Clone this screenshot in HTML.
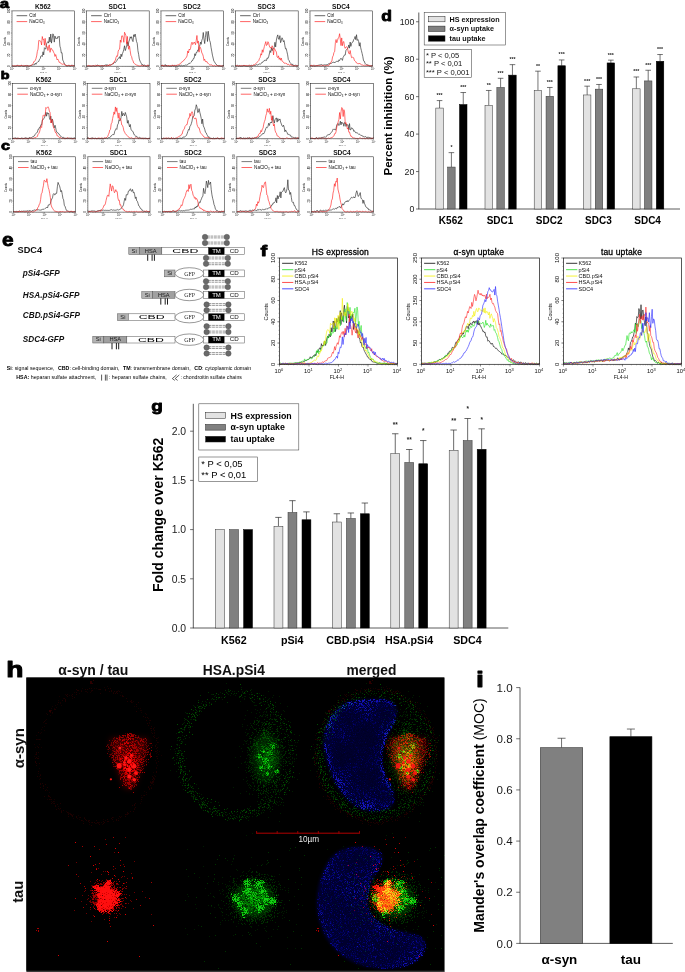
<!DOCTYPE html>
<html lang="en"><head><meta charset="utf-8"><title>Figure</title>
<style>html,body{margin:0;padding:0;background:#fff}svg{display:block;font-family:"Liberation Sans",sans-serif}</style></head><body>
<svg width="685" height="972" viewBox="0 0 685 972">
<rect x="0" y="0" width="685" height="972" fill="#fff"/>
<g id="abc">
<polyline points="12,65.95 12.7,66.04 13.41,66.09 14.11,65.99 14.82,66.08 15.52,66.11 16.23,65.77 16.93,65.95 17.64,65.33 18.34,65.97 19.04,66.18 19.75,65.88 20.45,66 21.16,65.34 21.86,65.6 22.57,65.83 23.27,66.14 23.98,66.07 24.68,65.71 25.39,65.57 26.09,66.05 26.79,65.41 27.5,65.49 28.2,65.97 28.91,65.67 29.61,65.98 30.32,65.59 31.02,65.37 31.73,65.5 32.43,64.95 33.13,65.06 33.84,64.61 34.54,64.77 35.25,63.24 35.95,64.32 36.66,62.78 37.36,62.39 38.07,61.59 38.77,61.44 39.48,59.41 40.18,58.73 40.88,56.02 41.59,55.68 42.29,56.54 43,51.81 43.7,54.97 44.41,47.72 45.11,48.44 45.82,49.14 46.52,43.86 47.22,42.65 47.93,41.59 48.63,43.1 49.34,37.13 50.04,41.96 50.75,34.06 51.45,43.14 52.16,38.88 52.86,33.82 53.57,34.85 54.27,42.13 54.97,36.04 55.68,38.42 56.38,38.12 57.09,38.84 57.79,36.66 58.5,37.14 59.2,36.19 59.91,46.16 60.61,48.46 61.31,53.01 62.02,52.71 62.72,60.04 63.43,61.28 64.13,63.19 64.84,64.24 65.54,64.86 66.25,65.72 66.95,65.95 67.66,65.89 68.36,65.57 69.06,65.71 69.77,65.45 70.47,66.02 71.18,65.89 71.88,64.86 72.59,65.48 73.29,65.46 74,65.61 74.7,66.1" fill="none" stroke="#2a2a2a" stroke-width="0.65" stroke-linejoin="round" /><polyline points="12,66.13 12.7,65.44 13.41,66.05 14.11,65.63 14.82,66.07 15.52,65.85 16.23,65.88 16.93,65.45 17.64,65.72 18.34,65.47 19.04,65.83 19.75,65.73 20.45,65.63 21.16,65.41 21.86,65.42 22.57,66.11 23.27,65.5 23.98,65.9 24.68,65.99 25.39,65.69 26.09,65.45 26.79,66.1 27.5,65.68 28.2,66.1 28.91,65.98 29.61,65.91 30.32,65.59 31.02,65.42 31.73,65 32.43,64.21 33.13,63.59 33.84,61.59 34.54,61.37 35.25,60.41 35.95,58.61 36.66,55.9 37.36,51.37 38.07,49.1 38.77,40.45 39.48,40.65 40.18,40.99 40.88,41.51 41.59,44.98 42.29,36.53 43,39.77 43.7,39.35 44.41,45.28 45.11,38.33 45.82,44.24 46.52,47.01 47.22,46.64 47.93,50.54 48.63,46.22 49.34,44.87 50.04,52.33 50.75,48.22 51.45,48.4 52.16,50.16 52.86,50.25 53.57,52.26 54.27,53.32 54.97,56.44 55.68,54.52 56.38,56.85 57.09,59.88 57.79,59.02 58.5,60.44 59.2,62.4 59.91,62.13 60.61,63.17 61.31,63.9 62.02,63.97 62.72,64.35 63.43,63.96 64.13,63.83 64.84,65.12 65.54,65.26 66.25,65.48 66.95,65.42 67.66,65.58 68.36,65.07 69.06,65.75 69.77,66 70.47,65.64 71.18,65.62 71.88,65.5 72.59,65.68 73.29,65.77 74,66.06 74.7,65.82" fill="none" stroke="#f22" stroke-width="0.65" stroke-linejoin="round" /><rect x="12" y="10.9" width="62.7" height="55.3" fill="none" stroke="#222" stroke-width="0.55"/><line x1="10.8" y1="66.2" x2="12" y2="66.2" stroke="#333" stroke-width="0.35" /><text x="10.3" y="66.2" font-size="2.7" text-anchor="middle" fill="#000" transform="rotate(-90 10.3 66.2)">0</text><line x1="10.8" y1="55.14" x2="12" y2="55.14" stroke="#333" stroke-width="0.35" /><text x="10.3" y="55.14" font-size="2.7" text-anchor="middle" fill="#000" transform="rotate(-90 10.3 55.14)">20</text><line x1="10.8" y1="44.08" x2="12" y2="44.08" stroke="#333" stroke-width="0.35" /><text x="10.3" y="44.08" font-size="2.7" text-anchor="middle" fill="#000" transform="rotate(-90 10.3 44.08)">40</text><line x1="10.8" y1="33.02" x2="12" y2="33.02" stroke="#333" stroke-width="0.35" /><text x="10.3" y="33.02" font-size="2.7" text-anchor="middle" fill="#000" transform="rotate(-90 10.3 33.02)">60</text><line x1="10.8" y1="21.96" x2="12" y2="21.96" stroke="#333" stroke-width="0.35" /><text x="10.3" y="21.96" font-size="2.7" text-anchor="middle" fill="#000" transform="rotate(-90 10.3 21.96)">80</text><line x1="10.8" y1="10.9" x2="12" y2="10.9" stroke="#333" stroke-width="0.35" /><text x="10.3" y="10.9" font-size="2.7" text-anchor="middle" fill="#000" transform="rotate(-90 10.3 10.9)">100</text><line x1="11.4" y1="63.99" x2="12" y2="63.99" stroke="#555" stroke-width="0.25" /><line x1="11.4" y1="61.78" x2="12" y2="61.78" stroke="#555" stroke-width="0.25" /><line x1="11.4" y1="59.56" x2="12" y2="59.56" stroke="#555" stroke-width="0.25" /><line x1="11.4" y1="57.35" x2="12" y2="57.35" stroke="#555" stroke-width="0.25" /><line x1="11.4" y1="55.14" x2="12" y2="55.14" stroke="#555" stroke-width="0.25" /><line x1="11.4" y1="52.93" x2="12" y2="52.93" stroke="#555" stroke-width="0.25" /><line x1="11.4" y1="50.72" x2="12" y2="50.72" stroke="#555" stroke-width="0.25" /><line x1="11.4" y1="48.5" x2="12" y2="48.5" stroke="#555" stroke-width="0.25" /><line x1="11.4" y1="46.29" x2="12" y2="46.29" stroke="#555" stroke-width="0.25" /><line x1="11.4" y1="44.08" x2="12" y2="44.08" stroke="#555" stroke-width="0.25" /><line x1="11.4" y1="41.87" x2="12" y2="41.87" stroke="#555" stroke-width="0.25" /><line x1="11.4" y1="39.66" x2="12" y2="39.66" stroke="#555" stroke-width="0.25" /><line x1="11.4" y1="37.44" x2="12" y2="37.44" stroke="#555" stroke-width="0.25" /><line x1="11.4" y1="35.23" x2="12" y2="35.23" stroke="#555" stroke-width="0.25" /><line x1="11.4" y1="33.02" x2="12" y2="33.02" stroke="#555" stroke-width="0.25" /><line x1="11.4" y1="30.81" x2="12" y2="30.81" stroke="#555" stroke-width="0.25" /><line x1="11.4" y1="28.6" x2="12" y2="28.6" stroke="#555" stroke-width="0.25" /><line x1="11.4" y1="26.38" x2="12" y2="26.38" stroke="#555" stroke-width="0.25" /><line x1="11.4" y1="24.17" x2="12" y2="24.17" stroke="#555" stroke-width="0.25" /><line x1="11.4" y1="21.96" x2="12" y2="21.96" stroke="#555" stroke-width="0.25" /><line x1="11.4" y1="19.75" x2="12" y2="19.75" stroke="#555" stroke-width="0.25" /><line x1="11.4" y1="17.54" x2="12" y2="17.54" stroke="#555" stroke-width="0.25" /><line x1="11.4" y1="15.32" x2="12" y2="15.32" stroke="#555" stroke-width="0.25" /><line x1="11.4" y1="13.11" x2="12" y2="13.11" stroke="#555" stroke-width="0.25" /><line x1="12" y1="66.2" x2="12" y2="67.4" stroke="#333" stroke-width="0.35" /><text x="12" y="70.2" font-size="2.7" text-anchor="middle" fill="#222">10<tspan font-size="1.6" dy="-1">0</tspan></text><line x1="16.72" y1="66.2" x2="16.72" y2="66.8" stroke="#555" stroke-width="0.25" /><line x1="19.48" y1="66.2" x2="19.48" y2="66.8" stroke="#555" stroke-width="0.25" /><line x1="21.44" y1="66.2" x2="21.44" y2="66.8" stroke="#555" stroke-width="0.25" /><line x1="22.96" y1="66.2" x2="22.96" y2="66.8" stroke="#555" stroke-width="0.25" /><line x1="24.2" y1="66.2" x2="24.2" y2="66.8" stroke="#555" stroke-width="0.25" /><line x1="25.25" y1="66.2" x2="25.25" y2="66.8" stroke="#555" stroke-width="0.25" /><line x1="26.16" y1="66.2" x2="26.16" y2="66.8" stroke="#555" stroke-width="0.25" /><line x1="26.96" y1="66.2" x2="26.96" y2="66.8" stroke="#555" stroke-width="0.25" /><line x1="27.68" y1="66.2" x2="27.68" y2="67.4" stroke="#333" stroke-width="0.35" /><text x="27.68" y="70.2" font-size="2.7" text-anchor="middle" fill="#222">10<tspan font-size="1.6" dy="-1">1</tspan></text><line x1="32.39" y1="66.2" x2="32.39" y2="66.8" stroke="#555" stroke-width="0.25" /><line x1="35.15" y1="66.2" x2="35.15" y2="66.8" stroke="#555" stroke-width="0.25" /><line x1="37.11" y1="66.2" x2="37.11" y2="66.8" stroke="#555" stroke-width="0.25" /><line x1="38.63" y1="66.2" x2="38.63" y2="66.8" stroke="#555" stroke-width="0.25" /><line x1="39.87" y1="66.2" x2="39.87" y2="66.8" stroke="#555" stroke-width="0.25" /><line x1="40.92" y1="66.2" x2="40.92" y2="66.8" stroke="#555" stroke-width="0.25" /><line x1="41.83" y1="66.2" x2="41.83" y2="66.8" stroke="#555" stroke-width="0.25" /><line x1="42.63" y1="66.2" x2="42.63" y2="66.8" stroke="#555" stroke-width="0.25" /><line x1="43.35" y1="66.2" x2="43.35" y2="67.4" stroke="#333" stroke-width="0.35" /><text x="43.35" y="70.2" font-size="2.7" text-anchor="middle" fill="#222">10<tspan font-size="1.6" dy="-1">2</tspan></text><line x1="48.07" y1="66.2" x2="48.07" y2="66.8" stroke="#555" stroke-width="0.25" /><line x1="50.83" y1="66.2" x2="50.83" y2="66.8" stroke="#555" stroke-width="0.25" /><line x1="52.79" y1="66.2" x2="52.79" y2="66.8" stroke="#555" stroke-width="0.25" /><line x1="54.31" y1="66.2" x2="54.31" y2="66.8" stroke="#555" stroke-width="0.25" /><line x1="55.55" y1="66.2" x2="55.55" y2="66.8" stroke="#555" stroke-width="0.25" /><line x1="56.6" y1="66.2" x2="56.6" y2="66.8" stroke="#555" stroke-width="0.25" /><line x1="57.51" y1="66.2" x2="57.51" y2="66.8" stroke="#555" stroke-width="0.25" /><line x1="58.31" y1="66.2" x2="58.31" y2="66.8" stroke="#555" stroke-width="0.25" /><line x1="59.03" y1="66.2" x2="59.03" y2="67.4" stroke="#333" stroke-width="0.35" /><text x="59.03" y="70.2" font-size="2.7" text-anchor="middle" fill="#222">10<tspan font-size="1.6" dy="-1">3</tspan></text><line x1="63.74" y1="66.2" x2="63.74" y2="66.8" stroke="#555" stroke-width="0.25" /><line x1="66.5" y1="66.2" x2="66.5" y2="66.8" stroke="#555" stroke-width="0.25" /><line x1="68.46" y1="66.2" x2="68.46" y2="66.8" stroke="#555" stroke-width="0.25" /><line x1="69.98" y1="66.2" x2="69.98" y2="66.8" stroke="#555" stroke-width="0.25" /><line x1="71.22" y1="66.2" x2="71.22" y2="66.8" stroke="#555" stroke-width="0.25" /><line x1="72.27" y1="66.2" x2="72.27" y2="66.8" stroke="#555" stroke-width="0.25" /><line x1="73.18" y1="66.2" x2="73.18" y2="66.8" stroke="#555" stroke-width="0.25" /><line x1="73.98" y1="66.2" x2="73.98" y2="66.8" stroke="#555" stroke-width="0.25" /><line x1="74.7" y1="66.2" x2="74.7" y2="67.4" stroke="#333" stroke-width="0.35" /><text x="74.7" y="70.2" font-size="2.7" text-anchor="middle" fill="#222">10<tspan font-size="1.6" dy="-1">4</tspan></text><text x="43.35" y="73.2" font-size="2.4" text-anchor="middle" fill="#222">FL1-H</text><text x="6" y="41.55" font-size="2.8" text-anchor="middle" fill="#000" transform="rotate(-90 6 41.55)">Counts</text><text x="42.85" y="9" font-size="6.6" font-weight="bold" text-anchor="middle" fill="#111">K562</text><line x1="16.6" y1="15.7" x2="27.2" y2="15.7" stroke="#222" stroke-width="0.7" /><line x1="16.6" y1="21.6" x2="27.2" y2="21.6" stroke="#f22" stroke-width="0.7" /><text x="29.2" y="17.3" font-size="4.6" fill="#111">Ctrl</text><text x="29.2" y="23.2" font-size="4.6" fill="#111">NaClO<tspan font-size="2.8" dy="1">3</tspan></text>
<polyline points="86.5,65.94 87.2,66.14 87.91,66.01 88.61,66.1 89.32,65.81 90.02,65.79 90.73,66.2 91.43,66.12 92.14,66.11 92.84,65.57 93.54,65.67 94.25,66.1 94.95,65.72 95.66,66.17 96.36,65.83 97.07,64.88 97.77,65.4 98.48,65.5 99.18,65.92 99.89,66.08 100.59,65.8 101.29,65.85 102,65.63 102.7,65.56 103.41,65.72 104.11,65.52 104.82,65.54 105.52,64.7 106.23,65.74 106.93,64.52 107.63,65.31 108.34,65.54 109.04,65.49 109.75,64.72 110.45,65.01 111.16,64.5 111.86,64.57 112.57,64.04 113.27,63.94 113.98,62.84 114.68,62.26 115.38,62.59 116.09,61.66 116.79,60.74 117.5,59.09 118.2,58.48 118.91,58.14 119.61,56.67 120.32,58.97 121.02,54.1 121.72,56.61 122.43,53.63 123.13,51.89 123.84,49.21 124.54,45.77 125.25,50.61 125.95,48.58 126.66,45.46 127.36,41.82 128.07,46.12 128.77,41.84 129.47,40.08 130.18,36.77 130.88,38.25 131.59,36.73 132.29,40.27 133,41.62 133.7,34.76 134.41,36.57 135.11,34.02 135.81,37.47 136.52,41.46 137.22,43.31 137.93,50.63 138.63,54.4 139.34,58.99 140.04,61.12 140.75,62.54 141.45,63.66 142.16,65.01 142.86,64.45 143.56,65.86 144.27,64.92 144.97,65.52 145.68,65.71 146.38,66.12 147.09,65.66 147.79,65.69 148.5,65.14 149.2,66.19" fill="none" stroke="#2a2a2a" stroke-width="0.65" stroke-linejoin="round" /><polyline points="86.5,66.19 87.2,66.07 87.91,65.85 88.61,65.33 89.32,66.19 90.02,65.99 90.73,65.85 91.43,65.96 92.14,65.84 92.84,66.19 93.54,65.8 94.25,66.05 94.95,65.64 95.66,65.06 96.36,65.81 97.07,66.18 97.77,65.31 98.48,65.59 99.18,65.39 99.89,65.97 100.59,66.04 101.29,65.66 102,65.48 102.7,66.04 103.41,66.07 104.11,66.11 104.82,65.39 105.52,66.09 106.23,65.78 106.93,65.93 107.63,65.76 108.34,64.88 109.04,65.84 109.75,64.51 110.45,65.35 111.16,64.82 111.86,64.46 112.57,63.61 113.27,63.49 113.98,61.81 114.68,61.5 115.38,60 116.09,57.35 116.79,55.74 117.5,56.35 118.2,51.12 118.91,49.64 119.61,49.09 120.32,40.07 121.02,42.33 121.72,35.92 122.43,35.76 123.13,37.73 123.84,42.32 124.54,32.27 125.25,33.82 125.95,35.71 126.66,43.81 127.36,36.42 128.07,45.84 128.77,49.29 129.47,45.87 130.18,50.79 130.88,55.33 131.59,56.5 132.29,59.63 133,60.79 133.7,62.96 134.41,63.49 135.11,64.34 135.81,64.49 136.52,65.06 137.22,65.24 137.93,65.5 138.63,65.77 139.34,65.98 140.04,66.14 140.75,65.98 141.45,65.2 142.16,66.06 142.86,65.75 143.56,65.9 144.27,65.42 144.97,66.19 145.68,66.12 146.38,65.87 147.09,65.37 147.79,65.02 148.5,66.19 149.2,65.69" fill="none" stroke="#f22" stroke-width="0.65" stroke-linejoin="round" /><rect x="86.5" y="10.9" width="62.7" height="55.3" fill="none" stroke="#222" stroke-width="0.55"/><line x1="85.3" y1="66.2" x2="86.5" y2="66.2" stroke="#333" stroke-width="0.35" /><text x="84.8" y="66.2" font-size="2.7" text-anchor="middle" fill="#000" transform="rotate(-90 84.8 66.2)">0</text><line x1="85.3" y1="55.14" x2="86.5" y2="55.14" stroke="#333" stroke-width="0.35" /><text x="84.8" y="55.14" font-size="2.7" text-anchor="middle" fill="#000" transform="rotate(-90 84.8 55.14)">20</text><line x1="85.3" y1="44.08" x2="86.5" y2="44.08" stroke="#333" stroke-width="0.35" /><text x="84.8" y="44.08" font-size="2.7" text-anchor="middle" fill="#000" transform="rotate(-90 84.8 44.08)">40</text><line x1="85.3" y1="33.02" x2="86.5" y2="33.02" stroke="#333" stroke-width="0.35" /><text x="84.8" y="33.02" font-size="2.7" text-anchor="middle" fill="#000" transform="rotate(-90 84.8 33.02)">60</text><line x1="85.3" y1="21.96" x2="86.5" y2="21.96" stroke="#333" stroke-width="0.35" /><text x="84.8" y="21.96" font-size="2.7" text-anchor="middle" fill="#000" transform="rotate(-90 84.8 21.96)">80</text><line x1="85.3" y1="10.9" x2="86.5" y2="10.9" stroke="#333" stroke-width="0.35" /><text x="84.8" y="10.9" font-size="2.7" text-anchor="middle" fill="#000" transform="rotate(-90 84.8 10.9)">100</text><line x1="85.9" y1="63.99" x2="86.5" y2="63.99" stroke="#555" stroke-width="0.25" /><line x1="85.9" y1="61.78" x2="86.5" y2="61.78" stroke="#555" stroke-width="0.25" /><line x1="85.9" y1="59.56" x2="86.5" y2="59.56" stroke="#555" stroke-width="0.25" /><line x1="85.9" y1="57.35" x2="86.5" y2="57.35" stroke="#555" stroke-width="0.25" /><line x1="85.9" y1="55.14" x2="86.5" y2="55.14" stroke="#555" stroke-width="0.25" /><line x1="85.9" y1="52.93" x2="86.5" y2="52.93" stroke="#555" stroke-width="0.25" /><line x1="85.9" y1="50.72" x2="86.5" y2="50.72" stroke="#555" stroke-width="0.25" /><line x1="85.9" y1="48.5" x2="86.5" y2="48.5" stroke="#555" stroke-width="0.25" /><line x1="85.9" y1="46.29" x2="86.5" y2="46.29" stroke="#555" stroke-width="0.25" /><line x1="85.9" y1="44.08" x2="86.5" y2="44.08" stroke="#555" stroke-width="0.25" /><line x1="85.9" y1="41.87" x2="86.5" y2="41.87" stroke="#555" stroke-width="0.25" /><line x1="85.9" y1="39.66" x2="86.5" y2="39.66" stroke="#555" stroke-width="0.25" /><line x1="85.9" y1="37.44" x2="86.5" y2="37.44" stroke="#555" stroke-width="0.25" /><line x1="85.9" y1="35.23" x2="86.5" y2="35.23" stroke="#555" stroke-width="0.25" /><line x1="85.9" y1="33.02" x2="86.5" y2="33.02" stroke="#555" stroke-width="0.25" /><line x1="85.9" y1="30.81" x2="86.5" y2="30.81" stroke="#555" stroke-width="0.25" /><line x1="85.9" y1="28.6" x2="86.5" y2="28.6" stroke="#555" stroke-width="0.25" /><line x1="85.9" y1="26.38" x2="86.5" y2="26.38" stroke="#555" stroke-width="0.25" /><line x1="85.9" y1="24.17" x2="86.5" y2="24.17" stroke="#555" stroke-width="0.25" /><line x1="85.9" y1="21.96" x2="86.5" y2="21.96" stroke="#555" stroke-width="0.25" /><line x1="85.9" y1="19.75" x2="86.5" y2="19.75" stroke="#555" stroke-width="0.25" /><line x1="85.9" y1="17.54" x2="86.5" y2="17.54" stroke="#555" stroke-width="0.25" /><line x1="85.9" y1="15.32" x2="86.5" y2="15.32" stroke="#555" stroke-width="0.25" /><line x1="85.9" y1="13.11" x2="86.5" y2="13.11" stroke="#555" stroke-width="0.25" /><line x1="86.5" y1="66.2" x2="86.5" y2="67.4" stroke="#333" stroke-width="0.35" /><text x="86.5" y="70.2" font-size="2.7" text-anchor="middle" fill="#222">10<tspan font-size="1.6" dy="-1">0</tspan></text><line x1="91.22" y1="66.2" x2="91.22" y2="66.8" stroke="#555" stroke-width="0.25" /><line x1="93.98" y1="66.2" x2="93.98" y2="66.8" stroke="#555" stroke-width="0.25" /><line x1="95.94" y1="66.2" x2="95.94" y2="66.8" stroke="#555" stroke-width="0.25" /><line x1="97.46" y1="66.2" x2="97.46" y2="66.8" stroke="#555" stroke-width="0.25" /><line x1="98.7" y1="66.2" x2="98.7" y2="66.8" stroke="#555" stroke-width="0.25" /><line x1="99.75" y1="66.2" x2="99.75" y2="66.8" stroke="#555" stroke-width="0.25" /><line x1="100.66" y1="66.2" x2="100.66" y2="66.8" stroke="#555" stroke-width="0.25" /><line x1="101.46" y1="66.2" x2="101.46" y2="66.8" stroke="#555" stroke-width="0.25" /><line x1="102.17" y1="66.2" x2="102.17" y2="67.4" stroke="#333" stroke-width="0.35" /><text x="102.17" y="70.2" font-size="2.7" text-anchor="middle" fill="#222">10<tspan font-size="1.6" dy="-1">1</tspan></text><line x1="106.89" y1="66.2" x2="106.89" y2="66.8" stroke="#555" stroke-width="0.25" /><line x1="109.65" y1="66.2" x2="109.65" y2="66.8" stroke="#555" stroke-width="0.25" /><line x1="111.61" y1="66.2" x2="111.61" y2="66.8" stroke="#555" stroke-width="0.25" /><line x1="113.13" y1="66.2" x2="113.13" y2="66.8" stroke="#555" stroke-width="0.25" /><line x1="114.37" y1="66.2" x2="114.37" y2="66.8" stroke="#555" stroke-width="0.25" /><line x1="115.42" y1="66.2" x2="115.42" y2="66.8" stroke="#555" stroke-width="0.25" /><line x1="116.33" y1="66.2" x2="116.33" y2="66.8" stroke="#555" stroke-width="0.25" /><line x1="117.13" y1="66.2" x2="117.13" y2="66.8" stroke="#555" stroke-width="0.25" /><line x1="117.85" y1="66.2" x2="117.85" y2="67.4" stroke="#333" stroke-width="0.35" /><text x="117.85" y="70.2" font-size="2.7" text-anchor="middle" fill="#222">10<tspan font-size="1.6" dy="-1">2</tspan></text><line x1="122.57" y1="66.2" x2="122.57" y2="66.8" stroke="#555" stroke-width="0.25" /><line x1="125.33" y1="66.2" x2="125.33" y2="66.8" stroke="#555" stroke-width="0.25" /><line x1="127.29" y1="66.2" x2="127.29" y2="66.8" stroke="#555" stroke-width="0.25" /><line x1="128.81" y1="66.2" x2="128.81" y2="66.8" stroke="#555" stroke-width="0.25" /><line x1="130.05" y1="66.2" x2="130.05" y2="66.8" stroke="#555" stroke-width="0.25" /><line x1="131.1" y1="66.2" x2="131.1" y2="66.8" stroke="#555" stroke-width="0.25" /><line x1="132.01" y1="66.2" x2="132.01" y2="66.8" stroke="#555" stroke-width="0.25" /><line x1="132.81" y1="66.2" x2="132.81" y2="66.8" stroke="#555" stroke-width="0.25" /><line x1="133.53" y1="66.2" x2="133.53" y2="67.4" stroke="#333" stroke-width="0.35" /><text x="133.53" y="70.2" font-size="2.7" text-anchor="middle" fill="#222">10<tspan font-size="1.6" dy="-1">3</tspan></text><line x1="138.24" y1="66.2" x2="138.24" y2="66.8" stroke="#555" stroke-width="0.25" /><line x1="141" y1="66.2" x2="141" y2="66.8" stroke="#555" stroke-width="0.25" /><line x1="142.96" y1="66.2" x2="142.96" y2="66.8" stroke="#555" stroke-width="0.25" /><line x1="144.48" y1="66.2" x2="144.48" y2="66.8" stroke="#555" stroke-width="0.25" /><line x1="145.72" y1="66.2" x2="145.72" y2="66.8" stroke="#555" stroke-width="0.25" /><line x1="146.77" y1="66.2" x2="146.77" y2="66.8" stroke="#555" stroke-width="0.25" /><line x1="147.68" y1="66.2" x2="147.68" y2="66.8" stroke="#555" stroke-width="0.25" /><line x1="148.48" y1="66.2" x2="148.48" y2="66.8" stroke="#555" stroke-width="0.25" /><line x1="149.2" y1="66.2" x2="149.2" y2="67.4" stroke="#333" stroke-width="0.35" /><text x="149.2" y="70.2" font-size="2.7" text-anchor="middle" fill="#222">10<tspan font-size="1.6" dy="-1">4</tspan></text><text x="117.85" y="73.2" font-size="2.4" text-anchor="middle" fill="#222">FL1-H</text><text x="80.5" y="41.55" font-size="2.8" text-anchor="middle" fill="#000" transform="rotate(-90 80.5 41.55)">Counts</text><text x="117.35" y="9" font-size="6.6" font-weight="bold" text-anchor="middle" fill="#111">SDC1</text><line x1="91.1" y1="15.7" x2="101.7" y2="15.7" stroke="#222" stroke-width="0.7" /><line x1="91.1" y1="21.6" x2="101.7" y2="21.6" stroke="#f22" stroke-width="0.7" /><text x="103.7" y="17.3" font-size="4.6" fill="#111">Ctrl</text><text x="103.7" y="23.2" font-size="4.6" fill="#111">NaClO<tspan font-size="2.8" dy="1">3</tspan></text>
<polyline points="161,65.15 161.7,65.8 162.41,64.89 163.11,66.07 163.82,66.02 164.52,65.58 165.23,64.49 165.93,66.01 166.64,65.13 167.34,66.07 168.04,65.78 168.75,65.88 169.45,66.17 170.16,65.74 170.86,66.13 171.57,66.12 172.27,65.47 172.98,65.72 173.68,66.03 174.39,65.4 175.09,65.75 175.79,66.12 176.5,65.71 177.2,66.04 177.91,66.14 178.61,65.98 179.32,65.09 180.02,65.81 180.73,65.93 181.43,65.3 182.13,65.69 182.84,65.94 183.54,65.53 184.25,65.79 184.95,65.15 185.66,65.06 186.36,65.2 187.07,65.04 187.77,64.65 188.48,63.65 189.18,63.16 189.88,63.55 190.59,62.75 191.29,62.1 192,60.44 192.7,60.43 193.41,58.46 194.11,58.37 194.82,53.73 195.52,55.56 196.22,52.47 196.93,52.49 197.63,50.15 198.34,50.81 199.04,46.37 199.75,45.89 200.45,42.09 201.16,44.3 201.86,40.1 202.57,38.35 203.27,32.48 203.97,38.87 204.68,43.59 205.38,37.39 206.09,31.58 206.79,32.33 207.5,41.47 208.2,31.16 208.91,36.15 209.61,40.48 210.31,42.29 211.02,47.27 211.72,51.13 212.43,55.12 213.13,58.03 213.84,61.07 214.54,61.84 215.25,63.27 215.95,63.9 216.66,64.96 217.36,65.49 218.06,65.57 218.77,65.7 219.47,65.49 220.18,66.05 220.88,65.79 221.59,66.02 222.29,65.54 223,65.98 223.7,65.05" fill="none" stroke="#2a2a2a" stroke-width="0.65" stroke-linejoin="round" /><polyline points="161,65.61 161.7,65.8 162.41,64.94 163.11,65.95 163.82,65.87 164.52,66.16 165.23,65.77 165.93,65.63 166.64,66.12 167.34,66.13 168.04,65.35 168.75,65.82 169.45,65.75 170.16,65.85 170.86,66.02 171.57,65.77 172.27,64.88 172.98,65.83 173.68,65.51 174.39,65.97 175.09,65.64 175.79,65.34 176.5,65.37 177.2,65.12 177.91,64.89 178.61,64.66 179.32,64.11 180.02,64.41 180.73,63.31 181.43,62.22 182.13,61.74 182.84,61.52 183.54,60.38 184.25,60.17 184.95,58.86 185.66,58.29 186.36,57.32 187.07,55.88 187.77,50.94 188.48,52.93 189.18,49.03 189.88,49.9 190.59,48.31 191.29,43.81 192,42.17 192.7,44.54 193.41,43.55 194.11,42 194.82,42.94 195.52,44.7 196.22,40.5 196.93,35.49 197.63,43.22 198.34,40.95 199.04,52.18 199.75,46.62 200.45,47.47 201.16,49.83 201.86,53.02 202.57,54.04 203.27,56.3 203.97,60.45 204.68,59.21 205.38,61.51 206.09,61.65 206.79,61.45 207.5,62.99 208.2,63.32 208.91,64.2 209.61,64.86 210.31,64.89 211.02,65.27 211.72,64.74 212.43,65.59 213.13,65.64 213.84,66.02 214.54,65.48 215.25,66.04 215.95,66.01 216.66,65.83 217.36,65.09 218.06,65.82 218.77,66.17 219.47,66.14 220.18,65.85 220.88,66.12 221.59,65.94 222.29,66.11 223,66.19 223.7,65.91" fill="none" stroke="#f22" stroke-width="0.65" stroke-linejoin="round" /><rect x="161" y="10.9" width="62.7" height="55.3" fill="none" stroke="#222" stroke-width="0.55"/><line x1="159.8" y1="66.2" x2="161" y2="66.2" stroke="#333" stroke-width="0.35" /><text x="159.3" y="66.2" font-size="2.7" text-anchor="middle" fill="#000" transform="rotate(-90 159.3 66.2)">0</text><line x1="159.8" y1="55.14" x2="161" y2="55.14" stroke="#333" stroke-width="0.35" /><text x="159.3" y="55.14" font-size="2.7" text-anchor="middle" fill="#000" transform="rotate(-90 159.3 55.14)">20</text><line x1="159.8" y1="44.08" x2="161" y2="44.08" stroke="#333" stroke-width="0.35" /><text x="159.3" y="44.08" font-size="2.7" text-anchor="middle" fill="#000" transform="rotate(-90 159.3 44.08)">40</text><line x1="159.8" y1="33.02" x2="161" y2="33.02" stroke="#333" stroke-width="0.35" /><text x="159.3" y="33.02" font-size="2.7" text-anchor="middle" fill="#000" transform="rotate(-90 159.3 33.02)">60</text><line x1="159.8" y1="21.96" x2="161" y2="21.96" stroke="#333" stroke-width="0.35" /><text x="159.3" y="21.96" font-size="2.7" text-anchor="middle" fill="#000" transform="rotate(-90 159.3 21.96)">80</text><line x1="159.8" y1="10.9" x2="161" y2="10.9" stroke="#333" stroke-width="0.35" /><text x="159.3" y="10.9" font-size="2.7" text-anchor="middle" fill="#000" transform="rotate(-90 159.3 10.9)">100</text><line x1="160.4" y1="63.99" x2="161" y2="63.99" stroke="#555" stroke-width="0.25" /><line x1="160.4" y1="61.78" x2="161" y2="61.78" stroke="#555" stroke-width="0.25" /><line x1="160.4" y1="59.56" x2="161" y2="59.56" stroke="#555" stroke-width="0.25" /><line x1="160.4" y1="57.35" x2="161" y2="57.35" stroke="#555" stroke-width="0.25" /><line x1="160.4" y1="55.14" x2="161" y2="55.14" stroke="#555" stroke-width="0.25" /><line x1="160.4" y1="52.93" x2="161" y2="52.93" stroke="#555" stroke-width="0.25" /><line x1="160.4" y1="50.72" x2="161" y2="50.72" stroke="#555" stroke-width="0.25" /><line x1="160.4" y1="48.5" x2="161" y2="48.5" stroke="#555" stroke-width="0.25" /><line x1="160.4" y1="46.29" x2="161" y2="46.29" stroke="#555" stroke-width="0.25" /><line x1="160.4" y1="44.08" x2="161" y2="44.08" stroke="#555" stroke-width="0.25" /><line x1="160.4" y1="41.87" x2="161" y2="41.87" stroke="#555" stroke-width="0.25" /><line x1="160.4" y1="39.66" x2="161" y2="39.66" stroke="#555" stroke-width="0.25" /><line x1="160.4" y1="37.44" x2="161" y2="37.44" stroke="#555" stroke-width="0.25" /><line x1="160.4" y1="35.23" x2="161" y2="35.23" stroke="#555" stroke-width="0.25" /><line x1="160.4" y1="33.02" x2="161" y2="33.02" stroke="#555" stroke-width="0.25" /><line x1="160.4" y1="30.81" x2="161" y2="30.81" stroke="#555" stroke-width="0.25" /><line x1="160.4" y1="28.6" x2="161" y2="28.6" stroke="#555" stroke-width="0.25" /><line x1="160.4" y1="26.38" x2="161" y2="26.38" stroke="#555" stroke-width="0.25" /><line x1="160.4" y1="24.17" x2="161" y2="24.17" stroke="#555" stroke-width="0.25" /><line x1="160.4" y1="21.96" x2="161" y2="21.96" stroke="#555" stroke-width="0.25" /><line x1="160.4" y1="19.75" x2="161" y2="19.75" stroke="#555" stroke-width="0.25" /><line x1="160.4" y1="17.54" x2="161" y2="17.54" stroke="#555" stroke-width="0.25" /><line x1="160.4" y1="15.32" x2="161" y2="15.32" stroke="#555" stroke-width="0.25" /><line x1="160.4" y1="13.11" x2="161" y2="13.11" stroke="#555" stroke-width="0.25" /><line x1="161" y1="66.2" x2="161" y2="67.4" stroke="#333" stroke-width="0.35" /><text x="161" y="70.2" font-size="2.7" text-anchor="middle" fill="#222">10<tspan font-size="1.6" dy="-1">0</tspan></text><line x1="165.72" y1="66.2" x2="165.72" y2="66.8" stroke="#555" stroke-width="0.25" /><line x1="168.48" y1="66.2" x2="168.48" y2="66.8" stroke="#555" stroke-width="0.25" /><line x1="170.44" y1="66.2" x2="170.44" y2="66.8" stroke="#555" stroke-width="0.25" /><line x1="171.96" y1="66.2" x2="171.96" y2="66.8" stroke="#555" stroke-width="0.25" /><line x1="173.2" y1="66.2" x2="173.2" y2="66.8" stroke="#555" stroke-width="0.25" /><line x1="174.25" y1="66.2" x2="174.25" y2="66.8" stroke="#555" stroke-width="0.25" /><line x1="175.16" y1="66.2" x2="175.16" y2="66.8" stroke="#555" stroke-width="0.25" /><line x1="175.96" y1="66.2" x2="175.96" y2="66.8" stroke="#555" stroke-width="0.25" /><line x1="176.68" y1="66.2" x2="176.68" y2="67.4" stroke="#333" stroke-width="0.35" /><text x="176.68" y="70.2" font-size="2.7" text-anchor="middle" fill="#222">10<tspan font-size="1.6" dy="-1">1</tspan></text><line x1="181.39" y1="66.2" x2="181.39" y2="66.8" stroke="#555" stroke-width="0.25" /><line x1="184.15" y1="66.2" x2="184.15" y2="66.8" stroke="#555" stroke-width="0.25" /><line x1="186.11" y1="66.2" x2="186.11" y2="66.8" stroke="#555" stroke-width="0.25" /><line x1="187.63" y1="66.2" x2="187.63" y2="66.8" stroke="#555" stroke-width="0.25" /><line x1="188.87" y1="66.2" x2="188.87" y2="66.8" stroke="#555" stroke-width="0.25" /><line x1="189.92" y1="66.2" x2="189.92" y2="66.8" stroke="#555" stroke-width="0.25" /><line x1="190.83" y1="66.2" x2="190.83" y2="66.8" stroke="#555" stroke-width="0.25" /><line x1="191.63" y1="66.2" x2="191.63" y2="66.8" stroke="#555" stroke-width="0.25" /><line x1="192.35" y1="66.2" x2="192.35" y2="67.4" stroke="#333" stroke-width="0.35" /><text x="192.35" y="70.2" font-size="2.7" text-anchor="middle" fill="#222">10<tspan font-size="1.6" dy="-1">2</tspan></text><line x1="197.07" y1="66.2" x2="197.07" y2="66.8" stroke="#555" stroke-width="0.25" /><line x1="199.83" y1="66.2" x2="199.83" y2="66.8" stroke="#555" stroke-width="0.25" /><line x1="201.79" y1="66.2" x2="201.79" y2="66.8" stroke="#555" stroke-width="0.25" /><line x1="203.31" y1="66.2" x2="203.31" y2="66.8" stroke="#555" stroke-width="0.25" /><line x1="204.55" y1="66.2" x2="204.55" y2="66.8" stroke="#555" stroke-width="0.25" /><line x1="205.6" y1="66.2" x2="205.6" y2="66.8" stroke="#555" stroke-width="0.25" /><line x1="206.51" y1="66.2" x2="206.51" y2="66.8" stroke="#555" stroke-width="0.25" /><line x1="207.31" y1="66.2" x2="207.31" y2="66.8" stroke="#555" stroke-width="0.25" /><line x1="208.03" y1="66.2" x2="208.03" y2="67.4" stroke="#333" stroke-width="0.35" /><text x="208.03" y="70.2" font-size="2.7" text-anchor="middle" fill="#222">10<tspan font-size="1.6" dy="-1">3</tspan></text><line x1="212.74" y1="66.2" x2="212.74" y2="66.8" stroke="#555" stroke-width="0.25" /><line x1="215.5" y1="66.2" x2="215.5" y2="66.8" stroke="#555" stroke-width="0.25" /><line x1="217.46" y1="66.2" x2="217.46" y2="66.8" stroke="#555" stroke-width="0.25" /><line x1="218.98" y1="66.2" x2="218.98" y2="66.8" stroke="#555" stroke-width="0.25" /><line x1="220.22" y1="66.2" x2="220.22" y2="66.8" stroke="#555" stroke-width="0.25" /><line x1="221.27" y1="66.2" x2="221.27" y2="66.8" stroke="#555" stroke-width="0.25" /><line x1="222.18" y1="66.2" x2="222.18" y2="66.8" stroke="#555" stroke-width="0.25" /><line x1="222.98" y1="66.2" x2="222.98" y2="66.8" stroke="#555" stroke-width="0.25" /><line x1="223.7" y1="66.2" x2="223.7" y2="67.4" stroke="#333" stroke-width="0.35" /><text x="223.7" y="70.2" font-size="2.7" text-anchor="middle" fill="#222">10<tspan font-size="1.6" dy="-1">4</tspan></text><text x="192.35" y="73.2" font-size="2.4" text-anchor="middle" fill="#222">FL1-H</text><text x="155" y="41.55" font-size="2.8" text-anchor="middle" fill="#000" transform="rotate(-90 155 41.55)">Counts</text><text x="191.85" y="9" font-size="6.6" font-weight="bold" text-anchor="middle" fill="#111">SDC2</text><line x1="165.6" y1="15.7" x2="176.2" y2="15.7" stroke="#222" stroke-width="0.7" /><line x1="165.6" y1="21.6" x2="176.2" y2="21.6" stroke="#f22" stroke-width="0.7" /><text x="178.2" y="17.3" font-size="4.6" fill="#111">Ctrl</text><text x="178.2" y="23.2" font-size="4.6" fill="#111">NaClO<tspan font-size="2.8" dy="1">3</tspan></text>
<polyline points="235.5,65.55 236.2,66.02 236.91,65.8 237.61,65.32 238.32,65.92 239.02,65.8 239.73,65.57 240.43,65.97 241.14,66.15 241.84,66.02 242.54,65.77 243.25,65.88 243.95,65.12 244.66,66.02 245.36,65.98 246.07,65.87 246.77,66.12 247.48,66.06 248.18,65.51 248.89,66.12 249.59,65.84 250.29,65.72 251,65.73 251.7,65.27 252.41,65.92 253.11,65.39 253.82,65.34 254.52,65.57 255.23,65.57 255.93,64.95 256.63,64.62 257.34,64.94 258.04,65.07 258.75,64.26 259.45,63.94 260.16,64.1 260.86,63.89 261.57,63.23 262.27,61.97 262.98,62.19 263.68,61.42 264.38,60.25 265.09,60.84 265.79,59.81 266.5,60.53 267.2,57.89 267.91,58.53 268.61,56.96 269.32,54.01 270.02,50.64 270.72,52.5 271.43,47.75 272.13,50.75 272.84,48.55 273.54,48.37 274.25,47.22 274.95,42.28 275.66,46.91 276.36,40.03 277.07,36.8 277.77,34.88 278.47,39.01 279.18,39.5 279.88,35.63 280.59,42.67 281.29,40.67 282,37.78 282.7,39.19 283.41,41.76 284.11,40.62 284.81,45.26 285.52,48.92 286.22,48.5 286.93,51.74 287.63,54.81 288.34,59.57 289.04,60.36 289.75,62.22 290.45,62.94 291.16,63.81 291.86,64.72 292.56,63.93 293.27,65.55 293.97,65.89 294.68,65.46 295.38,65.33 296.09,64.95 296.79,65.83 297.5,65.63 298.2,65.74" fill="none" stroke="#2a2a2a" stroke-width="0.65" stroke-linejoin="round" /><polyline points="235.5,65.77 236.2,65.37 236.91,65.86 237.61,65.91 238.32,66.07 239.02,66.13 239.73,65.83 240.43,65.86 241.14,65.49 241.84,65.65 242.54,66.04 243.25,65.48 243.95,65.84 244.66,65.41 245.36,65.5 246.07,65.73 246.77,65.54 247.48,65.79 248.18,65.93 248.89,65.77 249.59,65.23 250.29,65.86 251,65.61 251.7,65.94 252.41,65.58 253.11,65.46 253.82,64.5 254.52,64.73 255.23,64.28 255.93,63.63 256.63,62.59 257.34,62.09 258.04,61.49 258.75,60.7 259.45,58.56 260.16,57.53 260.86,53.71 261.57,55.11 262.27,49.78 262.98,52.34 263.68,49.29 264.38,46.43 265.09,44.06 265.79,41.61 266.5,45.54 267.2,44.89 267.91,41.69 268.61,42.92 269.32,45.99 270.02,47.65 270.72,47.56 271.43,48.29 272.13,45.76 272.84,47.82 273.54,54.94 274.25,48.28 274.95,49.41 275.66,50.8 276.36,51.96 277.07,56.83 277.77,57.69 278.47,55.83 279.18,59.34 279.88,57.79 280.59,60.2 281.29,58.06 282,61.2 282.7,61.45 283.41,61.96 284.11,63.15 284.81,63.32 285.52,63.01 286.22,63.77 286.93,63.64 287.63,64.73 288.34,64.31 289.04,64.58 289.75,65.45 290.45,64.31 291.16,65.2 291.86,64.95 292.56,65.84 293.27,65.9 293.97,65.6 294.68,65.73 295.38,65.83 296.09,65.98 296.79,66.11 297.5,65.79 298.2,65.63" fill="none" stroke="#f22" stroke-width="0.65" stroke-linejoin="round" /><rect x="235.5" y="10.9" width="62.7" height="55.3" fill="none" stroke="#222" stroke-width="0.55"/><line x1="234.3" y1="66.2" x2="235.5" y2="66.2" stroke="#333" stroke-width="0.35" /><text x="233.8" y="66.2" font-size="2.7" text-anchor="middle" fill="#000" transform="rotate(-90 233.8 66.2)">0</text><line x1="234.3" y1="55.14" x2="235.5" y2="55.14" stroke="#333" stroke-width="0.35" /><text x="233.8" y="55.14" font-size="2.7" text-anchor="middle" fill="#000" transform="rotate(-90 233.8 55.14)">20</text><line x1="234.3" y1="44.08" x2="235.5" y2="44.08" stroke="#333" stroke-width="0.35" /><text x="233.8" y="44.08" font-size="2.7" text-anchor="middle" fill="#000" transform="rotate(-90 233.8 44.08)">40</text><line x1="234.3" y1="33.02" x2="235.5" y2="33.02" stroke="#333" stroke-width="0.35" /><text x="233.8" y="33.02" font-size="2.7" text-anchor="middle" fill="#000" transform="rotate(-90 233.8 33.02)">60</text><line x1="234.3" y1="21.96" x2="235.5" y2="21.96" stroke="#333" stroke-width="0.35" /><text x="233.8" y="21.96" font-size="2.7" text-anchor="middle" fill="#000" transform="rotate(-90 233.8 21.96)">80</text><line x1="234.3" y1="10.9" x2="235.5" y2="10.9" stroke="#333" stroke-width="0.35" /><text x="233.8" y="10.9" font-size="2.7" text-anchor="middle" fill="#000" transform="rotate(-90 233.8 10.9)">100</text><line x1="234.9" y1="63.99" x2="235.5" y2="63.99" stroke="#555" stroke-width="0.25" /><line x1="234.9" y1="61.78" x2="235.5" y2="61.78" stroke="#555" stroke-width="0.25" /><line x1="234.9" y1="59.56" x2="235.5" y2="59.56" stroke="#555" stroke-width="0.25" /><line x1="234.9" y1="57.35" x2="235.5" y2="57.35" stroke="#555" stroke-width="0.25" /><line x1="234.9" y1="55.14" x2="235.5" y2="55.14" stroke="#555" stroke-width="0.25" /><line x1="234.9" y1="52.93" x2="235.5" y2="52.93" stroke="#555" stroke-width="0.25" /><line x1="234.9" y1="50.72" x2="235.5" y2="50.72" stroke="#555" stroke-width="0.25" /><line x1="234.9" y1="48.5" x2="235.5" y2="48.5" stroke="#555" stroke-width="0.25" /><line x1="234.9" y1="46.29" x2="235.5" y2="46.29" stroke="#555" stroke-width="0.25" /><line x1="234.9" y1="44.08" x2="235.5" y2="44.08" stroke="#555" stroke-width="0.25" /><line x1="234.9" y1="41.87" x2="235.5" y2="41.87" stroke="#555" stroke-width="0.25" /><line x1="234.9" y1="39.66" x2="235.5" y2="39.66" stroke="#555" stroke-width="0.25" /><line x1="234.9" y1="37.44" x2="235.5" y2="37.44" stroke="#555" stroke-width="0.25" /><line x1="234.9" y1="35.23" x2="235.5" y2="35.23" stroke="#555" stroke-width="0.25" /><line x1="234.9" y1="33.02" x2="235.5" y2="33.02" stroke="#555" stroke-width="0.25" /><line x1="234.9" y1="30.81" x2="235.5" y2="30.81" stroke="#555" stroke-width="0.25" /><line x1="234.9" y1="28.6" x2="235.5" y2="28.6" stroke="#555" stroke-width="0.25" /><line x1="234.9" y1="26.38" x2="235.5" y2="26.38" stroke="#555" stroke-width="0.25" /><line x1="234.9" y1="24.17" x2="235.5" y2="24.17" stroke="#555" stroke-width="0.25" /><line x1="234.9" y1="21.96" x2="235.5" y2="21.96" stroke="#555" stroke-width="0.25" /><line x1="234.9" y1="19.75" x2="235.5" y2="19.75" stroke="#555" stroke-width="0.25" /><line x1="234.9" y1="17.54" x2="235.5" y2="17.54" stroke="#555" stroke-width="0.25" /><line x1="234.9" y1="15.32" x2="235.5" y2="15.32" stroke="#555" stroke-width="0.25" /><line x1="234.9" y1="13.11" x2="235.5" y2="13.11" stroke="#555" stroke-width="0.25" /><line x1="235.5" y1="66.2" x2="235.5" y2="67.4" stroke="#333" stroke-width="0.35" /><text x="235.5" y="70.2" font-size="2.7" text-anchor="middle" fill="#222">10<tspan font-size="1.6" dy="-1">0</tspan></text><line x1="240.22" y1="66.2" x2="240.22" y2="66.8" stroke="#555" stroke-width="0.25" /><line x1="242.98" y1="66.2" x2="242.98" y2="66.8" stroke="#555" stroke-width="0.25" /><line x1="244.94" y1="66.2" x2="244.94" y2="66.8" stroke="#555" stroke-width="0.25" /><line x1="246.46" y1="66.2" x2="246.46" y2="66.8" stroke="#555" stroke-width="0.25" /><line x1="247.7" y1="66.2" x2="247.7" y2="66.8" stroke="#555" stroke-width="0.25" /><line x1="248.75" y1="66.2" x2="248.75" y2="66.8" stroke="#555" stroke-width="0.25" /><line x1="249.66" y1="66.2" x2="249.66" y2="66.8" stroke="#555" stroke-width="0.25" /><line x1="250.46" y1="66.2" x2="250.46" y2="66.8" stroke="#555" stroke-width="0.25" /><line x1="251.18" y1="66.2" x2="251.18" y2="67.4" stroke="#333" stroke-width="0.35" /><text x="251.18" y="70.2" font-size="2.7" text-anchor="middle" fill="#222">10<tspan font-size="1.6" dy="-1">1</tspan></text><line x1="255.89" y1="66.2" x2="255.89" y2="66.8" stroke="#555" stroke-width="0.25" /><line x1="258.65" y1="66.2" x2="258.65" y2="66.8" stroke="#555" stroke-width="0.25" /><line x1="260.61" y1="66.2" x2="260.61" y2="66.8" stroke="#555" stroke-width="0.25" /><line x1="262.13" y1="66.2" x2="262.13" y2="66.8" stroke="#555" stroke-width="0.25" /><line x1="263.37" y1="66.2" x2="263.37" y2="66.8" stroke="#555" stroke-width="0.25" /><line x1="264.42" y1="66.2" x2="264.42" y2="66.8" stroke="#555" stroke-width="0.25" /><line x1="265.33" y1="66.2" x2="265.33" y2="66.8" stroke="#555" stroke-width="0.25" /><line x1="266.13" y1="66.2" x2="266.13" y2="66.8" stroke="#555" stroke-width="0.25" /><line x1="266.85" y1="66.2" x2="266.85" y2="67.4" stroke="#333" stroke-width="0.35" /><text x="266.85" y="70.2" font-size="2.7" text-anchor="middle" fill="#222">10<tspan font-size="1.6" dy="-1">2</tspan></text><line x1="271.57" y1="66.2" x2="271.57" y2="66.8" stroke="#555" stroke-width="0.25" /><line x1="274.33" y1="66.2" x2="274.33" y2="66.8" stroke="#555" stroke-width="0.25" /><line x1="276.29" y1="66.2" x2="276.29" y2="66.8" stroke="#555" stroke-width="0.25" /><line x1="277.81" y1="66.2" x2="277.81" y2="66.8" stroke="#555" stroke-width="0.25" /><line x1="279.05" y1="66.2" x2="279.05" y2="66.8" stroke="#555" stroke-width="0.25" /><line x1="280.1" y1="66.2" x2="280.1" y2="66.8" stroke="#555" stroke-width="0.25" /><line x1="281.01" y1="66.2" x2="281.01" y2="66.8" stroke="#555" stroke-width="0.25" /><line x1="281.81" y1="66.2" x2="281.81" y2="66.8" stroke="#555" stroke-width="0.25" /><line x1="282.52" y1="66.2" x2="282.52" y2="67.4" stroke="#333" stroke-width="0.35" /><text x="282.52" y="70.2" font-size="2.7" text-anchor="middle" fill="#222">10<tspan font-size="1.6" dy="-1">3</tspan></text><line x1="287.24" y1="66.2" x2="287.24" y2="66.8" stroke="#555" stroke-width="0.25" /><line x1="290" y1="66.2" x2="290" y2="66.8" stroke="#555" stroke-width="0.25" /><line x1="291.96" y1="66.2" x2="291.96" y2="66.8" stroke="#555" stroke-width="0.25" /><line x1="293.48" y1="66.2" x2="293.48" y2="66.8" stroke="#555" stroke-width="0.25" /><line x1="294.72" y1="66.2" x2="294.72" y2="66.8" stroke="#555" stroke-width="0.25" /><line x1="295.77" y1="66.2" x2="295.77" y2="66.8" stroke="#555" stroke-width="0.25" /><line x1="296.68" y1="66.2" x2="296.68" y2="66.8" stroke="#555" stroke-width="0.25" /><line x1="297.48" y1="66.2" x2="297.48" y2="66.8" stroke="#555" stroke-width="0.25" /><line x1="298.2" y1="66.2" x2="298.2" y2="67.4" stroke="#333" stroke-width="0.35" /><text x="298.2" y="70.2" font-size="2.7" text-anchor="middle" fill="#222">10<tspan font-size="1.6" dy="-1">4</tspan></text><text x="266.85" y="73.2" font-size="2.4" text-anchor="middle" fill="#222">FL1-H</text><text x="229.5" y="41.55" font-size="2.8" text-anchor="middle" fill="#000" transform="rotate(-90 229.5 41.55)">Counts</text><text x="266.35" y="9" font-size="6.6" font-weight="bold" text-anchor="middle" fill="#111">SDC3</text><line x1="240.1" y1="15.7" x2="250.7" y2="15.7" stroke="#222" stroke-width="0.7" /><line x1="240.1" y1="21.6" x2="250.7" y2="21.6" stroke="#f22" stroke-width="0.7" /><text x="252.7" y="17.3" font-size="4.6" fill="#111">Ctrl</text><text x="252.7" y="23.2" font-size="4.6" fill="#111">NaClO<tspan font-size="2.8" dy="1">3</tspan></text>
<polyline points="310,65.86 310.7,65.76 311.41,65.71 312.11,65.79 312.82,65.61 313.52,65.35 314.23,66.01 314.93,65.91 315.64,65.71 316.34,65.8 317.04,65.07 317.75,65.67 318.45,65.27 319.16,64.81 319.86,65.24 320.57,64.78 321.27,64.58 321.98,64.68 322.68,65.36 323.39,65.07 324.09,65.08 324.79,64.71 325.5,64.9 326.2,64.75 326.91,64.76 327.61,64.57 328.32,63.75 329.02,64.26 329.73,63.34 330.43,63.56 331.13,63.35 331.84,63.11 332.54,62.51 333.25,62.25 333.95,62.05 334.66,62.95 335.36,62.04 336.07,61.41 336.77,61.39 337.48,61.36 338.18,61.9 338.88,59.87 339.59,60.64 340.29,58.93 341,58.17 341.7,59.12 342.41,60.39 343.11,57.25 343.82,56.13 344.52,54.94 345.22,55.04 345.93,50.21 346.63,49.65 347.34,48.83 348.04,47.88 348.75,44.95 349.45,48.15 350.16,42.06 350.86,46.38 351.57,43.51 352.27,42.33 352.97,42 353.68,39.58 354.38,38.71 355.09,36.44 355.79,39.68 356.5,34.71 357.2,40.41 357.91,39.53 358.61,41.46 359.31,46.14 360.02,42.63 360.72,47.89 361.43,50.68 362.13,53.54 362.84,56.66 363.54,60.78 364.25,61.08 364.95,63.16 365.66,64 366.36,64.8 367.06,65.21 367.77,64.7 368.47,65.32 369.18,65.96 369.88,65.75 370.59,65.83 371.29,65.9 372,65.23 372.7,65.98" fill="none" stroke="#2a2a2a" stroke-width="0.65" stroke-linejoin="round" /><polyline points="310,65.63 310.7,65.92 311.41,64.92 312.11,66.13 312.82,66.13 313.52,66.02 314.23,65.45 314.93,65.35 315.64,66.19 316.34,65.72 317.04,65.92 317.75,65.5 318.45,65.66 319.16,65.82 319.86,65.62 320.57,65.9 321.27,66.03 321.98,65.7 322.68,65.31 323.39,65.61 324.09,66.06 324.79,65.94 325.5,65.74 326.2,65.64 326.91,65.5 327.61,65.64 328.32,65.81 329.02,65.32 329.73,63.94 330.43,63.46 331.13,61.65 331.84,61.32 332.54,56.92 333.25,55.71 333.95,52.32 334.66,51.66 335.36,42.61 336.07,39.51 336.77,42.79 337.48,40.7 338.18,37.94 338.88,37.33 339.59,33.69 340.29,38.99 341,45.61 341.7,37.92 342.41,45.69 343.11,41.95 343.82,41.55 344.52,46.76 345.22,48.33 345.93,47.02 346.63,46.76 347.34,47.45 348.04,50.77 348.75,53.5 349.45,54.01 350.16,50.51 350.86,54.61 351.57,57.66 352.27,57.32 352.97,57.26 353.68,57.81 354.38,60.45 355.09,60.89 355.79,61.73 356.5,63.01 357.2,63.63 357.91,63.32 358.61,63.86 359.31,63 360.02,63.96 360.72,64.15 361.43,64.72 362.13,65.25 362.84,64.85 363.54,65.44 364.25,65.24 364.95,65.09 365.66,65.74 366.36,65.17 367.06,64.89 367.77,65.93 368.47,64.9 369.18,65.73 369.88,65.68 370.59,65.87 371.29,65.9 372,66.13 372.7,65.9" fill="none" stroke="#f22" stroke-width="0.65" stroke-linejoin="round" /><rect x="310" y="10.9" width="62.7" height="55.3" fill="none" stroke="#222" stroke-width="0.55"/><line x1="308.8" y1="66.2" x2="310" y2="66.2" stroke="#333" stroke-width="0.35" /><text x="308.3" y="66.2" font-size="2.7" text-anchor="middle" fill="#000" transform="rotate(-90 308.3 66.2)">0</text><line x1="308.8" y1="55.14" x2="310" y2="55.14" stroke="#333" stroke-width="0.35" /><text x="308.3" y="55.14" font-size="2.7" text-anchor="middle" fill="#000" transform="rotate(-90 308.3 55.14)">20</text><line x1="308.8" y1="44.08" x2="310" y2="44.08" stroke="#333" stroke-width="0.35" /><text x="308.3" y="44.08" font-size="2.7" text-anchor="middle" fill="#000" transform="rotate(-90 308.3 44.08)">40</text><line x1="308.8" y1="33.02" x2="310" y2="33.02" stroke="#333" stroke-width="0.35" /><text x="308.3" y="33.02" font-size="2.7" text-anchor="middle" fill="#000" transform="rotate(-90 308.3 33.02)">60</text><line x1="308.8" y1="21.96" x2="310" y2="21.96" stroke="#333" stroke-width="0.35" /><text x="308.3" y="21.96" font-size="2.7" text-anchor="middle" fill="#000" transform="rotate(-90 308.3 21.96)">80</text><line x1="308.8" y1="10.9" x2="310" y2="10.9" stroke="#333" stroke-width="0.35" /><text x="308.3" y="10.9" font-size="2.7" text-anchor="middle" fill="#000" transform="rotate(-90 308.3 10.9)">100</text><line x1="309.4" y1="63.99" x2="310" y2="63.99" stroke="#555" stroke-width="0.25" /><line x1="309.4" y1="61.78" x2="310" y2="61.78" stroke="#555" stroke-width="0.25" /><line x1="309.4" y1="59.56" x2="310" y2="59.56" stroke="#555" stroke-width="0.25" /><line x1="309.4" y1="57.35" x2="310" y2="57.35" stroke="#555" stroke-width="0.25" /><line x1="309.4" y1="55.14" x2="310" y2="55.14" stroke="#555" stroke-width="0.25" /><line x1="309.4" y1="52.93" x2="310" y2="52.93" stroke="#555" stroke-width="0.25" /><line x1="309.4" y1="50.72" x2="310" y2="50.72" stroke="#555" stroke-width="0.25" /><line x1="309.4" y1="48.5" x2="310" y2="48.5" stroke="#555" stroke-width="0.25" /><line x1="309.4" y1="46.29" x2="310" y2="46.29" stroke="#555" stroke-width="0.25" /><line x1="309.4" y1="44.08" x2="310" y2="44.08" stroke="#555" stroke-width="0.25" /><line x1="309.4" y1="41.87" x2="310" y2="41.87" stroke="#555" stroke-width="0.25" /><line x1="309.4" y1="39.66" x2="310" y2="39.66" stroke="#555" stroke-width="0.25" /><line x1="309.4" y1="37.44" x2="310" y2="37.44" stroke="#555" stroke-width="0.25" /><line x1="309.4" y1="35.23" x2="310" y2="35.23" stroke="#555" stroke-width="0.25" /><line x1="309.4" y1="33.02" x2="310" y2="33.02" stroke="#555" stroke-width="0.25" /><line x1="309.4" y1="30.81" x2="310" y2="30.81" stroke="#555" stroke-width="0.25" /><line x1="309.4" y1="28.6" x2="310" y2="28.6" stroke="#555" stroke-width="0.25" /><line x1="309.4" y1="26.38" x2="310" y2="26.38" stroke="#555" stroke-width="0.25" /><line x1="309.4" y1="24.17" x2="310" y2="24.17" stroke="#555" stroke-width="0.25" /><line x1="309.4" y1="21.96" x2="310" y2="21.96" stroke="#555" stroke-width="0.25" /><line x1="309.4" y1="19.75" x2="310" y2="19.75" stroke="#555" stroke-width="0.25" /><line x1="309.4" y1="17.54" x2="310" y2="17.54" stroke="#555" stroke-width="0.25" /><line x1="309.4" y1="15.32" x2="310" y2="15.32" stroke="#555" stroke-width="0.25" /><line x1="309.4" y1="13.11" x2="310" y2="13.11" stroke="#555" stroke-width="0.25" /><line x1="310" y1="66.2" x2="310" y2="67.4" stroke="#333" stroke-width="0.35" /><text x="310" y="70.2" font-size="2.7" text-anchor="middle" fill="#222">10<tspan font-size="1.6" dy="-1">0</tspan></text><line x1="314.72" y1="66.2" x2="314.72" y2="66.8" stroke="#555" stroke-width="0.25" /><line x1="317.48" y1="66.2" x2="317.48" y2="66.8" stroke="#555" stroke-width="0.25" /><line x1="319.44" y1="66.2" x2="319.44" y2="66.8" stroke="#555" stroke-width="0.25" /><line x1="320.96" y1="66.2" x2="320.96" y2="66.8" stroke="#555" stroke-width="0.25" /><line x1="322.2" y1="66.2" x2="322.2" y2="66.8" stroke="#555" stroke-width="0.25" /><line x1="323.25" y1="66.2" x2="323.25" y2="66.8" stroke="#555" stroke-width="0.25" /><line x1="324.16" y1="66.2" x2="324.16" y2="66.8" stroke="#555" stroke-width="0.25" /><line x1="324.96" y1="66.2" x2="324.96" y2="66.8" stroke="#555" stroke-width="0.25" /><line x1="325.68" y1="66.2" x2="325.68" y2="67.4" stroke="#333" stroke-width="0.35" /><text x="325.68" y="70.2" font-size="2.7" text-anchor="middle" fill="#222">10<tspan font-size="1.6" dy="-1">1</tspan></text><line x1="330.39" y1="66.2" x2="330.39" y2="66.8" stroke="#555" stroke-width="0.25" /><line x1="333.15" y1="66.2" x2="333.15" y2="66.8" stroke="#555" stroke-width="0.25" /><line x1="335.11" y1="66.2" x2="335.11" y2="66.8" stroke="#555" stroke-width="0.25" /><line x1="336.63" y1="66.2" x2="336.63" y2="66.8" stroke="#555" stroke-width="0.25" /><line x1="337.87" y1="66.2" x2="337.87" y2="66.8" stroke="#555" stroke-width="0.25" /><line x1="338.92" y1="66.2" x2="338.92" y2="66.8" stroke="#555" stroke-width="0.25" /><line x1="339.83" y1="66.2" x2="339.83" y2="66.8" stroke="#555" stroke-width="0.25" /><line x1="340.63" y1="66.2" x2="340.63" y2="66.8" stroke="#555" stroke-width="0.25" /><line x1="341.35" y1="66.2" x2="341.35" y2="67.4" stroke="#333" stroke-width="0.35" /><text x="341.35" y="70.2" font-size="2.7" text-anchor="middle" fill="#222">10<tspan font-size="1.6" dy="-1">2</tspan></text><line x1="346.07" y1="66.2" x2="346.07" y2="66.8" stroke="#555" stroke-width="0.25" /><line x1="348.83" y1="66.2" x2="348.83" y2="66.8" stroke="#555" stroke-width="0.25" /><line x1="350.79" y1="66.2" x2="350.79" y2="66.8" stroke="#555" stroke-width="0.25" /><line x1="352.31" y1="66.2" x2="352.31" y2="66.8" stroke="#555" stroke-width="0.25" /><line x1="353.55" y1="66.2" x2="353.55" y2="66.8" stroke="#555" stroke-width="0.25" /><line x1="354.6" y1="66.2" x2="354.6" y2="66.8" stroke="#555" stroke-width="0.25" /><line x1="355.51" y1="66.2" x2="355.51" y2="66.8" stroke="#555" stroke-width="0.25" /><line x1="356.31" y1="66.2" x2="356.31" y2="66.8" stroke="#555" stroke-width="0.25" /><line x1="357.02" y1="66.2" x2="357.02" y2="67.4" stroke="#333" stroke-width="0.35" /><text x="357.02" y="70.2" font-size="2.7" text-anchor="middle" fill="#222">10<tspan font-size="1.6" dy="-1">3</tspan></text><line x1="361.74" y1="66.2" x2="361.74" y2="66.8" stroke="#555" stroke-width="0.25" /><line x1="364.5" y1="66.2" x2="364.5" y2="66.8" stroke="#555" stroke-width="0.25" /><line x1="366.46" y1="66.2" x2="366.46" y2="66.8" stroke="#555" stroke-width="0.25" /><line x1="367.98" y1="66.2" x2="367.98" y2="66.8" stroke="#555" stroke-width="0.25" /><line x1="369.22" y1="66.2" x2="369.22" y2="66.8" stroke="#555" stroke-width="0.25" /><line x1="370.27" y1="66.2" x2="370.27" y2="66.8" stroke="#555" stroke-width="0.25" /><line x1="371.18" y1="66.2" x2="371.18" y2="66.8" stroke="#555" stroke-width="0.25" /><line x1="371.98" y1="66.2" x2="371.98" y2="66.8" stroke="#555" stroke-width="0.25" /><line x1="372.7" y1="66.2" x2="372.7" y2="67.4" stroke="#333" stroke-width="0.35" /><text x="372.7" y="70.2" font-size="2.7" text-anchor="middle" fill="#222">10<tspan font-size="1.6" dy="-1">4</tspan></text><text x="341.35" y="73.2" font-size="2.4" text-anchor="middle" fill="#222">FL1-H</text><text x="304" y="41.55" font-size="2.8" text-anchor="middle" fill="#000" transform="rotate(-90 304 41.55)">Counts</text><text x="340.85" y="9" font-size="6.6" font-weight="bold" text-anchor="middle" fill="#111">SDC4</text><line x1="314.6" y1="15.7" x2="325.2" y2="15.7" stroke="#222" stroke-width="0.7" /><line x1="314.6" y1="21.6" x2="325.2" y2="21.6" stroke="#f22" stroke-width="0.7" /><text x="327.2" y="17.3" font-size="4.6" fill="#111">Ctrl</text><text x="327.2" y="23.2" font-size="4.6" fill="#111">NaClO<tspan font-size="2.8" dy="1">3</tspan></text>
<polyline points="12.7,138.73 13.41,138.48 14.11,138.54 14.82,137.66 15.52,138.03 16.23,138.38 16.93,138.14 17.64,138.21 18.34,138.67 19.05,138.29 19.76,138.6 20.46,138.63 21.17,138.18 21.87,138 22.58,138.28 23.28,138.45 23.99,138.39 24.7,138.26 25.4,137.77 26.11,137.79 26.81,138.29 27.52,138.34 28.22,138.53 28.93,138.14 29.63,137.3 30.34,138 31.05,137.66 31.75,137.55 32.46,136.96 33.16,136.86 33.87,135.87 34.57,135.72 35.28,134.21 35.99,133.41 36.69,132.54 37.4,132.28 38.1,129.26 38.81,129.23 39.51,127.31 40.22,127.35 40.92,124.63 41.63,124.94 42.34,120.04 43.04,119.81 43.75,118.66 44.45,117.74 45.16,115.51 45.86,112.32 46.57,116.19 47.28,112.59 47.98,113.94 48.69,113.31 49.39,117.73 50.1,119.7 50.8,116.14 51.51,122.68 52.21,118.95 52.92,120.95 53.63,125.37 54.33,127.77 55.04,125.25 55.74,128.1 56.45,131.99 57.15,132.26 57.86,132.7 58.57,133.92 59.27,134.18 59.98,135.63 60.68,136.2 61.39,136.59 62.09,137.29 62.8,137.52 63.5,137.3 64.21,138.09 64.92,138.4 65.62,138.23 66.33,138.43 67.03,138.13 67.74,138.16 68.44,138.42 69.15,137.7 69.86,138.43 70.56,138.26 71.27,138.07 71.97,138.34 72.68,138.34 73.38,138.24 74.09,137.76 74.79,137.91 75.5,138.6" fill="none" stroke="#2a2a2a" stroke-width="0.65" stroke-linejoin="round" /><polyline points="12.7,138.5 13.41,138.28 14.11,138.45 14.82,138.76 15.52,138.56 16.23,138.76 16.93,138.64 17.64,138.53 18.34,137.84 19.05,138.71 19.76,138.5 20.46,138.44 21.17,138.5 21.87,138.54 22.58,138.73 23.28,138.68 23.99,138.12 24.7,138.34 25.4,138.64 26.11,138.25 26.81,138.74 27.52,138.61 28.22,138.31 28.93,138.43 29.63,138.46 30.34,138.2 31.05,138.46 31.75,137.99 32.46,138.56 33.16,138.27 33.87,138.17 34.57,137.72 35.28,137.7 35.99,137.49 36.69,136.71 37.4,136.44 38.1,134.13 38.81,133.43 39.51,132 40.22,129.16 40.92,126.58 41.63,127.48 42.34,121.17 43.04,115.65 43.75,114.88 44.45,116.01 45.16,115.7 45.86,107.48 46.57,108.34 47.28,107.57 47.98,106.76 48.69,108.09 49.39,111.16 50.1,112.44 50.8,122.97 51.51,120.67 52.21,119.51 52.92,125.14 53.63,128.04 54.33,128.77 55.04,131.58 55.74,133.02 56.45,133.12 57.15,135.91 57.86,135.92 58.57,136.43 59.27,137.58 59.98,137.73 60.68,137.43 61.39,138.35 62.09,138.15 62.8,138.65 63.5,138.5 64.21,138.33 64.92,138.36 65.62,138.72 66.33,138.34 67.03,138.27 67.74,137.82 68.44,138.26 69.15,138.52 69.86,138.43 70.56,138.34 71.27,138.67 71.97,138.54 72.68,138.79 73.38,138.63 74.09,138.42 74.79,138.67 75.5,138.78" fill="none" stroke="#f22" stroke-width="0.65" stroke-linejoin="round" /><rect x="12.7" y="83.5" width="62.8" height="55.3" fill="none" stroke="#222" stroke-width="0.55"/><line x1="11.5" y1="138.8" x2="12.7" y2="138.8" stroke="#333" stroke-width="0.35" /><text x="11" y="138.8" font-size="2.7" text-anchor="middle" fill="#000" transform="rotate(-90 11 138.8)">0</text><line x1="11.5" y1="127.74" x2="12.7" y2="127.74" stroke="#333" stroke-width="0.35" /><text x="11" y="127.74" font-size="2.7" text-anchor="middle" fill="#000" transform="rotate(-90 11 127.74)">20</text><line x1="11.5" y1="116.68" x2="12.7" y2="116.68" stroke="#333" stroke-width="0.35" /><text x="11" y="116.68" font-size="2.7" text-anchor="middle" fill="#000" transform="rotate(-90 11 116.68)">40</text><line x1="11.5" y1="105.62" x2="12.7" y2="105.62" stroke="#333" stroke-width="0.35" /><text x="11" y="105.62" font-size="2.7" text-anchor="middle" fill="#000" transform="rotate(-90 11 105.62)">60</text><line x1="11.5" y1="94.56" x2="12.7" y2="94.56" stroke="#333" stroke-width="0.35" /><text x="11" y="94.56" font-size="2.7" text-anchor="middle" fill="#000" transform="rotate(-90 11 94.56)">80</text><line x1="11.5" y1="83.5" x2="12.7" y2="83.5" stroke="#333" stroke-width="0.35" /><text x="11" y="83.5" font-size="2.7" text-anchor="middle" fill="#000" transform="rotate(-90 11 83.5)">100</text><line x1="12.1" y1="136.59" x2="12.7" y2="136.59" stroke="#555" stroke-width="0.25" /><line x1="12.1" y1="134.38" x2="12.7" y2="134.38" stroke="#555" stroke-width="0.25" /><line x1="12.1" y1="132.16" x2="12.7" y2="132.16" stroke="#555" stroke-width="0.25" /><line x1="12.1" y1="129.95" x2="12.7" y2="129.95" stroke="#555" stroke-width="0.25" /><line x1="12.1" y1="127.74" x2="12.7" y2="127.74" stroke="#555" stroke-width="0.25" /><line x1="12.1" y1="125.53" x2="12.7" y2="125.53" stroke="#555" stroke-width="0.25" /><line x1="12.1" y1="123.32" x2="12.7" y2="123.32" stroke="#555" stroke-width="0.25" /><line x1="12.1" y1="121.1" x2="12.7" y2="121.1" stroke="#555" stroke-width="0.25" /><line x1="12.1" y1="118.89" x2="12.7" y2="118.89" stroke="#555" stroke-width="0.25" /><line x1="12.1" y1="116.68" x2="12.7" y2="116.68" stroke="#555" stroke-width="0.25" /><line x1="12.1" y1="114.47" x2="12.7" y2="114.47" stroke="#555" stroke-width="0.25" /><line x1="12.1" y1="112.26" x2="12.7" y2="112.26" stroke="#555" stroke-width="0.25" /><line x1="12.1" y1="110.04" x2="12.7" y2="110.04" stroke="#555" stroke-width="0.25" /><line x1="12.1" y1="107.83" x2="12.7" y2="107.83" stroke="#555" stroke-width="0.25" /><line x1="12.1" y1="105.62" x2="12.7" y2="105.62" stroke="#555" stroke-width="0.25" /><line x1="12.1" y1="103.41" x2="12.7" y2="103.41" stroke="#555" stroke-width="0.25" /><line x1="12.1" y1="101.2" x2="12.7" y2="101.2" stroke="#555" stroke-width="0.25" /><line x1="12.1" y1="98.98" x2="12.7" y2="98.98" stroke="#555" stroke-width="0.25" /><line x1="12.1" y1="96.77" x2="12.7" y2="96.77" stroke="#555" stroke-width="0.25" /><line x1="12.1" y1="94.56" x2="12.7" y2="94.56" stroke="#555" stroke-width="0.25" /><line x1="12.1" y1="92.35" x2="12.7" y2="92.35" stroke="#555" stroke-width="0.25" /><line x1="12.1" y1="90.14" x2="12.7" y2="90.14" stroke="#555" stroke-width="0.25" /><line x1="12.1" y1="87.92" x2="12.7" y2="87.92" stroke="#555" stroke-width="0.25" /><line x1="12.1" y1="85.71" x2="12.7" y2="85.71" stroke="#555" stroke-width="0.25" /><line x1="12.7" y1="138.8" x2="12.7" y2="140" stroke="#333" stroke-width="0.35" /><text x="12.7" y="142.8" font-size="2.7" text-anchor="middle" fill="#222">10<tspan font-size="1.6" dy="-1">0</tspan></text><line x1="17.43" y1="138.8" x2="17.43" y2="139.4" stroke="#555" stroke-width="0.25" /><line x1="20.19" y1="138.8" x2="20.19" y2="139.4" stroke="#555" stroke-width="0.25" /><line x1="22.15" y1="138.8" x2="22.15" y2="139.4" stroke="#555" stroke-width="0.25" /><line x1="23.67" y1="138.8" x2="23.67" y2="139.4" stroke="#555" stroke-width="0.25" /><line x1="24.92" y1="138.8" x2="24.92" y2="139.4" stroke="#555" stroke-width="0.25" /><line x1="25.97" y1="138.8" x2="25.97" y2="139.4" stroke="#555" stroke-width="0.25" /><line x1="26.88" y1="138.8" x2="26.88" y2="139.4" stroke="#555" stroke-width="0.25" /><line x1="27.68" y1="138.8" x2="27.68" y2="139.4" stroke="#555" stroke-width="0.25" /><line x1="28.4" y1="138.8" x2="28.4" y2="140" stroke="#333" stroke-width="0.35" /><text x="28.4" y="142.8" font-size="2.7" text-anchor="middle" fill="#222">10<tspan font-size="1.6" dy="-1">1</tspan></text><line x1="33.13" y1="138.8" x2="33.13" y2="139.4" stroke="#555" stroke-width="0.25" /><line x1="35.89" y1="138.8" x2="35.89" y2="139.4" stroke="#555" stroke-width="0.25" /><line x1="37.85" y1="138.8" x2="37.85" y2="139.4" stroke="#555" stroke-width="0.25" /><line x1="39.37" y1="138.8" x2="39.37" y2="139.4" stroke="#555" stroke-width="0.25" /><line x1="40.62" y1="138.8" x2="40.62" y2="139.4" stroke="#555" stroke-width="0.25" /><line x1="41.67" y1="138.8" x2="41.67" y2="139.4" stroke="#555" stroke-width="0.25" /><line x1="42.58" y1="138.8" x2="42.58" y2="139.4" stroke="#555" stroke-width="0.25" /><line x1="43.38" y1="138.8" x2="43.38" y2="139.4" stroke="#555" stroke-width="0.25" /><line x1="44.1" y1="138.8" x2="44.1" y2="140" stroke="#333" stroke-width="0.35" /><text x="44.1" y="142.8" font-size="2.7" text-anchor="middle" fill="#222">10<tspan font-size="1.6" dy="-1">2</tspan></text><line x1="48.83" y1="138.8" x2="48.83" y2="139.4" stroke="#555" stroke-width="0.25" /><line x1="51.59" y1="138.8" x2="51.59" y2="139.4" stroke="#555" stroke-width="0.25" /><line x1="53.55" y1="138.8" x2="53.55" y2="139.4" stroke="#555" stroke-width="0.25" /><line x1="55.07" y1="138.8" x2="55.07" y2="139.4" stroke="#555" stroke-width="0.25" /><line x1="56.32" y1="138.8" x2="56.32" y2="139.4" stroke="#555" stroke-width="0.25" /><line x1="57.37" y1="138.8" x2="57.37" y2="139.4" stroke="#555" stroke-width="0.25" /><line x1="58.28" y1="138.8" x2="58.28" y2="139.4" stroke="#555" stroke-width="0.25" /><line x1="59.08" y1="138.8" x2="59.08" y2="139.4" stroke="#555" stroke-width="0.25" /><line x1="59.8" y1="138.8" x2="59.8" y2="140" stroke="#333" stroke-width="0.35" /><text x="59.8" y="142.8" font-size="2.7" text-anchor="middle" fill="#222">10<tspan font-size="1.6" dy="-1">3</tspan></text><line x1="64.53" y1="138.8" x2="64.53" y2="139.4" stroke="#555" stroke-width="0.25" /><line x1="67.29" y1="138.8" x2="67.29" y2="139.4" stroke="#555" stroke-width="0.25" /><line x1="69.25" y1="138.8" x2="69.25" y2="139.4" stroke="#555" stroke-width="0.25" /><line x1="70.77" y1="138.8" x2="70.77" y2="139.4" stroke="#555" stroke-width="0.25" /><line x1="72.02" y1="138.8" x2="72.02" y2="139.4" stroke="#555" stroke-width="0.25" /><line x1="73.07" y1="138.8" x2="73.07" y2="139.4" stroke="#555" stroke-width="0.25" /><line x1="73.98" y1="138.8" x2="73.98" y2="139.4" stroke="#555" stroke-width="0.25" /><line x1="74.78" y1="138.8" x2="74.78" y2="139.4" stroke="#555" stroke-width="0.25" /><line x1="75.5" y1="138.8" x2="75.5" y2="140" stroke="#333" stroke-width="0.35" /><text x="75.5" y="142.8" font-size="2.7" text-anchor="middle" fill="#222">10<tspan font-size="1.6" dy="-1">4</tspan></text><text x="44.1" y="145.8" font-size="2.4" text-anchor="middle" fill="#222">FL4-H</text><text x="6.7" y="114.15" font-size="2.8" text-anchor="middle" fill="#000" transform="rotate(-90 6.7 114.15)">Counts</text><text x="43.6" y="81.6" font-size="6.6" font-weight="bold" text-anchor="middle" fill="#111">K562</text><line x1="17.3" y1="88.3" x2="27.9" y2="88.3" stroke="#444" stroke-width="0.7" /><line x1="17.3" y1="94.2" x2="27.9" y2="94.2" stroke="#f22" stroke-width="0.7" /><text x="29.9" y="89.9" font-size="4.6" fill="#111">α-syn</text><text x="29.9" y="95.8" font-size="4.6" fill="#111">NaClO<tspan font-size="2.8" dy="1">3</tspan><tspan dy="-1"> + α-syn</tspan></text>
<polyline points="87.2,138.33 87.91,137.43 88.61,138.46 89.32,138.46 90.02,138.76 90.73,138.51 91.43,138.31 92.14,137.54 92.84,138.69 93.55,138.34 94.26,138.09 94.96,138.79 95.67,138.25 96.37,138.51 97.08,138.79 97.78,138.08 98.49,138.46 99.2,138.57 99.9,138.6 100.61,138.56 101.31,138.61 102.02,138.66 102.72,138.19 103.43,138.73 104.13,138.3 104.84,138.25 105.55,138.3 106.25,137.91 106.96,138.29 107.66,138.25 108.37,137.66 109.07,137.52 109.78,137.52 110.49,137.02 111.19,135.76 111.9,135.28 112.6,134.63 113.31,134.56 114.01,134.72 114.72,131.24 115.42,130.1 116.13,128.65 116.84,129.39 117.54,124.81 118.25,123.83 118.95,119.74 119.66,120.73 120.36,120.48 121.07,117.52 121.78,111.39 122.48,115.93 123.19,113.3 123.89,114.3 124.6,115.78 125.3,112.44 126.01,114.55 126.71,116.95 127.42,123.21 128.13,120.38 128.83,124.09 129.54,126.89 130.24,124.42 130.95,129.19 131.65,130.39 132.36,131.24 133.07,131.6 133.77,133.96 134.48,134.98 135.18,135.48 135.89,136.78 136.59,136.25 137.3,137.19 138,137.76 138.71,138 139.42,137.39 140.12,137.82 140.83,138.13 141.53,138.21 142.24,138.52 142.94,138.4 143.65,138.19 144.36,138.28 145.06,138.31 145.77,138.12 146.47,138.5 147.18,138.66 147.88,138.4 148.59,138.42 149.29,138.44 150,138.42" fill="none" stroke="#2a2a2a" stroke-width="0.65" stroke-linejoin="round" /><polyline points="87.2,138.57 87.91,138.07 88.61,138.02 89.32,138.76 90.02,138.52 90.73,138.34 91.43,138.7 92.14,138.56 92.84,138.25 93.55,138.43 94.26,138.5 94.96,138.78 95.67,138.06 96.37,138.66 97.08,138.26 97.78,138.69 98.49,138.23 99.2,137.73 99.9,138.59 100.61,138.33 101.31,137.86 102.02,138.57 102.72,138.59 103.43,138.4 104.13,137.73 104.84,138.17 105.55,137.99 106.25,137.82 106.96,137.22 107.66,136.4 108.37,134.67 109.07,133.03 109.78,129.98 110.49,129.4 111.19,123.82 111.9,122.89 112.6,118.62 113.31,115.53 114.01,111.91 114.72,114.29 115.42,106.91 116.13,111.46 116.84,107.79 117.54,114.3 118.25,118.32 118.95,112.93 119.66,119.66 120.36,118.58 121.07,120.74 121.78,125 122.48,125.45 123.19,127.37 123.89,130.92 124.6,132.06 125.3,133.57 126.01,134.62 126.71,135.02 127.42,135.68 128.13,136.73 128.83,137.05 129.54,137.85 130.24,138.17 130.95,137.96 131.65,137.73 132.36,138.31 133.07,138.4 133.77,138.55 134.48,138.39 135.18,138.11 135.89,137.84 136.59,138.03 137.3,138.08 138,138.51 138.71,138.41 139.42,138.34 140.12,138.11 140.83,138.66 141.53,138.51 142.24,138.1 142.94,138.13 143.65,138.78 144.36,138.45 145.06,138.7 145.77,138.52 146.47,138.34 147.18,138.72 147.88,138.68 148.59,138.76 149.29,137.98 150,138.29" fill="none" stroke="#f22" stroke-width="0.65" stroke-linejoin="round" /><rect x="87.2" y="83.5" width="62.8" height="55.3" fill="none" stroke="#222" stroke-width="0.55"/><line x1="86" y1="138.8" x2="87.2" y2="138.8" stroke="#333" stroke-width="0.35" /><text x="85.5" y="138.8" font-size="2.7" text-anchor="middle" fill="#000" transform="rotate(-90 85.5 138.8)">0</text><line x1="86" y1="127.74" x2="87.2" y2="127.74" stroke="#333" stroke-width="0.35" /><text x="85.5" y="127.74" font-size="2.7" text-anchor="middle" fill="#000" transform="rotate(-90 85.5 127.74)">20</text><line x1="86" y1="116.68" x2="87.2" y2="116.68" stroke="#333" stroke-width="0.35" /><text x="85.5" y="116.68" font-size="2.7" text-anchor="middle" fill="#000" transform="rotate(-90 85.5 116.68)">40</text><line x1="86" y1="105.62" x2="87.2" y2="105.62" stroke="#333" stroke-width="0.35" /><text x="85.5" y="105.62" font-size="2.7" text-anchor="middle" fill="#000" transform="rotate(-90 85.5 105.62)">60</text><line x1="86" y1="94.56" x2="87.2" y2="94.56" stroke="#333" stroke-width="0.35" /><text x="85.5" y="94.56" font-size="2.7" text-anchor="middle" fill="#000" transform="rotate(-90 85.5 94.56)">80</text><line x1="86" y1="83.5" x2="87.2" y2="83.5" stroke="#333" stroke-width="0.35" /><text x="85.5" y="83.5" font-size="2.7" text-anchor="middle" fill="#000" transform="rotate(-90 85.5 83.5)">100</text><line x1="86.6" y1="136.59" x2="87.2" y2="136.59" stroke="#555" stroke-width="0.25" /><line x1="86.6" y1="134.38" x2="87.2" y2="134.38" stroke="#555" stroke-width="0.25" /><line x1="86.6" y1="132.16" x2="87.2" y2="132.16" stroke="#555" stroke-width="0.25" /><line x1="86.6" y1="129.95" x2="87.2" y2="129.95" stroke="#555" stroke-width="0.25" /><line x1="86.6" y1="127.74" x2="87.2" y2="127.74" stroke="#555" stroke-width="0.25" /><line x1="86.6" y1="125.53" x2="87.2" y2="125.53" stroke="#555" stroke-width="0.25" /><line x1="86.6" y1="123.32" x2="87.2" y2="123.32" stroke="#555" stroke-width="0.25" /><line x1="86.6" y1="121.1" x2="87.2" y2="121.1" stroke="#555" stroke-width="0.25" /><line x1="86.6" y1="118.89" x2="87.2" y2="118.89" stroke="#555" stroke-width="0.25" /><line x1="86.6" y1="116.68" x2="87.2" y2="116.68" stroke="#555" stroke-width="0.25" /><line x1="86.6" y1="114.47" x2="87.2" y2="114.47" stroke="#555" stroke-width="0.25" /><line x1="86.6" y1="112.26" x2="87.2" y2="112.26" stroke="#555" stroke-width="0.25" /><line x1="86.6" y1="110.04" x2="87.2" y2="110.04" stroke="#555" stroke-width="0.25" /><line x1="86.6" y1="107.83" x2="87.2" y2="107.83" stroke="#555" stroke-width="0.25" /><line x1="86.6" y1="105.62" x2="87.2" y2="105.62" stroke="#555" stroke-width="0.25" /><line x1="86.6" y1="103.41" x2="87.2" y2="103.41" stroke="#555" stroke-width="0.25" /><line x1="86.6" y1="101.2" x2="87.2" y2="101.2" stroke="#555" stroke-width="0.25" /><line x1="86.6" y1="98.98" x2="87.2" y2="98.98" stroke="#555" stroke-width="0.25" /><line x1="86.6" y1="96.77" x2="87.2" y2="96.77" stroke="#555" stroke-width="0.25" /><line x1="86.6" y1="94.56" x2="87.2" y2="94.56" stroke="#555" stroke-width="0.25" /><line x1="86.6" y1="92.35" x2="87.2" y2="92.35" stroke="#555" stroke-width="0.25" /><line x1="86.6" y1="90.14" x2="87.2" y2="90.14" stroke="#555" stroke-width="0.25" /><line x1="86.6" y1="87.92" x2="87.2" y2="87.92" stroke="#555" stroke-width="0.25" /><line x1="86.6" y1="85.71" x2="87.2" y2="85.71" stroke="#555" stroke-width="0.25" /><line x1="87.2" y1="138.8" x2="87.2" y2="140" stroke="#333" stroke-width="0.35" /><text x="87.2" y="142.8" font-size="2.7" text-anchor="middle" fill="#222">10<tspan font-size="1.6" dy="-1">0</tspan></text><line x1="91.93" y1="138.8" x2="91.93" y2="139.4" stroke="#555" stroke-width="0.25" /><line x1="94.69" y1="138.8" x2="94.69" y2="139.4" stroke="#555" stroke-width="0.25" /><line x1="96.65" y1="138.8" x2="96.65" y2="139.4" stroke="#555" stroke-width="0.25" /><line x1="98.17" y1="138.8" x2="98.17" y2="139.4" stroke="#555" stroke-width="0.25" /><line x1="99.42" y1="138.8" x2="99.42" y2="139.4" stroke="#555" stroke-width="0.25" /><line x1="100.47" y1="138.8" x2="100.47" y2="139.4" stroke="#555" stroke-width="0.25" /><line x1="101.38" y1="138.8" x2="101.38" y2="139.4" stroke="#555" stroke-width="0.25" /><line x1="102.18" y1="138.8" x2="102.18" y2="139.4" stroke="#555" stroke-width="0.25" /><line x1="102.9" y1="138.8" x2="102.9" y2="140" stroke="#333" stroke-width="0.35" /><text x="102.9" y="142.8" font-size="2.7" text-anchor="middle" fill="#222">10<tspan font-size="1.6" dy="-1">1</tspan></text><line x1="107.63" y1="138.8" x2="107.63" y2="139.4" stroke="#555" stroke-width="0.25" /><line x1="110.39" y1="138.8" x2="110.39" y2="139.4" stroke="#555" stroke-width="0.25" /><line x1="112.35" y1="138.8" x2="112.35" y2="139.4" stroke="#555" stroke-width="0.25" /><line x1="113.87" y1="138.8" x2="113.87" y2="139.4" stroke="#555" stroke-width="0.25" /><line x1="115.12" y1="138.8" x2="115.12" y2="139.4" stroke="#555" stroke-width="0.25" /><line x1="116.17" y1="138.8" x2="116.17" y2="139.4" stroke="#555" stroke-width="0.25" /><line x1="117.08" y1="138.8" x2="117.08" y2="139.4" stroke="#555" stroke-width="0.25" /><line x1="117.88" y1="138.8" x2="117.88" y2="139.4" stroke="#555" stroke-width="0.25" /><line x1="118.6" y1="138.8" x2="118.6" y2="140" stroke="#333" stroke-width="0.35" /><text x="118.6" y="142.8" font-size="2.7" text-anchor="middle" fill="#222">10<tspan font-size="1.6" dy="-1">2</tspan></text><line x1="123.33" y1="138.8" x2="123.33" y2="139.4" stroke="#555" stroke-width="0.25" /><line x1="126.09" y1="138.8" x2="126.09" y2="139.4" stroke="#555" stroke-width="0.25" /><line x1="128.05" y1="138.8" x2="128.05" y2="139.4" stroke="#555" stroke-width="0.25" /><line x1="129.57" y1="138.8" x2="129.57" y2="139.4" stroke="#555" stroke-width="0.25" /><line x1="130.82" y1="138.8" x2="130.82" y2="139.4" stroke="#555" stroke-width="0.25" /><line x1="131.87" y1="138.8" x2="131.87" y2="139.4" stroke="#555" stroke-width="0.25" /><line x1="132.78" y1="138.8" x2="132.78" y2="139.4" stroke="#555" stroke-width="0.25" /><line x1="133.58" y1="138.8" x2="133.58" y2="139.4" stroke="#555" stroke-width="0.25" /><line x1="134.3" y1="138.8" x2="134.3" y2="140" stroke="#333" stroke-width="0.35" /><text x="134.3" y="142.8" font-size="2.7" text-anchor="middle" fill="#222">10<tspan font-size="1.6" dy="-1">3</tspan></text><line x1="139.03" y1="138.8" x2="139.03" y2="139.4" stroke="#555" stroke-width="0.25" /><line x1="141.79" y1="138.8" x2="141.79" y2="139.4" stroke="#555" stroke-width="0.25" /><line x1="143.75" y1="138.8" x2="143.75" y2="139.4" stroke="#555" stroke-width="0.25" /><line x1="145.27" y1="138.8" x2="145.27" y2="139.4" stroke="#555" stroke-width="0.25" /><line x1="146.52" y1="138.8" x2="146.52" y2="139.4" stroke="#555" stroke-width="0.25" /><line x1="147.57" y1="138.8" x2="147.57" y2="139.4" stroke="#555" stroke-width="0.25" /><line x1="148.48" y1="138.8" x2="148.48" y2="139.4" stroke="#555" stroke-width="0.25" /><line x1="149.28" y1="138.8" x2="149.28" y2="139.4" stroke="#555" stroke-width="0.25" /><line x1="150" y1="138.8" x2="150" y2="140" stroke="#333" stroke-width="0.35" /><text x="150" y="142.8" font-size="2.7" text-anchor="middle" fill="#222">10<tspan font-size="1.6" dy="-1">4</tspan></text><text x="118.6" y="145.8" font-size="2.4" text-anchor="middle" fill="#222">FL4-H</text><text x="81.2" y="114.15" font-size="2.8" text-anchor="middle" fill="#000" transform="rotate(-90 81.2 114.15)">Counts</text><text x="118.1" y="81.6" font-size="6.6" font-weight="bold" text-anchor="middle" fill="#111">SDC1</text><line x1="91.8" y1="88.3" x2="102.4" y2="88.3" stroke="#444" stroke-width="0.7" /><line x1="91.8" y1="94.2" x2="102.4" y2="94.2" stroke="#f22" stroke-width="0.7" /><text x="104.4" y="89.9" font-size="4.6" fill="#111">α-syn</text><text x="104.4" y="95.8" font-size="4.6" fill="#111">NaClO<tspan font-size="2.8" dy="1">3</tspan><tspan dy="-1"> + α-syn</tspan></text>
<polyline points="161.7,138.08 162.41,138.75 163.11,138.35 163.82,138 164.52,138.63 165.23,138.28 165.93,138.62 166.64,138.6 167.34,138.31 168.05,138.6 168.76,137.79 169.46,138.64 170.17,138.64 170.87,138.19 171.58,138.18 172.28,138.63 172.99,138.46 173.7,137.94 174.4,138.74 175.11,138.3 175.81,138.41 176.52,138.31 177.22,138.46 177.93,138.55 178.63,138.5 179.34,138.25 180.05,137.91 180.75,138.28 181.46,138.33 182.16,138.23 182.87,137.26 183.57,137.07 184.28,137.12 184.99,136.59 185.69,136.19 186.4,135.49 187.1,133.76 187.81,131.6 188.51,129.46 189.22,130.07 189.92,126.15 190.63,125.57 191.34,123.61 192.04,121.08 192.75,116.39 193.45,116.53 194.16,115.73 194.86,110.04 195.57,108.91 196.28,104.74 196.98,106.85 197.69,112.52 198.39,112.16 199.1,108.63 199.8,112.25 200.51,114.99 201.21,118.29 201.92,123.79 202.63,119.01 203.33,125.94 204.04,127.27 204.74,129.26 205.45,132.26 206.15,132.69 206.86,134.55 207.57,135.73 208.27,137 208.98,137.1 209.68,137.27 210.39,138.28 211.09,138.27 211.8,138.65 212.5,138.56 213.21,137.89 213.92,138.32 214.62,138.74 215.33,138.38 216.03,138.3 216.74,138.59 217.44,137.77 218.15,138.72 218.86,138.39 219.56,138.67 220.27,138.5 220.97,138.78 221.68,138.71 222.38,138.43 223.09,138.72 223.79,138.45 224.5,138.22" fill="none" stroke="#2a2a2a" stroke-width="0.65" stroke-linejoin="round" /><polyline points="161.7,138.16 162.41,138.58 163.11,138.79 163.82,138.48 164.52,138.18 165.23,138.28 165.93,138.49 166.64,137.83 167.34,138.51 168.05,138 168.76,138.2 169.46,138.44 170.17,138.63 170.87,138.61 171.58,137.44 172.28,138.69 172.99,138.34 173.7,138.45 174.4,138.5 175.11,138.38 175.81,138.24 176.52,138.02 177.22,137.58 177.93,137.05 178.63,136.92 179.34,136.14 180.05,135.78 180.75,135.7 181.46,134.3 182.16,134.07 182.87,130.98 183.57,129.78 184.28,128.99 184.99,126.52 185.69,125.63 186.4,124.63 187.1,124.68 187.81,120.98 188.51,118.16 189.22,118.17 189.92,113.4 190.63,116.16 191.34,113.21 192.04,111.65 192.75,113.48 193.45,117.45 194.16,118.32 194.86,119.08 195.57,117.82 196.28,119.03 196.98,124.4 197.69,126.5 198.39,127.79 199.1,127.76 199.8,130.65 200.51,132.83 201.21,133.64 201.92,134.42 202.63,135.48 203.33,135.86 204.04,137.16 204.74,137.48 205.45,137.69 206.15,137.77 206.86,137.55 207.57,138.06 208.27,137.23 208.98,138.56 209.68,138.56 210.39,138.69 211.09,138.66 211.8,138.31 212.5,138.76 213.21,138.58 213.92,138.75 214.62,138.58 215.33,138.69 216.03,138.62 216.74,138.55 217.44,137.68 218.15,138.7 218.86,138.43 219.56,138.74 220.27,138.45 220.97,138.28 221.68,137.84 222.38,138.29 223.09,138.51 223.79,138.22 224.5,138.56" fill="none" stroke="#f22" stroke-width="0.65" stroke-linejoin="round" /><rect x="161.7" y="83.5" width="62.8" height="55.3" fill="none" stroke="#222" stroke-width="0.55"/><line x1="160.5" y1="138.8" x2="161.7" y2="138.8" stroke="#333" stroke-width="0.35" /><text x="160" y="138.8" font-size="2.7" text-anchor="middle" fill="#000" transform="rotate(-90 160 138.8)">0</text><line x1="160.5" y1="127.74" x2="161.7" y2="127.74" stroke="#333" stroke-width="0.35" /><text x="160" y="127.74" font-size="2.7" text-anchor="middle" fill="#000" transform="rotate(-90 160 127.74)">20</text><line x1="160.5" y1="116.68" x2="161.7" y2="116.68" stroke="#333" stroke-width="0.35" /><text x="160" y="116.68" font-size="2.7" text-anchor="middle" fill="#000" transform="rotate(-90 160 116.68)">40</text><line x1="160.5" y1="105.62" x2="161.7" y2="105.62" stroke="#333" stroke-width="0.35" /><text x="160" y="105.62" font-size="2.7" text-anchor="middle" fill="#000" transform="rotate(-90 160 105.62)">60</text><line x1="160.5" y1="94.56" x2="161.7" y2="94.56" stroke="#333" stroke-width="0.35" /><text x="160" y="94.56" font-size="2.7" text-anchor="middle" fill="#000" transform="rotate(-90 160 94.56)">80</text><line x1="160.5" y1="83.5" x2="161.7" y2="83.5" stroke="#333" stroke-width="0.35" /><text x="160" y="83.5" font-size="2.7" text-anchor="middle" fill="#000" transform="rotate(-90 160 83.5)">100</text><line x1="161.1" y1="136.59" x2="161.7" y2="136.59" stroke="#555" stroke-width="0.25" /><line x1="161.1" y1="134.38" x2="161.7" y2="134.38" stroke="#555" stroke-width="0.25" /><line x1="161.1" y1="132.16" x2="161.7" y2="132.16" stroke="#555" stroke-width="0.25" /><line x1="161.1" y1="129.95" x2="161.7" y2="129.95" stroke="#555" stroke-width="0.25" /><line x1="161.1" y1="127.74" x2="161.7" y2="127.74" stroke="#555" stroke-width="0.25" /><line x1="161.1" y1="125.53" x2="161.7" y2="125.53" stroke="#555" stroke-width="0.25" /><line x1="161.1" y1="123.32" x2="161.7" y2="123.32" stroke="#555" stroke-width="0.25" /><line x1="161.1" y1="121.1" x2="161.7" y2="121.1" stroke="#555" stroke-width="0.25" /><line x1="161.1" y1="118.89" x2="161.7" y2="118.89" stroke="#555" stroke-width="0.25" /><line x1="161.1" y1="116.68" x2="161.7" y2="116.68" stroke="#555" stroke-width="0.25" /><line x1="161.1" y1="114.47" x2="161.7" y2="114.47" stroke="#555" stroke-width="0.25" /><line x1="161.1" y1="112.26" x2="161.7" y2="112.26" stroke="#555" stroke-width="0.25" /><line x1="161.1" y1="110.04" x2="161.7" y2="110.04" stroke="#555" stroke-width="0.25" /><line x1="161.1" y1="107.83" x2="161.7" y2="107.83" stroke="#555" stroke-width="0.25" /><line x1="161.1" y1="105.62" x2="161.7" y2="105.62" stroke="#555" stroke-width="0.25" /><line x1="161.1" y1="103.41" x2="161.7" y2="103.41" stroke="#555" stroke-width="0.25" /><line x1="161.1" y1="101.2" x2="161.7" y2="101.2" stroke="#555" stroke-width="0.25" /><line x1="161.1" y1="98.98" x2="161.7" y2="98.98" stroke="#555" stroke-width="0.25" /><line x1="161.1" y1="96.77" x2="161.7" y2="96.77" stroke="#555" stroke-width="0.25" /><line x1="161.1" y1="94.56" x2="161.7" y2="94.56" stroke="#555" stroke-width="0.25" /><line x1="161.1" y1="92.35" x2="161.7" y2="92.35" stroke="#555" stroke-width="0.25" /><line x1="161.1" y1="90.14" x2="161.7" y2="90.14" stroke="#555" stroke-width="0.25" /><line x1="161.1" y1="87.92" x2="161.7" y2="87.92" stroke="#555" stroke-width="0.25" /><line x1="161.1" y1="85.71" x2="161.7" y2="85.71" stroke="#555" stroke-width="0.25" /><line x1="161.7" y1="138.8" x2="161.7" y2="140" stroke="#333" stroke-width="0.35" /><text x="161.7" y="142.8" font-size="2.7" text-anchor="middle" fill="#222">10<tspan font-size="1.6" dy="-1">0</tspan></text><line x1="166.43" y1="138.8" x2="166.43" y2="139.4" stroke="#555" stroke-width="0.25" /><line x1="169.19" y1="138.8" x2="169.19" y2="139.4" stroke="#555" stroke-width="0.25" /><line x1="171.15" y1="138.8" x2="171.15" y2="139.4" stroke="#555" stroke-width="0.25" /><line x1="172.67" y1="138.8" x2="172.67" y2="139.4" stroke="#555" stroke-width="0.25" /><line x1="173.92" y1="138.8" x2="173.92" y2="139.4" stroke="#555" stroke-width="0.25" /><line x1="174.97" y1="138.8" x2="174.97" y2="139.4" stroke="#555" stroke-width="0.25" /><line x1="175.88" y1="138.8" x2="175.88" y2="139.4" stroke="#555" stroke-width="0.25" /><line x1="176.68" y1="138.8" x2="176.68" y2="139.4" stroke="#555" stroke-width="0.25" /><line x1="177.4" y1="138.8" x2="177.4" y2="140" stroke="#333" stroke-width="0.35" /><text x="177.4" y="142.8" font-size="2.7" text-anchor="middle" fill="#222">10<tspan font-size="1.6" dy="-1">1</tspan></text><line x1="182.13" y1="138.8" x2="182.13" y2="139.4" stroke="#555" stroke-width="0.25" /><line x1="184.89" y1="138.8" x2="184.89" y2="139.4" stroke="#555" stroke-width="0.25" /><line x1="186.85" y1="138.8" x2="186.85" y2="139.4" stroke="#555" stroke-width="0.25" /><line x1="188.37" y1="138.8" x2="188.37" y2="139.4" stroke="#555" stroke-width="0.25" /><line x1="189.62" y1="138.8" x2="189.62" y2="139.4" stroke="#555" stroke-width="0.25" /><line x1="190.67" y1="138.8" x2="190.67" y2="139.4" stroke="#555" stroke-width="0.25" /><line x1="191.58" y1="138.8" x2="191.58" y2="139.4" stroke="#555" stroke-width="0.25" /><line x1="192.38" y1="138.8" x2="192.38" y2="139.4" stroke="#555" stroke-width="0.25" /><line x1="193.1" y1="138.8" x2="193.1" y2="140" stroke="#333" stroke-width="0.35" /><text x="193.1" y="142.8" font-size="2.7" text-anchor="middle" fill="#222">10<tspan font-size="1.6" dy="-1">2</tspan></text><line x1="197.83" y1="138.8" x2="197.83" y2="139.4" stroke="#555" stroke-width="0.25" /><line x1="200.59" y1="138.8" x2="200.59" y2="139.4" stroke="#555" stroke-width="0.25" /><line x1="202.55" y1="138.8" x2="202.55" y2="139.4" stroke="#555" stroke-width="0.25" /><line x1="204.07" y1="138.8" x2="204.07" y2="139.4" stroke="#555" stroke-width="0.25" /><line x1="205.32" y1="138.8" x2="205.32" y2="139.4" stroke="#555" stroke-width="0.25" /><line x1="206.37" y1="138.8" x2="206.37" y2="139.4" stroke="#555" stroke-width="0.25" /><line x1="207.28" y1="138.8" x2="207.28" y2="139.4" stroke="#555" stroke-width="0.25" /><line x1="208.08" y1="138.8" x2="208.08" y2="139.4" stroke="#555" stroke-width="0.25" /><line x1="208.8" y1="138.8" x2="208.8" y2="140" stroke="#333" stroke-width="0.35" /><text x="208.8" y="142.8" font-size="2.7" text-anchor="middle" fill="#222">10<tspan font-size="1.6" dy="-1">3</tspan></text><line x1="213.53" y1="138.8" x2="213.53" y2="139.4" stroke="#555" stroke-width="0.25" /><line x1="216.29" y1="138.8" x2="216.29" y2="139.4" stroke="#555" stroke-width="0.25" /><line x1="218.25" y1="138.8" x2="218.25" y2="139.4" stroke="#555" stroke-width="0.25" /><line x1="219.77" y1="138.8" x2="219.77" y2="139.4" stroke="#555" stroke-width="0.25" /><line x1="221.02" y1="138.8" x2="221.02" y2="139.4" stroke="#555" stroke-width="0.25" /><line x1="222.07" y1="138.8" x2="222.07" y2="139.4" stroke="#555" stroke-width="0.25" /><line x1="222.98" y1="138.8" x2="222.98" y2="139.4" stroke="#555" stroke-width="0.25" /><line x1="223.78" y1="138.8" x2="223.78" y2="139.4" stroke="#555" stroke-width="0.25" /><line x1="224.5" y1="138.8" x2="224.5" y2="140" stroke="#333" stroke-width="0.35" /><text x="224.5" y="142.8" font-size="2.7" text-anchor="middle" fill="#222">10<tspan font-size="1.6" dy="-1">4</tspan></text><text x="193.1" y="145.8" font-size="2.4" text-anchor="middle" fill="#222">FL4-H</text><text x="155.7" y="114.15" font-size="2.8" text-anchor="middle" fill="#000" transform="rotate(-90 155.7 114.15)">Counts</text><text x="192.6" y="81.6" font-size="6.6" font-weight="bold" text-anchor="middle" fill="#111">SDC2</text><line x1="166.3" y1="88.3" x2="176.9" y2="88.3" stroke="#444" stroke-width="0.7" /><line x1="166.3" y1="94.2" x2="176.9" y2="94.2" stroke="#f22" stroke-width="0.7" /><text x="178.9" y="89.9" font-size="4.6" fill="#111">α-syn</text><text x="178.9" y="95.8" font-size="4.6" fill="#111">NaClO<tspan font-size="2.8" dy="1">3</tspan><tspan dy="-1"> + α-syn</tspan></text>
<polyline points="236.2,138.2 236.91,138.56 237.61,138.43 238.32,138.27 239.02,138.47 239.73,138.09 240.43,137.27 241.14,138.17 241.84,137.97 242.55,138.51 243.26,137.87 243.96,138.36 244.67,138.7 245.37,138.16 246.08,138.48 246.78,138.3 247.49,137.79 248.2,138.13 248.9,138.54 249.61,137.55 250.31,138.66 251.02,137.87 251.72,138.65 252.43,138.03 253.13,138.49 253.84,138.42 254.55,137.65 255.25,137.48 255.96,138.32 256.66,137.32 257.37,137.91 258.07,137.88 258.78,137.49 259.49,136.41 260.19,136.04 260.9,135.64 261.6,135.06 262.31,134.08 263.01,133.11 263.72,133.75 264.42,132.56 265.13,130.5 265.84,128.46 266.54,127.17 267.25,127.66 267.95,126.43 268.66,123.24 269.36,125.53 270.07,122.87 270.78,122.05 271.48,123.02 272.19,120.7 272.89,115.63 273.6,119.78 274.3,123.16 275.01,119.36 275.71,118.88 276.42,117.83 277.13,122.13 277.83,118.5 278.54,120.77 279.24,120.11 279.95,118.95 280.65,122.13 281.36,123.99 282.07,125.8 282.77,126.62 283.48,125.14 284.18,127.22 284.89,131.78 285.59,129.95 286.3,131.33 287,132.41 287.71,134.32 288.42,134.17 289.12,134.98 289.83,134.89 290.53,135.17 291.24,136.93 291.94,137.21 292.65,137.1 293.36,137.25 294.06,137.94 294.77,137.73 295.47,137.37 296.18,138.27 296.88,137.5 297.59,138.44 298.29,138.01 299,138.42" fill="none" stroke="#2a2a2a" stroke-width="0.65" stroke-linejoin="round" /><polyline points="236.2,138.49 236.91,138.52 237.61,138.23 238.32,138.74 239.02,137.77 239.73,138.29 240.43,138.68 241.14,138.52 241.84,138.37 242.55,138.75 243.26,138.47 243.96,138.74 244.67,138.18 245.37,138.69 246.08,138.41 246.78,138.47 247.49,138.61 248.2,138.05 248.9,138.29 249.61,138.12 250.31,138.66 251.02,138.59 251.72,138.32 252.43,138.3 253.13,138.17 253.84,138.11 254.55,138.17 255.25,137.87 255.96,137.43 256.66,137.3 257.37,136.4 258.07,136.47 258.78,134.26 259.49,133.4 260.19,133.56 260.9,130.46 261.6,131.74 262.31,128.91 263.01,128.47 263.72,124.13 264.42,121.6 265.13,119.77 265.84,115.72 266.54,113.73 267.25,108.84 267.95,112.04 268.66,112.1 269.36,108.35 270.07,114.21 270.78,111.24 271.48,120.26 272.19,116.04 272.89,121.91 273.6,126.01 274.3,124.24 275.01,130.19 275.71,132.34 276.42,133.19 277.13,135.84 277.83,136.12 278.54,136.35 279.24,137.42 279.95,137.99 280.65,138.34 281.36,138.47 282.07,138.44 282.77,138.4 283.48,138.44 284.18,138.64 284.89,138.68 285.59,138.62 286.3,137.92 287,138.04 287.71,138.17 288.42,138.47 289.12,138.45 289.83,138.61 290.53,138.68 291.24,138.65 291.94,138.62 292.65,138.5 293.36,138.24 294.06,138.14 294.77,138.47 295.47,138.56 296.18,138.63 296.88,138.67 297.59,137.61 298.29,138.43 299,137.72" fill="none" stroke="#f22" stroke-width="0.65" stroke-linejoin="round" /><rect x="236.2" y="83.5" width="62.8" height="55.3" fill="none" stroke="#222" stroke-width="0.55"/><line x1="235" y1="138.8" x2="236.2" y2="138.8" stroke="#333" stroke-width="0.35" /><text x="234.5" y="138.8" font-size="2.7" text-anchor="middle" fill="#000" transform="rotate(-90 234.5 138.8)">0</text><line x1="235" y1="127.74" x2="236.2" y2="127.74" stroke="#333" stroke-width="0.35" /><text x="234.5" y="127.74" font-size="2.7" text-anchor="middle" fill="#000" transform="rotate(-90 234.5 127.74)">20</text><line x1="235" y1="116.68" x2="236.2" y2="116.68" stroke="#333" stroke-width="0.35" /><text x="234.5" y="116.68" font-size="2.7" text-anchor="middle" fill="#000" transform="rotate(-90 234.5 116.68)">40</text><line x1="235" y1="105.62" x2="236.2" y2="105.62" stroke="#333" stroke-width="0.35" /><text x="234.5" y="105.62" font-size="2.7" text-anchor="middle" fill="#000" transform="rotate(-90 234.5 105.62)">60</text><line x1="235" y1="94.56" x2="236.2" y2="94.56" stroke="#333" stroke-width="0.35" /><text x="234.5" y="94.56" font-size="2.7" text-anchor="middle" fill="#000" transform="rotate(-90 234.5 94.56)">80</text><line x1="235" y1="83.5" x2="236.2" y2="83.5" stroke="#333" stroke-width="0.35" /><text x="234.5" y="83.5" font-size="2.7" text-anchor="middle" fill="#000" transform="rotate(-90 234.5 83.5)">100</text><line x1="235.6" y1="136.59" x2="236.2" y2="136.59" stroke="#555" stroke-width="0.25" /><line x1="235.6" y1="134.38" x2="236.2" y2="134.38" stroke="#555" stroke-width="0.25" /><line x1="235.6" y1="132.16" x2="236.2" y2="132.16" stroke="#555" stroke-width="0.25" /><line x1="235.6" y1="129.95" x2="236.2" y2="129.95" stroke="#555" stroke-width="0.25" /><line x1="235.6" y1="127.74" x2="236.2" y2="127.74" stroke="#555" stroke-width="0.25" /><line x1="235.6" y1="125.53" x2="236.2" y2="125.53" stroke="#555" stroke-width="0.25" /><line x1="235.6" y1="123.32" x2="236.2" y2="123.32" stroke="#555" stroke-width="0.25" /><line x1="235.6" y1="121.1" x2="236.2" y2="121.1" stroke="#555" stroke-width="0.25" /><line x1="235.6" y1="118.89" x2="236.2" y2="118.89" stroke="#555" stroke-width="0.25" /><line x1="235.6" y1="116.68" x2="236.2" y2="116.68" stroke="#555" stroke-width="0.25" /><line x1="235.6" y1="114.47" x2="236.2" y2="114.47" stroke="#555" stroke-width="0.25" /><line x1="235.6" y1="112.26" x2="236.2" y2="112.26" stroke="#555" stroke-width="0.25" /><line x1="235.6" y1="110.04" x2="236.2" y2="110.04" stroke="#555" stroke-width="0.25" /><line x1="235.6" y1="107.83" x2="236.2" y2="107.83" stroke="#555" stroke-width="0.25" /><line x1="235.6" y1="105.62" x2="236.2" y2="105.62" stroke="#555" stroke-width="0.25" /><line x1="235.6" y1="103.41" x2="236.2" y2="103.41" stroke="#555" stroke-width="0.25" /><line x1="235.6" y1="101.2" x2="236.2" y2="101.2" stroke="#555" stroke-width="0.25" /><line x1="235.6" y1="98.98" x2="236.2" y2="98.98" stroke="#555" stroke-width="0.25" /><line x1="235.6" y1="96.77" x2="236.2" y2="96.77" stroke="#555" stroke-width="0.25" /><line x1="235.6" y1="94.56" x2="236.2" y2="94.56" stroke="#555" stroke-width="0.25" /><line x1="235.6" y1="92.35" x2="236.2" y2="92.35" stroke="#555" stroke-width="0.25" /><line x1="235.6" y1="90.14" x2="236.2" y2="90.14" stroke="#555" stroke-width="0.25" /><line x1="235.6" y1="87.92" x2="236.2" y2="87.92" stroke="#555" stroke-width="0.25" /><line x1="235.6" y1="85.71" x2="236.2" y2="85.71" stroke="#555" stroke-width="0.25" /><line x1="236.2" y1="138.8" x2="236.2" y2="140" stroke="#333" stroke-width="0.35" /><text x="236.2" y="142.8" font-size="2.7" text-anchor="middle" fill="#222">10<tspan font-size="1.6" dy="-1">0</tspan></text><line x1="240.93" y1="138.8" x2="240.93" y2="139.4" stroke="#555" stroke-width="0.25" /><line x1="243.69" y1="138.8" x2="243.69" y2="139.4" stroke="#555" stroke-width="0.25" /><line x1="245.65" y1="138.8" x2="245.65" y2="139.4" stroke="#555" stroke-width="0.25" /><line x1="247.17" y1="138.8" x2="247.17" y2="139.4" stroke="#555" stroke-width="0.25" /><line x1="248.42" y1="138.8" x2="248.42" y2="139.4" stroke="#555" stroke-width="0.25" /><line x1="249.47" y1="138.8" x2="249.47" y2="139.4" stroke="#555" stroke-width="0.25" /><line x1="250.38" y1="138.8" x2="250.38" y2="139.4" stroke="#555" stroke-width="0.25" /><line x1="251.18" y1="138.8" x2="251.18" y2="139.4" stroke="#555" stroke-width="0.25" /><line x1="251.9" y1="138.8" x2="251.9" y2="140" stroke="#333" stroke-width="0.35" /><text x="251.9" y="142.8" font-size="2.7" text-anchor="middle" fill="#222">10<tspan font-size="1.6" dy="-1">1</tspan></text><line x1="256.63" y1="138.8" x2="256.63" y2="139.4" stroke="#555" stroke-width="0.25" /><line x1="259.39" y1="138.8" x2="259.39" y2="139.4" stroke="#555" stroke-width="0.25" /><line x1="261.35" y1="138.8" x2="261.35" y2="139.4" stroke="#555" stroke-width="0.25" /><line x1="262.87" y1="138.8" x2="262.87" y2="139.4" stroke="#555" stroke-width="0.25" /><line x1="264.12" y1="138.8" x2="264.12" y2="139.4" stroke="#555" stroke-width="0.25" /><line x1="265.17" y1="138.8" x2="265.17" y2="139.4" stroke="#555" stroke-width="0.25" /><line x1="266.08" y1="138.8" x2="266.08" y2="139.4" stroke="#555" stroke-width="0.25" /><line x1="266.88" y1="138.8" x2="266.88" y2="139.4" stroke="#555" stroke-width="0.25" /><line x1="267.6" y1="138.8" x2="267.6" y2="140" stroke="#333" stroke-width="0.35" /><text x="267.6" y="142.8" font-size="2.7" text-anchor="middle" fill="#222">10<tspan font-size="1.6" dy="-1">2</tspan></text><line x1="272.33" y1="138.8" x2="272.33" y2="139.4" stroke="#555" stroke-width="0.25" /><line x1="275.09" y1="138.8" x2="275.09" y2="139.4" stroke="#555" stroke-width="0.25" /><line x1="277.05" y1="138.8" x2="277.05" y2="139.4" stroke="#555" stroke-width="0.25" /><line x1="278.57" y1="138.8" x2="278.57" y2="139.4" stroke="#555" stroke-width="0.25" /><line x1="279.82" y1="138.8" x2="279.82" y2="139.4" stroke="#555" stroke-width="0.25" /><line x1="280.87" y1="138.8" x2="280.87" y2="139.4" stroke="#555" stroke-width="0.25" /><line x1="281.78" y1="138.8" x2="281.78" y2="139.4" stroke="#555" stroke-width="0.25" /><line x1="282.58" y1="138.8" x2="282.58" y2="139.4" stroke="#555" stroke-width="0.25" /><line x1="283.3" y1="138.8" x2="283.3" y2="140" stroke="#333" stroke-width="0.35" /><text x="283.3" y="142.8" font-size="2.7" text-anchor="middle" fill="#222">10<tspan font-size="1.6" dy="-1">3</tspan></text><line x1="288.03" y1="138.8" x2="288.03" y2="139.4" stroke="#555" stroke-width="0.25" /><line x1="290.79" y1="138.8" x2="290.79" y2="139.4" stroke="#555" stroke-width="0.25" /><line x1="292.75" y1="138.8" x2="292.75" y2="139.4" stroke="#555" stroke-width="0.25" /><line x1="294.27" y1="138.8" x2="294.27" y2="139.4" stroke="#555" stroke-width="0.25" /><line x1="295.52" y1="138.8" x2="295.52" y2="139.4" stroke="#555" stroke-width="0.25" /><line x1="296.57" y1="138.8" x2="296.57" y2="139.4" stroke="#555" stroke-width="0.25" /><line x1="297.48" y1="138.8" x2="297.48" y2="139.4" stroke="#555" stroke-width="0.25" /><line x1="298.28" y1="138.8" x2="298.28" y2="139.4" stroke="#555" stroke-width="0.25" /><line x1="299" y1="138.8" x2="299" y2="140" stroke="#333" stroke-width="0.35" /><text x="299" y="142.8" font-size="2.7" text-anchor="middle" fill="#222">10<tspan font-size="1.6" dy="-1">4</tspan></text><text x="267.6" y="145.8" font-size="2.4" text-anchor="middle" fill="#222">FL4-H</text><text x="230.2" y="114.15" font-size="2.8" text-anchor="middle" fill="#000" transform="rotate(-90 230.2 114.15)">Counts</text><text x="267.1" y="81.6" font-size="6.6" font-weight="bold" text-anchor="middle" fill="#111">SDC3</text><line x1="240.8" y1="88.3" x2="251.4" y2="88.3" stroke="#444" stroke-width="0.7" /><line x1="240.8" y1="94.2" x2="251.4" y2="94.2" stroke="#f22" stroke-width="0.7" /><text x="253.4" y="89.9" font-size="4.6" fill="#111">α-syn</text><text x="253.4" y="95.8" font-size="4.6" fill="#111">NaClO<tspan font-size="2.8" dy="1">3</tspan><tspan dy="-1"> + α-syn</tspan></text>
<polyline points="310.7,138.53 311.41,138.52 312.11,138.53 312.82,138.43 313.52,138.56 314.23,138.65 314.93,138.5 315.64,138.48 316.34,137.36 317.05,138.59 317.76,138.16 318.46,137.95 319.17,138.17 319.87,137.92 320.58,138.13 321.28,137.98 321.99,137.06 322.7,137.57 323.4,137.3 324.11,136.9 324.81,137.04 325.52,137.26 326.22,136.46 326.93,135.85 327.63,134.75 328.34,134.72 329.05,134.47 329.75,134.5 330.46,133.28 331.16,132.71 331.87,131.97 332.57,130.4 333.28,128.92 333.99,129.63 334.69,129.32 335.4,130 336.1,128.34 336.81,124.87 337.51,123.83 338.22,123.56 338.92,125.54 339.63,124.81 340.34,121.16 341.04,124.84 341.75,122.04 342.45,123.23 343.16,123.13 343.86,126.25 344.57,122.44 345.28,122.89 345.98,126.41 346.69,124.17 347.39,125.11 348.1,124.85 348.8,129.62 349.51,123.59 350.21,129.92 350.92,129.62 351.63,127.69 352.33,128.54 353.04,128.83 353.74,131.33 354.45,130.72 355.15,132.1 355.86,132.93 356.57,132.73 357.27,132.66 357.98,133.67 358.68,134.42 359.39,134.18 360.09,134.5 360.8,135.49 361.5,135.42 362.21,136.26 362.92,135.75 363.62,136.64 364.33,136.93 365.03,136.94 365.74,136.53 366.44,137.44 367.15,137.91 367.86,136.88 368.56,137.4 369.27,137.52 369.97,137.53 370.68,137.88 371.38,138.23 372.09,138.3 372.79,138.29 373.5,137.54" fill="none" stroke="#2a2a2a" stroke-width="0.65" stroke-linejoin="round" /><polyline points="310.7,138.34 311.41,138.02 312.11,138.51 312.82,138.02 313.52,138.5 314.23,138.65 314.93,138.72 315.64,138.63 316.34,137.85 317.05,138.47 317.76,138.7 318.46,138.75 319.17,138.08 319.87,138.25 320.58,138.07 321.28,138.47 321.99,138.68 322.7,138.03 323.4,138.23 324.11,138.04 324.81,138.78 325.52,138.77 326.22,138.32 326.93,138.46 327.63,138.49 328.34,138.01 329.05,138.45 329.75,138.45 330.46,138.06 331.16,137.67 331.87,137.5 332.57,137.18 333.28,136.58 333.99,135.66 334.69,133.6 335.4,133.56 336.1,131.52 336.81,126.91 337.51,124.57 338.22,121.71 338.92,119.47 339.63,112.51 340.34,118.96 341.04,111.77 341.75,107.52 342.45,108.22 343.16,116.53 343.86,109.64 344.57,112.02 345.28,123.73 345.98,122.65 346.69,124.89 347.39,128.89 348.1,127.98 348.8,132.14 349.51,132.01 350.21,134.62 350.92,136.36 351.63,136.2 352.33,137.47 353.04,137.82 353.74,137.91 354.45,137.97 355.15,138.57 355.86,138.2 356.57,138.44 357.27,138.36 357.98,138.64 358.68,138.69 359.39,138.09 360.09,137.93 360.8,138.06 361.5,138.51 362.21,138.38 362.92,138.36 363.62,138.34 364.33,138.59 365.03,138.5 365.74,138.65 366.44,138.33 367.15,138.54 367.86,138.4 368.56,138.69 369.27,138.32 369.97,138.56 370.68,138.5 371.38,138.71 372.09,137.76 372.79,138.51 373.5,138.14" fill="none" stroke="#f22" stroke-width="0.65" stroke-linejoin="round" /><rect x="310.7" y="83.5" width="62.8" height="55.3" fill="none" stroke="#222" stroke-width="0.55"/><line x1="309.5" y1="138.8" x2="310.7" y2="138.8" stroke="#333" stroke-width="0.35" /><text x="309" y="138.8" font-size="2.7" text-anchor="middle" fill="#000" transform="rotate(-90 309 138.8)">0</text><line x1="309.5" y1="127.74" x2="310.7" y2="127.74" stroke="#333" stroke-width="0.35" /><text x="309" y="127.74" font-size="2.7" text-anchor="middle" fill="#000" transform="rotate(-90 309 127.74)">20</text><line x1="309.5" y1="116.68" x2="310.7" y2="116.68" stroke="#333" stroke-width="0.35" /><text x="309" y="116.68" font-size="2.7" text-anchor="middle" fill="#000" transform="rotate(-90 309 116.68)">40</text><line x1="309.5" y1="105.62" x2="310.7" y2="105.62" stroke="#333" stroke-width="0.35" /><text x="309" y="105.62" font-size="2.7" text-anchor="middle" fill="#000" transform="rotate(-90 309 105.62)">60</text><line x1="309.5" y1="94.56" x2="310.7" y2="94.56" stroke="#333" stroke-width="0.35" /><text x="309" y="94.56" font-size="2.7" text-anchor="middle" fill="#000" transform="rotate(-90 309 94.56)">80</text><line x1="309.5" y1="83.5" x2="310.7" y2="83.5" stroke="#333" stroke-width="0.35" /><text x="309" y="83.5" font-size="2.7" text-anchor="middle" fill="#000" transform="rotate(-90 309 83.5)">100</text><line x1="310.1" y1="136.59" x2="310.7" y2="136.59" stroke="#555" stroke-width="0.25" /><line x1="310.1" y1="134.38" x2="310.7" y2="134.38" stroke="#555" stroke-width="0.25" /><line x1="310.1" y1="132.16" x2="310.7" y2="132.16" stroke="#555" stroke-width="0.25" /><line x1="310.1" y1="129.95" x2="310.7" y2="129.95" stroke="#555" stroke-width="0.25" /><line x1="310.1" y1="127.74" x2="310.7" y2="127.74" stroke="#555" stroke-width="0.25" /><line x1="310.1" y1="125.53" x2="310.7" y2="125.53" stroke="#555" stroke-width="0.25" /><line x1="310.1" y1="123.32" x2="310.7" y2="123.32" stroke="#555" stroke-width="0.25" /><line x1="310.1" y1="121.1" x2="310.7" y2="121.1" stroke="#555" stroke-width="0.25" /><line x1="310.1" y1="118.89" x2="310.7" y2="118.89" stroke="#555" stroke-width="0.25" /><line x1="310.1" y1="116.68" x2="310.7" y2="116.68" stroke="#555" stroke-width="0.25" /><line x1="310.1" y1="114.47" x2="310.7" y2="114.47" stroke="#555" stroke-width="0.25" /><line x1="310.1" y1="112.26" x2="310.7" y2="112.26" stroke="#555" stroke-width="0.25" /><line x1="310.1" y1="110.04" x2="310.7" y2="110.04" stroke="#555" stroke-width="0.25" /><line x1="310.1" y1="107.83" x2="310.7" y2="107.83" stroke="#555" stroke-width="0.25" /><line x1="310.1" y1="105.62" x2="310.7" y2="105.62" stroke="#555" stroke-width="0.25" /><line x1="310.1" y1="103.41" x2="310.7" y2="103.41" stroke="#555" stroke-width="0.25" /><line x1="310.1" y1="101.2" x2="310.7" y2="101.2" stroke="#555" stroke-width="0.25" /><line x1="310.1" y1="98.98" x2="310.7" y2="98.98" stroke="#555" stroke-width="0.25" /><line x1="310.1" y1="96.77" x2="310.7" y2="96.77" stroke="#555" stroke-width="0.25" /><line x1="310.1" y1="94.56" x2="310.7" y2="94.56" stroke="#555" stroke-width="0.25" /><line x1="310.1" y1="92.35" x2="310.7" y2="92.35" stroke="#555" stroke-width="0.25" /><line x1="310.1" y1="90.14" x2="310.7" y2="90.14" stroke="#555" stroke-width="0.25" /><line x1="310.1" y1="87.92" x2="310.7" y2="87.92" stroke="#555" stroke-width="0.25" /><line x1="310.1" y1="85.71" x2="310.7" y2="85.71" stroke="#555" stroke-width="0.25" /><line x1="310.7" y1="138.8" x2="310.7" y2="140" stroke="#333" stroke-width="0.35" /><text x="310.7" y="142.8" font-size="2.7" text-anchor="middle" fill="#222">10<tspan font-size="1.6" dy="-1">0</tspan></text><line x1="315.43" y1="138.8" x2="315.43" y2="139.4" stroke="#555" stroke-width="0.25" /><line x1="318.19" y1="138.8" x2="318.19" y2="139.4" stroke="#555" stroke-width="0.25" /><line x1="320.15" y1="138.8" x2="320.15" y2="139.4" stroke="#555" stroke-width="0.25" /><line x1="321.67" y1="138.8" x2="321.67" y2="139.4" stroke="#555" stroke-width="0.25" /><line x1="322.92" y1="138.8" x2="322.92" y2="139.4" stroke="#555" stroke-width="0.25" /><line x1="323.97" y1="138.8" x2="323.97" y2="139.4" stroke="#555" stroke-width="0.25" /><line x1="324.88" y1="138.8" x2="324.88" y2="139.4" stroke="#555" stroke-width="0.25" /><line x1="325.68" y1="138.8" x2="325.68" y2="139.4" stroke="#555" stroke-width="0.25" /><line x1="326.4" y1="138.8" x2="326.4" y2="140" stroke="#333" stroke-width="0.35" /><text x="326.4" y="142.8" font-size="2.7" text-anchor="middle" fill="#222">10<tspan font-size="1.6" dy="-1">1</tspan></text><line x1="331.13" y1="138.8" x2="331.13" y2="139.4" stroke="#555" stroke-width="0.25" /><line x1="333.89" y1="138.8" x2="333.89" y2="139.4" stroke="#555" stroke-width="0.25" /><line x1="335.85" y1="138.8" x2="335.85" y2="139.4" stroke="#555" stroke-width="0.25" /><line x1="337.37" y1="138.8" x2="337.37" y2="139.4" stroke="#555" stroke-width="0.25" /><line x1="338.62" y1="138.8" x2="338.62" y2="139.4" stroke="#555" stroke-width="0.25" /><line x1="339.67" y1="138.8" x2="339.67" y2="139.4" stroke="#555" stroke-width="0.25" /><line x1="340.58" y1="138.8" x2="340.58" y2="139.4" stroke="#555" stroke-width="0.25" /><line x1="341.38" y1="138.8" x2="341.38" y2="139.4" stroke="#555" stroke-width="0.25" /><line x1="342.1" y1="138.8" x2="342.1" y2="140" stroke="#333" stroke-width="0.35" /><text x="342.1" y="142.8" font-size="2.7" text-anchor="middle" fill="#222">10<tspan font-size="1.6" dy="-1">2</tspan></text><line x1="346.83" y1="138.8" x2="346.83" y2="139.4" stroke="#555" stroke-width="0.25" /><line x1="349.59" y1="138.8" x2="349.59" y2="139.4" stroke="#555" stroke-width="0.25" /><line x1="351.55" y1="138.8" x2="351.55" y2="139.4" stroke="#555" stroke-width="0.25" /><line x1="353.07" y1="138.8" x2="353.07" y2="139.4" stroke="#555" stroke-width="0.25" /><line x1="354.32" y1="138.8" x2="354.32" y2="139.4" stroke="#555" stroke-width="0.25" /><line x1="355.37" y1="138.8" x2="355.37" y2="139.4" stroke="#555" stroke-width="0.25" /><line x1="356.28" y1="138.8" x2="356.28" y2="139.4" stroke="#555" stroke-width="0.25" /><line x1="357.08" y1="138.8" x2="357.08" y2="139.4" stroke="#555" stroke-width="0.25" /><line x1="357.8" y1="138.8" x2="357.8" y2="140" stroke="#333" stroke-width="0.35" /><text x="357.8" y="142.8" font-size="2.7" text-anchor="middle" fill="#222">10<tspan font-size="1.6" dy="-1">3</tspan></text><line x1="362.53" y1="138.8" x2="362.53" y2="139.4" stroke="#555" stroke-width="0.25" /><line x1="365.29" y1="138.8" x2="365.29" y2="139.4" stroke="#555" stroke-width="0.25" /><line x1="367.25" y1="138.8" x2="367.25" y2="139.4" stroke="#555" stroke-width="0.25" /><line x1="368.77" y1="138.8" x2="368.77" y2="139.4" stroke="#555" stroke-width="0.25" /><line x1="370.02" y1="138.8" x2="370.02" y2="139.4" stroke="#555" stroke-width="0.25" /><line x1="371.07" y1="138.8" x2="371.07" y2="139.4" stroke="#555" stroke-width="0.25" /><line x1="371.98" y1="138.8" x2="371.98" y2="139.4" stroke="#555" stroke-width="0.25" /><line x1="372.78" y1="138.8" x2="372.78" y2="139.4" stroke="#555" stroke-width="0.25" /><line x1="373.5" y1="138.8" x2="373.5" y2="140" stroke="#333" stroke-width="0.35" /><text x="373.5" y="142.8" font-size="2.7" text-anchor="middle" fill="#222">10<tspan font-size="1.6" dy="-1">4</tspan></text><text x="342.1" y="145.8" font-size="2.4" text-anchor="middle" fill="#222">FL4-H</text><text x="304.7" y="114.15" font-size="2.8" text-anchor="middle" fill="#000" transform="rotate(-90 304.7 114.15)">Counts</text><text x="341.6" y="81.6" font-size="6.6" font-weight="bold" text-anchor="middle" fill="#111">SDC4</text><line x1="315.3" y1="88.3" x2="325.9" y2="88.3" stroke="#444" stroke-width="0.7" /><line x1="315.3" y1="94.2" x2="325.9" y2="94.2" stroke="#f22" stroke-width="0.7" /><text x="327.9" y="89.9" font-size="4.6" fill="#111">α-syn</text><text x="327.9" y="95.8" font-size="4.6" fill="#111">NaClO<tspan font-size="2.8" dy="1">3</tspan><tspan dy="-1"> + α-syn</tspan></text>
<polyline points="13.4,211.77 14.1,211.46 14.8,211.75 15.49,211.59 16.19,211.15 16.89,211.9 17.59,211.67 18.28,211.78 18.98,211.31 19.68,210.97 20.38,211.48 21.08,211.51 21.77,211.04 22.47,211.35 23.17,211.41 23.87,210.73 24.56,211.13 25.26,211.1 25.96,211.15 26.66,211.13 27.36,211 28.05,210.41 28.75,211.34 29.45,210.46 30.15,210.85 30.84,210.88 31.54,211.35 32.24,210.59 32.94,210.79 33.63,210.05 34.33,209.92 35.03,210.11 35.73,210.2 36.43,209.82 37.12,209.77 37.82,210.01 38.52,209.79 39.22,209.91 39.91,210.24 40.61,210.08 41.31,209.9 42.01,209.85 42.71,209.04 43.4,209.19 44.1,209.33 44.8,208.62 45.5,208.21 46.19,207.8 46.89,207.08 47.59,207.87 48.29,204.93 48.99,204.86 49.68,204.74 50.38,203.44 51.08,200.75 51.78,199.04 52.47,197.84 53.17,194.38 53.87,193.51 54.57,194.85 55.27,194.64 55.96,193.09 56.66,193.31 57.36,186.8 58.06,182.39 58.75,184.31 59.45,185.48 60.15,188.23 60.85,191.84 61.54,190.55 62.24,194.28 62.94,198.52 63.64,199.82 64.34,205.48 65.03,206.12 65.73,208.58 66.43,210.35 67.13,210.81 67.82,211.12 68.52,211.09 69.22,211.85 69.92,211.96 70.62,211.39 71.31,211.63 72.01,211.49 72.71,212.08 73.41,212.01 74.1,211.26 74.8,211.58 75.5,211.96" fill="none" stroke="#2a2a2a" stroke-width="0.65" stroke-linejoin="round" /><polyline points="13.4,211.39 14.1,211.83 14.8,211.63 15.49,211.96 16.19,211.93 16.89,211.87 17.59,211.73 18.28,211.96 18.98,210.94 19.68,212.03 20.38,211.61 21.08,211.22 21.77,212.04 22.47,211.46 23.17,212.05 23.87,211.33 24.56,212.07 25.26,211.7 25.96,211.91 26.66,211.37 27.36,212.03 28.05,211.74 28.75,211.83 29.45,211.69 30.15,211.86 30.84,211.91 31.54,211.49 32.24,211.99 32.94,211.85 33.63,211.87 34.33,211.14 35.03,210.88 35.73,210.78 36.43,209.67 37.12,209.95 37.82,207.35 38.52,206.85 39.22,204.25 39.91,203.7 40.61,199.65 41.31,193.81 42.01,193.07 42.71,188.93 43.4,185.8 44.1,180.31 44.8,180.52 45.5,181.81 46.19,182.25 46.89,178.67 47.59,183.53 48.29,187.54 48.99,189.68 49.68,193.2 50.38,197.72 51.08,204.97 51.78,207 52.47,208.18 53.17,209.21 53.87,210.45 54.57,211.05 55.27,211.4 55.96,210.94 56.66,211.87 57.36,211.74 58.06,211.96 58.75,211.98 59.45,211.91 60.15,211.13 60.85,211.91 61.54,211.79 62.24,211.82 62.94,211.24 63.64,212.04 64.34,211.99 65.03,211.47 65.73,212.03 66.43,211.72 67.13,211.21 67.82,211.22 68.52,211.61 69.22,211.98 69.92,211.22 70.62,211.67 71.31,211.02 72.01,211.82 72.71,211.68 73.41,211.74 74.1,211.8 74.8,212.01 75.5,211.75" fill="none" stroke="#f22" stroke-width="0.65" stroke-linejoin="round" /><rect x="13.4" y="156.8" width="62.1" height="55.3" fill="none" stroke="#222" stroke-width="0.55"/><line x1="12.2" y1="212.1" x2="13.4" y2="212.1" stroke="#333" stroke-width="0.35" /><text x="11.7" y="212.1" font-size="2.7" text-anchor="middle" fill="#000" transform="rotate(-90 11.7 212.1)">0</text><line x1="12.2" y1="201.04" x2="13.4" y2="201.04" stroke="#333" stroke-width="0.35" /><text x="11.7" y="201.04" font-size="2.7" text-anchor="middle" fill="#000" transform="rotate(-90 11.7 201.04)">20</text><line x1="12.2" y1="189.98" x2="13.4" y2="189.98" stroke="#333" stroke-width="0.35" /><text x="11.7" y="189.98" font-size="2.7" text-anchor="middle" fill="#000" transform="rotate(-90 11.7 189.98)">40</text><line x1="12.2" y1="178.92" x2="13.4" y2="178.92" stroke="#333" stroke-width="0.35" /><text x="11.7" y="178.92" font-size="2.7" text-anchor="middle" fill="#000" transform="rotate(-90 11.7 178.92)">60</text><line x1="12.2" y1="167.86" x2="13.4" y2="167.86" stroke="#333" stroke-width="0.35" /><text x="11.7" y="167.86" font-size="2.7" text-anchor="middle" fill="#000" transform="rotate(-90 11.7 167.86)">80</text><line x1="12.2" y1="156.8" x2="13.4" y2="156.8" stroke="#333" stroke-width="0.35" /><text x="11.7" y="156.8" font-size="2.7" text-anchor="middle" fill="#000" transform="rotate(-90 11.7 156.8)">100</text><line x1="12.8" y1="209.89" x2="13.4" y2="209.89" stroke="#555" stroke-width="0.25" /><line x1="12.8" y1="207.68" x2="13.4" y2="207.68" stroke="#555" stroke-width="0.25" /><line x1="12.8" y1="205.46" x2="13.4" y2="205.46" stroke="#555" stroke-width="0.25" /><line x1="12.8" y1="203.25" x2="13.4" y2="203.25" stroke="#555" stroke-width="0.25" /><line x1="12.8" y1="201.04" x2="13.4" y2="201.04" stroke="#555" stroke-width="0.25" /><line x1="12.8" y1="198.83" x2="13.4" y2="198.83" stroke="#555" stroke-width="0.25" /><line x1="12.8" y1="196.62" x2="13.4" y2="196.62" stroke="#555" stroke-width="0.25" /><line x1="12.8" y1="194.4" x2="13.4" y2="194.4" stroke="#555" stroke-width="0.25" /><line x1="12.8" y1="192.19" x2="13.4" y2="192.19" stroke="#555" stroke-width="0.25" /><line x1="12.8" y1="189.98" x2="13.4" y2="189.98" stroke="#555" stroke-width="0.25" /><line x1="12.8" y1="187.77" x2="13.4" y2="187.77" stroke="#555" stroke-width="0.25" /><line x1="12.8" y1="185.56" x2="13.4" y2="185.56" stroke="#555" stroke-width="0.25" /><line x1="12.8" y1="183.34" x2="13.4" y2="183.34" stroke="#555" stroke-width="0.25" /><line x1="12.8" y1="181.13" x2="13.4" y2="181.13" stroke="#555" stroke-width="0.25" /><line x1="12.8" y1="178.92" x2="13.4" y2="178.92" stroke="#555" stroke-width="0.25" /><line x1="12.8" y1="176.71" x2="13.4" y2="176.71" stroke="#555" stroke-width="0.25" /><line x1="12.8" y1="174.5" x2="13.4" y2="174.5" stroke="#555" stroke-width="0.25" /><line x1="12.8" y1="172.28" x2="13.4" y2="172.28" stroke="#555" stroke-width="0.25" /><line x1="12.8" y1="170.07" x2="13.4" y2="170.07" stroke="#555" stroke-width="0.25" /><line x1="12.8" y1="167.86" x2="13.4" y2="167.86" stroke="#555" stroke-width="0.25" /><line x1="12.8" y1="165.65" x2="13.4" y2="165.65" stroke="#555" stroke-width="0.25" /><line x1="12.8" y1="163.44" x2="13.4" y2="163.44" stroke="#555" stroke-width="0.25" /><line x1="12.8" y1="161.22" x2="13.4" y2="161.22" stroke="#555" stroke-width="0.25" /><line x1="12.8" y1="159.01" x2="13.4" y2="159.01" stroke="#555" stroke-width="0.25" /><line x1="13.4" y1="212.1" x2="13.4" y2="213.3" stroke="#333" stroke-width="0.35" /><text x="13.4" y="216.1" font-size="2.7" text-anchor="middle" fill="#222">10<tspan font-size="1.6" dy="-1">0</tspan></text><line x1="18.07" y1="212.1" x2="18.07" y2="212.7" stroke="#555" stroke-width="0.25" /><line x1="20.81" y1="212.1" x2="20.81" y2="212.7" stroke="#555" stroke-width="0.25" /><line x1="22.75" y1="212.1" x2="22.75" y2="212.7" stroke="#555" stroke-width="0.25" /><line x1="24.25" y1="212.1" x2="24.25" y2="212.7" stroke="#555" stroke-width="0.25" /><line x1="25.48" y1="212.1" x2="25.48" y2="212.7" stroke="#555" stroke-width="0.25" /><line x1="26.52" y1="212.1" x2="26.52" y2="212.7" stroke="#555" stroke-width="0.25" /><line x1="27.42" y1="212.1" x2="27.42" y2="212.7" stroke="#555" stroke-width="0.25" /><line x1="28.21" y1="212.1" x2="28.21" y2="212.7" stroke="#555" stroke-width="0.25" /><line x1="28.93" y1="212.1" x2="28.93" y2="213.3" stroke="#333" stroke-width="0.35" /><text x="28.93" y="216.1" font-size="2.7" text-anchor="middle" fill="#222">10<tspan font-size="1.6" dy="-1">1</tspan></text><line x1="33.6" y1="212.1" x2="33.6" y2="212.7" stroke="#555" stroke-width="0.25" /><line x1="36.33" y1="212.1" x2="36.33" y2="212.7" stroke="#555" stroke-width="0.25" /><line x1="38.27" y1="212.1" x2="38.27" y2="212.7" stroke="#555" stroke-width="0.25" /><line x1="39.78" y1="212.1" x2="39.78" y2="212.7" stroke="#555" stroke-width="0.25" /><line x1="41.01" y1="212.1" x2="41.01" y2="212.7" stroke="#555" stroke-width="0.25" /><line x1="42.05" y1="212.1" x2="42.05" y2="212.7" stroke="#555" stroke-width="0.25" /><line x1="42.95" y1="212.1" x2="42.95" y2="212.7" stroke="#555" stroke-width="0.25" /><line x1="43.74" y1="212.1" x2="43.74" y2="212.7" stroke="#555" stroke-width="0.25" /><line x1="44.45" y1="212.1" x2="44.45" y2="213.3" stroke="#333" stroke-width="0.35" /><text x="44.45" y="216.1" font-size="2.7" text-anchor="middle" fill="#222">10<tspan font-size="1.6" dy="-1">2</tspan></text><line x1="49.12" y1="212.1" x2="49.12" y2="212.7" stroke="#555" stroke-width="0.25" /><line x1="51.86" y1="212.1" x2="51.86" y2="212.7" stroke="#555" stroke-width="0.25" /><line x1="53.8" y1="212.1" x2="53.8" y2="212.7" stroke="#555" stroke-width="0.25" /><line x1="55.3" y1="212.1" x2="55.3" y2="212.7" stroke="#555" stroke-width="0.25" /><line x1="56.53" y1="212.1" x2="56.53" y2="212.7" stroke="#555" stroke-width="0.25" /><line x1="57.57" y1="212.1" x2="57.57" y2="212.7" stroke="#555" stroke-width="0.25" /><line x1="58.47" y1="212.1" x2="58.47" y2="212.7" stroke="#555" stroke-width="0.25" /><line x1="59.26" y1="212.1" x2="59.26" y2="212.7" stroke="#555" stroke-width="0.25" /><line x1="59.98" y1="212.1" x2="59.98" y2="213.3" stroke="#333" stroke-width="0.35" /><text x="59.98" y="216.1" font-size="2.7" text-anchor="middle" fill="#222">10<tspan font-size="1.6" dy="-1">3</tspan></text><line x1="64.65" y1="212.1" x2="64.65" y2="212.7" stroke="#555" stroke-width="0.25" /><line x1="67.38" y1="212.1" x2="67.38" y2="212.7" stroke="#555" stroke-width="0.25" /><line x1="69.32" y1="212.1" x2="69.32" y2="212.7" stroke="#555" stroke-width="0.25" /><line x1="70.83" y1="212.1" x2="70.83" y2="212.7" stroke="#555" stroke-width="0.25" /><line x1="72.06" y1="212.1" x2="72.06" y2="212.7" stroke="#555" stroke-width="0.25" /><line x1="73.1" y1="212.1" x2="73.1" y2="212.7" stroke="#555" stroke-width="0.25" /><line x1="74" y1="212.1" x2="74" y2="212.7" stroke="#555" stroke-width="0.25" /><line x1="74.79" y1="212.1" x2="74.79" y2="212.7" stroke="#555" stroke-width="0.25" /><line x1="75.5" y1="212.1" x2="75.5" y2="213.3" stroke="#333" stroke-width="0.35" /><text x="75.5" y="216.1" font-size="2.7" text-anchor="middle" fill="#222">10<tspan font-size="1.6" dy="-1">4</tspan></text><text x="44.45" y="219.1" font-size="2.4" text-anchor="middle" fill="#222">FL4-H</text><text x="7.4" y="187.45" font-size="2.8" text-anchor="middle" fill="#000" transform="rotate(-90 7.4 187.45)">Counts</text><text x="43.95" y="154.9" font-size="6.6" font-weight="bold" text-anchor="middle" fill="#111">K562</text><line x1="18" y1="161.6" x2="28.6" y2="161.6" stroke="#444" stroke-width="0.7" /><line x1="18" y1="167.5" x2="28.6" y2="167.5" stroke="#f22" stroke-width="0.7" /><text x="30.6" y="163.2" font-size="4.6" fill="#111">tau</text><text x="30.6" y="169.1" font-size="4.6" fill="#111">NaClO<tspan font-size="2.8" dy="1">3</tspan><tspan dy="-1"> + tau</tspan></text>
<polyline points="87.9,210.46 88.6,211.45 89.3,211.31 89.99,211.72 90.69,210.95 91.39,211.01 92.09,210.63 92.78,211.04 93.48,210.94 94.18,210.95 94.88,211.11 95.58,211.35 96.27,211.39 96.97,211.28 97.67,210.88 98.37,210.14 99.06,210.95 99.76,210.14 100.46,210.95 101.16,209.64 101.86,210.43 102.55,210.3 103.25,210.03 103.95,210.42 104.65,210.38 105.34,210.3 106.04,210.27 106.74,210.45 107.44,210.37 108.13,210.4 108.83,210.46 109.53,210.35 110.23,209.92 110.93,210.02 111.62,209.65 112.32,210.19 113.02,210.02 113.72,210.01 114.41,210.22 115.11,210.07 115.81,210.29 116.51,210.02 117.21,209.42 117.9,210.02 118.6,209.99 119.3,209.67 120,209.3 120.69,209.03 121.39,208.22 122.09,207.04 122.79,206.44 123.49,204.79 124.18,201.18 124.88,198.23 125.58,200.38 126.28,194.65 126.97,194.93 127.67,194.65 128.37,191.21 129.07,191.06 129.77,189.65 130.46,188.73 131.16,191.17 131.86,191.19 132.56,189.45 133.25,192.62 133.95,191.99 134.65,194.71 135.35,198.51 136.04,196.95 136.74,200.83 137.44,201.41 138.14,203.69 138.84,205.96 139.53,206.45 140.23,208.18 140.93,208.96 141.63,209.05 142.32,210.67 143.02,210.98 143.72,211.27 144.42,211.48 145.12,211.67 145.81,211.69 146.51,211.81 147.21,211.92 147.91,211.35 148.6,211.88 149.3,212.01 150,212.01" fill="none" stroke="#2a2a2a" stroke-width="0.65" stroke-linejoin="round" /><polyline points="87.9,211.61 88.6,212.01 89.3,211.48 89.99,211.52 90.69,211.66 91.39,211.39 92.09,211.82 92.78,211.72 93.48,211.9 94.18,211.41 94.88,211.94 95.58,211.9 96.27,211.9 96.97,211.15 97.67,211.32 98.37,211.34 99.06,211.26 99.76,210.69 100.46,211.16 101.16,210.97 101.86,209.69 102.55,208.58 103.25,207.45 103.95,205.29 104.65,205.26 105.34,203.91 106.04,200.6 106.74,197.59 107.44,195.35 108.13,195.11 108.83,196.4 109.53,189.98 110.23,183.89 110.93,187.17 111.62,191.09 112.32,185.85 113.02,186.23 113.72,189.75 114.41,192.73 115.11,191.72 115.81,189.65 116.51,191.48 117.21,191.63 117.9,198.04 118.6,200.46 119.3,200.21 120,205.22 120.69,204.7 121.39,207.45 122.09,208.23 122.79,209.28 123.49,209.17 124.18,210.69 124.88,210.57 125.58,211.43 126.28,211.38 126.97,211.39 127.67,211.87 128.37,211.63 129.07,211.66 129.77,211.28 130.46,212.05 131.16,211.39 131.86,211.84 132.56,211.87 133.25,211.57 133.95,212.01 134.65,211.41 135.35,211.89 136.04,211.63 136.74,211.37 137.44,211.85 138.14,211.72 138.84,212.04 139.53,211.81 140.23,211.79 140.93,211.87 141.63,211.49 142.32,211.98 143.02,212.09 143.72,211.84 144.42,211.17 145.12,211.16 145.81,211.55 146.51,210.86 147.21,211.3 147.91,211.74 148.6,211.49 149.3,211.28 150,211.92" fill="none" stroke="#f22" stroke-width="0.65" stroke-linejoin="round" /><rect x="87.9" y="156.8" width="62.1" height="55.3" fill="none" stroke="#222" stroke-width="0.55"/><line x1="86.7" y1="212.1" x2="87.9" y2="212.1" stroke="#333" stroke-width="0.35" /><text x="86.2" y="212.1" font-size="2.7" text-anchor="middle" fill="#000" transform="rotate(-90 86.2 212.1)">0</text><line x1="86.7" y1="201.04" x2="87.9" y2="201.04" stroke="#333" stroke-width="0.35" /><text x="86.2" y="201.04" font-size="2.7" text-anchor="middle" fill="#000" transform="rotate(-90 86.2 201.04)">20</text><line x1="86.7" y1="189.98" x2="87.9" y2="189.98" stroke="#333" stroke-width="0.35" /><text x="86.2" y="189.98" font-size="2.7" text-anchor="middle" fill="#000" transform="rotate(-90 86.2 189.98)">40</text><line x1="86.7" y1="178.92" x2="87.9" y2="178.92" stroke="#333" stroke-width="0.35" /><text x="86.2" y="178.92" font-size="2.7" text-anchor="middle" fill="#000" transform="rotate(-90 86.2 178.92)">60</text><line x1="86.7" y1="167.86" x2="87.9" y2="167.86" stroke="#333" stroke-width="0.35" /><text x="86.2" y="167.86" font-size="2.7" text-anchor="middle" fill="#000" transform="rotate(-90 86.2 167.86)">80</text><line x1="86.7" y1="156.8" x2="87.9" y2="156.8" stroke="#333" stroke-width="0.35" /><text x="86.2" y="156.8" font-size="2.7" text-anchor="middle" fill="#000" transform="rotate(-90 86.2 156.8)">100</text><line x1="87.3" y1="209.89" x2="87.9" y2="209.89" stroke="#555" stroke-width="0.25" /><line x1="87.3" y1="207.68" x2="87.9" y2="207.68" stroke="#555" stroke-width="0.25" /><line x1="87.3" y1="205.46" x2="87.9" y2="205.46" stroke="#555" stroke-width="0.25" /><line x1="87.3" y1="203.25" x2="87.9" y2="203.25" stroke="#555" stroke-width="0.25" /><line x1="87.3" y1="201.04" x2="87.9" y2="201.04" stroke="#555" stroke-width="0.25" /><line x1="87.3" y1="198.83" x2="87.9" y2="198.83" stroke="#555" stroke-width="0.25" /><line x1="87.3" y1="196.62" x2="87.9" y2="196.62" stroke="#555" stroke-width="0.25" /><line x1="87.3" y1="194.4" x2="87.9" y2="194.4" stroke="#555" stroke-width="0.25" /><line x1="87.3" y1="192.19" x2="87.9" y2="192.19" stroke="#555" stroke-width="0.25" /><line x1="87.3" y1="189.98" x2="87.9" y2="189.98" stroke="#555" stroke-width="0.25" /><line x1="87.3" y1="187.77" x2="87.9" y2="187.77" stroke="#555" stroke-width="0.25" /><line x1="87.3" y1="185.56" x2="87.9" y2="185.56" stroke="#555" stroke-width="0.25" /><line x1="87.3" y1="183.34" x2="87.9" y2="183.34" stroke="#555" stroke-width="0.25" /><line x1="87.3" y1="181.13" x2="87.9" y2="181.13" stroke="#555" stroke-width="0.25" /><line x1="87.3" y1="178.92" x2="87.9" y2="178.92" stroke="#555" stroke-width="0.25" /><line x1="87.3" y1="176.71" x2="87.9" y2="176.71" stroke="#555" stroke-width="0.25" /><line x1="87.3" y1="174.5" x2="87.9" y2="174.5" stroke="#555" stroke-width="0.25" /><line x1="87.3" y1="172.28" x2="87.9" y2="172.28" stroke="#555" stroke-width="0.25" /><line x1="87.3" y1="170.07" x2="87.9" y2="170.07" stroke="#555" stroke-width="0.25" /><line x1="87.3" y1="167.86" x2="87.9" y2="167.86" stroke="#555" stroke-width="0.25" /><line x1="87.3" y1="165.65" x2="87.9" y2="165.65" stroke="#555" stroke-width="0.25" /><line x1="87.3" y1="163.44" x2="87.9" y2="163.44" stroke="#555" stroke-width="0.25" /><line x1="87.3" y1="161.22" x2="87.9" y2="161.22" stroke="#555" stroke-width="0.25" /><line x1="87.3" y1="159.01" x2="87.9" y2="159.01" stroke="#555" stroke-width="0.25" /><line x1="87.9" y1="212.1" x2="87.9" y2="213.3" stroke="#333" stroke-width="0.35" /><text x="87.9" y="216.1" font-size="2.7" text-anchor="middle" fill="#222">10<tspan font-size="1.6" dy="-1">0</tspan></text><line x1="92.57" y1="212.1" x2="92.57" y2="212.7" stroke="#555" stroke-width="0.25" /><line x1="95.31" y1="212.1" x2="95.31" y2="212.7" stroke="#555" stroke-width="0.25" /><line x1="97.25" y1="212.1" x2="97.25" y2="212.7" stroke="#555" stroke-width="0.25" /><line x1="98.75" y1="212.1" x2="98.75" y2="212.7" stroke="#555" stroke-width="0.25" /><line x1="99.98" y1="212.1" x2="99.98" y2="212.7" stroke="#555" stroke-width="0.25" /><line x1="101.02" y1="212.1" x2="101.02" y2="212.7" stroke="#555" stroke-width="0.25" /><line x1="101.92" y1="212.1" x2="101.92" y2="212.7" stroke="#555" stroke-width="0.25" /><line x1="102.71" y1="212.1" x2="102.71" y2="212.7" stroke="#555" stroke-width="0.25" /><line x1="103.43" y1="212.1" x2="103.43" y2="213.3" stroke="#333" stroke-width="0.35" /><text x="103.43" y="216.1" font-size="2.7" text-anchor="middle" fill="#222">10<tspan font-size="1.6" dy="-1">1</tspan></text><line x1="108.1" y1="212.1" x2="108.1" y2="212.7" stroke="#555" stroke-width="0.25" /><line x1="110.83" y1="212.1" x2="110.83" y2="212.7" stroke="#555" stroke-width="0.25" /><line x1="112.77" y1="212.1" x2="112.77" y2="212.7" stroke="#555" stroke-width="0.25" /><line x1="114.28" y1="212.1" x2="114.28" y2="212.7" stroke="#555" stroke-width="0.25" /><line x1="115.51" y1="212.1" x2="115.51" y2="212.7" stroke="#555" stroke-width="0.25" /><line x1="116.55" y1="212.1" x2="116.55" y2="212.7" stroke="#555" stroke-width="0.25" /><line x1="117.45" y1="212.1" x2="117.45" y2="212.7" stroke="#555" stroke-width="0.25" /><line x1="118.24" y1="212.1" x2="118.24" y2="212.7" stroke="#555" stroke-width="0.25" /><line x1="118.95" y1="212.1" x2="118.95" y2="213.3" stroke="#333" stroke-width="0.35" /><text x="118.95" y="216.1" font-size="2.7" text-anchor="middle" fill="#222">10<tspan font-size="1.6" dy="-1">2</tspan></text><line x1="123.62" y1="212.1" x2="123.62" y2="212.7" stroke="#555" stroke-width="0.25" /><line x1="126.36" y1="212.1" x2="126.36" y2="212.7" stroke="#555" stroke-width="0.25" /><line x1="128.3" y1="212.1" x2="128.3" y2="212.7" stroke="#555" stroke-width="0.25" /><line x1="129.8" y1="212.1" x2="129.8" y2="212.7" stroke="#555" stroke-width="0.25" /><line x1="131.03" y1="212.1" x2="131.03" y2="212.7" stroke="#555" stroke-width="0.25" /><line x1="132.07" y1="212.1" x2="132.07" y2="212.7" stroke="#555" stroke-width="0.25" /><line x1="132.97" y1="212.1" x2="132.97" y2="212.7" stroke="#555" stroke-width="0.25" /><line x1="133.76" y1="212.1" x2="133.76" y2="212.7" stroke="#555" stroke-width="0.25" /><line x1="134.48" y1="212.1" x2="134.48" y2="213.3" stroke="#333" stroke-width="0.35" /><text x="134.48" y="216.1" font-size="2.7" text-anchor="middle" fill="#222">10<tspan font-size="1.6" dy="-1">3</tspan></text><line x1="139.15" y1="212.1" x2="139.15" y2="212.7" stroke="#555" stroke-width="0.25" /><line x1="141.88" y1="212.1" x2="141.88" y2="212.7" stroke="#555" stroke-width="0.25" /><line x1="143.82" y1="212.1" x2="143.82" y2="212.7" stroke="#555" stroke-width="0.25" /><line x1="145.33" y1="212.1" x2="145.33" y2="212.7" stroke="#555" stroke-width="0.25" /><line x1="146.56" y1="212.1" x2="146.56" y2="212.7" stroke="#555" stroke-width="0.25" /><line x1="147.6" y1="212.1" x2="147.6" y2="212.7" stroke="#555" stroke-width="0.25" /><line x1="148.5" y1="212.1" x2="148.5" y2="212.7" stroke="#555" stroke-width="0.25" /><line x1="149.29" y1="212.1" x2="149.29" y2="212.7" stroke="#555" stroke-width="0.25" /><line x1="150" y1="212.1" x2="150" y2="213.3" stroke="#333" stroke-width="0.35" /><text x="150" y="216.1" font-size="2.7" text-anchor="middle" fill="#222">10<tspan font-size="1.6" dy="-1">4</tspan></text><text x="118.95" y="219.1" font-size="2.4" text-anchor="middle" fill="#222">FL4-H</text><text x="81.9" y="187.45" font-size="2.8" text-anchor="middle" fill="#000" transform="rotate(-90 81.9 187.45)">Counts</text><text x="118.45" y="154.9" font-size="6.6" font-weight="bold" text-anchor="middle" fill="#111">SDC1</text><line x1="92.5" y1="161.6" x2="103.1" y2="161.6" stroke="#444" stroke-width="0.7" /><line x1="92.5" y1="167.5" x2="103.1" y2="167.5" stroke="#f22" stroke-width="0.7" /><text x="105.1" y="163.2" font-size="4.6" fill="#111">tau</text><text x="105.1" y="169.1" font-size="4.6" fill="#111">NaClO<tspan font-size="2.8" dy="1">3</tspan><tspan dy="-1"> + tau</tspan></text>
<polyline points="162.4,211.96 163.1,211.63 163.8,211.98 164.49,211.3 165.19,211.96 165.89,211.18 166.59,211.93 167.28,211.12 167.98,211.83 168.68,211.37 169.38,211.39 170.08,211.79 170.77,211.7 171.47,211.56 172.17,211.23 172.87,210.81 173.56,211.2 174.26,211.62 174.96,211.2 175.66,211.38 176.36,211.02 177.05,211.07 177.75,210.45 178.45,210.83 179.15,210.46 179.84,210.29 180.54,210.91 181.24,210.61 181.94,210.71 182.63,210.9 183.33,210.7 184.03,210.33 184.73,210.87 185.43,210.32 186.12,210.24 186.82,210.2 187.52,210.14 188.22,210.02 188.91,210.16 189.61,209.93 190.31,209.22 191.01,208.97 191.71,209.43 192.4,209.15 193.1,208.78 193.8,208.92 194.5,208.92 195.19,206.96 195.89,207.94 196.59,206.07 197.29,206.81 197.99,204.9 198.68,203.91 199.38,201.81 200.08,202.56 200.78,200.36 201.47,198.83 202.17,196.82 202.87,196.34 203.57,188.31 204.27,192.51 204.96,193.65 205.66,188.84 206.36,181.09 207.06,183.88 207.75,187.6 208.45,180.39 209.15,184.56 209.85,183.64 210.54,181.99 211.24,189.7 211.94,194.87 212.64,198.26 213.34,200.91 214.03,204.53 214.73,206.13 215.43,209.13 216.13,209.85 216.82,210.9 217.52,210.69 218.22,211.04 218.92,211.78 219.62,211.78 220.31,211.9 221.01,211.82 221.71,210.92 222.41,211.53 223.1,211.78 223.8,211.54 224.5,212.08" fill="none" stroke="#2a2a2a" stroke-width="0.65" stroke-linejoin="round" /><polyline points="162.4,211.75 163.1,211.37 163.8,211.83 164.49,211.65 165.19,211.61 165.89,212.04 166.59,211.44 167.28,211.97 167.98,211.35 168.68,211.62 169.38,211.77 170.08,211.92 170.77,211 171.47,211.7 172.17,211.5 172.87,210.91 173.56,210.53 174.26,211.09 174.96,211.44 175.66,211.28 176.36,211.2 177.05,211.15 177.75,210.29 178.45,209.21 179.15,209.27 179.84,207.8 180.54,207.38 181.24,204.83 181.94,205.71 182.63,203.55 183.33,199.96 184.03,198.73 184.73,197.19 185.43,195.48 186.12,192.58 186.82,190.67 187.52,189.82 188.22,191.49 188.91,184.61 189.61,188.64 190.31,184.97 191.01,184.19 191.71,190.42 192.4,191.41 193.1,195.24 193.8,195.94 194.5,198.3 195.19,197.36 195.89,199.48 196.59,198.41 197.29,199.75 197.99,202.52 198.68,206.21 199.38,206.8 200.08,208.55 200.78,208.11 201.47,208.53 202.17,209.68 202.87,209.1 203.57,210.89 204.27,210.22 204.96,211.09 205.66,211.01 206.36,211.22 207.06,211.94 207.75,210.96 208.45,212 209.15,211.74 209.85,211.72 210.54,211.08 211.24,211.23 211.94,211.99 212.64,212.08 213.34,211.37 214.03,212.02 214.73,212 215.43,211.44 216.13,211.79 216.82,211.7 217.52,211.81 218.22,212.06 218.92,212.08 219.62,211.29 220.31,211.72 221.01,212.07 221.71,211.45 222.41,211.47 223.1,211.29 223.8,211.34 224.5,211.16" fill="none" stroke="#f22" stroke-width="0.65" stroke-linejoin="round" /><rect x="162.4" y="156.8" width="62.1" height="55.3" fill="none" stroke="#222" stroke-width="0.55"/><line x1="161.2" y1="212.1" x2="162.4" y2="212.1" stroke="#333" stroke-width="0.35" /><text x="160.7" y="212.1" font-size="2.7" text-anchor="middle" fill="#000" transform="rotate(-90 160.7 212.1)">0</text><line x1="161.2" y1="201.04" x2="162.4" y2="201.04" stroke="#333" stroke-width="0.35" /><text x="160.7" y="201.04" font-size="2.7" text-anchor="middle" fill="#000" transform="rotate(-90 160.7 201.04)">20</text><line x1="161.2" y1="189.98" x2="162.4" y2="189.98" stroke="#333" stroke-width="0.35" /><text x="160.7" y="189.98" font-size="2.7" text-anchor="middle" fill="#000" transform="rotate(-90 160.7 189.98)">40</text><line x1="161.2" y1="178.92" x2="162.4" y2="178.92" stroke="#333" stroke-width="0.35" /><text x="160.7" y="178.92" font-size="2.7" text-anchor="middle" fill="#000" transform="rotate(-90 160.7 178.92)">60</text><line x1="161.2" y1="167.86" x2="162.4" y2="167.86" stroke="#333" stroke-width="0.35" /><text x="160.7" y="167.86" font-size="2.7" text-anchor="middle" fill="#000" transform="rotate(-90 160.7 167.86)">80</text><line x1="161.2" y1="156.8" x2="162.4" y2="156.8" stroke="#333" stroke-width="0.35" /><text x="160.7" y="156.8" font-size="2.7" text-anchor="middle" fill="#000" transform="rotate(-90 160.7 156.8)">100</text><line x1="161.8" y1="209.89" x2="162.4" y2="209.89" stroke="#555" stroke-width="0.25" /><line x1="161.8" y1="207.68" x2="162.4" y2="207.68" stroke="#555" stroke-width="0.25" /><line x1="161.8" y1="205.46" x2="162.4" y2="205.46" stroke="#555" stroke-width="0.25" /><line x1="161.8" y1="203.25" x2="162.4" y2="203.25" stroke="#555" stroke-width="0.25" /><line x1="161.8" y1="201.04" x2="162.4" y2="201.04" stroke="#555" stroke-width="0.25" /><line x1="161.8" y1="198.83" x2="162.4" y2="198.83" stroke="#555" stroke-width="0.25" /><line x1="161.8" y1="196.62" x2="162.4" y2="196.62" stroke="#555" stroke-width="0.25" /><line x1="161.8" y1="194.4" x2="162.4" y2="194.4" stroke="#555" stroke-width="0.25" /><line x1="161.8" y1="192.19" x2="162.4" y2="192.19" stroke="#555" stroke-width="0.25" /><line x1="161.8" y1="189.98" x2="162.4" y2="189.98" stroke="#555" stroke-width="0.25" /><line x1="161.8" y1="187.77" x2="162.4" y2="187.77" stroke="#555" stroke-width="0.25" /><line x1="161.8" y1="185.56" x2="162.4" y2="185.56" stroke="#555" stroke-width="0.25" /><line x1="161.8" y1="183.34" x2="162.4" y2="183.34" stroke="#555" stroke-width="0.25" /><line x1="161.8" y1="181.13" x2="162.4" y2="181.13" stroke="#555" stroke-width="0.25" /><line x1="161.8" y1="178.92" x2="162.4" y2="178.92" stroke="#555" stroke-width="0.25" /><line x1="161.8" y1="176.71" x2="162.4" y2="176.71" stroke="#555" stroke-width="0.25" /><line x1="161.8" y1="174.5" x2="162.4" y2="174.5" stroke="#555" stroke-width="0.25" /><line x1="161.8" y1="172.28" x2="162.4" y2="172.28" stroke="#555" stroke-width="0.25" /><line x1="161.8" y1="170.07" x2="162.4" y2="170.07" stroke="#555" stroke-width="0.25" /><line x1="161.8" y1="167.86" x2="162.4" y2="167.86" stroke="#555" stroke-width="0.25" /><line x1="161.8" y1="165.65" x2="162.4" y2="165.65" stroke="#555" stroke-width="0.25" /><line x1="161.8" y1="163.44" x2="162.4" y2="163.44" stroke="#555" stroke-width="0.25" /><line x1="161.8" y1="161.22" x2="162.4" y2="161.22" stroke="#555" stroke-width="0.25" /><line x1="161.8" y1="159.01" x2="162.4" y2="159.01" stroke="#555" stroke-width="0.25" /><line x1="162.4" y1="212.1" x2="162.4" y2="213.3" stroke="#333" stroke-width="0.35" /><text x="162.4" y="216.1" font-size="2.7" text-anchor="middle" fill="#222">10<tspan font-size="1.6" dy="-1">0</tspan></text><line x1="167.07" y1="212.1" x2="167.07" y2="212.7" stroke="#555" stroke-width="0.25" /><line x1="169.81" y1="212.1" x2="169.81" y2="212.7" stroke="#555" stroke-width="0.25" /><line x1="171.75" y1="212.1" x2="171.75" y2="212.7" stroke="#555" stroke-width="0.25" /><line x1="173.25" y1="212.1" x2="173.25" y2="212.7" stroke="#555" stroke-width="0.25" /><line x1="174.48" y1="212.1" x2="174.48" y2="212.7" stroke="#555" stroke-width="0.25" /><line x1="175.52" y1="212.1" x2="175.52" y2="212.7" stroke="#555" stroke-width="0.25" /><line x1="176.42" y1="212.1" x2="176.42" y2="212.7" stroke="#555" stroke-width="0.25" /><line x1="177.21" y1="212.1" x2="177.21" y2="212.7" stroke="#555" stroke-width="0.25" /><line x1="177.93" y1="212.1" x2="177.93" y2="213.3" stroke="#333" stroke-width="0.35" /><text x="177.93" y="216.1" font-size="2.7" text-anchor="middle" fill="#222">10<tspan font-size="1.6" dy="-1">1</tspan></text><line x1="182.6" y1="212.1" x2="182.6" y2="212.7" stroke="#555" stroke-width="0.25" /><line x1="185.33" y1="212.1" x2="185.33" y2="212.7" stroke="#555" stroke-width="0.25" /><line x1="187.27" y1="212.1" x2="187.27" y2="212.7" stroke="#555" stroke-width="0.25" /><line x1="188.78" y1="212.1" x2="188.78" y2="212.7" stroke="#555" stroke-width="0.25" /><line x1="190.01" y1="212.1" x2="190.01" y2="212.7" stroke="#555" stroke-width="0.25" /><line x1="191.05" y1="212.1" x2="191.05" y2="212.7" stroke="#555" stroke-width="0.25" /><line x1="191.95" y1="212.1" x2="191.95" y2="212.7" stroke="#555" stroke-width="0.25" /><line x1="192.74" y1="212.1" x2="192.74" y2="212.7" stroke="#555" stroke-width="0.25" /><line x1="193.45" y1="212.1" x2="193.45" y2="213.3" stroke="#333" stroke-width="0.35" /><text x="193.45" y="216.1" font-size="2.7" text-anchor="middle" fill="#222">10<tspan font-size="1.6" dy="-1">2</tspan></text><line x1="198.12" y1="212.1" x2="198.12" y2="212.7" stroke="#555" stroke-width="0.25" /><line x1="200.86" y1="212.1" x2="200.86" y2="212.7" stroke="#555" stroke-width="0.25" /><line x1="202.8" y1="212.1" x2="202.8" y2="212.7" stroke="#555" stroke-width="0.25" /><line x1="204.3" y1="212.1" x2="204.3" y2="212.7" stroke="#555" stroke-width="0.25" /><line x1="205.53" y1="212.1" x2="205.53" y2="212.7" stroke="#555" stroke-width="0.25" /><line x1="206.57" y1="212.1" x2="206.57" y2="212.7" stroke="#555" stroke-width="0.25" /><line x1="207.47" y1="212.1" x2="207.47" y2="212.7" stroke="#555" stroke-width="0.25" /><line x1="208.26" y1="212.1" x2="208.26" y2="212.7" stroke="#555" stroke-width="0.25" /><line x1="208.98" y1="212.1" x2="208.98" y2="213.3" stroke="#333" stroke-width="0.35" /><text x="208.98" y="216.1" font-size="2.7" text-anchor="middle" fill="#222">10<tspan font-size="1.6" dy="-1">3</tspan></text><line x1="213.65" y1="212.1" x2="213.65" y2="212.7" stroke="#555" stroke-width="0.25" /><line x1="216.38" y1="212.1" x2="216.38" y2="212.7" stroke="#555" stroke-width="0.25" /><line x1="218.32" y1="212.1" x2="218.32" y2="212.7" stroke="#555" stroke-width="0.25" /><line x1="219.83" y1="212.1" x2="219.83" y2="212.7" stroke="#555" stroke-width="0.25" /><line x1="221.06" y1="212.1" x2="221.06" y2="212.7" stroke="#555" stroke-width="0.25" /><line x1="222.1" y1="212.1" x2="222.1" y2="212.7" stroke="#555" stroke-width="0.25" /><line x1="223" y1="212.1" x2="223" y2="212.7" stroke="#555" stroke-width="0.25" /><line x1="223.79" y1="212.1" x2="223.79" y2="212.7" stroke="#555" stroke-width="0.25" /><line x1="224.5" y1="212.1" x2="224.5" y2="213.3" stroke="#333" stroke-width="0.35" /><text x="224.5" y="216.1" font-size="2.7" text-anchor="middle" fill="#222">10<tspan font-size="1.6" dy="-1">4</tspan></text><text x="193.45" y="219.1" font-size="2.4" text-anchor="middle" fill="#222">FL4-H</text><text x="156.4" y="187.45" font-size="2.8" text-anchor="middle" fill="#000" transform="rotate(-90 156.4 187.45)">Counts</text><text x="192.95" y="154.9" font-size="6.6" font-weight="bold" text-anchor="middle" fill="#111">SDC2</text><line x1="167" y1="161.6" x2="177.6" y2="161.6" stroke="#444" stroke-width="0.7" /><line x1="167" y1="167.5" x2="177.6" y2="167.5" stroke="#f22" stroke-width="0.7" /><text x="179.6" y="163.2" font-size="4.6" fill="#111">tau</text><text x="179.6" y="169.1" font-size="4.6" fill="#111">NaClO<tspan font-size="2.8" dy="1">3</tspan><tspan dy="-1"> + tau</tspan></text>
<polyline points="236.9,211.79 237.6,211.63 238.3,211.71 238.99,211.06 239.69,211.3 240.39,210.5 241.09,211 241.78,211.31 242.48,211.13 243.18,211.31 243.88,211.19 244.58,211.25 245.27,210.91 245.97,210.8 246.67,211.05 247.37,211.39 248.06,211.21 248.76,211.04 249.46,210.89 250.16,209.89 250.86,210.81 251.55,210.82 252.25,210.45 252.95,209.81 253.65,210.74 254.34,209.88 255.04,210.24 255.74,210.19 256.44,210.51 257.13,210.52 257.83,209.28 258.53,209.9 259.23,209.41 259.93,210.16 260.62,209.51 261.32,210.24 262.02,209.82 262.72,209.11 263.41,209.6 264.11,210.04 264.81,209.26 265.51,209.21 266.21,208.55 266.9,209.32 267.6,208.76 268.3,208.02 269,208.08 269.69,207.62 270.39,207.58 271.09,206.47 271.79,204.84 272.49,204.85 273.18,202.86 273.88,203.18 274.58,202.1 275.28,201.53 275.97,197.81 276.67,202.86 277.37,195.48 278.07,198.91 278.77,196.01 279.46,196.37 280.16,191.8 280.86,197.95 281.56,192.02 282.25,191.49 282.95,191.35 283.65,189.01 284.35,187.61 285.04,191.51 285.74,192.83 286.44,191.09 287.14,188.35 287.84,179.77 288.53,189.94 289.23,190.26 289.93,194.48 290.63,192.39 291.32,197.27 292.02,201.63 292.72,202.62 293.42,202.22 294.12,205.48 294.81,205.57 295.51,207.5 296.21,208.98 296.91,209.91 297.6,210.43 298.3,210.57 299,211.34" fill="none" stroke="#2a2a2a" stroke-width="0.65" stroke-linejoin="round" /><polyline points="236.9,211.72 237.6,211.76 238.3,211.42 238.99,211.78 239.69,211.81 240.39,211.82 241.09,211.6 241.78,211.2 242.48,212.06 243.18,211.34 243.88,211.42 244.58,211.27 245.27,212.07 245.97,212 246.67,211.74 247.37,211.41 248.06,211.6 248.76,211.79 249.46,211.93 250.16,211.73 250.86,211.63 251.55,211.3 252.25,211.13 252.95,210.49 253.65,210.23 254.34,209.78 255.04,209.07 255.74,208.07 256.44,204.05 257.13,205.77 257.83,201.66 258.53,203.17 259.23,200.96 259.93,196.74 260.62,192.99 261.32,191.07 262.02,185.23 262.72,186.94 263.41,187.63 264.11,184.62 264.81,182.33 265.51,181.91 266.21,189.03 266.9,195.03 267.6,195.65 268.3,200.12 269,201.6 269.69,204.33 270.39,206.08 271.09,208.46 271.79,209.29 272.49,210.28 273.18,211 273.88,211.17 274.58,211.62 275.28,211.52 275.97,211.6 276.67,211.42 277.37,211.37 278.07,211.73 278.77,211.89 279.46,211.83 280.16,211.46 280.86,211.93 281.56,211.86 282.25,211.99 282.95,211.63 283.65,211.82 284.35,211.94 285.04,211.79 285.74,211.75 286.44,211.59 287.14,212 287.84,211.97 288.53,212.04 289.23,211.81 289.93,211.63 290.63,211.86 291.32,211.17 292.02,211.64 292.72,211.54 293.42,211.58 294.12,210.85 294.81,210.76 295.51,212.07 296.21,211.99 296.91,212.09 297.6,211.47 298.3,211.06 299,212.06" fill="none" stroke="#f22" stroke-width="0.65" stroke-linejoin="round" /><rect x="236.9" y="156.8" width="62.1" height="55.3" fill="none" stroke="#222" stroke-width="0.55"/><line x1="235.7" y1="212.1" x2="236.9" y2="212.1" stroke="#333" stroke-width="0.35" /><text x="235.2" y="212.1" font-size="2.7" text-anchor="middle" fill="#000" transform="rotate(-90 235.2 212.1)">0</text><line x1="235.7" y1="201.04" x2="236.9" y2="201.04" stroke="#333" stroke-width="0.35" /><text x="235.2" y="201.04" font-size="2.7" text-anchor="middle" fill="#000" transform="rotate(-90 235.2 201.04)">20</text><line x1="235.7" y1="189.98" x2="236.9" y2="189.98" stroke="#333" stroke-width="0.35" /><text x="235.2" y="189.98" font-size="2.7" text-anchor="middle" fill="#000" transform="rotate(-90 235.2 189.98)">40</text><line x1="235.7" y1="178.92" x2="236.9" y2="178.92" stroke="#333" stroke-width="0.35" /><text x="235.2" y="178.92" font-size="2.7" text-anchor="middle" fill="#000" transform="rotate(-90 235.2 178.92)">60</text><line x1="235.7" y1="167.86" x2="236.9" y2="167.86" stroke="#333" stroke-width="0.35" /><text x="235.2" y="167.86" font-size="2.7" text-anchor="middle" fill="#000" transform="rotate(-90 235.2 167.86)">80</text><line x1="235.7" y1="156.8" x2="236.9" y2="156.8" stroke="#333" stroke-width="0.35" /><text x="235.2" y="156.8" font-size="2.7" text-anchor="middle" fill="#000" transform="rotate(-90 235.2 156.8)">100</text><line x1="236.3" y1="209.89" x2="236.9" y2="209.89" stroke="#555" stroke-width="0.25" /><line x1="236.3" y1="207.68" x2="236.9" y2="207.68" stroke="#555" stroke-width="0.25" /><line x1="236.3" y1="205.46" x2="236.9" y2="205.46" stroke="#555" stroke-width="0.25" /><line x1="236.3" y1="203.25" x2="236.9" y2="203.25" stroke="#555" stroke-width="0.25" /><line x1="236.3" y1="201.04" x2="236.9" y2="201.04" stroke="#555" stroke-width="0.25" /><line x1="236.3" y1="198.83" x2="236.9" y2="198.83" stroke="#555" stroke-width="0.25" /><line x1="236.3" y1="196.62" x2="236.9" y2="196.62" stroke="#555" stroke-width="0.25" /><line x1="236.3" y1="194.4" x2="236.9" y2="194.4" stroke="#555" stroke-width="0.25" /><line x1="236.3" y1="192.19" x2="236.9" y2="192.19" stroke="#555" stroke-width="0.25" /><line x1="236.3" y1="189.98" x2="236.9" y2="189.98" stroke="#555" stroke-width="0.25" /><line x1="236.3" y1="187.77" x2="236.9" y2="187.77" stroke="#555" stroke-width="0.25" /><line x1="236.3" y1="185.56" x2="236.9" y2="185.56" stroke="#555" stroke-width="0.25" /><line x1="236.3" y1="183.34" x2="236.9" y2="183.34" stroke="#555" stroke-width="0.25" /><line x1="236.3" y1="181.13" x2="236.9" y2="181.13" stroke="#555" stroke-width="0.25" /><line x1="236.3" y1="178.92" x2="236.9" y2="178.92" stroke="#555" stroke-width="0.25" /><line x1="236.3" y1="176.71" x2="236.9" y2="176.71" stroke="#555" stroke-width="0.25" /><line x1="236.3" y1="174.5" x2="236.9" y2="174.5" stroke="#555" stroke-width="0.25" /><line x1="236.3" y1="172.28" x2="236.9" y2="172.28" stroke="#555" stroke-width="0.25" /><line x1="236.3" y1="170.07" x2="236.9" y2="170.07" stroke="#555" stroke-width="0.25" /><line x1="236.3" y1="167.86" x2="236.9" y2="167.86" stroke="#555" stroke-width="0.25" /><line x1="236.3" y1="165.65" x2="236.9" y2="165.65" stroke="#555" stroke-width="0.25" /><line x1="236.3" y1="163.44" x2="236.9" y2="163.44" stroke="#555" stroke-width="0.25" /><line x1="236.3" y1="161.22" x2="236.9" y2="161.22" stroke="#555" stroke-width="0.25" /><line x1="236.3" y1="159.01" x2="236.9" y2="159.01" stroke="#555" stroke-width="0.25" /><line x1="236.9" y1="212.1" x2="236.9" y2="213.3" stroke="#333" stroke-width="0.35" /><text x="236.9" y="216.1" font-size="2.7" text-anchor="middle" fill="#222">10<tspan font-size="1.6" dy="-1">0</tspan></text><line x1="241.57" y1="212.1" x2="241.57" y2="212.7" stroke="#555" stroke-width="0.25" /><line x1="244.31" y1="212.1" x2="244.31" y2="212.7" stroke="#555" stroke-width="0.25" /><line x1="246.25" y1="212.1" x2="246.25" y2="212.7" stroke="#555" stroke-width="0.25" /><line x1="247.75" y1="212.1" x2="247.75" y2="212.7" stroke="#555" stroke-width="0.25" /><line x1="248.98" y1="212.1" x2="248.98" y2="212.7" stroke="#555" stroke-width="0.25" /><line x1="250.02" y1="212.1" x2="250.02" y2="212.7" stroke="#555" stroke-width="0.25" /><line x1="250.92" y1="212.1" x2="250.92" y2="212.7" stroke="#555" stroke-width="0.25" /><line x1="251.71" y1="212.1" x2="251.71" y2="212.7" stroke="#555" stroke-width="0.25" /><line x1="252.43" y1="212.1" x2="252.43" y2="213.3" stroke="#333" stroke-width="0.35" /><text x="252.43" y="216.1" font-size="2.7" text-anchor="middle" fill="#222">10<tspan font-size="1.6" dy="-1">1</tspan></text><line x1="257.1" y1="212.1" x2="257.1" y2="212.7" stroke="#555" stroke-width="0.25" /><line x1="259.83" y1="212.1" x2="259.83" y2="212.7" stroke="#555" stroke-width="0.25" /><line x1="261.77" y1="212.1" x2="261.77" y2="212.7" stroke="#555" stroke-width="0.25" /><line x1="263.28" y1="212.1" x2="263.28" y2="212.7" stroke="#555" stroke-width="0.25" /><line x1="264.51" y1="212.1" x2="264.51" y2="212.7" stroke="#555" stroke-width="0.25" /><line x1="265.55" y1="212.1" x2="265.55" y2="212.7" stroke="#555" stroke-width="0.25" /><line x1="266.45" y1="212.1" x2="266.45" y2="212.7" stroke="#555" stroke-width="0.25" /><line x1="267.24" y1="212.1" x2="267.24" y2="212.7" stroke="#555" stroke-width="0.25" /><line x1="267.95" y1="212.1" x2="267.95" y2="213.3" stroke="#333" stroke-width="0.35" /><text x="267.95" y="216.1" font-size="2.7" text-anchor="middle" fill="#222">10<tspan font-size="1.6" dy="-1">2</tspan></text><line x1="272.62" y1="212.1" x2="272.62" y2="212.7" stroke="#555" stroke-width="0.25" /><line x1="275.36" y1="212.1" x2="275.36" y2="212.7" stroke="#555" stroke-width="0.25" /><line x1="277.3" y1="212.1" x2="277.3" y2="212.7" stroke="#555" stroke-width="0.25" /><line x1="278.8" y1="212.1" x2="278.8" y2="212.7" stroke="#555" stroke-width="0.25" /><line x1="280.03" y1="212.1" x2="280.03" y2="212.7" stroke="#555" stroke-width="0.25" /><line x1="281.07" y1="212.1" x2="281.07" y2="212.7" stroke="#555" stroke-width="0.25" /><line x1="281.97" y1="212.1" x2="281.97" y2="212.7" stroke="#555" stroke-width="0.25" /><line x1="282.76" y1="212.1" x2="282.76" y2="212.7" stroke="#555" stroke-width="0.25" /><line x1="283.48" y1="212.1" x2="283.48" y2="213.3" stroke="#333" stroke-width="0.35" /><text x="283.48" y="216.1" font-size="2.7" text-anchor="middle" fill="#222">10<tspan font-size="1.6" dy="-1">3</tspan></text><line x1="288.15" y1="212.1" x2="288.15" y2="212.7" stroke="#555" stroke-width="0.25" /><line x1="290.88" y1="212.1" x2="290.88" y2="212.7" stroke="#555" stroke-width="0.25" /><line x1="292.82" y1="212.1" x2="292.82" y2="212.7" stroke="#555" stroke-width="0.25" /><line x1="294.33" y1="212.1" x2="294.33" y2="212.7" stroke="#555" stroke-width="0.25" /><line x1="295.56" y1="212.1" x2="295.56" y2="212.7" stroke="#555" stroke-width="0.25" /><line x1="296.6" y1="212.1" x2="296.6" y2="212.7" stroke="#555" stroke-width="0.25" /><line x1="297.5" y1="212.1" x2="297.5" y2="212.7" stroke="#555" stroke-width="0.25" /><line x1="298.29" y1="212.1" x2="298.29" y2="212.7" stroke="#555" stroke-width="0.25" /><line x1="299" y1="212.1" x2="299" y2="213.3" stroke="#333" stroke-width="0.35" /><text x="299" y="216.1" font-size="2.7" text-anchor="middle" fill="#222">10<tspan font-size="1.6" dy="-1">4</tspan></text><text x="267.95" y="219.1" font-size="2.4" text-anchor="middle" fill="#222">FL4-H</text><text x="230.9" y="187.45" font-size="2.8" text-anchor="middle" fill="#000" transform="rotate(-90 230.9 187.45)">Counts</text><text x="267.45" y="154.9" font-size="6.6" font-weight="bold" text-anchor="middle" fill="#111">SDC3</text><line x1="241.5" y1="161.6" x2="252.1" y2="161.6" stroke="#444" stroke-width="0.7" /><line x1="241.5" y1="167.5" x2="252.1" y2="167.5" stroke="#f22" stroke-width="0.7" /><text x="254.1" y="163.2" font-size="4.6" fill="#111">tau</text><text x="254.1" y="169.1" font-size="4.6" fill="#111">NaClO<tspan font-size="2.8" dy="1">3</tspan><tspan dy="-1"> + tau</tspan></text>
<polyline points="311.4,211.85 312.1,211.66 312.8,211.71 313.49,211.76 314.19,211.29 314.89,211.3 315.59,211.62 316.28,210.74 316.98,210.79 317.68,210.54 318.38,211.52 319.08,211.26 319.77,211.23 320.47,209.98 321.17,210.62 321.87,210.94 322.56,210.7 323.26,210.24 323.96,210.79 324.66,210.74 325.36,210.26 326.05,210.16 326.75,210.41 327.45,210.3 328.15,210.32 328.84,209.77 329.54,210.25 330.24,210.1 330.94,209.95 331.63,209.91 332.33,209.39 333.03,209.18 333.73,208.82 334.43,209.19 335.12,208.67 335.82,208.35 336.52,208.88 337.22,207.45 337.91,207.77 338.61,207.07 339.31,206.28 340.01,207.26 340.71,208.06 341.4,205.87 342.1,205.54 342.8,203.74 343.5,205.09 344.19,203.67 344.89,202.22 345.59,201.66 346.29,201 346.99,201.99 347.68,200.6 348.38,201.49 349.08,200.36 349.78,199.65 350.47,198.77 351.17,197.56 351.87,197.37 352.57,198.01 353.27,197.24 353.96,196.76 354.66,198.01 355.36,196.68 356.06,193 356.75,190.76 357.45,192.94 358.15,196.48 358.85,195.85 359.54,194.54 360.24,192.56 360.94,197.97 361.64,198.98 362.34,199.64 363.03,203.43 363.73,200.21 364.43,203.26 365.13,204.97 365.82,206.83 366.52,207.25 367.22,208.24 367.92,207.99 368.62,209.88 369.31,209.73 370.01,210.2 370.71,210.26 371.41,211.24 372.1,211.21 372.8,211.79 373.5,211.12" fill="none" stroke="#2a2a2a" stroke-width="0.65" stroke-linejoin="round" /><polyline points="311.4,212.09 312.1,211.63 312.8,211.6 313.49,211.96 314.19,211.89 314.89,211.53 315.59,212.05 316.28,211.68 316.98,211.91 317.68,211.52 318.38,212.09 319.08,211.83 319.77,212.02 320.47,211.33 321.17,211.51 321.87,210.96 322.56,212.07 323.26,211.61 323.96,211.2 324.66,211.99 325.36,211.5 326.05,211.64 326.75,211.2 327.45,211.2 328.15,210.17 328.84,209.85 329.54,208.87 330.24,207.17 330.94,204.94 331.63,200.18 332.33,199.04 333.03,193.08 333.73,190.24 334.43,183.76 335.12,186.37 335.82,181.37 336.52,182.11 337.22,178.06 337.91,189.04 338.61,192.01 339.31,194.41 340.01,199.17 340.71,202.55 341.4,204.8 342.1,208.76 342.8,209.62 343.5,210.1 344.19,211.44 344.89,211.65 345.59,211.91 346.29,212 346.99,211.48 347.68,211.44 348.38,211.87 349.08,212 349.78,211.83 350.47,211.17 351.17,211.9 351.87,211.77 352.57,211.98 353.27,211.46 353.96,211.74 354.66,211.86 355.36,211.62 356.06,211.29 356.75,211.13 357.45,211.12 358.15,211.44 358.85,212 359.54,211.23 360.24,211.25 360.94,211.91 361.64,211.94 362.34,211.41 363.03,211.16 363.73,211.95 364.43,211.88 365.13,211.27 365.82,211.53 366.52,211.8 367.22,212.07 367.92,211.98 368.62,211.71 369.31,212.08 370.01,211.53 370.71,212.07 371.41,212.06 372.1,211.39 372.8,211.11 373.5,211.75" fill="none" stroke="#f22" stroke-width="0.65" stroke-linejoin="round" /><rect x="311.4" y="156.8" width="62.1" height="55.3" fill="none" stroke="#222" stroke-width="0.55"/><line x1="310.2" y1="212.1" x2="311.4" y2="212.1" stroke="#333" stroke-width="0.35" /><text x="309.7" y="212.1" font-size="2.7" text-anchor="middle" fill="#000" transform="rotate(-90 309.7 212.1)">0</text><line x1="310.2" y1="201.04" x2="311.4" y2="201.04" stroke="#333" stroke-width="0.35" /><text x="309.7" y="201.04" font-size="2.7" text-anchor="middle" fill="#000" transform="rotate(-90 309.7 201.04)">20</text><line x1="310.2" y1="189.98" x2="311.4" y2="189.98" stroke="#333" stroke-width="0.35" /><text x="309.7" y="189.98" font-size="2.7" text-anchor="middle" fill="#000" transform="rotate(-90 309.7 189.98)">40</text><line x1="310.2" y1="178.92" x2="311.4" y2="178.92" stroke="#333" stroke-width="0.35" /><text x="309.7" y="178.92" font-size="2.7" text-anchor="middle" fill="#000" transform="rotate(-90 309.7 178.92)">60</text><line x1="310.2" y1="167.86" x2="311.4" y2="167.86" stroke="#333" stroke-width="0.35" /><text x="309.7" y="167.86" font-size="2.7" text-anchor="middle" fill="#000" transform="rotate(-90 309.7 167.86)">80</text><line x1="310.2" y1="156.8" x2="311.4" y2="156.8" stroke="#333" stroke-width="0.35" /><text x="309.7" y="156.8" font-size="2.7" text-anchor="middle" fill="#000" transform="rotate(-90 309.7 156.8)">100</text><line x1="310.8" y1="209.89" x2="311.4" y2="209.89" stroke="#555" stroke-width="0.25" /><line x1="310.8" y1="207.68" x2="311.4" y2="207.68" stroke="#555" stroke-width="0.25" /><line x1="310.8" y1="205.46" x2="311.4" y2="205.46" stroke="#555" stroke-width="0.25" /><line x1="310.8" y1="203.25" x2="311.4" y2="203.25" stroke="#555" stroke-width="0.25" /><line x1="310.8" y1="201.04" x2="311.4" y2="201.04" stroke="#555" stroke-width="0.25" /><line x1="310.8" y1="198.83" x2="311.4" y2="198.83" stroke="#555" stroke-width="0.25" /><line x1="310.8" y1="196.62" x2="311.4" y2="196.62" stroke="#555" stroke-width="0.25" /><line x1="310.8" y1="194.4" x2="311.4" y2="194.4" stroke="#555" stroke-width="0.25" /><line x1="310.8" y1="192.19" x2="311.4" y2="192.19" stroke="#555" stroke-width="0.25" /><line x1="310.8" y1="189.98" x2="311.4" y2="189.98" stroke="#555" stroke-width="0.25" /><line x1="310.8" y1="187.77" x2="311.4" y2="187.77" stroke="#555" stroke-width="0.25" /><line x1="310.8" y1="185.56" x2="311.4" y2="185.56" stroke="#555" stroke-width="0.25" /><line x1="310.8" y1="183.34" x2="311.4" y2="183.34" stroke="#555" stroke-width="0.25" /><line x1="310.8" y1="181.13" x2="311.4" y2="181.13" stroke="#555" stroke-width="0.25" /><line x1="310.8" y1="178.92" x2="311.4" y2="178.92" stroke="#555" stroke-width="0.25" /><line x1="310.8" y1="176.71" x2="311.4" y2="176.71" stroke="#555" stroke-width="0.25" /><line x1="310.8" y1="174.5" x2="311.4" y2="174.5" stroke="#555" stroke-width="0.25" /><line x1="310.8" y1="172.28" x2="311.4" y2="172.28" stroke="#555" stroke-width="0.25" /><line x1="310.8" y1="170.07" x2="311.4" y2="170.07" stroke="#555" stroke-width="0.25" /><line x1="310.8" y1="167.86" x2="311.4" y2="167.86" stroke="#555" stroke-width="0.25" /><line x1="310.8" y1="165.65" x2="311.4" y2="165.65" stroke="#555" stroke-width="0.25" /><line x1="310.8" y1="163.44" x2="311.4" y2="163.44" stroke="#555" stroke-width="0.25" /><line x1="310.8" y1="161.22" x2="311.4" y2="161.22" stroke="#555" stroke-width="0.25" /><line x1="310.8" y1="159.01" x2="311.4" y2="159.01" stroke="#555" stroke-width="0.25" /><line x1="311.4" y1="212.1" x2="311.4" y2="213.3" stroke="#333" stroke-width="0.35" /><text x="311.4" y="216.1" font-size="2.7" text-anchor="middle" fill="#222">10<tspan font-size="1.6" dy="-1">0</tspan></text><line x1="316.07" y1="212.1" x2="316.07" y2="212.7" stroke="#555" stroke-width="0.25" /><line x1="318.81" y1="212.1" x2="318.81" y2="212.7" stroke="#555" stroke-width="0.25" /><line x1="320.75" y1="212.1" x2="320.75" y2="212.7" stroke="#555" stroke-width="0.25" /><line x1="322.25" y1="212.1" x2="322.25" y2="212.7" stroke="#555" stroke-width="0.25" /><line x1="323.48" y1="212.1" x2="323.48" y2="212.7" stroke="#555" stroke-width="0.25" /><line x1="324.52" y1="212.1" x2="324.52" y2="212.7" stroke="#555" stroke-width="0.25" /><line x1="325.42" y1="212.1" x2="325.42" y2="212.7" stroke="#555" stroke-width="0.25" /><line x1="326.21" y1="212.1" x2="326.21" y2="212.7" stroke="#555" stroke-width="0.25" /><line x1="326.92" y1="212.1" x2="326.92" y2="213.3" stroke="#333" stroke-width="0.35" /><text x="326.92" y="216.1" font-size="2.7" text-anchor="middle" fill="#222">10<tspan font-size="1.6" dy="-1">1</tspan></text><line x1="331.6" y1="212.1" x2="331.6" y2="212.7" stroke="#555" stroke-width="0.25" /><line x1="334.33" y1="212.1" x2="334.33" y2="212.7" stroke="#555" stroke-width="0.25" /><line x1="336.27" y1="212.1" x2="336.27" y2="212.7" stroke="#555" stroke-width="0.25" /><line x1="337.78" y1="212.1" x2="337.78" y2="212.7" stroke="#555" stroke-width="0.25" /><line x1="339.01" y1="212.1" x2="339.01" y2="212.7" stroke="#555" stroke-width="0.25" /><line x1="340.05" y1="212.1" x2="340.05" y2="212.7" stroke="#555" stroke-width="0.25" /><line x1="340.95" y1="212.1" x2="340.95" y2="212.7" stroke="#555" stroke-width="0.25" /><line x1="341.74" y1="212.1" x2="341.74" y2="212.7" stroke="#555" stroke-width="0.25" /><line x1="342.45" y1="212.1" x2="342.45" y2="213.3" stroke="#333" stroke-width="0.35" /><text x="342.45" y="216.1" font-size="2.7" text-anchor="middle" fill="#222">10<tspan font-size="1.6" dy="-1">2</tspan></text><line x1="347.12" y1="212.1" x2="347.12" y2="212.7" stroke="#555" stroke-width="0.25" /><line x1="349.86" y1="212.1" x2="349.86" y2="212.7" stroke="#555" stroke-width="0.25" /><line x1="351.8" y1="212.1" x2="351.8" y2="212.7" stroke="#555" stroke-width="0.25" /><line x1="353.3" y1="212.1" x2="353.3" y2="212.7" stroke="#555" stroke-width="0.25" /><line x1="354.53" y1="212.1" x2="354.53" y2="212.7" stroke="#555" stroke-width="0.25" /><line x1="355.57" y1="212.1" x2="355.57" y2="212.7" stroke="#555" stroke-width="0.25" /><line x1="356.47" y1="212.1" x2="356.47" y2="212.7" stroke="#555" stroke-width="0.25" /><line x1="357.26" y1="212.1" x2="357.26" y2="212.7" stroke="#555" stroke-width="0.25" /><line x1="357.97" y1="212.1" x2="357.97" y2="213.3" stroke="#333" stroke-width="0.35" /><text x="357.97" y="216.1" font-size="2.7" text-anchor="middle" fill="#222">10<tspan font-size="1.6" dy="-1">3</tspan></text><line x1="362.65" y1="212.1" x2="362.65" y2="212.7" stroke="#555" stroke-width="0.25" /><line x1="365.38" y1="212.1" x2="365.38" y2="212.7" stroke="#555" stroke-width="0.25" /><line x1="367.32" y1="212.1" x2="367.32" y2="212.7" stroke="#555" stroke-width="0.25" /><line x1="368.83" y1="212.1" x2="368.83" y2="212.7" stroke="#555" stroke-width="0.25" /><line x1="370.06" y1="212.1" x2="370.06" y2="212.7" stroke="#555" stroke-width="0.25" /><line x1="371.1" y1="212.1" x2="371.1" y2="212.7" stroke="#555" stroke-width="0.25" /><line x1="372" y1="212.1" x2="372" y2="212.7" stroke="#555" stroke-width="0.25" /><line x1="372.79" y1="212.1" x2="372.79" y2="212.7" stroke="#555" stroke-width="0.25" /><line x1="373.5" y1="212.1" x2="373.5" y2="213.3" stroke="#333" stroke-width="0.35" /><text x="373.5" y="216.1" font-size="2.7" text-anchor="middle" fill="#222">10<tspan font-size="1.6" dy="-1">4</tspan></text><text x="342.45" y="219.1" font-size="2.4" text-anchor="middle" fill="#222">FL4-H</text><text x="305.4" y="187.45" font-size="2.8" text-anchor="middle" fill="#000" transform="rotate(-90 305.4 187.45)">Counts</text><text x="341.95" y="154.9" font-size="6.6" font-weight="bold" text-anchor="middle" fill="#111">SDC4</text><line x1="316" y1="161.6" x2="326.6" y2="161.6" stroke="#444" stroke-width="0.7" /><line x1="316" y1="167.5" x2="326.6" y2="167.5" stroke="#f22" stroke-width="0.7" /><text x="328.6" y="163.2" font-size="4.6" fill="#111">tau</text><text x="328.6" y="169.1" font-size="4.6" fill="#111">NaClO<tspan font-size="2.8" dy="1">3</tspan><tspan dy="-1"> + tau</tspan></text>
</g>
<g id="pd">
<line x1="418.8" y1="12.5" x2="418.8" y2="209" stroke="#333" stroke-width="0.8" />
<line x1="418.45" y1="209" x2="680" y2="209" stroke="#333" stroke-width="0.8" />
<line x1="416" y1="209" x2="418.8" y2="209" stroke="#333" stroke-width="0.7" />
<text x="414.4" y="212.1" font-size="8.8" text-anchor="end" fill="#1a1a1a">0</text>
<line x1="416" y1="171.55" x2="418.8" y2="171.55" stroke="#333" stroke-width="0.7" />
<text x="414.4" y="174.65" font-size="8.8" text-anchor="end" fill="#1a1a1a">20</text>
<line x1="416" y1="134.1" x2="418.8" y2="134.1" stroke="#333" stroke-width="0.7" />
<text x="414.4" y="137.2" font-size="8.8" text-anchor="end" fill="#1a1a1a">40</text>
<line x1="416" y1="96.65" x2="418.8" y2="96.65" stroke="#333" stroke-width="0.7" />
<text x="414.4" y="99.75" font-size="8.8" text-anchor="end" fill="#1a1a1a">60</text>
<line x1="416" y1="59.2" x2="418.8" y2="59.2" stroke="#333" stroke-width="0.7" />
<text x="414.4" y="62.3" font-size="8.8" text-anchor="end" fill="#1a1a1a">80</text>
<line x1="416" y1="21.75" x2="418.8" y2="21.75" stroke="#333" stroke-width="0.7" />
<text x="414.4" y="24.85" font-size="8.8" text-anchor="end" fill="#1a1a1a">100</text>
<text x="391.9" y="116" font-size="11.6" font-weight="bold" text-anchor="middle" transform="rotate(-90 391.9 116)">Percent inhibition (%)</text>
<line x1="439.55" y1="100.58" x2="439.55" y2="108.07" stroke="#2a2a2a" stroke-width="0.65" /><line x1="436.75" y1="100.58" x2="442.35" y2="100.58" stroke="#2a2a2a" stroke-width="0.65" />
<rect x="435.8" y="108.07" width="7.5" height="100.93" fill="#e2e2e2" stroke="#333" stroke-width="0.5"/>
<text x="439.55" y="96.98" font-size="5.2" font-weight="bold" text-anchor="middle" fill="#222">***</text>
<line x1="451.4" y1="152.64" x2="451.4" y2="167.06" stroke="#2a2a2a" stroke-width="0.65" /><line x1="448.6" y1="152.64" x2="454.2" y2="152.64" stroke="#2a2a2a" stroke-width="0.65" />
<rect x="447.65" y="167.06" width="7.5" height="41.94" fill="#808080" stroke="#333" stroke-width="0.5"/>
<text x="451.4" y="149.04" font-size="5.2" font-weight="bold" text-anchor="middle" fill="#222">*</text>
<line x1="463.25" y1="92.53" x2="463.25" y2="104.51" stroke="#2a2a2a" stroke-width="0.65" /><line x1="460.45" y1="92.53" x2="466.05" y2="92.53" stroke="#2a2a2a" stroke-width="0.65" />
<rect x="459.5" y="104.51" width="7.5" height="104.49" fill="#000" stroke="#000" stroke-width="0.5"/>
<text x="463.25" y="88.93" font-size="5.2" font-weight="bold" text-anchor="middle" fill="#222">***</text>
<text x="450.8" y="224" font-size="10" font-weight="bold" text-anchor="middle">K562</text>
<line x1="488.75" y1="90.47" x2="488.75" y2="105.45" stroke="#2a2a2a" stroke-width="0.65" /><line x1="485.95" y1="90.47" x2="491.55" y2="90.47" stroke="#2a2a2a" stroke-width="0.65" />
<rect x="485" y="105.45" width="7.5" height="103.55" fill="#e2e2e2" stroke="#333" stroke-width="0.5"/>
<text x="488.75" y="86.87" font-size="5.2" font-weight="bold" text-anchor="middle" fill="#222">**</text>
<line x1="500.6" y1="78.3" x2="500.6" y2="87.47" stroke="#2a2a2a" stroke-width="0.65" /><line x1="497.8" y1="78.3" x2="503.4" y2="78.3" stroke="#2a2a2a" stroke-width="0.65" />
<rect x="496.85" y="87.47" width="7.5" height="121.53" fill="#808080" stroke="#333" stroke-width="0.5"/>
<text x="500.6" y="74.7" font-size="5.2" font-weight="bold" text-anchor="middle" fill="#222">***</text>
<line x1="512.45" y1="64.63" x2="512.45" y2="75.12" stroke="#2a2a2a" stroke-width="0.65" /><line x1="509.65" y1="64.63" x2="515.25" y2="64.63" stroke="#2a2a2a" stroke-width="0.65" />
<rect x="508.7" y="75.12" width="7.5" height="133.88" fill="#000" stroke="#000" stroke-width="0.5"/>
<text x="512.45" y="61.03" font-size="5.2" font-weight="bold" text-anchor="middle" fill="#222">***</text>
<text x="500" y="224" font-size="10" font-weight="bold" text-anchor="middle">SDC1</text>
<line x1="537.95" y1="71.18" x2="537.95" y2="90.47" stroke="#2a2a2a" stroke-width="0.65" /><line x1="535.15" y1="71.18" x2="540.75" y2="71.18" stroke="#2a2a2a" stroke-width="0.65" />
<rect x="534.2" y="90.47" width="7.5" height="118.53" fill="#e2e2e2" stroke="#333" stroke-width="0.5"/>
<text x="537.95" y="67.58" font-size="5.2" font-weight="bold" text-anchor="middle" fill="#222">**</text>
<line x1="549.8" y1="87.47" x2="549.8" y2="96.28" stroke="#2a2a2a" stroke-width="0.65" /><line x1="547" y1="87.47" x2="552.6" y2="87.47" stroke="#2a2a2a" stroke-width="0.65" />
<rect x="546.05" y="96.28" width="7.5" height="112.72" fill="#808080" stroke="#333" stroke-width="0.5"/>
<text x="549.8" y="83.87" font-size="5.2" font-weight="bold" text-anchor="middle" fill="#222">***</text>
<line x1="561.65" y1="59.95" x2="561.65" y2="65.75" stroke="#2a2a2a" stroke-width="0.65" /><line x1="558.85" y1="59.95" x2="564.45" y2="59.95" stroke="#2a2a2a" stroke-width="0.65" />
<rect x="557.9" y="65.75" width="7.5" height="143.25" fill="#000" stroke="#000" stroke-width="0.5"/>
<text x="561.65" y="56.35" font-size="5.2" font-weight="bold" text-anchor="middle" fill="#222">***</text>
<text x="549.2" y="224" font-size="10" font-weight="bold" text-anchor="middle">SDC2</text>
<line x1="587.15" y1="86.16" x2="587.15" y2="94.96" stroke="#2a2a2a" stroke-width="0.65" /><line x1="584.35" y1="86.16" x2="589.95" y2="86.16" stroke="#2a2a2a" stroke-width="0.65" />
<rect x="583.4" y="94.96" width="7.5" height="114.04" fill="#e2e2e2" stroke="#333" stroke-width="0.5"/>
<text x="587.15" y="82.56" font-size="5.2" font-weight="bold" text-anchor="middle" fill="#222">***</text>
<line x1="599" y1="84.48" x2="599" y2="89.16" stroke="#2a2a2a" stroke-width="0.65" /><line x1="596.2" y1="84.48" x2="601.8" y2="84.48" stroke="#2a2a2a" stroke-width="0.65" />
<rect x="595.25" y="89.16" width="7.5" height="119.84" fill="#808080" stroke="#333" stroke-width="0.5"/>
<text x="599" y="80.88" font-size="5.2" font-weight="bold" text-anchor="middle" fill="#222">***</text>
<line x1="610.85" y1="60.14" x2="610.85" y2="62.94" stroke="#2a2a2a" stroke-width="0.65" /><line x1="608.05" y1="60.14" x2="613.65" y2="60.14" stroke="#2a2a2a" stroke-width="0.65" />
<rect x="607.1" y="62.94" width="7.5" height="146.06" fill="#000" stroke="#000" stroke-width="0.5"/>
<text x="610.85" y="56.54" font-size="5.2" font-weight="bold" text-anchor="middle" fill="#222">***</text>
<text x="598.4" y="224" font-size="10" font-weight="bold" text-anchor="middle">SDC3</text>
<line x1="636.35" y1="76.99" x2="636.35" y2="88.79" stroke="#2a2a2a" stroke-width="0.65" /><line x1="633.55" y1="76.99" x2="639.15" y2="76.99" stroke="#2a2a2a" stroke-width="0.65" />
<rect x="632.6" y="88.79" width="7.5" height="120.21" fill="#e2e2e2" stroke="#333" stroke-width="0.5"/>
<text x="636.35" y="73.39" font-size="5.2" font-weight="bold" text-anchor="middle" fill="#222">***</text>
<line x1="648.2" y1="70.25" x2="648.2" y2="80.92" stroke="#2a2a2a" stroke-width="0.65" /><line x1="645.4" y1="70.25" x2="651" y2="70.25" stroke="#2a2a2a" stroke-width="0.65" />
<rect x="644.45" y="80.92" width="7.5" height="128.08" fill="#808080" stroke="#333" stroke-width="0.5"/>
<text x="648.2" y="66.65" font-size="5.2" font-weight="bold" text-anchor="middle" fill="#222">***</text>
<line x1="660.05" y1="54.52" x2="660.05" y2="61.26" stroke="#2a2a2a" stroke-width="0.65" /><line x1="657.25" y1="54.52" x2="662.85" y2="54.52" stroke="#2a2a2a" stroke-width="0.65" />
<rect x="656.3" y="61.26" width="7.5" height="147.74" fill="#000" stroke="#000" stroke-width="0.5"/>
<text x="660.05" y="50.92" font-size="5.2" font-weight="bold" text-anchor="middle" fill="#222">***</text>
<text x="647.6" y="224" font-size="10" font-weight="bold" text-anchor="middle">SDC4</text>
<rect x="424.2" y="12.6" width="81.3" height="32.4" fill="#fff" stroke="#444" stroke-width="0.55"/>
<rect x="428.4" y="16.4" width="16.6" height="5.4" fill="#e2e2e2" stroke="#222" stroke-width="0.5"/>
<text x="449.6" y="21.6" font-size="7.2" font-weight="bold" fill="#111">HS expression</text>
<rect x="428.4" y="26.1" width="16.6" height="5.4" fill="#808080" stroke="#222" stroke-width="0.5"/>
<text x="449.6" y="31.3" font-size="7.2" font-weight="bold" fill="#111">α-syn uptake</text>
<rect x="428.4" y="35.8" width="16.6" height="5.4" fill="#000" stroke="#222" stroke-width="0.5"/>
<text x="449.6" y="41" font-size="7.2" font-weight="bold" fill="#111">tau uptake</text>
<rect x="424.2" y="49.6" width="47.3" height="27.9" fill="#fff" stroke="#444" stroke-width="0.55"/>
<text x="425.9" y="57.6" font-size="7.6" fill="#111">* P &lt; 0,05</text>
<text x="425.9" y="66.35" font-size="7.6" fill="#111">** P &lt; 0,01</text>
<text x="425.9" y="75.1" font-size="7.6" fill="#111">*** P &lt; 0,001</text>
</g>
<g id="pe">
<text x="17.5" y="252.6" font-size="9.2" font-weight="bold" fill="#111">SDC4</text>
<text x="22.8" y="276.1" font-size="8.2" font-weight="bold" fill="#111" font-style="italic" letter-spacing="0.02">pSi4-GFP</text>
<text x="22.8" y="298.3" font-size="8.2" font-weight="bold" fill="#111" font-style="italic" letter-spacing="0.02">HSA.pSi4-GFP</text>
<text x="22.8" y="318.1" font-size="8.2" font-weight="bold" fill="#111" font-style="italic" letter-spacing="0.02">CBD.pSi4-GFP</text>
<text x="22.8" y="341.8" font-size="8.2" font-weight="bold" fill="#111" font-style="italic" letter-spacing="0.02">SDC4-GFP</text>
<line x1="207" y1="236.1" x2="224.8" y2="236.1" stroke="#505050" stroke-width="0.6" stroke-dasharray="2.8 0.7"/><line x1="207" y1="237.9" x2="224.8" y2="237.9" stroke="#505050" stroke-width="0.6" stroke-dasharray="2.8 0.7"/><circle cx="205" cy="237" r="2.75" fill="#6a6a6a" stroke="#4a4a4a" stroke-width="0.4"/><circle cx="226.8" cy="237" r="2.75" fill="#6a6a6a" stroke="#4a4a4a" stroke-width="0.4"/><line x1="207" y1="242.1" x2="224.8" y2="242.1" stroke="#505050" stroke-width="0.6" stroke-dasharray="2.8 0.7"/><line x1="207" y1="243.9" x2="224.8" y2="243.9" stroke="#505050" stroke-width="0.6" stroke-dasharray="2.8 0.7"/><circle cx="205" cy="243" r="2.75" fill="#6a6a6a" stroke="#4a4a4a" stroke-width="0.4"/><circle cx="226.8" cy="243" r="2.75" fill="#6a6a6a" stroke="#4a4a4a" stroke-width="0.4"/>
<line x1="208" y1="257.1" x2="225.8" y2="257.1" stroke="#505050" stroke-width="0.6" stroke-dasharray="2.8 0.7"/><line x1="208" y1="258.9" x2="225.8" y2="258.9" stroke="#505050" stroke-width="0.6" stroke-dasharray="2.8 0.7"/><circle cx="206" cy="258" r="2.75" fill="#6a6a6a" stroke="#4a4a4a" stroke-width="0.4"/><circle cx="227.8" cy="258" r="2.75" fill="#6a6a6a" stroke="#4a4a4a" stroke-width="0.4"/><line x1="208" y1="262.9" x2="225.8" y2="262.9" stroke="#505050" stroke-width="0.6" stroke-dasharray="2.8 0.7"/><line x1="208" y1="264.7" x2="225.8" y2="264.7" stroke="#505050" stroke-width="0.6" stroke-dasharray="2.8 0.7"/><circle cx="206" cy="263.8" r="2.75" fill="#6a6a6a" stroke="#4a4a4a" stroke-width="0.4"/><circle cx="227.8" cy="263.8" r="2.75" fill="#6a6a6a" stroke="#4a4a4a" stroke-width="0.4"/>
<line x1="208" y1="280.4" x2="225.8" y2="280.4" stroke="#505050" stroke-width="0.6" stroke-dasharray="2.8 0.7"/><line x1="208" y1="282.2" x2="225.8" y2="282.2" stroke="#505050" stroke-width="0.6" stroke-dasharray="2.8 0.7"/><circle cx="206" cy="281.3" r="2.75" fill="#6a6a6a" stroke="#4a4a4a" stroke-width="0.4"/><circle cx="227.8" cy="281.3" r="2.75" fill="#6a6a6a" stroke="#4a4a4a" stroke-width="0.4"/><line x1="208" y1="286.1" x2="225.8" y2="286.1" stroke="#505050" stroke-width="0.6" stroke-dasharray="2.8 0.7"/><line x1="208" y1="287.9" x2="225.8" y2="287.9" stroke="#505050" stroke-width="0.6" stroke-dasharray="2.8 0.7"/><circle cx="206" cy="287" r="2.75" fill="#6a6a6a" stroke="#4a4a4a" stroke-width="0.4"/><circle cx="227.8" cy="287" r="2.75" fill="#6a6a6a" stroke="#4a4a4a" stroke-width="0.4"/>
<line x1="208.6" y1="303.6" x2="226.4" y2="303.6" stroke="#505050" stroke-width="0.6" stroke-dasharray="2.8 0.7"/><line x1="208.6" y1="305.4" x2="226.4" y2="305.4" stroke="#505050" stroke-width="0.6" stroke-dasharray="2.8 0.7"/><circle cx="206.6" cy="304.5" r="2.75" fill="#6a6a6a" stroke="#4a4a4a" stroke-width="0.4"/><circle cx="228.4" cy="304.5" r="2.75" fill="#6a6a6a" stroke="#4a4a4a" stroke-width="0.4"/><line x1="208.6" y1="309.3" x2="226.4" y2="309.3" stroke="#505050" stroke-width="0.6" stroke-dasharray="2.8 0.7"/><line x1="208.6" y1="311.1" x2="226.4" y2="311.1" stroke="#505050" stroke-width="0.6" stroke-dasharray="2.8 0.7"/><circle cx="206.6" cy="310.2" r="2.75" fill="#6a6a6a" stroke="#4a4a4a" stroke-width="0.4"/><circle cx="228.4" cy="310.2" r="2.75" fill="#6a6a6a" stroke="#4a4a4a" stroke-width="0.4"/>
<line x1="208.6" y1="325.4" x2="226.4" y2="325.4" stroke="#505050" stroke-width="0.6" stroke-dasharray="2.8 0.7"/><line x1="208.6" y1="327.2" x2="226.4" y2="327.2" stroke="#505050" stroke-width="0.6" stroke-dasharray="2.8 0.7"/><circle cx="206.6" cy="326.3" r="2.75" fill="#6a6a6a" stroke="#4a4a4a" stroke-width="0.4"/><circle cx="228.4" cy="326.3" r="2.75" fill="#6a6a6a" stroke="#4a4a4a" stroke-width="0.4"/><line x1="208.6" y1="331.1" x2="226.4" y2="331.1" stroke="#505050" stroke-width="0.6" stroke-dasharray="2.8 0.7"/><line x1="208.6" y1="332.9" x2="226.4" y2="332.9" stroke="#505050" stroke-width="0.6" stroke-dasharray="2.8 0.7"/><circle cx="206.6" cy="332" r="2.75" fill="#6a6a6a" stroke="#4a4a4a" stroke-width="0.4"/><circle cx="228.4" cy="332" r="2.75" fill="#6a6a6a" stroke="#4a4a4a" stroke-width="0.4"/>
<line x1="208.6" y1="346.7" x2="226.4" y2="346.7" stroke="#505050" stroke-width="0.6" stroke-dasharray="2.8 0.7"/><line x1="208.6" y1="348.5" x2="226.4" y2="348.5" stroke="#505050" stroke-width="0.6" stroke-dasharray="2.8 0.7"/><circle cx="206.6" cy="347.6" r="2.75" fill="#6a6a6a" stroke="#4a4a4a" stroke-width="0.4"/><circle cx="228.4" cy="347.6" r="2.75" fill="#6a6a6a" stroke="#4a4a4a" stroke-width="0.4"/><line x1="208.6" y1="352.6" x2="226.4" y2="352.6" stroke="#505050" stroke-width="0.6" stroke-dasharray="2.8 0.7"/><line x1="208.6" y1="354.4" x2="226.4" y2="354.4" stroke="#505050" stroke-width="0.6" stroke-dasharray="2.8 0.7"/><circle cx="206.6" cy="353.5" r="2.75" fill="#6a6a6a" stroke="#4a4a4a" stroke-width="0.4"/><circle cx="228.4" cy="353.5" r="2.75" fill="#6a6a6a" stroke="#4a4a4a" stroke-width="0.4"/>
<rect x="128.8" y="247.6" width="10.7" height="6.9" fill="#b4b4b4" stroke="#555" stroke-width="0.5"/>
<text x="134.15" y="252.95" font-size="5.7" text-anchor="middle" fill="#1a1a1a">Si</text>
<rect x="139.5" y="247.6" width="22.3" height="6.9" fill="#a0a0a0" stroke="#555" stroke-width="0.5"/>
<text x="150.65" y="252.95" font-size="5.7" text-anchor="middle" fill="#1a1a1a">HSA</text>
<line x1="147.7" y1="254.5" x2="147.7" y2="260.8" stroke="#111" stroke-width="0.95" /><line x1="152.1" y1="254.5" x2="152.1" y2="260.8" stroke="#111" stroke-width="0.95" /><line x1="154.4" y1="254.5" x2="154.4" y2="260.8" stroke="#111" stroke-width="0.95" />
<rect x="161.8" y="247.6" width="47" height="6.9" fill="#fff" stroke="#555" stroke-width="0.5"/>
<text x="185.3" y="253.05" font-size="6.2" text-anchor="middle" fill="#000" textLength="26" lengthAdjust="spacingAndGlyphs">CBD</text>
<rect x="208.8" y="247.6" width="15.5" height="6.9" fill="#000" stroke="#000" stroke-width="0.5"/>
<text x="216.55" y="252.95" font-size="6" text-anchor="middle" fill="#fff">TM</text>
<rect x="224.3" y="247.6" width="20" height="6.9" fill="#fff" stroke="#555" stroke-width="0.5"/>
<text x="234.3" y="252.95" font-size="6.2" text-anchor="middle" fill="#111">CD</text>
<rect x="203.5" y="270" width="5.3" height="6.8" fill="#fff" stroke="#555" stroke-width="0.5"/>
<rect x="164.4" y="270" width="10.6" height="6.8" fill="#b4b4b4" stroke="#555" stroke-width="0.5"/>
<text x="169.7" y="275.25" font-size="5.7" text-anchor="middle" fill="#1a1a1a">Si</text>
<ellipse cx="189.4" cy="273.4" rx="14.3" ry="5.7" fill="#fff" stroke="#444" stroke-width="0.55"/>
<text x="189.6" y="275.5" font-size="6.6" text-anchor="middle" fill="#222" font-family="Liberation Serif, serif" textLength="10.6" lengthAdjust="spacingAndGlyphs">GFP</text>
<rect x="208.8" y="270" width="15.5" height="6.8" fill="#000" stroke="#000" stroke-width="0.5"/>
<text x="216.55" y="275.25" font-size="6" text-anchor="middle" fill="#fff">TM</text>
<rect x="224.3" y="270" width="20" height="6.8" fill="#fff" stroke="#555" stroke-width="0.5"/>
<text x="234.3" y="275.25" font-size="6.2" text-anchor="middle" fill="#111">CD</text>
<rect x="203.5" y="291.7" width="5.3" height="6.6" fill="#fff" stroke="#555" stroke-width="0.5"/>
<rect x="141.8" y="291.7" width="10.8" height="6.6" fill="#b4b4b4" stroke="#555" stroke-width="0.5"/>
<text x="147.2" y="296.75" font-size="5.7" text-anchor="middle" fill="#1a1a1a">Si</text>
<rect x="152.6" y="291.7" width="22.4" height="6.6" fill="#a0a0a0" stroke="#555" stroke-width="0.5"/>
<text x="163.8" y="296.75" font-size="5.7" text-anchor="middle" fill="#1a1a1a">HSA</text>
<line x1="160.8" y1="298.3" x2="160.8" y2="304.6" stroke="#111" stroke-width="0.95" /><line x1="165.2" y1="298.3" x2="165.2" y2="304.6" stroke="#111" stroke-width="0.95" /><line x1="167.5" y1="298.3" x2="167.5" y2="304.6" stroke="#111" stroke-width="0.95" />
<ellipse cx="189.4" cy="295" rx="14.3" ry="5.7" fill="#fff" stroke="#444" stroke-width="0.55"/>
<text x="189.6" y="297.1" font-size="6.6" text-anchor="middle" fill="#222" font-family="Liberation Serif, serif" textLength="10.6" lengthAdjust="spacingAndGlyphs">GFP</text>
<rect x="208.8" y="291.7" width="15.5" height="6.6" fill="#000" stroke="#000" stroke-width="0.5"/>
<text x="216.55" y="296.75" font-size="6" text-anchor="middle" fill="#fff">TM</text>
<rect x="224.3" y="291.7" width="20" height="6.6" fill="#fff" stroke="#555" stroke-width="0.5"/>
<text x="234.3" y="296.75" font-size="6.2" text-anchor="middle" fill="#111">CD</text>
<rect x="203.5" y="313.8" width="5.3" height="6.7" fill="#fff" stroke="#555" stroke-width="0.5"/>
<rect x="117.5" y="313.8" width="10.8" height="6.7" fill="#b4b4b4" stroke="#555" stroke-width="0.5"/>
<text x="122.9" y="318.95" font-size="5.7" text-anchor="middle" fill="#1a1a1a">Si</text>
<rect x="128.3" y="313.8" width="46.7" height="6.7" fill="#fff" stroke="#555" stroke-width="0.5"/>
<text x="151.65" y="319.05" font-size="6.2" text-anchor="middle" fill="#000" textLength="26" lengthAdjust="spacingAndGlyphs">CBD</text>
<ellipse cx="189.4" cy="317.15" rx="14.3" ry="5.7" fill="#fff" stroke="#444" stroke-width="0.55"/>
<text x="189.6" y="319.25" font-size="6.6" text-anchor="middle" fill="#222" font-family="Liberation Serif, serif" textLength="10.6" lengthAdjust="spacingAndGlyphs">GFP</text>
<rect x="208.8" y="313.8" width="15.5" height="6.7" fill="#000" stroke="#000" stroke-width="0.5"/>
<text x="216.55" y="318.95" font-size="6" text-anchor="middle" fill="#fff">TM</text>
<rect x="224.3" y="313.8" width="20" height="6.7" fill="#fff" stroke="#555" stroke-width="0.5"/>
<text x="234.3" y="318.95" font-size="6.2" text-anchor="middle" fill="#111">CD</text>
<rect x="203.5" y="336.3" width="5.3" height="6.7" fill="#fff" stroke="#555" stroke-width="0.5"/>
<rect x="92.8" y="336.3" width="11" height="6.7" fill="#b4b4b4" stroke="#555" stroke-width="0.5"/>
<text x="98.3" y="341.45" font-size="5.7" text-anchor="middle" fill="#1a1a1a">Si</text>
<rect x="103.8" y="336.3" width="23" height="6.7" fill="#a0a0a0" stroke="#555" stroke-width="0.5"/>
<text x="115.3" y="341.45" font-size="5.7" text-anchor="middle" fill="#1a1a1a">HSA</text>
<line x1="112" y1="343" x2="112" y2="349.3" stroke="#111" stroke-width="0.95" /><line x1="116.4" y1="343" x2="116.4" y2="349.3" stroke="#111" stroke-width="0.95" /><line x1="118.7" y1="343" x2="118.7" y2="349.3" stroke="#111" stroke-width="0.95" />
<rect x="126.8" y="336.3" width="48.2" height="6.7" fill="#fff" stroke="#555" stroke-width="0.5"/>
<text x="150.9" y="341.55" font-size="6.2" text-anchor="middle" fill="#000" textLength="26" lengthAdjust="spacingAndGlyphs">CBD</text>
<ellipse cx="189.4" cy="339.65" rx="14.3" ry="5.7" fill="#fff" stroke="#444" stroke-width="0.55"/>
<text x="189.6" y="341.75" font-size="6.6" text-anchor="middle" fill="#222" font-family="Liberation Serif, serif" textLength="10.6" lengthAdjust="spacingAndGlyphs">GFP</text>
<rect x="208.8" y="336.3" width="15.5" height="6.7" fill="#000" stroke="#000" stroke-width="0.5"/>
<text x="216.55" y="341.45" font-size="6" text-anchor="middle" fill="#fff">TM</text>
<rect x="224.3" y="336.3" width="20" height="6.7" fill="#fff" stroke="#555" stroke-width="0.5"/>
<text x="234.3" y="341.45" font-size="6.2" text-anchor="middle" fill="#111">CD</text>
<text x="6.8" y="369.6" font-size="4.9" fill="#000" textLength="244.5" lengthAdjust="spacingAndGlyphs"><tspan font-weight="bold">Si</tspan>: signal sequence,  <tspan font-weight="bold" dx="2">CBD</tspan>: cell-binding domain,  <tspan font-weight="bold" dx="2">TM</tspan>: transmembrane domain,  <tspan font-weight="bold" dx="2">CD</tspan>: cytoplasmic domain</text>
<text x="16.3" y="379.4" font-size="4.9" fill="#000" textLength="80" lengthAdjust="spacingAndGlyphs"><tspan font-weight="bold">HSA:</tspan> heparan sulfate attachment,</text>
<line x1="101.6" y1="374.6" x2="101.6" y2="380.6" stroke="#111" stroke-width="0.7" /><line x1="105.4" y1="374.6" x2="105.4" y2="380.6" stroke="#111" stroke-width="0.7" /><line x1="107" y1="374.6" x2="107" y2="380.6" stroke="#111" stroke-width="0.7" />
<text x="108.8" y="379.4" font-size="4.9" fill="#000" textLength="58" lengthAdjust="spacingAndGlyphs">: heparan sulfate chains,</text>
<path d="M176.6 374.9 L172.3 378.6 L174.8 380.4 M179.3 374.9 L175.2 378.6 L177.6 380.4" fill="none" stroke="#111" stroke-width="0.65"/>
<text x="180.4" y="379.4" font-size="4.9" fill="#000" textLength="61.5" lengthAdjust="spacingAndGlyphs">: chondroitin sulfate chains</text>
</g>
<g id="pf">
<polyline points="279.5,364.03 280.2,363.94 280.9,364.22 281.59,363.55 282.29,363.43 282.99,363.93 283.69,363.59 284.39,364.05 285.09,364 285.78,363.48 286.48,364.09 287.18,364.13 287.88,363.7 288.58,363.97 289.28,363.68 289.97,363.99 290.67,364.07 291.37,363.88 292.07,363.81 292.77,363.04 293.46,363.45 294.16,363.57 294.86,363.1 295.56,363.12 296.26,363.14 296.96,363.46 297.65,362.95 298.35,363.14 299.05,362.66 299.75,362.56 300.45,362.53 301.14,362.29 301.84,362.2 302.54,362.25 303.24,361.82 303.94,362 304.64,360.68 305.33,360.6 306.03,360.59 306.73,360.42 307.43,359.81 308.13,359.35 308.83,359.23 309.52,358.42 310.22,356.75 310.92,358.11 311.62,357.57 312.32,357.54 313.01,355.92 313.71,355.69 314.41,356.12 315.11,354.17 315.81,355.83 316.51,353.4 317.2,350.88 317.9,352.05 318.6,350.34 319.3,348.25 320,347.9 320.7,349.51 321.39,343.64 322.09,345.91 322.79,345.06 323.49,346.07 324.19,341.63 324.88,341.32 325.58,345.44 326.28,341.77 326.98,337.85 327.68,336.26 328.38,338 329.07,334.23 329.77,336.06 330.47,336.77 331.17,327.66 331.87,332.01 332.57,329.33 333.26,320.99 333.96,329.01 334.66,321.16 335.36,331.62 336.06,328.62 336.75,318.44 337.45,321.75 338.15,320.97 338.85,316.54 339.55,322.93 340.25,310.62 340.94,324.62 341.64,312.77 342.34,319.63 343.04,321.5 343.74,309.21 344.43,305.18 345.13,315 345.83,314.47 346.53,322.9 347.23,306.66 347.93,307.52 348.62,317.98 349.32,315.95 350.02,322.73 350.72,316.15 351.42,318.57 352.12,317.29 352.81,313.97 353.51,329.44 354.21,325.2 354.91,323.08 355.61,322.82 356.3,326.05 357,333.32 357.7,330.23 358.4,331.3 359.1,337.46 359.8,339.33 360.49,343.06 361.19,342.3 361.89,346.34 362.59,347.3 363.29,347.03 363.99,350.02 364.68,351.51 365.38,352.85 366.08,354.14 366.78,355.24 367.48,356.93 368.17,357.13 368.87,358.38 369.57,359.28 370.27,359.85 370.97,358.89 371.67,360.95 372.36,361.82 373.06,361.84 373.76,362.12 374.46,362.22 375.16,362.36 375.86,362.69 376.55,362.86 377.25,363.43 377.95,363.23 378.65,363.29 379.35,362.99 380.04,363.45 380.74,363.25 381.44,363.85 382.14,363.81 382.84,363.03 383.54,363.43 384.23,362.89 384.93,364.01 385.63,364 386.33,363.01 387.03,363.81 387.72,363.94 388.42,363.95 389.12,364.28 389.82,364.08 390.52,363.92 391.22,363.33 391.91,364.02 392.61,364.19 393.31,363.47 394.01,364.05 394.71,364.21 395.41,363.53 396.1,363.3 396.8,363.71 397.5,363.62" fill="none" stroke="#000" stroke-width="0.6" stroke-linejoin="round" />
<polyline points="279.5,363.66 280.2,363.08 280.9,363.01 281.59,364.04 282.29,364.01 282.99,364.02 283.69,364.07 284.39,363.98 285.09,363.48 285.78,363.84 286.48,363.86 287.18,363.91 287.88,363.57 288.58,363.27 289.28,363.43 289.97,362.62 290.67,363.82 291.37,362.96 292.07,363.58 292.77,363.56 293.46,363.18 294.16,363.06 294.86,362.85 295.56,362.64 296.26,362.68 296.96,362.77 297.65,363.08 298.35,362.6 299.05,362.85 299.75,361.76 300.45,362.08 301.14,361.51 301.84,361.74 302.54,360.87 303.24,361.3 303.94,360.49 304.64,358.88 305.33,360.72 306.03,359.74 306.73,360.23 307.43,359.41 308.13,359.49 308.83,359.55 309.52,358.75 310.22,357.97 310.92,357.97 311.62,358.92 312.32,358.44 313.01,356.58 313.71,356.11 314.41,356.56 315.11,355.58 315.81,354.01 316.51,350.72 317.2,352.81 317.9,349.45 318.6,353.76 319.3,351.28 320,351.86 320.7,349.8 321.39,348.57 322.09,346.6 322.79,346.58 323.49,345.48 324.19,345.6 324.88,340.8 325.58,343.31 326.28,343.42 326.98,343.11 327.68,335.88 328.38,338.15 329.07,337.26 329.77,335.44 330.47,330.62 331.17,335.64 331.87,332.92 332.57,332.73 333.26,333.06 333.96,327.37 334.66,331.93 335.36,325.9 336.06,328.51 336.75,328.22 337.45,328.89 338.15,318.45 338.85,324.27 339.55,321.32 340.25,325.87 340.94,319.92 341.64,316.57 342.34,319.94 343.04,316.54 343.74,322.23 344.43,310.17 345.13,308.81 345.83,314.19 346.53,320.83 347.23,302.55 347.93,309.97 348.62,309.7 349.32,314.15 350.02,307.36 350.72,319.21 351.42,314.75 352.12,315.3 352.81,312.96 353.51,312.6 354.21,312.77 354.91,308.29 355.61,322.26 356.3,316.26 357,306.94 357.7,310.78 358.4,326.13 359.1,321.3 359.8,335.21 360.49,329.07 361.19,325.44 361.89,335.06 362.59,338.22 363.29,338.53 363.99,342.44 364.68,346.15 365.38,347.02 366.08,348.97 366.78,348.62 367.48,348.28 368.17,352.71 368.87,352.14 369.57,354.78 370.27,357.08 370.97,357.73 371.67,359.23 372.36,359.51 373.06,358.86 373.76,360.06 374.46,361.65 375.16,361.6 375.86,362.47 376.55,362.93 377.25,362.57 377.95,363.26 378.65,363.14 379.35,363.17 380.04,362.65 380.74,363.8 381.44,363.19 382.14,363.66 382.84,363.93 383.54,363.61 384.23,362.65 384.93,363.52 385.63,362.81 386.33,364 387.03,363.52 387.72,364.15 388.42,364 389.12,363.8 389.82,364.04 390.52,363.38 391.22,364.03 391.91,363.33 392.61,363.95 393.31,363.5 394.01,364.06 394.71,363.5 395.41,363.56 396.1,363.95 396.8,363.79 397.5,363.71" fill="none" stroke="#1fe01f" stroke-width="0.6" stroke-linejoin="round" />
<polyline points="279.5,363.76 280.2,363.7 280.9,363.85 281.59,363.91 282.29,363.53 282.99,363.54 283.69,363.6 284.39,363.34 285.09,363.95 285.78,364.19 286.48,364.07 287.18,364.11 287.88,364.08 288.58,363.97 289.28,364.17 289.97,362.94 290.67,363.84 291.37,363.47 292.07,363.91 292.77,363.23 293.46,364.15 294.16,363.94 294.86,364.11 295.56,364.27 296.26,363.31 296.96,363.96 297.65,363.46 298.35,363.37 299.05,363.13 299.75,364.05 300.45,364.13 301.14,363.64 301.84,364.1 302.54,362.3 303.24,363.97 303.94,363.57 304.64,362.57 305.33,363.94 306.03,363.47 306.73,363.64 307.43,363.66 308.13,363.24 308.83,363.65 309.52,363.16 310.22,362.38 310.92,362.99 311.62,362.39 312.32,361.49 313.01,361.55 313.71,360.94 314.41,359.9 315.11,359.98 315.81,360.45 316.51,359.36 317.2,356.21 317.9,356.26 318.6,356.79 319.3,353.2 320,353.35 320.7,350.36 321.39,351.15 322.09,348.21 322.79,345.94 323.49,345.21 324.19,340.85 324.88,344.48 325.58,338.92 326.28,333.96 326.98,330.41 327.68,329.8 328.38,329.87 329.07,330.82 329.77,333.18 330.47,323.25 331.17,324.57 331.87,324.39 332.57,323.57 333.26,322.82 333.96,328.3 334.66,317.74 335.36,323.15 336.06,318.07 336.75,327.34 337.45,323.56 338.15,315.25 338.85,329.61 339.55,313.4 340.25,311.93 340.94,316.15 341.64,319.59 342.34,298.29 343.04,311.65 343.74,315.23 344.43,315.8 345.13,312.01 345.83,316.3 346.53,310.15 347.23,310.33 347.93,303.65 348.62,311 349.32,310.01 350.02,310.44 350.72,315.77 351.42,311.57 352.12,311.51 352.81,313.96 353.51,317.06 354.21,321.59 354.91,317.84 355.61,329.68 356.3,323.94 357,329.95 357.7,330.34 358.4,335.43 359.1,328.54 359.8,337.36 360.49,335.65 361.19,341.19 361.89,339.88 362.59,347.38 363.29,343.69 363.99,344.87 364.68,346.94 365.38,350.89 366.08,349.94 366.78,351.91 367.48,353.75 368.17,353.54 368.87,356.76 369.57,356.99 370.27,358.86 370.97,358.55 371.67,359.74 372.36,358.67 373.06,359.63 373.76,361.71 374.46,362 375.16,360.8 375.86,361.81 376.55,361.94 377.25,361.92 377.95,362.54 378.65,363.16 379.35,363.62 380.04,363.68 380.74,363.67 381.44,363.52 382.14,363.14 382.84,363.53 383.54,364.02 384.23,363.48 384.93,363.69 385.63,364.05 386.33,364.18 387.03,364.02 387.72,364.12 388.42,363.96 389.12,364.06 389.82,364.16 390.52,363.6 391.22,363.23 391.91,364.11 392.61,363.23 393.31,363.93 394.01,363.74 394.71,364.17 395.41,363.73 396.1,364.11 396.8,362.95 397.5,363.44" fill="none" stroke="#f4f000" stroke-width="0.6" stroke-linejoin="round" />
<polyline points="279.5,363.76 280.2,364.17 280.9,363.81 281.59,364.29 282.29,363.98 282.99,364.22 283.69,363.7 284.39,364.06 285.09,363.42 285.78,363.2 286.48,363.75 287.18,363.26 287.88,363.74 288.58,363.64 289.28,363.74 289.97,364.29 290.67,363.76 291.37,364.1 292.07,363.58 292.77,363.94 293.46,364.2 294.16,364.03 294.86,363.6 295.56,363.59 296.26,364.23 296.96,362.91 297.65,364.05 298.35,363.79 299.05,364.23 299.75,362.86 300.45,363.44 301.14,363.07 301.84,364.2 302.54,363.75 303.24,363.54 303.94,363.96 304.64,362.88 305.33,364.21 306.03,363.75 306.73,363.88 307.43,363.86 308.13,363.31 308.83,363.6 309.52,363.7 310.22,363.72 310.92,363.82 311.62,363.33 312.32,363.21 313.01,363.91 313.71,364.13 314.41,363.83 315.11,362.94 315.81,363.75 316.51,363.5 317.2,363.12 317.9,362.53 318.6,363.69 319.3,363.46 320,362.63 320.7,363.36 321.39,362.95 322.09,362.29 322.79,361.83 323.49,362.67 324.19,361.41 324.88,361.35 325.58,360.79 326.28,360.63 326.98,360.44 327.68,358.3 328.38,358.14 329.07,357.24 329.77,357.61 330.47,356.99 331.17,356.65 331.87,354.07 332.57,352.24 333.26,353.34 333.96,350.3 334.66,346.58 335.36,350.13 336.06,346.56 336.75,344.54 337.45,342.72 338.15,344.42 338.85,341.07 339.55,335.77 340.25,337.41 340.94,334.33 341.64,332.61 342.34,331.64 343.04,334.55 343.74,331.35 344.43,336.75 345.13,328.33 345.83,334.64 346.53,325.93 347.23,326.19 347.93,329.5 348.62,328.19 349.32,313.95 350.02,324.97 350.72,325.72 351.42,329.29 352.12,335.21 352.81,329.49 353.51,323.42 354.21,325.57 354.91,330.56 355.61,332.96 356.3,328.38 357,329.72 357.7,337.62 358.4,337.78 359.1,334.56 359.8,334.49 360.49,336.28 361.19,337.16 361.89,339.75 362.59,336.72 363.29,339.98 363.99,342.76 364.68,343.45 365.38,344.21 366.08,344.13 366.78,348.42 367.48,346.75 368.17,348.11 368.87,346.98 369.57,348.11 370.27,349.81 370.97,350.89 371.67,348.67 372.36,352.29 373.06,353.39 373.76,354.06 374.46,353.78 375.16,355.19 375.86,355.46 376.55,356.69 377.25,356.66 377.95,356.8 378.65,357.55 379.35,357.86 380.04,359.26 380.74,359.12 381.44,359.67 382.14,360.36 382.84,360.36 383.54,361.36 384.23,361.37 384.93,360.97 385.63,361.24 386.33,361.36 387.03,362.32 387.72,362.78 388.42,362.96 389.12,362.97 389.82,362.83 390.52,363.21 391.22,363.32 391.91,362.92 392.61,363.57 393.31,363.39 394.01,363.28 394.71,363.28 395.41,363.96 396.1,363.75 396.8,363.89 397.5,363.92" fill="none" stroke="#f22" stroke-width="0.6" stroke-linejoin="round" />
<polyline points="279.5,363.93 280.2,363.87 280.9,364.21 281.59,363.78 282.29,363.36 282.99,363.64 283.69,363.25 284.39,363.66 285.09,363.91 285.78,363.66 286.48,363.95 287.18,363.12 287.88,363.87 288.58,364.2 289.28,363.73 289.97,363.74 290.67,364.25 291.37,363.87 292.07,363.88 292.77,364.3 293.46,364.01 294.16,364.26 294.86,364.03 295.56,363.85 296.26,364.19 296.96,363.21 297.65,363.37 298.35,363.39 299.05,364.03 299.75,363.55 300.45,364.25 301.14,363.92 301.84,363.51 302.54,363.82 303.24,363.94 303.94,364.27 304.64,364.21 305.33,363.7 306.03,363.85 306.73,363.58 307.43,363.21 308.13,364.15 308.83,363.54 309.52,363.69 310.22,363.83 310.92,363.75 311.62,363.37 312.32,363.3 313.01,364.03 313.71,363.44 314.41,363.3 315.11,363.86 315.81,363.89 316.51,364.2 317.2,363.52 317.9,364.23 318.6,363.68 319.3,363.82 320,363.5 320.7,363.97 321.39,364.14 322.09,363.25 322.79,364.23 323.49,364.09 324.19,364.01 324.88,363.77 325.58,362.93 326.28,363.42 326.98,363.26 327.68,363.72 328.38,362.98 329.07,363.18 329.77,363.02 330.47,362.77 331.17,362.78 331.87,362.23 332.57,361.83 333.26,361.1 333.96,359.84 334.66,359.71 335.36,358.7 336.06,357.16 336.75,356.17 337.45,358.26 338.15,352.22 338.85,353.64 339.55,349.71 340.25,346.86 340.94,347.62 341.64,344.29 342.34,336.84 343.04,344.53 343.74,338.49 344.43,334.76 345.13,333.37 345.83,334.95 346.53,331.3 347.23,326.31 347.93,326.65 348.62,332.55 349.32,321.99 350.02,328.98 350.72,318.83 351.42,320.69 352.12,318.13 352.81,322.75 353.51,321.64 354.21,325.26 354.91,325.97 355.61,327.14 356.3,327.92 357,327.36 357.7,323.95 358.4,325.16 359.1,329.17 359.8,330.23 360.49,332.76 361.19,332.19 361.89,336.52 362.59,333.47 363.29,339.79 363.99,345.19 364.68,338.35 365.38,342.86 366.08,337.44 366.78,348.45 367.48,344.62 368.17,346.55 368.87,347 369.57,346.98 370.27,348.21 370.97,349.32 371.67,351.31 372.36,351.84 373.06,353.32 373.76,351.34 374.46,355.03 375.16,352.07 375.86,354.64 376.55,355.39 377.25,356.2 377.95,356.92 378.65,357.3 379.35,357.64 380.04,358.33 380.74,358.12 381.44,360.25 382.14,358.92 382.84,358.03 383.54,360.14 384.23,358.39 384.93,361.12 385.63,360.19 386.33,360.56 387.03,360.96 387.72,361.93 388.42,361.31 389.12,361.32 389.82,362.64 390.52,362.47 391.22,362.15 391.91,362.67 392.61,362.55 393.31,362.26 394.01,362.58 394.71,363.34 395.41,363.35 396.1,363.58 396.8,363.68 397.5,362.96" fill="none" stroke="#22f" stroke-width="0.6" stroke-linejoin="round" />
<rect x="279.5" y="258" width="118" height="106.3" fill="none" stroke="#111" stroke-width="0.7"/>
<line x1="277.3" y1="364.3" x2="279.5" y2="364.3" stroke="#222" stroke-width="0.5" />
<text x="275.3" y="364.3" font-size="5.9" text-anchor="middle" fill="#111" transform="rotate(-90 275.3 364.3)">0</text>
<line x1="277.3" y1="343.04" x2="279.5" y2="343.04" stroke="#222" stroke-width="0.5" />
<text x="275.3" y="343.04" font-size="5.9" text-anchor="middle" fill="#111" transform="rotate(-90 275.3 343.04)">20</text>
<line x1="277.3" y1="321.78" x2="279.5" y2="321.78" stroke="#222" stroke-width="0.5" />
<text x="275.3" y="321.78" font-size="5.9" text-anchor="middle" fill="#111" transform="rotate(-90 275.3 321.78)">40</text>
<line x1="277.3" y1="300.52" x2="279.5" y2="300.52" stroke="#222" stroke-width="0.5" />
<text x="275.3" y="300.52" font-size="5.9" text-anchor="middle" fill="#111" transform="rotate(-90 275.3 300.52)">60</text>
<line x1="277.3" y1="279.26" x2="279.5" y2="279.26" stroke="#222" stroke-width="0.5" />
<text x="275.3" y="279.26" font-size="5.9" text-anchor="middle" fill="#111" transform="rotate(-90 275.3 279.26)">80</text>
<line x1="277.3" y1="258" x2="279.5" y2="258" stroke="#222" stroke-width="0.5" />
<text x="275.3" y="258" font-size="5.9" text-anchor="middle" fill="#111" transform="rotate(-90 275.3 258)">100</text>
<line x1="278.4" y1="360.05" x2="279.5" y2="360.05" stroke="#444" stroke-width="0.35" />
<line x1="278.4" y1="355.8" x2="279.5" y2="355.8" stroke="#444" stroke-width="0.35" />
<line x1="278.4" y1="351.54" x2="279.5" y2="351.54" stroke="#444" stroke-width="0.35" />
<line x1="278.4" y1="347.29" x2="279.5" y2="347.29" stroke="#444" stroke-width="0.35" />
<line x1="278.4" y1="343.04" x2="279.5" y2="343.04" stroke="#444" stroke-width="0.35" />
<line x1="278.4" y1="338.79" x2="279.5" y2="338.79" stroke="#444" stroke-width="0.35" />
<line x1="278.4" y1="334.54" x2="279.5" y2="334.54" stroke="#444" stroke-width="0.35" />
<line x1="278.4" y1="330.28" x2="279.5" y2="330.28" stroke="#444" stroke-width="0.35" />
<line x1="278.4" y1="326.03" x2="279.5" y2="326.03" stroke="#444" stroke-width="0.35" />
<line x1="278.4" y1="321.78" x2="279.5" y2="321.78" stroke="#444" stroke-width="0.35" />
<line x1="278.4" y1="317.53" x2="279.5" y2="317.53" stroke="#444" stroke-width="0.35" />
<line x1="278.4" y1="313.28" x2="279.5" y2="313.28" stroke="#444" stroke-width="0.35" />
<line x1="278.4" y1="309.02" x2="279.5" y2="309.02" stroke="#444" stroke-width="0.35" />
<line x1="278.4" y1="304.77" x2="279.5" y2="304.77" stroke="#444" stroke-width="0.35" />
<line x1="278.4" y1="300.52" x2="279.5" y2="300.52" stroke="#444" stroke-width="0.35" />
<line x1="278.4" y1="296.27" x2="279.5" y2="296.27" stroke="#444" stroke-width="0.35" />
<line x1="278.4" y1="292.02" x2="279.5" y2="292.02" stroke="#444" stroke-width="0.35" />
<line x1="278.4" y1="287.76" x2="279.5" y2="287.76" stroke="#444" stroke-width="0.35" />
<line x1="278.4" y1="283.51" x2="279.5" y2="283.51" stroke="#444" stroke-width="0.35" />
<line x1="278.4" y1="279.26" x2="279.5" y2="279.26" stroke="#444" stroke-width="0.35" />
<line x1="278.4" y1="275.01" x2="279.5" y2="275.01" stroke="#444" stroke-width="0.35" />
<line x1="278.4" y1="270.76" x2="279.5" y2="270.76" stroke="#444" stroke-width="0.35" />
<line x1="278.4" y1="266.5" x2="279.5" y2="266.5" stroke="#444" stroke-width="0.35" />
<line x1="278.4" y1="262.25" x2="279.5" y2="262.25" stroke="#444" stroke-width="0.35" />
<line x1="279.5" y1="364.3" x2="279.5" y2="366.5" stroke="#222" stroke-width="0.5" />
<text x="278.9" y="372.9" font-size="5.8" text-anchor="middle" fill="#111">10<tspan font-size="4" dy="-2.4">0</tspan></text>
<line x1="288.38" y1="364.3" x2="288.38" y2="365.4" stroke="#444" stroke-width="0.35" />
<line x1="293.58" y1="364.3" x2="293.58" y2="365.4" stroke="#444" stroke-width="0.35" />
<line x1="297.26" y1="364.3" x2="297.26" y2="365.4" stroke="#444" stroke-width="0.35" />
<line x1="300.12" y1="364.3" x2="300.12" y2="365.4" stroke="#444" stroke-width="0.35" />
<line x1="302.46" y1="364.3" x2="302.46" y2="365.4" stroke="#444" stroke-width="0.35" />
<line x1="304.43" y1="364.3" x2="304.43" y2="365.4" stroke="#444" stroke-width="0.35" />
<line x1="306.14" y1="364.3" x2="306.14" y2="365.4" stroke="#444" stroke-width="0.35" />
<line x1="307.65" y1="364.3" x2="307.65" y2="365.4" stroke="#444" stroke-width="0.35" />
<line x1="309" y1="364.3" x2="309" y2="366.5" stroke="#222" stroke-width="0.5" />
<text x="308.4" y="372.9" font-size="5.8" text-anchor="middle" fill="#111">10<tspan font-size="4" dy="-2.4">1</tspan></text>
<line x1="317.88" y1="364.3" x2="317.88" y2="365.4" stroke="#444" stroke-width="0.35" />
<line x1="323.08" y1="364.3" x2="323.08" y2="365.4" stroke="#444" stroke-width="0.35" />
<line x1="326.76" y1="364.3" x2="326.76" y2="365.4" stroke="#444" stroke-width="0.35" />
<line x1="329.62" y1="364.3" x2="329.62" y2="365.4" stroke="#444" stroke-width="0.35" />
<line x1="331.96" y1="364.3" x2="331.96" y2="365.4" stroke="#444" stroke-width="0.35" />
<line x1="333.93" y1="364.3" x2="333.93" y2="365.4" stroke="#444" stroke-width="0.35" />
<line x1="335.64" y1="364.3" x2="335.64" y2="365.4" stroke="#444" stroke-width="0.35" />
<line x1="337.15" y1="364.3" x2="337.15" y2="365.4" stroke="#444" stroke-width="0.35" />
<line x1="338.5" y1="364.3" x2="338.5" y2="366.5" stroke="#222" stroke-width="0.5" />
<text x="337.9" y="372.9" font-size="5.8" text-anchor="middle" fill="#111">10<tspan font-size="4" dy="-2.4">2</tspan></text>
<line x1="347.38" y1="364.3" x2="347.38" y2="365.4" stroke="#444" stroke-width="0.35" />
<line x1="352.58" y1="364.3" x2="352.58" y2="365.4" stroke="#444" stroke-width="0.35" />
<line x1="356.26" y1="364.3" x2="356.26" y2="365.4" stroke="#444" stroke-width="0.35" />
<line x1="359.12" y1="364.3" x2="359.12" y2="365.4" stroke="#444" stroke-width="0.35" />
<line x1="361.46" y1="364.3" x2="361.46" y2="365.4" stroke="#444" stroke-width="0.35" />
<line x1="363.43" y1="364.3" x2="363.43" y2="365.4" stroke="#444" stroke-width="0.35" />
<line x1="365.14" y1="364.3" x2="365.14" y2="365.4" stroke="#444" stroke-width="0.35" />
<line x1="366.65" y1="364.3" x2="366.65" y2="365.4" stroke="#444" stroke-width="0.35" />
<line x1="368" y1="364.3" x2="368" y2="366.5" stroke="#222" stroke-width="0.5" />
<text x="367.4" y="372.9" font-size="5.8" text-anchor="middle" fill="#111">10<tspan font-size="4" dy="-2.4">3</tspan></text>
<line x1="376.88" y1="364.3" x2="376.88" y2="365.4" stroke="#444" stroke-width="0.35" />
<line x1="382.08" y1="364.3" x2="382.08" y2="365.4" stroke="#444" stroke-width="0.35" />
<line x1="385.76" y1="364.3" x2="385.76" y2="365.4" stroke="#444" stroke-width="0.35" />
<line x1="388.62" y1="364.3" x2="388.62" y2="365.4" stroke="#444" stroke-width="0.35" />
<line x1="390.96" y1="364.3" x2="390.96" y2="365.4" stroke="#444" stroke-width="0.35" />
<line x1="392.93" y1="364.3" x2="392.93" y2="365.4" stroke="#444" stroke-width="0.35" />
<line x1="394.64" y1="364.3" x2="394.64" y2="365.4" stroke="#444" stroke-width="0.35" />
<line x1="396.15" y1="364.3" x2="396.15" y2="365.4" stroke="#444" stroke-width="0.35" />
<line x1="397.5" y1="364.3" x2="397.5" y2="366.5" stroke="#222" stroke-width="0.5" />
<text x="396.9" y="372.9" font-size="5.8" text-anchor="middle" fill="#111">10<tspan font-size="4" dy="-2.4">4</tspan></text>
<text x="336.9" y="378.9" font-size="5.2" text-anchor="middle" fill="#111">FL4-H</text>
<text x="267.9" y="311.95" font-size="5.4" text-anchor="middle" fill="#111" transform="rotate(-90 267.9 311.95)">Counts</text>
<text x="340.3" y="255.3" font-size="8.5" text-anchor="middle" fill="#000" letter-spacing="0.15" stroke="#000" stroke-width="0.3">HS expression</text>
<line x1="282.1" y1="263.3" x2="293.3" y2="263.3" stroke="#000" stroke-width="0.8" />
<text x="294.5" y="265.2" font-size="5.5" fill="#111">K562</text>
<line x1="282.1" y1="269.68" x2="293.3" y2="269.68" stroke="#1fe01f" stroke-width="0.8" />
<text x="294.5" y="271.58" font-size="5.5" fill="#111">pSi4</text>
<line x1="282.1" y1="276.06" x2="293.3" y2="276.06" stroke="#f4f000" stroke-width="0.8" />
<text x="294.5" y="277.96" font-size="5.5" fill="#111">CBD.pSi4</text>
<line x1="282.1" y1="282.44" x2="293.3" y2="282.44" stroke="#f22" stroke-width="0.8" />
<text x="294.5" y="284.34" font-size="5.5" fill="#111">HSA.pSi4</text>
<line x1="282.1" y1="288.82" x2="293.3" y2="288.82" stroke="#22f" stroke-width="0.8" />
<text x="294.5" y="290.72" font-size="5.5" fill="#111">SDC4</text>
<polyline points="421.5,363.88 422.2,363.34 422.9,363.19 423.59,363.22 424.29,363.17 424.99,363.26 425.69,363.05 426.39,363.85 427.09,363.38 427.78,363.41 428.48,363.13 429.18,363.31 429.88,362.87 430.58,363.18 431.28,362.95 431.97,362.87 432.67,362.94 433.37,362.29 434.07,362.13 434.77,361.76 435.46,361.89 436.16,361.78 436.86,361.99 437.56,360.84 438.26,360.44 438.96,359.76 439.65,359.46 440.35,359.7 441.05,359.46 441.75,358.58 442.45,358.97 443.14,358.39 443.84,357.91 444.54,356.58 445.24,356.52 445.94,356.18 446.64,355.11 447.33,354.89 448.03,352.78 448.73,353.42 449.43,351.18 450.13,351.21 450.83,350.84 451.52,349.89 452.22,347.34 452.92,347.48 453.62,347.9 454.32,346.92 455.01,345.21 455.71,342.39 456.41,342.82 457.11,341.24 457.81,340.3 458.51,339.43 459.2,340.04 459.9,336.11 460.6,336.72 461.3,335.44 462,335.31 462.7,333.03 463.39,334.15 464.09,331.54 464.79,330.87 465.49,329.36 466.19,327.42 466.88,326.11 467.58,326.92 468.28,328.72 468.98,324.01 469.68,325.51 470.38,323.1 471.07,323.59 471.77,324.63 472.47,322.13 473.17,322.59 473.87,320.96 474.57,323.15 475.26,321.3 475.96,321.42 476.66,320.77 477.36,324.41 478.06,320.35 478.75,324.94 479.45,323.36 480.15,325.96 480.85,326.3 481.55,328.3 482.25,329.49 482.94,331.69 483.64,331.14 484.34,332.65 485.04,332.11 485.74,335.88 486.43,337.18 487.13,336.9 487.83,341.24 488.53,340.59 489.23,340.86 489.93,342.26 490.62,343.66 491.32,344.27 492.02,343 492.72,344.31 493.42,346.49 494.12,346.42 494.81,347.38 495.51,348.44 496.21,347.99 496.91,348.8 497.61,349.92 498.3,350.74 499,351.01 499.7,351.71 500.4,352.35 501.1,352.55 501.8,354.16 502.49,353.99 503.19,354.29 503.89,354.62 504.59,355.21 505.29,355.58 505.99,355.36 506.68,356.83 507.38,357.01 508.08,357.41 508.78,358.13 509.48,358.73 510.17,359.51 510.87,359.92 511.57,359.72 512.27,360.67 512.97,360.36 513.67,359.78 514.36,361.42 515.06,361.14 515.76,361.45 516.46,362.14 517.16,362.07 517.86,362.43 518.55,361.97 519.25,362.34 519.95,362.92 520.65,361.84 521.35,362.92 522.04,362.85 522.74,363.36 523.44,362.74 524.14,363.73 524.84,363.58 525.54,362.59 526.23,363.91 526.93,363.28 527.63,363.37 528.33,363.32 529.03,363.53 529.72,363.61 530.42,363.73 531.12,363.64 531.82,363.68 532.52,363.84 533.22,364.15 533.91,363.79 534.61,363.21 535.31,364.03 536.01,363.79 536.71,363.56 537.41,363.91 538.1,363.64 538.8,363.9 539.5,364.25" fill="none" stroke="#000" stroke-width="0.6" stroke-linejoin="round" />
<polyline points="421.5,363.8 422.2,362.92 422.9,363.81 423.59,363.68 424.29,363.65 424.99,363.56 425.69,363.59 426.39,363.36 427.09,362.98 427.78,363.47 428.48,362.75 429.18,362.59 429.88,362.85 430.58,362.93 431.28,361.98 431.97,362.55 432.67,362.77 433.37,362.67 434.07,362.11 434.77,361.79 435.46,361.67 436.16,361.23 436.86,361.41 437.56,360.37 438.26,360.78 438.96,360.11 439.65,359.51 440.35,359.7 441.05,358.99 441.75,358.79 442.45,358.3 443.14,358.05 443.84,357.6 444.54,357.56 445.24,355.45 445.94,355.05 446.64,355.78 447.33,355.02 448.03,354.7 448.73,353.66 449.43,353.05 450.13,352.46 450.83,351.13 451.52,350.27 452.22,348.87 452.92,349.64 453.62,348.92 454.32,348.22 455.01,347.33 455.71,345.6 456.41,345.41 457.11,345.09 457.81,342.3 458.51,341.63 459.2,341.34 459.9,337.91 460.6,337.45 461.3,336.41 462,336.85 462.7,337.84 463.39,336.76 464.09,334.97 464.79,337.08 465.49,333.31 466.19,330.07 466.88,332.05 467.58,329.93 468.28,332.33 468.98,328.94 469.68,329.04 470.38,326.21 471.07,326.9 471.77,327.51 472.47,324.34 473.17,325.24 473.87,326.3 474.57,324.44 475.26,322.05 475.96,322.46 476.66,322.17 477.36,321.93 478.06,321.73 478.75,322.32 479.45,322.02 480.15,322.7 480.85,323.72 481.55,323.52 482.25,323.22 482.94,322.05 483.64,324.31 484.34,327.48 485.04,325.36 485.74,320.29 486.43,325.19 487.13,323.14 487.83,325.12 488.53,325.29 489.23,326.25 489.93,327.49 490.62,323.86 491.32,326.21 492.02,325.9 492.72,325.62 493.42,325.56 494.12,330.3 494.81,329.59 495.51,332.36 496.21,333.23 496.91,335.03 497.61,337.7 498.3,340.92 499,341.66 499.7,344.34 500.4,346.81 501.1,348.5 501.8,349.59 502.49,352.57 503.19,353 503.89,355.05 504.59,356.29 505.29,356.87 505.99,358.22 506.68,359.13 507.38,360.36 508.08,359.44 508.78,361.65 509.48,361.6 510.17,361.17 510.87,362.96 511.57,362.62 512.27,363.36 512.97,362.74 513.67,363.7 514.36,362.81 515.06,364.03 515.76,364.01 516.46,364.09 517.16,364.06 517.86,363.8 518.55,364.09 519.25,363.71 519.95,363.71 520.65,363.88 521.35,364.14 522.04,364.05 522.74,363.8 523.44,364.04 524.14,364.19 524.84,363.92 525.54,363.84 526.23,364.11 526.93,364.13 527.63,363.74 528.33,363.63 529.03,364.27 529.72,364.24 530.42,364.29 531.12,363.47 531.82,363.78 532.52,363.9 533.22,364.2 533.91,364.2 534.61,364.21 535.31,363.86 536.01,363.3 536.71,362.92 537.41,364.28 538.1,363.78 538.8,364.25 539.5,363.12" fill="none" stroke="#1fe01f" stroke-width="0.6" stroke-linejoin="round" />
<polyline points="421.5,364.21 422.2,363.78 422.9,363.19 423.59,363.96 424.29,363.1 424.99,362.99 425.69,363.71 426.39,363.55 427.09,362.58 427.78,363.84 428.48,362.99 429.18,362.99 429.88,363.39 430.58,363.32 431.28,362.44 431.97,363.13 432.67,362.52 433.37,361.47 434.07,362.98 434.77,362.83 435.46,362.02 436.16,361.42 436.86,362.01 437.56,361.78 438.26,361.72 438.96,361.69 439.65,361.05 440.35,360.4 441.05,360.19 441.75,360.07 442.45,359.16 443.14,358.4 443.84,358.11 444.54,358.27 445.24,357.6 445.94,356.92 446.64,356.61 447.33,356.52 448.03,354.73 448.73,355.07 449.43,353.62 450.13,352.31 450.83,351.82 451.52,351.29 452.22,350.32 452.92,348.61 453.62,348.72 454.32,346.74 455.01,346.05 455.71,345.85 456.41,343.3 457.11,342.95 457.81,341.04 458.51,342.8 459.2,339.86 459.9,337.89 460.6,335.52 461.3,334.86 462,333.97 462.7,332.07 463.39,331.58 464.09,331.08 464.79,332.23 465.49,327.82 466.19,325.97 466.88,325.81 467.58,323.33 468.28,325.34 468.98,323.81 469.68,321.58 470.38,317.83 471.07,318.84 471.77,318.55 472.47,315.44 473.17,316.81 473.87,311.37 474.57,316.08 475.26,313.01 475.96,309.86 476.66,308.41 477.36,311.53 478.06,311.57 478.75,307.9 479.45,308.69 480.15,309.79 480.85,310.59 481.55,310.4 482.25,309.86 482.94,312.05 483.64,308.58 484.34,312.81 485.04,307.88 485.74,313.28 486.43,311.45 487.13,311.41 487.83,313.28 488.53,315.01 489.23,311.92 489.93,318.39 490.62,315.42 491.32,313.83 492.02,316.08 492.72,318.5 493.42,322.15 494.12,318.5 494.81,320.6 495.51,322.38 496.21,327.51 496.91,328.3 497.61,330.31 498.3,332.45 499,336.64 499.7,337.6 500.4,339.74 501.1,341.43 501.8,344.2 502.49,347.53 503.19,347.78 503.89,349.64 504.59,351.54 505.29,354.04 505.99,355.29 506.68,357.17 507.38,357.71 508.08,358.21 508.78,359.39 509.48,359.68 510.17,360.58 510.87,361.16 511.57,362.2 512.27,362.02 512.97,362.48 513.67,362.1 514.36,363.05 515.06,363.44 515.76,362.76 516.46,363.16 517.16,363.85 517.86,362.91 518.55,363.15 519.25,363.62 519.95,363.89 520.65,364.14 521.35,363.83 522.04,363.89 522.74,364.23 523.44,363.4 524.14,362.95 524.84,363.71 525.54,363.79 526.23,363.81 526.93,363.77 527.63,363.87 528.33,363.43 529.03,363.7 529.72,363.29 530.42,364.01 531.12,363.83 531.82,364.07 532.52,364.19 533.22,362.83 533.91,363.55 534.61,364.19 535.31,364.17 536.01,363.84 536.71,363.45 537.41,363.66 538.1,363.51 538.8,363.83 539.5,363.77" fill="none" stroke="#f4f000" stroke-width="0.6" stroke-linejoin="round" />
<polyline points="421.5,364.18 422.2,363.49 422.9,363.97 423.59,363.69 424.29,364.24 424.99,363.57 425.69,363.61 426.39,363.55 427.09,363.92 427.78,364.22 428.48,364.08 429.18,362.89 429.88,364.05 430.58,364 431.28,363.27 431.97,363.69 432.67,363.15 433.37,363.12 434.07,363.25 434.77,363.41 435.46,362.42 436.16,363.08 436.86,363.38 437.56,363.31 438.26,363.33 438.96,362.58 439.65,362.98 440.35,362.8 441.05,362.04 441.75,362.1 442.45,361.62 443.14,361.4 443.84,360.97 444.54,360.2 445.24,359.7 445.94,359.2 446.64,359.34 447.33,358.54 448.03,357.82 448.73,357 449.43,355.55 450.13,354.55 450.83,354.63 451.52,353.36 452.22,351.22 452.92,351 453.62,348.83 454.32,348.02 455.01,346.73 455.71,346.99 456.41,343.84 457.11,341.8 457.81,340.75 458.51,338.55 459.2,337.64 459.9,334.34 460.6,332.93 461.3,334.19 462,328.63 462.7,325.02 463.39,324.2 464.09,322.53 464.79,319.03 465.49,316.74 466.19,317.93 466.88,315.06 467.58,311.36 468.28,312.96 468.98,309.63 469.68,306.55 470.38,307.18 471.07,308.53 471.77,302.36 472.47,306.43 473.17,302.79 473.87,297.97 474.57,294.42 475.26,296.29 475.96,300.87 476.66,297.91 477.36,293.87 478.06,290.22 478.75,293.73 479.45,294.49 480.15,293.29 480.85,295.07 481.55,293.64 482.25,295.88 482.94,294.97 483.64,296.23 484.34,295.08 485.04,295.87 485.74,298.88 486.43,294.13 487.13,298.77 487.83,297.02 488.53,297.33 489.23,296.8 489.93,294.31 490.62,299.83 491.32,298 492.02,302.57 492.72,303.86 493.42,303.36 494.12,305.78 494.81,306.95 495.51,310.36 496.21,311.59 496.91,312.9 497.61,313.68 498.3,320 499,324.56 499.7,323.84 500.4,331.42 501.1,330.54 501.8,335.56 502.49,337.1 503.19,341.06 503.89,342.98 504.59,345.58 505.29,347.33 505.99,348.92 506.68,349.33 507.38,352.72 508.08,354.49 508.78,355.71 509.48,357.38 510.17,358.43 510.87,359.21 511.57,358.31 512.27,360.73 512.97,361.03 513.67,361.99 514.36,361.14 515.06,362.54 515.76,362.76 516.46,362.6 517.16,363.18 517.86,362.04 518.55,362.96 519.25,363.77 519.95,363.8 520.65,363.25 521.35,362.64 522.04,364.06 522.74,364.04 523.44,363.36 524.14,363.88 524.84,364.03 525.54,364.16 526.23,364.12 526.93,364.09 527.63,364.22 528.33,363.57 529.03,364.03 529.72,363.39 530.42,363.76 531.12,363.67 531.82,362.75 532.52,363.23 533.22,363.77 533.91,364.25 534.61,363.44 535.31,364.25 536.01,364.18 536.71,363.7 537.41,364.23 538.1,363.62 538.8,364.26 539.5,363.42" fill="none" stroke="#f22" stroke-width="0.6" stroke-linejoin="round" />
<polyline points="421.5,364.24 422.2,364.22 422.9,364.3 423.59,364.15 424.29,363.97 424.99,363.76 425.69,363.65 426.39,364.12 427.09,363.31 427.78,364.21 428.48,363.82 429.18,364.05 429.88,363.63 430.58,363.92 431.28,363.62 431.97,364.17 432.67,364.07 433.37,363.43 434.07,364.19 434.77,363.71 435.46,363.64 436.16,364.11 436.86,363.86 437.56,362.94 438.26,363.41 438.96,363.64 439.65,364 440.35,363.35 441.05,363.62 441.75,364.07 442.45,363.64 443.14,363.84 443.84,363.42 444.54,363.85 445.24,363.11 445.94,363.58 446.64,363.15 447.33,364 448.03,363.79 448.73,363.28 449.43,363.4 450.13,363.49 450.83,363.49 451.52,362.78 452.22,362.9 452.92,362.32 453.62,361.71 454.32,362.29 455.01,362.04 455.71,361.53 456.41,361.36 457.11,360.34 457.81,359.93 458.51,359.97 459.2,359.31 459.9,358.31 460.6,358.16 461.3,357.68 462,356.07 462.7,355.88 463.39,354.13 464.09,352.78 464.79,352.79 465.49,351.35 466.19,350.85 466.88,349.32 467.58,347.9 468.28,346.53 468.98,344.87 469.68,342.62 470.38,341.21 471.07,340.76 471.77,337.74 472.47,337.24 473.17,335.61 473.87,331.85 474.57,329.25 475.26,327.88 475.96,327.04 476.66,326.14 477.36,321.74 478.06,317.66 478.75,318.51 479.45,320.08 480.15,315.54 480.85,314.98 481.55,314.04 482.25,309.34 482.94,305.09 483.64,304.01 484.34,301.94 485.04,299.44 485.74,301.74 486.43,299.53 487.13,295.52 487.83,291.64 488.53,290.7 489.23,287.65 489.93,289.78 490.62,289.83 491.32,291.31 492.02,291.92 492.72,291.98 493.42,290.55 494.12,289.37 494.81,295.1 495.51,286.52 496.21,294.54 496.91,295.92 497.61,301.26 498.3,305.13 499,309.17 499.7,313.78 500.4,317.4 501.1,321.78 501.8,326.58 502.49,330.99 503.19,335.2 503.89,340.28 504.59,343.69 505.29,346.89 505.99,348.62 506.68,351.64 507.38,353.23 508.08,355.58 508.78,356.73 509.48,357.87 510.17,359.57 510.87,360.42 511.57,360.8 512.27,361.59 512.97,362.38 513.67,362.88 514.36,362.34 515.06,363.34 515.76,363.27 516.46,362.89 517.16,363.37 517.86,363.54 518.55,363.68 519.25,362.87 519.95,363.28 520.65,364.1 521.35,364.25 522.04,363.97 522.74,363.63 523.44,363.47 524.14,362.99 524.84,363.73 525.54,364.13 526.23,363.66 526.93,364 527.63,364.08 528.33,363.27 529.03,363.91 529.72,364.22 530.42,363.88 531.12,363.82 531.82,364.19 532.52,363.79 533.22,364.27 533.91,364.09 534.61,363.79 535.31,364.2 536.01,364.28 536.71,363.88 537.41,364.03 538.1,364.26 538.8,363.51 539.5,364.28" fill="none" stroke="#22f" stroke-width="0.6" stroke-linejoin="round" />
<rect x="421.5" y="258" width="118" height="106.3" fill="none" stroke="#111" stroke-width="0.7"/>
<line x1="419.3" y1="364.3" x2="421.5" y2="364.3" stroke="#222" stroke-width="0.5" />
<text x="417.3" y="364.3" font-size="5.9" text-anchor="middle" fill="#111" transform="rotate(-90 417.3 364.3)">0</text>
<line x1="419.3" y1="343.04" x2="421.5" y2="343.04" stroke="#222" stroke-width="0.5" />
<text x="417.3" y="343.04" font-size="5.9" text-anchor="middle" fill="#111" transform="rotate(-90 417.3 343.04)">50</text>
<line x1="419.3" y1="321.78" x2="421.5" y2="321.78" stroke="#222" stroke-width="0.5" />
<text x="417.3" y="321.78" font-size="5.9" text-anchor="middle" fill="#111" transform="rotate(-90 417.3 321.78)">100</text>
<line x1="419.3" y1="300.52" x2="421.5" y2="300.52" stroke="#222" stroke-width="0.5" />
<text x="417.3" y="300.52" font-size="5.9" text-anchor="middle" fill="#111" transform="rotate(-90 417.3 300.52)">150</text>
<line x1="419.3" y1="279.26" x2="421.5" y2="279.26" stroke="#222" stroke-width="0.5" />
<text x="417.3" y="279.26" font-size="5.9" text-anchor="middle" fill="#111" transform="rotate(-90 417.3 279.26)">200</text>
<line x1="419.3" y1="258" x2="421.5" y2="258" stroke="#222" stroke-width="0.5" />
<text x="417.3" y="258" font-size="5.9" text-anchor="middle" fill="#111" transform="rotate(-90 417.3 258)">250</text>
<line x1="420.4" y1="360.05" x2="421.5" y2="360.05" stroke="#444" stroke-width="0.35" />
<line x1="420.4" y1="355.8" x2="421.5" y2="355.8" stroke="#444" stroke-width="0.35" />
<line x1="420.4" y1="351.54" x2="421.5" y2="351.54" stroke="#444" stroke-width="0.35" />
<line x1="420.4" y1="347.29" x2="421.5" y2="347.29" stroke="#444" stroke-width="0.35" />
<line x1="420.4" y1="343.04" x2="421.5" y2="343.04" stroke="#444" stroke-width="0.35" />
<line x1="420.4" y1="338.79" x2="421.5" y2="338.79" stroke="#444" stroke-width="0.35" />
<line x1="420.4" y1="334.54" x2="421.5" y2="334.54" stroke="#444" stroke-width="0.35" />
<line x1="420.4" y1="330.28" x2="421.5" y2="330.28" stroke="#444" stroke-width="0.35" />
<line x1="420.4" y1="326.03" x2="421.5" y2="326.03" stroke="#444" stroke-width="0.35" />
<line x1="420.4" y1="321.78" x2="421.5" y2="321.78" stroke="#444" stroke-width="0.35" />
<line x1="420.4" y1="317.53" x2="421.5" y2="317.53" stroke="#444" stroke-width="0.35" />
<line x1="420.4" y1="313.28" x2="421.5" y2="313.28" stroke="#444" stroke-width="0.35" />
<line x1="420.4" y1="309.02" x2="421.5" y2="309.02" stroke="#444" stroke-width="0.35" />
<line x1="420.4" y1="304.77" x2="421.5" y2="304.77" stroke="#444" stroke-width="0.35" />
<line x1="420.4" y1="300.52" x2="421.5" y2="300.52" stroke="#444" stroke-width="0.35" />
<line x1="420.4" y1="296.27" x2="421.5" y2="296.27" stroke="#444" stroke-width="0.35" />
<line x1="420.4" y1="292.02" x2="421.5" y2="292.02" stroke="#444" stroke-width="0.35" />
<line x1="420.4" y1="287.76" x2="421.5" y2="287.76" stroke="#444" stroke-width="0.35" />
<line x1="420.4" y1="283.51" x2="421.5" y2="283.51" stroke="#444" stroke-width="0.35" />
<line x1="420.4" y1="279.26" x2="421.5" y2="279.26" stroke="#444" stroke-width="0.35" />
<line x1="420.4" y1="275.01" x2="421.5" y2="275.01" stroke="#444" stroke-width="0.35" />
<line x1="420.4" y1="270.76" x2="421.5" y2="270.76" stroke="#444" stroke-width="0.35" />
<line x1="420.4" y1="266.5" x2="421.5" y2="266.5" stroke="#444" stroke-width="0.35" />
<line x1="420.4" y1="262.25" x2="421.5" y2="262.25" stroke="#444" stroke-width="0.35" />
<line x1="421.5" y1="364.3" x2="421.5" y2="366.5" stroke="#222" stroke-width="0.5" />
<text x="420.9" y="372.9" font-size="5.8" text-anchor="middle" fill="#111">10<tspan font-size="4" dy="-2.4">0</tspan></text>
<line x1="430.38" y1="364.3" x2="430.38" y2="365.4" stroke="#444" stroke-width="0.35" />
<line x1="435.58" y1="364.3" x2="435.58" y2="365.4" stroke="#444" stroke-width="0.35" />
<line x1="439.26" y1="364.3" x2="439.26" y2="365.4" stroke="#444" stroke-width="0.35" />
<line x1="442.12" y1="364.3" x2="442.12" y2="365.4" stroke="#444" stroke-width="0.35" />
<line x1="444.46" y1="364.3" x2="444.46" y2="365.4" stroke="#444" stroke-width="0.35" />
<line x1="446.43" y1="364.3" x2="446.43" y2="365.4" stroke="#444" stroke-width="0.35" />
<line x1="448.14" y1="364.3" x2="448.14" y2="365.4" stroke="#444" stroke-width="0.35" />
<line x1="449.65" y1="364.3" x2="449.65" y2="365.4" stroke="#444" stroke-width="0.35" />
<line x1="451" y1="364.3" x2="451" y2="366.5" stroke="#222" stroke-width="0.5" />
<text x="450.4" y="372.9" font-size="5.8" text-anchor="middle" fill="#111">10<tspan font-size="4" dy="-2.4">1</tspan></text>
<line x1="459.88" y1="364.3" x2="459.88" y2="365.4" stroke="#444" stroke-width="0.35" />
<line x1="465.08" y1="364.3" x2="465.08" y2="365.4" stroke="#444" stroke-width="0.35" />
<line x1="468.76" y1="364.3" x2="468.76" y2="365.4" stroke="#444" stroke-width="0.35" />
<line x1="471.62" y1="364.3" x2="471.62" y2="365.4" stroke="#444" stroke-width="0.35" />
<line x1="473.96" y1="364.3" x2="473.96" y2="365.4" stroke="#444" stroke-width="0.35" />
<line x1="475.93" y1="364.3" x2="475.93" y2="365.4" stroke="#444" stroke-width="0.35" />
<line x1="477.64" y1="364.3" x2="477.64" y2="365.4" stroke="#444" stroke-width="0.35" />
<line x1="479.15" y1="364.3" x2="479.15" y2="365.4" stroke="#444" stroke-width="0.35" />
<line x1="480.5" y1="364.3" x2="480.5" y2="366.5" stroke="#222" stroke-width="0.5" />
<text x="479.9" y="372.9" font-size="5.8" text-anchor="middle" fill="#111">10<tspan font-size="4" dy="-2.4">2</tspan></text>
<line x1="489.38" y1="364.3" x2="489.38" y2="365.4" stroke="#444" stroke-width="0.35" />
<line x1="494.58" y1="364.3" x2="494.58" y2="365.4" stroke="#444" stroke-width="0.35" />
<line x1="498.26" y1="364.3" x2="498.26" y2="365.4" stroke="#444" stroke-width="0.35" />
<line x1="501.12" y1="364.3" x2="501.12" y2="365.4" stroke="#444" stroke-width="0.35" />
<line x1="503.46" y1="364.3" x2="503.46" y2="365.4" stroke="#444" stroke-width="0.35" />
<line x1="505.43" y1="364.3" x2="505.43" y2="365.4" stroke="#444" stroke-width="0.35" />
<line x1="507.14" y1="364.3" x2="507.14" y2="365.4" stroke="#444" stroke-width="0.35" />
<line x1="508.65" y1="364.3" x2="508.65" y2="365.4" stroke="#444" stroke-width="0.35" />
<line x1="510" y1="364.3" x2="510" y2="366.5" stroke="#222" stroke-width="0.5" />
<text x="509.4" y="372.9" font-size="5.8" text-anchor="middle" fill="#111">10<tspan font-size="4" dy="-2.4">3</tspan></text>
<line x1="518.88" y1="364.3" x2="518.88" y2="365.4" stroke="#444" stroke-width="0.35" />
<line x1="524.08" y1="364.3" x2="524.08" y2="365.4" stroke="#444" stroke-width="0.35" />
<line x1="527.76" y1="364.3" x2="527.76" y2="365.4" stroke="#444" stroke-width="0.35" />
<line x1="530.62" y1="364.3" x2="530.62" y2="365.4" stroke="#444" stroke-width="0.35" />
<line x1="532.96" y1="364.3" x2="532.96" y2="365.4" stroke="#444" stroke-width="0.35" />
<line x1="534.93" y1="364.3" x2="534.93" y2="365.4" stroke="#444" stroke-width="0.35" />
<line x1="536.64" y1="364.3" x2="536.64" y2="365.4" stroke="#444" stroke-width="0.35" />
<line x1="538.15" y1="364.3" x2="538.15" y2="365.4" stroke="#444" stroke-width="0.35" />
<line x1="539.5" y1="364.3" x2="539.5" y2="366.5" stroke="#222" stroke-width="0.5" />
<text x="538.9" y="372.9" font-size="5.8" text-anchor="middle" fill="#111">10<tspan font-size="4" dy="-2.4">4</tspan></text>
<text x="478.9" y="378.9" font-size="5.2" text-anchor="middle" fill="#111">FL4-H</text>
<text x="409.9" y="311.95" font-size="5.4" text-anchor="middle" fill="#111" transform="rotate(-90 409.9 311.95)">Counts</text>
<text x="478.8" y="255.3" font-size="8.5" text-anchor="middle" fill="#000" letter-spacing="0.15" stroke="#000" stroke-width="0.3">α-syn uptake</text>
<line x1="424.1" y1="263.3" x2="435.3" y2="263.3" stroke="#000" stroke-width="0.8" />
<text x="436.5" y="265.2" font-size="5.5" fill="#111">K562</text>
<line x1="424.1" y1="269.68" x2="435.3" y2="269.68" stroke="#1fe01f" stroke-width="0.8" />
<text x="436.5" y="271.58" font-size="5.5" fill="#111">pSi4</text>
<line x1="424.1" y1="276.06" x2="435.3" y2="276.06" stroke="#f4f000" stroke-width="0.8" />
<text x="436.5" y="277.96" font-size="5.5" fill="#111">CBD.pSi4</text>
<line x1="424.1" y1="282.44" x2="435.3" y2="282.44" stroke="#f22" stroke-width="0.8" />
<text x="436.5" y="284.34" font-size="5.5" fill="#111">HSA.pSi4</text>
<line x1="424.1" y1="288.82" x2="435.3" y2="288.82" stroke="#22f" stroke-width="0.8" />
<text x="436.5" y="290.72" font-size="5.5" fill="#111">SDC4</text>
<polyline points="563.5,363.25 564.2,362.8 564.9,363.29 565.59,363.33 566.29,363.79 566.99,363.78 567.69,363.69 568.39,362.95 569.09,363.09 569.78,363.5 570.48,362.75 571.18,362.97 571.88,362.78 572.58,363.68 573.28,362.42 573.97,363.5 574.67,362.25 575.37,362.98 576.07,362.84 576.77,363.18 577.46,362.94 578.16,363.05 578.86,363.04 579.56,362.04 580.26,362.59 580.96,362.19 581.65,362.6 582.35,362.74 583.05,362.77 583.75,362.04 584.45,361.94 585.14,362.28 585.84,362.7 586.54,362.4 587.24,362.41 587.94,362.41 588.64,361.38 589.33,362.2 590.03,361.84 590.73,360.83 591.43,361.91 592.13,361.21 592.83,361.41 593.52,360.91 594.22,362.09 594.92,362.07 595.62,361.14 596.32,359.96 597.01,361.17 597.71,360.57 598.41,360.51 599.11,360.2 599.81,361.41 600.51,360.21 601.2,361.08 601.9,360.39 602.6,361.74 603.3,360.74 604,360.45 604.7,360.56 605.39,360.87 606.09,359.89 606.79,360.09 607.49,360.07 608.19,360.26 608.88,360.71 609.58,360.66 610.28,360.21 610.98,360.65 611.68,359.66 612.38,359.7 613.07,360.38 613.77,360.41 614.47,360.36 615.17,360.33 615.87,359.48 616.57,359.83 617.26,358.36 617.96,357.86 618.66,360.05 619.36,359.73 620.06,358.58 620.75,359.41 621.45,357.99 622.15,357.92 622.85,356.78 623.55,356.95 624.25,356.08 624.94,355.5 625.64,355.38 626.34,354.54 627.04,352.87 627.74,351.36 628.43,347.92 629.13,350.16 629.83,347.33 630.53,342.45 631.23,341.59 631.93,339.76 632.62,336.96 633.32,336.55 634.02,332.82 634.72,330.38 635.42,323.03 636.12,325.05 636.81,316.57 637.51,317.67 638.21,317.14 638.91,308.54 639.61,311.56 640.3,319.13 641,304.69 641.7,318.58 642.4,310.56 643.1,309.99 643.8,318.49 644.49,322.31 645.19,325.8 645.89,316.89 646.59,324.07 647.29,333.24 647.99,334.45 648.68,340.22 649.38,343.47 650.08,347.24 650.78,347.86 651.48,350.09 652.17,353.84 652.87,356.94 653.57,358.27 654.27,360.49 654.97,360.55 655.67,360.71 656.36,361.49 657.06,362.63 657.76,363.21 658.46,362.25 659.16,362.91 659.86,363.61 660.55,363.93 661.25,362.3 661.95,364.05 662.65,364.03 663.35,363.67 664.04,364.11 664.74,363.82 665.44,364.16 666.14,364.26 666.84,363.13 667.54,363.19 668.23,364.23 668.93,364.13 669.63,364.15 670.33,363.85 671.03,363.18 671.72,363.83 672.42,362.91 673.12,363.57 673.82,364.25 674.52,363.27 675.22,364.08 675.91,363.95 676.61,364.09 677.31,363.96 678.01,363.94 678.71,364.06 679.41,364.25 680.1,363.88 680.8,363.12 681.5,363.66" fill="none" stroke="#000" stroke-width="0.6" stroke-linejoin="round" />
<polyline points="563.5,363.78 564.2,363.6 564.9,362.29 565.59,363.32 566.29,362.99 566.99,362.89 567.69,363.02 568.39,363.51 569.09,362.4 569.78,362.34 570.48,362.48 571.18,362.45 571.88,363.16 572.58,363.26 573.28,362.54 573.97,362.87 574.67,362.44 575.37,362.81 576.07,362.69 576.77,361.79 577.46,362.45 578.16,362.19 578.86,362.29 579.56,361.81 580.26,362.93 580.96,361.42 581.65,362.09 582.35,362.33 583.05,361.67 583.75,362.13 584.45,362.1 585.14,361.63 585.84,360.77 586.54,361.21 587.24,361.27 587.94,361.39 588.64,360.96 589.33,361.19 590.03,361.1 590.73,360.44 591.43,360.76 592.13,361.44 592.83,360.46 593.52,361.22 594.22,361.25 594.92,360.86 595.62,361.05 596.32,360 597.01,360.02 597.71,360.26 598.41,359.8 599.11,360.29 599.81,360.26 600.51,360.7 601.2,359.71 601.9,360.22 602.6,360.48 603.3,359.83 604,360.05 604.7,359.14 605.39,359.57 606.09,359.25 606.79,358.91 607.49,358.48 608.19,358.82 608.88,358.57 609.58,358.02 610.28,358.34 610.98,358.32 611.68,358.76 612.38,358.23 613.07,357.81 613.77,357.8 614.47,355.73 615.17,355.33 615.87,355.99 616.57,354.05 617.26,352.6 617.96,355.65 618.66,354.49 619.36,353.28 620.06,353.15 620.75,352.26 621.45,350.45 622.15,348.22 622.85,350.9 623.55,349.18 624.25,347.55 624.94,345.31 625.64,344.93 626.34,340.11 627.04,335.57 627.74,339.52 628.43,340.8 629.13,333.42 629.83,333.1 630.53,333.69 631.23,331.69 631.93,333.04 632.62,332.1 633.32,331.08 634.02,329.66 634.72,332.12 635.42,323.59 636.12,333.49 636.81,327.95 637.51,323.51 638.21,326.69 638.91,323.78 639.61,319.02 640.3,320.42 641,320.82 641.7,328.63 642.4,324.73 643.1,331.59 643.8,332.56 644.49,335.7 645.19,340.48 645.89,342.29 646.59,341.05 647.29,346.49 647.99,347.08 648.68,349.69 649.38,353.27 650.08,354.25 650.78,356.29 651.48,359.86 652.17,357.63 652.87,358.99 653.57,360.37 654.27,361.39 654.97,361.72 655.67,362.61 656.36,362.52 657.06,363.4 657.76,362.81 658.46,362.46 659.16,363.69 659.86,363.73 660.55,363.84 661.25,364.14 661.95,363.82 662.65,363.99 663.35,363.96 664.04,363.78 664.74,363.17 665.44,362.54 666.14,364.13 666.84,363.29 667.54,363.92 668.23,363.03 668.93,363.01 669.63,364.05 670.33,363.94 671.03,364.06 671.72,363.97 672.42,363.26 673.12,364.28 673.82,363.83 674.52,364.23 675.22,364.26 675.91,364.25 676.61,364.28 677.31,363.62 678.01,364.12 678.71,363.63 679.41,363.79 680.1,363.69 680.8,364.26 681.5,363.96" fill="none" stroke="#1fe01f" stroke-width="0.6" stroke-linejoin="round" />
<polyline points="563.5,363.29 564.2,363.5 564.9,363.83 565.59,363.53 566.29,363.94 566.99,362.92 567.69,363.38 568.39,363.78 569.09,363.74 569.78,363.79 570.48,363.21 571.18,363.6 571.88,363.21 572.58,363.16 573.28,362.91 573.97,362.74 574.67,363.4 575.37,363.32 576.07,362.33 576.77,362.92 577.46,363.06 578.16,362.68 578.86,362.46 579.56,361.78 580.26,362.88 580.96,362.75 581.65,362.3 582.35,362.86 583.05,361.9 583.75,362.42 584.45,362.87 585.14,362.28 585.84,362.5 586.54,362.71 587.24,362.11 587.94,362.36 588.64,362.23 589.33,361.86 590.03,361.48 590.73,361.62 591.43,361.66 592.13,361.66 592.83,361.7 593.52,361.84 594.22,361.58 594.92,361.12 595.62,361.42 596.32,361.23 597.01,361.54 597.71,361.35 598.41,360.38 599.11,360.99 599.81,361.87 600.51,361.16 601.2,361.03 601.9,360.37 602.6,361.06 603.3,360.77 604,360.75 604.7,360.13 605.39,358.98 606.09,359.67 606.79,360.27 607.49,360.52 608.19,360.5 608.88,360.54 609.58,360.55 610.28,360.06 610.98,359.58 611.68,360.16 612.38,360.63 613.07,360.06 613.77,359.11 614.47,358.75 615.17,360.39 615.87,359.85 616.57,359.18 617.26,360.08 617.96,359.68 618.66,358.93 619.36,359.01 620.06,357.05 620.75,358.32 621.45,357.34 622.15,357.67 622.85,356.77 623.55,355.95 624.25,356.1 624.94,355.67 625.64,357.56 626.34,354.84 627.04,353.89 627.74,352.4 628.43,354.13 629.13,353.99 629.83,350.74 630.53,349.33 631.23,348.86 631.93,350.36 632.62,346.85 633.32,343.34 634.02,342.32 634.72,345.01 635.42,343.21 636.12,342.94 636.81,340.49 637.51,336.38 638.21,336.22 638.91,340.14 639.61,339.11 640.3,336.63 641,333.11 641.7,334.8 642.4,329.79 643.1,331.72 643.8,330.82 644.49,332.89 645.19,331.98 645.89,329.03 646.59,326.86 647.29,335.69 647.99,341.53 648.68,333.35 649.38,335.11 650.08,339.19 650.78,344.48 651.48,346.97 652.17,348.75 652.87,350.61 653.57,353.75 654.27,353.31 654.97,355.02 655.67,356.98 656.36,359.47 657.06,360.42 657.76,359.96 658.46,361.6 659.16,362.53 659.86,362.78 660.55,362.47 661.25,363.64 661.95,363.53 662.65,363.77 663.35,363.66 664.04,363.81 664.74,364.03 665.44,363.84 666.14,363.66 666.84,364.09 667.54,364.24 668.23,363.54 668.93,364.2 669.63,364.09 670.33,363.53 671.03,363.88 671.72,364.21 672.42,363.63 673.12,363.15 673.82,364.01 674.52,363.87 675.22,363.49 675.91,363.96 676.61,364.16 677.31,363.6 678.01,364.23 678.71,363.54 679.41,363.68 680.1,364.3 680.8,363.93 681.5,363.75" fill="none" stroke="#f4f000" stroke-width="0.6" stroke-linejoin="round" />
<polyline points="563.5,363.68 564.2,363.72 564.9,363.66 565.59,363.48 566.29,363.17 566.99,363.17 567.69,363.57 568.39,363.64 569.09,363.44 569.78,363.64 570.48,363.16 571.18,362.03 571.88,363.31 572.58,363.5 573.28,363.56 573.97,363.32 574.67,362.89 575.37,363.26 576.07,362.32 576.77,362.99 577.46,363.41 578.16,362.9 578.86,362.49 579.56,362.86 580.26,362.27 580.96,361.56 581.65,362.3 582.35,362.98 583.05,362.55 583.75,362.71 584.45,362.21 585.14,361.2 585.84,362.54 586.54,362.03 587.24,362.64 587.94,361.98 588.64,361.75 589.33,361.53 590.03,361.38 590.73,361.08 591.43,361.78 592.13,361.67 592.83,361.76 593.52,361.6 594.22,361.01 594.92,361.59 595.62,360.5 596.32,361.37 597.01,361.57 597.71,360.99 598.41,361.42 599.11,360.35 599.81,360.89 600.51,360.26 601.2,360.39 601.9,361.24 602.6,360.29 603.3,359.92 604,361.93 604.7,361.2 605.39,360.5 606.09,360.82 606.79,359.64 607.49,360.2 608.19,360.18 608.88,360.31 609.58,360.89 610.28,360.29 610.98,360.25 611.68,360.06 612.38,360.19 613.07,360.68 613.77,359.5 614.47,359.24 615.17,360.16 615.87,359.75 616.57,359.38 617.26,360.1 617.96,360.2 618.66,359.3 619.36,359.86 620.06,358.89 620.75,359.91 621.45,358.96 622.15,359.54 622.85,359.01 623.55,357.68 624.25,356.96 624.94,356.34 625.64,355.78 626.34,357.59 627.04,353.56 627.74,354.41 628.43,353.4 629.13,351.54 629.83,350.98 630.53,346.3 631.23,349.04 631.93,346.02 632.62,340.15 633.32,342.18 634.02,337.73 634.72,336.9 635.42,334.69 636.12,337.9 636.81,324.06 637.51,331.31 638.21,325.81 638.91,318.77 639.61,314.34 640.3,323.41 641,318.44 641.7,316.56 642.4,320.11 643.1,315.4 643.8,319.66 644.49,314.46 645.19,315.56 645.89,307.07 646.59,315.59 647.29,322.78 647.99,322.3 648.68,324.32 649.38,331.24 650.08,325.62 650.78,335.56 651.48,336.5 652.17,338.93 652.87,342.42 653.57,342.4 654.27,348.29 654.97,350.59 655.67,351.99 656.36,352.93 657.06,355.13 657.76,357.49 658.46,358.26 659.16,359.96 659.86,361.28 660.55,361.21 661.25,362.27 661.95,362.33 662.65,362.92 663.35,363.13 664.04,362.74 664.74,363.47 665.44,363.18 666.14,363.49 666.84,363.99 667.54,363.92 668.23,363.91 668.93,363.56 669.63,364.17 670.33,364.08 671.03,364.26 671.72,363.87 672.42,364.1 673.12,364.22 673.82,364.24 674.52,363.69 675.22,364.3 675.91,363.45 676.61,363.71 677.31,363.71 678.01,363.71 678.71,363.63 679.41,363.55 680.1,363.5 680.8,363.74 681.5,363.32" fill="none" stroke="#f22" stroke-width="0.6" stroke-linejoin="round" />
<polyline points="563.5,362.66 564.2,363.46 564.9,363.72 565.59,363.66 566.29,363.14 566.99,362.93 567.69,363.77 568.39,362.9 569.09,363.22 569.78,363.67 570.48,362.14 571.18,363.07 571.88,363.09 572.58,363.62 573.28,363.27 573.97,363.14 574.67,362.5 575.37,363.34 576.07,362.86 576.77,361.86 577.46,362.48 578.16,362.38 578.86,362.63 579.56,362.88 580.26,362.78 580.96,362.41 581.65,362.39 582.35,361.97 583.05,362.64 583.75,362.13 584.45,362.08 585.14,362.28 585.84,361.98 586.54,362.32 587.24,362.07 587.94,361.34 588.64,361.48 589.33,361.84 590.03,362.19 590.73,361.31 591.43,360.8 592.13,361.36 592.83,361.57 593.52,360.89 594.22,361.33 594.92,360.74 595.62,360.55 596.32,361.24 597.01,360.36 597.71,360.96 598.41,360.61 599.11,361.03 599.81,360.72 600.51,360.19 601.2,360.31 601.9,359.83 602.6,360.26 603.3,360.57 604,359.01 604.7,359.77 605.39,359.66 606.09,359.38 606.79,360.37 607.49,359.98 608.19,359.6 608.88,359.23 609.58,359.96 610.28,360.12 610.98,360.28 611.68,359.53 612.38,360.43 613.07,359.48 613.77,359.87 614.47,359.45 615.17,359.54 615.87,360.13 616.57,360.26 617.26,360.36 617.96,359.29 618.66,359.68 619.36,360.08 620.06,359.42 620.75,358.88 621.45,359.39 622.15,359.41 622.85,358.54 623.55,359.24 624.25,358.87 624.94,360.26 625.64,357.62 626.34,358.86 627.04,358.45 627.74,357.81 628.43,356.15 629.13,356.8 629.83,355.17 630.53,355.15 631.23,354.91 631.93,353.07 632.62,353.15 633.32,349.32 634.02,351.62 634.72,348.07 635.42,351.59 636.12,343.82 636.81,343.23 637.51,343.89 638.21,338.66 638.91,337.62 639.61,337.95 640.3,333.31 641,332.37 641.7,335.54 642.4,323.24 643.1,332.49 643.8,323.56 644.49,324.28 645.19,322.46 645.89,312.65 646.59,321 647.29,317.88 647.99,317.73 648.68,322.01 649.38,312.66 650.08,323.29 650.78,327.66 651.48,316.54 652.17,309.26 652.87,323.33 653.57,318.84 654.27,319.99 654.97,326.23 655.67,330.67 656.36,338.62 657.06,340.42 657.76,340.5 658.46,343.67 659.16,348.89 659.86,348.78 660.55,352.61 661.25,355.77 661.95,357.25 662.65,358.21 663.35,360.85 664.04,360.66 664.74,361.27 665.44,361.9 666.14,361.05 666.84,362.56 667.54,363.38 668.23,363.56 668.93,363.61 669.63,363.2 670.33,363.82 671.03,363.8 671.72,362.92 672.42,363.76 673.12,364.1 673.82,363.47 674.52,364.27 675.22,363.55 675.91,364.14 676.61,363.76 677.31,363.71 678.01,363.27 678.71,363.84 679.41,363.73 680.1,363.71 680.8,364.09 681.5,363.55" fill="none" stroke="#22f" stroke-width="0.6" stroke-linejoin="round" />
<rect x="563.5" y="258" width="118" height="106.3" fill="none" stroke="#111" stroke-width="0.7"/>
<line x1="561.3" y1="364.3" x2="563.5" y2="364.3" stroke="#222" stroke-width="0.5" />
<text x="559.3" y="364.3" font-size="5.9" text-anchor="middle" fill="#111" transform="rotate(-90 559.3 364.3)">0</text>
<line x1="561.3" y1="343.04" x2="563.5" y2="343.04" stroke="#222" stroke-width="0.5" />
<text x="559.3" y="343.04" font-size="5.9" text-anchor="middle" fill="#111" transform="rotate(-90 559.3 343.04)">20</text>
<line x1="561.3" y1="321.78" x2="563.5" y2="321.78" stroke="#222" stroke-width="0.5" />
<text x="559.3" y="321.78" font-size="5.9" text-anchor="middle" fill="#111" transform="rotate(-90 559.3 321.78)">40</text>
<line x1="561.3" y1="300.52" x2="563.5" y2="300.52" stroke="#222" stroke-width="0.5" />
<text x="559.3" y="300.52" font-size="5.9" text-anchor="middle" fill="#111" transform="rotate(-90 559.3 300.52)">60</text>
<line x1="561.3" y1="279.26" x2="563.5" y2="279.26" stroke="#222" stroke-width="0.5" />
<text x="559.3" y="279.26" font-size="5.9" text-anchor="middle" fill="#111" transform="rotate(-90 559.3 279.26)">80</text>
<line x1="561.3" y1="258" x2="563.5" y2="258" stroke="#222" stroke-width="0.5" />
<text x="559.3" y="258" font-size="5.9" text-anchor="middle" fill="#111" transform="rotate(-90 559.3 258)">100</text>
<line x1="562.4" y1="360.05" x2="563.5" y2="360.05" stroke="#444" stroke-width="0.35" />
<line x1="562.4" y1="355.8" x2="563.5" y2="355.8" stroke="#444" stroke-width="0.35" />
<line x1="562.4" y1="351.54" x2="563.5" y2="351.54" stroke="#444" stroke-width="0.35" />
<line x1="562.4" y1="347.29" x2="563.5" y2="347.29" stroke="#444" stroke-width="0.35" />
<line x1="562.4" y1="343.04" x2="563.5" y2="343.04" stroke="#444" stroke-width="0.35" />
<line x1="562.4" y1="338.79" x2="563.5" y2="338.79" stroke="#444" stroke-width="0.35" />
<line x1="562.4" y1="334.54" x2="563.5" y2="334.54" stroke="#444" stroke-width="0.35" />
<line x1="562.4" y1="330.28" x2="563.5" y2="330.28" stroke="#444" stroke-width="0.35" />
<line x1="562.4" y1="326.03" x2="563.5" y2="326.03" stroke="#444" stroke-width="0.35" />
<line x1="562.4" y1="321.78" x2="563.5" y2="321.78" stroke="#444" stroke-width="0.35" />
<line x1="562.4" y1="317.53" x2="563.5" y2="317.53" stroke="#444" stroke-width="0.35" />
<line x1="562.4" y1="313.28" x2="563.5" y2="313.28" stroke="#444" stroke-width="0.35" />
<line x1="562.4" y1="309.02" x2="563.5" y2="309.02" stroke="#444" stroke-width="0.35" />
<line x1="562.4" y1="304.77" x2="563.5" y2="304.77" stroke="#444" stroke-width="0.35" />
<line x1="562.4" y1="300.52" x2="563.5" y2="300.52" stroke="#444" stroke-width="0.35" />
<line x1="562.4" y1="296.27" x2="563.5" y2="296.27" stroke="#444" stroke-width="0.35" />
<line x1="562.4" y1="292.02" x2="563.5" y2="292.02" stroke="#444" stroke-width="0.35" />
<line x1="562.4" y1="287.76" x2="563.5" y2="287.76" stroke="#444" stroke-width="0.35" />
<line x1="562.4" y1="283.51" x2="563.5" y2="283.51" stroke="#444" stroke-width="0.35" />
<line x1="562.4" y1="279.26" x2="563.5" y2="279.26" stroke="#444" stroke-width="0.35" />
<line x1="562.4" y1="275.01" x2="563.5" y2="275.01" stroke="#444" stroke-width="0.35" />
<line x1="562.4" y1="270.76" x2="563.5" y2="270.76" stroke="#444" stroke-width="0.35" />
<line x1="562.4" y1="266.5" x2="563.5" y2="266.5" stroke="#444" stroke-width="0.35" />
<line x1="562.4" y1="262.25" x2="563.5" y2="262.25" stroke="#444" stroke-width="0.35" />
<line x1="563.5" y1="364.3" x2="563.5" y2="366.5" stroke="#222" stroke-width="0.5" />
<text x="562.9" y="372.9" font-size="5.8" text-anchor="middle" fill="#111">10<tspan font-size="4" dy="-2.4">0</tspan></text>
<line x1="572.38" y1="364.3" x2="572.38" y2="365.4" stroke="#444" stroke-width="0.35" />
<line x1="577.58" y1="364.3" x2="577.58" y2="365.4" stroke="#444" stroke-width="0.35" />
<line x1="581.26" y1="364.3" x2="581.26" y2="365.4" stroke="#444" stroke-width="0.35" />
<line x1="584.12" y1="364.3" x2="584.12" y2="365.4" stroke="#444" stroke-width="0.35" />
<line x1="586.46" y1="364.3" x2="586.46" y2="365.4" stroke="#444" stroke-width="0.35" />
<line x1="588.43" y1="364.3" x2="588.43" y2="365.4" stroke="#444" stroke-width="0.35" />
<line x1="590.14" y1="364.3" x2="590.14" y2="365.4" stroke="#444" stroke-width="0.35" />
<line x1="591.65" y1="364.3" x2="591.65" y2="365.4" stroke="#444" stroke-width="0.35" />
<line x1="593" y1="364.3" x2="593" y2="366.5" stroke="#222" stroke-width="0.5" />
<text x="592.4" y="372.9" font-size="5.8" text-anchor="middle" fill="#111">10<tspan font-size="4" dy="-2.4">1</tspan></text>
<line x1="601.88" y1="364.3" x2="601.88" y2="365.4" stroke="#444" stroke-width="0.35" />
<line x1="607.08" y1="364.3" x2="607.08" y2="365.4" stroke="#444" stroke-width="0.35" />
<line x1="610.76" y1="364.3" x2="610.76" y2="365.4" stroke="#444" stroke-width="0.35" />
<line x1="613.62" y1="364.3" x2="613.62" y2="365.4" stroke="#444" stroke-width="0.35" />
<line x1="615.96" y1="364.3" x2="615.96" y2="365.4" stroke="#444" stroke-width="0.35" />
<line x1="617.93" y1="364.3" x2="617.93" y2="365.4" stroke="#444" stroke-width="0.35" />
<line x1="619.64" y1="364.3" x2="619.64" y2="365.4" stroke="#444" stroke-width="0.35" />
<line x1="621.15" y1="364.3" x2="621.15" y2="365.4" stroke="#444" stroke-width="0.35" />
<line x1="622.5" y1="364.3" x2="622.5" y2="366.5" stroke="#222" stroke-width="0.5" />
<text x="621.9" y="372.9" font-size="5.8" text-anchor="middle" fill="#111">10<tspan font-size="4" dy="-2.4">2</tspan></text>
<line x1="631.38" y1="364.3" x2="631.38" y2="365.4" stroke="#444" stroke-width="0.35" />
<line x1="636.58" y1="364.3" x2="636.58" y2="365.4" stroke="#444" stroke-width="0.35" />
<line x1="640.26" y1="364.3" x2="640.26" y2="365.4" stroke="#444" stroke-width="0.35" />
<line x1="643.12" y1="364.3" x2="643.12" y2="365.4" stroke="#444" stroke-width="0.35" />
<line x1="645.46" y1="364.3" x2="645.46" y2="365.4" stroke="#444" stroke-width="0.35" />
<line x1="647.43" y1="364.3" x2="647.43" y2="365.4" stroke="#444" stroke-width="0.35" />
<line x1="649.14" y1="364.3" x2="649.14" y2="365.4" stroke="#444" stroke-width="0.35" />
<line x1="650.65" y1="364.3" x2="650.65" y2="365.4" stroke="#444" stroke-width="0.35" />
<line x1="652" y1="364.3" x2="652" y2="366.5" stroke="#222" stroke-width="0.5" />
<text x="651.4" y="372.9" font-size="5.8" text-anchor="middle" fill="#111">10<tspan font-size="4" dy="-2.4">3</tspan></text>
<line x1="660.88" y1="364.3" x2="660.88" y2="365.4" stroke="#444" stroke-width="0.35" />
<line x1="666.08" y1="364.3" x2="666.08" y2="365.4" stroke="#444" stroke-width="0.35" />
<line x1="669.76" y1="364.3" x2="669.76" y2="365.4" stroke="#444" stroke-width="0.35" />
<line x1="672.62" y1="364.3" x2="672.62" y2="365.4" stroke="#444" stroke-width="0.35" />
<line x1="674.96" y1="364.3" x2="674.96" y2="365.4" stroke="#444" stroke-width="0.35" />
<line x1="676.93" y1="364.3" x2="676.93" y2="365.4" stroke="#444" stroke-width="0.35" />
<line x1="678.64" y1="364.3" x2="678.64" y2="365.4" stroke="#444" stroke-width="0.35" />
<line x1="680.15" y1="364.3" x2="680.15" y2="365.4" stroke="#444" stroke-width="0.35" />
<line x1="681.5" y1="364.3" x2="681.5" y2="366.5" stroke="#222" stroke-width="0.5" />
<text x="680.9" y="372.9" font-size="5.8" text-anchor="middle" fill="#111">10<tspan font-size="4" dy="-2.4">4</tspan></text>
<text x="620.9" y="378.9" font-size="5.2" text-anchor="middle" fill="#111">FL4-H</text>
<text x="551.9" y="311.95" font-size="5.4" text-anchor="middle" fill="#111" transform="rotate(-90 551.9 311.95)">Counts</text>
<text x="621.5" y="255.3" font-size="8.5" text-anchor="middle" fill="#000" letter-spacing="0.15" stroke="#000" stroke-width="0.3">tau uptake</text>
<line x1="566.1" y1="263.3" x2="577.3" y2="263.3" stroke="#000" stroke-width="0.8" />
<text x="578.5" y="265.2" font-size="5.5" fill="#111">K562</text>
<line x1="566.1" y1="269.68" x2="577.3" y2="269.68" stroke="#1fe01f" stroke-width="0.8" />
<text x="578.5" y="271.58" font-size="5.5" fill="#111">pSi4</text>
<line x1="566.1" y1="276.06" x2="577.3" y2="276.06" stroke="#f4f000" stroke-width="0.8" />
<text x="578.5" y="277.96" font-size="5.5" fill="#111">CBD.pSi4</text>
<line x1="566.1" y1="282.44" x2="577.3" y2="282.44" stroke="#f22" stroke-width="0.8" />
<text x="578.5" y="284.34" font-size="5.5" fill="#111">HSA.pSi4</text>
<line x1="566.1" y1="288.82" x2="577.3" y2="288.82" stroke="#22f" stroke-width="0.8" />
<text x="578.5" y="290.72" font-size="5.5" fill="#111">SDC4</text>
</g>
<g id="pg">
<line x1="193.3" y1="403.8" x2="193.3" y2="628" stroke="#333" stroke-width="0.8" />
<line x1="192.95" y1="628" x2="508.3" y2="628" stroke="#333" stroke-width="0.8" />
<line x1="190.1" y1="628" x2="193.3" y2="628" stroke="#333" stroke-width="0.7" />
<text x="186.1" y="631.7" font-size="10.4" text-anchor="end" fill="#1a1a1a">0.0</text>
<line x1="190.1" y1="578.8" x2="193.3" y2="578.8" stroke="#333" stroke-width="0.7" />
<text x="186.1" y="582.5" font-size="10.4" text-anchor="end" fill="#1a1a1a">0.5</text>
<line x1="190.1" y1="529.6" x2="193.3" y2="529.6" stroke="#333" stroke-width="0.7" />
<text x="186.1" y="533.3" font-size="10.4" text-anchor="end" fill="#1a1a1a">1.0</text>
<line x1="190.1" y1="480.4" x2="193.3" y2="480.4" stroke="#333" stroke-width="0.7" />
<text x="186.1" y="484.1" font-size="10.4" text-anchor="end" fill="#1a1a1a">1.5</text>
<line x1="190.1" y1="431.2" x2="193.3" y2="431.2" stroke="#333" stroke-width="0.7" />
<text x="186.1" y="434.9" font-size="10.4" text-anchor="end" fill="#1a1a1a">2.0</text>
<text x="162.7" y="514.8" font-size="14.1" font-weight="bold" text-anchor="middle" transform="rotate(-90 162.7 514.8)">Fold change over K562</text>
<rect x="215.6" y="529.6" width="8.9" height="98.4" fill="#e2e2e2" stroke="#333" stroke-width="0.5"/>
<rect x="229.6" y="529.6" width="8.9" height="98.4" fill="#808080" stroke="#333" stroke-width="0.5"/>
<rect x="243.6" y="529.6" width="8.9" height="98.4" fill="#000" stroke="#000" stroke-width="0.5"/>
<text x="233.85" y="644.4" font-size="10.7" font-weight="bold" text-anchor="middle">K562</text>
<line x1="278.45" y1="517.4" x2="278.45" y2="526.25" stroke="#2a2a2a" stroke-width="0.7" /><line x1="275.25" y1="517.4" x2="281.65" y2="517.4" stroke="#2a2a2a" stroke-width="0.7" />
<rect x="274" y="526.25" width="8.9" height="101.75" fill="#e2e2e2" stroke="#333" stroke-width="0.5"/>
<line x1="292.45" y1="500.67" x2="292.45" y2="512.48" stroke="#2a2a2a" stroke-width="0.7" /><line x1="289.25" y1="500.67" x2="295.65" y2="500.67" stroke="#2a2a2a" stroke-width="0.7" />
<rect x="288" y="512.48" width="8.9" height="115.52" fill="#808080" stroke="#333" stroke-width="0.5"/>
<line x1="306.45" y1="511.89" x2="306.45" y2="519.76" stroke="#2a2a2a" stroke-width="0.7" /><line x1="303.25" y1="511.89" x2="309.65" y2="511.89" stroke="#2a2a2a" stroke-width="0.7" />
<rect x="302" y="519.76" width="8.9" height="108.24" fill="#000" stroke="#000" stroke-width="0.5"/>
<text x="292.25" y="644.4" font-size="10.7" font-weight="bold" text-anchor="middle">pSi4</text>
<line x1="336.85" y1="513.76" x2="336.85" y2="522.02" stroke="#2a2a2a" stroke-width="0.7" /><line x1="333.65" y1="513.76" x2="340.05" y2="513.76" stroke="#2a2a2a" stroke-width="0.7" />
<rect x="332.4" y="522.02" width="8.9" height="105.98" fill="#e2e2e2" stroke="#333" stroke-width="0.5"/>
<line x1="350.85" y1="512.97" x2="350.85" y2="518.48" stroke="#2a2a2a" stroke-width="0.7" /><line x1="347.65" y1="512.97" x2="354.05" y2="512.97" stroke="#2a2a2a" stroke-width="0.7" />
<rect x="346.4" y="518.48" width="8.9" height="109.52" fill="#808080" stroke="#333" stroke-width="0.5"/>
<line x1="364.85" y1="503.03" x2="364.85" y2="513.76" stroke="#2a2a2a" stroke-width="0.7" /><line x1="361.65" y1="503.03" x2="368.05" y2="503.03" stroke="#2a2a2a" stroke-width="0.7" />
<rect x="360.4" y="513.76" width="8.9" height="114.24" fill="#000" stroke="#000" stroke-width="0.5"/>
<text x="350.65" y="644.4" font-size="10.7" font-weight="bold" text-anchor="middle">CBD.pSi4</text>
<line x1="395.25" y1="433.76" x2="395.25" y2="453.73" stroke="#2a2a2a" stroke-width="0.7" /><line x1="392.05" y1="433.76" x2="398.45" y2="433.76" stroke="#2a2a2a" stroke-width="0.7" />
<rect x="390.8" y="453.73" width="8.9" height="174.27" fill="#e2e2e2" stroke="#333" stroke-width="0.5"/>
<text x="395.25" y="426.56" font-size="6.4" font-weight="bold" text-anchor="middle" fill="#222">**</text>
<line x1="409.25" y1="449.5" x2="409.25" y2="462.49" stroke="#2a2a2a" stroke-width="0.7" /><line x1="406.05" y1="449.5" x2="412.45" y2="449.5" stroke="#2a2a2a" stroke-width="0.7" />
<rect x="404.8" y="462.49" width="8.9" height="165.51" fill="#808080" stroke="#333" stroke-width="0.5"/>
<text x="409.25" y="442.3" font-size="6.4" font-weight="bold" text-anchor="middle" fill="#222">**</text>
<line x1="423.25" y1="440.55" x2="423.25" y2="463.77" stroke="#2a2a2a" stroke-width="0.7" /><line x1="420.05" y1="440.55" x2="426.45" y2="440.55" stroke="#2a2a2a" stroke-width="0.7" />
<rect x="418.8" y="463.77" width="8.9" height="164.23" fill="#000" stroke="#000" stroke-width="0.5"/>
<text x="423.25" y="433.35" font-size="6.4" font-weight="bold" text-anchor="middle" fill="#222">*</text>
<text x="409.05" y="644.4" font-size="10.7" font-weight="bold" text-anchor="middle">HSA.pSi4</text>
<line x1="453.65" y1="430.02" x2="453.65" y2="450.29" stroke="#2a2a2a" stroke-width="0.7" /><line x1="450.45" y1="430.02" x2="456.85" y2="430.02" stroke="#2a2a2a" stroke-width="0.7" />
<rect x="449.2" y="450.29" width="8.9" height="177.71" fill="#e2e2e2" stroke="#333" stroke-width="0.5"/>
<text x="453.65" y="422.82" font-size="6.4" font-weight="bold" text-anchor="middle" fill="#222">**</text>
<line x1="467.65" y1="418.51" x2="467.65" y2="440.55" stroke="#2a2a2a" stroke-width="0.7" /><line x1="464.45" y1="418.51" x2="470.85" y2="418.51" stroke="#2a2a2a" stroke-width="0.7" />
<rect x="463.2" y="440.55" width="8.9" height="187.45" fill="#808080" stroke="#333" stroke-width="0.5"/>
<text x="467.65" y="411.31" font-size="6.4" font-weight="bold" text-anchor="middle" fill="#222">*</text>
<line x1="481.65" y1="428.84" x2="481.65" y2="449.31" stroke="#2a2a2a" stroke-width="0.7" /><line x1="478.45" y1="428.84" x2="484.85" y2="428.84" stroke="#2a2a2a" stroke-width="0.7" />
<rect x="477.2" y="449.31" width="8.9" height="178.69" fill="#000" stroke="#000" stroke-width="0.5"/>
<text x="481.65" y="421.64" font-size="6.4" font-weight="bold" text-anchor="middle" fill="#222">*</text>
<text x="467.45" y="644.4" font-size="10.7" font-weight="bold" text-anchor="middle">SDC4</text>
<rect x="198.8" y="403.8" width="100" height="46.2" fill="#fff" stroke="#444" stroke-width="0.55"/>
<rect x="205.6" y="412.6" width="19.9" height="5.7" fill="#e2e2e2" stroke="#222" stroke-width="0.5"/>
<text x="230.6" y="418.5" font-size="8.8" font-weight="bold" fill="#000">HS expression</text>
<rect x="205.6" y="424.45" width="19.9" height="5.7" fill="#808080" stroke="#222" stroke-width="0.5"/>
<text x="230.6" y="430.35" font-size="8.8" font-weight="bold" fill="#000">α-syn uptake</text>
<rect x="205.6" y="436.3" width="19.9" height="5.7" fill="#000" stroke="#222" stroke-width="0.5"/>
<text x="230.6" y="442.2" font-size="8.8" font-weight="bold" fill="#000">tau uptake</text>
<rect x="198.8" y="457" width="58.7" height="24.3" fill="#fff" stroke="#444" stroke-width="0.55"/>
<text x="201.3" y="466.9" font-size="9.4" fill="#000">* P &lt; 0,05</text>
<text x="201.3" y="478.1" font-size="9.4" fill="#000">** P &lt; 0,01</text>
</g>
<g id="ph">
<defs><filter id="bl1" x="-50%" y="-50%" width="200%" height="200%"><feGaussianBlur stdDeviation="0.55"/></filter><filter id="bl3" x="-50%" y="-50%" width="200%" height="200%"><feGaussianBlur stdDeviation="3"/></filter><filter id="bl2" x="-50%" y="-50%" width="200%" height="200%"><feGaussianBlur stdDeviation="1.6"/></filter></defs>
<rect x="26.35" y="677.5" width="418.3" height="294.5" fill="#3a3a3a"/>
<rect x="26.35" y="677.5" width="417.75" height="293.2" fill="#000"/>
<text x="93.4" y="675" font-size="14" font-weight="bold" text-anchor="middle" fill="#111">α-syn / tau</text>
<text x="233.8" y="675" font-size="13.8" font-weight="bold" text-anchor="middle" fill="#111">HSA.pSi4</text>
<text x="371.4" y="675" font-size="13.8" font-weight="bold" text-anchor="middle" fill="#111">merged</text>
<text x="23.6" y="748.2" font-size="15" font-weight="bold" text-anchor="middle" fill="#111" transform="rotate(-90 23.6 748.2)">α-syn</text>
<text x="23.2" y="891.8" font-size="14.6" font-weight="bold" text-anchor="middle" fill="#111" transform="rotate(-90 23.2 891.8)">tau</text>
<g id="r1" transform="translate(0 0.5)"><path d="M110 738 L148 738 L142 765 L133 788 L125 788 L116 765Z" fill="#800" opacity="0.5" filter="url(#bl3)"/><path d="M125 733h1m4 1h1m5 1h1m1 0h1m-10 1h1m5 0h1m-20 1h1m1 0h1m15 0h1m4 0h1m-26 1h1m7 0h1m20 0h1m0 0h1m-32 1h1m0 0h1m2 0h1m21 0h1m0 0h1m1 0h1m1 0h1m-29 1h1m4 0h1m8 0h1m12 0h1m-15 1h1m-9 1h1m12 0h1m6 0h1m0 0h1m-29 1h1m0 0h1m7 0h1m11 0h1m0 0h1m0 0h1m5 0h1m5 0h1m-43 1h1m0 0h1m1 0h1m3 0h1m1 0h1m0 0h1m1 0h1m6 0h1m2 0h1m0 0h1m0 0h1m-6 1h1m1 0h1m1 0h1m5 0h1m1 0h1m-9 1h1m7 0h1m1 0h1m5 0h1m-38 1h1m2 0h1m6 0h1m0 0h1m13 0h1m7 0h1m-17 1h1m2 0h1m8 0h1m5 0h1m1 0h1m-40 1h1m2 0h1m6 0h1m11 0h1m2 0h1m6 0h1m8 0h1m-19 1h1m11 0h1m-35 1h1m23 0h1m6 0h1m4 0h1m2 0h1m-36 1h1m11 0h1m5 0h1m7 0h1m11 0h1m-40 1h1m30 0h1m2 0h1m-37 1h1m7 0h1m8 0h1m2 0h1m6 0h1m1 0h1m2 0h1m-32 1h1m3 0h1m5 0h1m13 0h1m2 0h1m3 0h1m3 0h1m0 0h1m-24 1h1m3 0h1m3 0h1m13 0h1m-28 1h1m0 0h1m5 0h1m4 0h1m6 0h1m-27 1h1m23 0h1m-19 1h1m7 0h1m8 0h1m-23 1h1m30 0h1m-27 1h1m16 0h1m-22 1h1m25 0h1m6 0h1m1 0h1m-33 1h1m1 0h1m5 0h1m14 0h1m1 0h1m0 0h1m-27 2h1m6 0h1m4 0h1m1 0h1m15 0h1m-28 1h1m23 0h1m-26 1h1m14 0h1m2 0h1m4 0h1m-25 1h1m4 0h1m12 0h1m-15 1h1m1 0h1m4 0h1m0 0h1m-12 1h1m5 0h1m-3 1h1m1 0h1m-7 1h1m13 0h1m0 0h1m-13 1h1m7 0h1m-12 1h1m2 0h1m17 0h1m-18 1h1m10 0h1m-7 1h1m10 1h1m-18 1h1m0 0h1m0 0h1m7 0h1m-9 3h1m1 2h1m4 0h1m1 0h1m-6 1h1m4 0h1m0 0h1m0 0h1m-7 1h1m2 0h1m-5 1h1" stroke="#3a0000" stroke-width="1" fill="none"/><path d="M127 733h1m3 0h1m0 1h1m0 0h1m0 0h1m-16 1h1m4 0h1m3 0h1m-10 1h1m0 0h1m2 0h1m1 0h1m2 0h1m9 0h1m-25 1h1m5 0h1m2 0h1m2 0h1m3 0h1m5 0h1m0 0h1m-25 1h1m10 0h1m1 0h1m1 0h1m2 0h1m5 0h1m1 0h1m0 0h1m0 0h1m-24 1h1m3 0h1m2 0h1m1 0h1m4 0h1m13 0h1m-38 1h1m2 0h1m1 0h1m2 0h1m1 0h1m0 0h1m12 0h1m1 0h1m1 0h1m4 0h1m3 0h1m-31 1h1m4 0h1m0 0h1m4 0h1m3 0h1m1 0h1m0 0h1m2 0h1m0 0h1m6 0h1m-35 1h1m4 0h1m1 0h1m1 0h1m4 0h1m3 0h1m3 0h1m3 0h1m5 0h1m0 0h1m1 0h1m-36 1h1m1 0h1m2 0h1m0 0h1m4 0h1m16 0h1m1 0h1m4 0h1m3 0h1m0 0h1m-41 1h1m1 0h1m9 0h1m14 0h1m1 0h1m1 0h1m0 0h1m1 0h1m-39 1h1m2 0h1m0 0h1m0 0h1m2 0h1m6 0h1m0 0h1m11 0h1m5 0h1m1 0h1m2 0h1m1 0h1m-43 1h1m1 0h1m4 0h1m1 0h1m0 0h1m5 0h1m12 0h1m3 0h1m7 0h1m-40 1h1m8 0h1m0 0h1m2 0h1m1 0h1m0 0h1m4 0h1m3 0h1m7 0h1m1 0h1m2 0h1m4 0h1m-43 1h1m2 0h1m1 0h1m0 0h1m4 0h1m1 0h1m2 0h1m2 0h1m5 0h1m1 0h1m0 0h1m-30 1h1m5 0h1m5 0h1m0 0h1m6 0h1m9 0h1m1 0h1m0 0h1m0 0h1m-31 1h1m0 0h1m4 0h1m3 0h1m0 0h1m2 0h1m0 0h1m0 0h1m0 0h1m8 0h1m1 0h1m2 0h1m1 0h1m0 0h1m-34 1h1m1 0h1m0 0h1m1 0h1m0 0h1m1 0h1m2 0h1m2 0h1m5 0h1m4 0h1m1 0h1m2 0h1m1 0h1m2 0h1m-34 1h1m5 0h1m10 0h1m8 0h1m0 0h1m1 0h1m0 0h1m0 0h1m0 0h1m0 0h1m-42 1h1m4 0h1m2 0h1m1 0h1m0 0h1m6 0h1m9 0h1m0 0h1m13 0h1m-41 1h1m0 0h1m2 0h1m0 0h1m2 0h1m4 0h1m1 0h1m4 0h1m4 0h1m4 0h1m2 0h1m1 0h1m3 0h1m0 0h1m-34 1h1m6 0h1m1 0h1m2 0h1m3 0h1m2 0h1m1 0h1m1 0h1m3 0h1m5 0h1m-42 1h1m9 0h1m5 0h1m3 0h1m3 0h1m2 0h1m0 0h1m0 0h1m0 0h1m4 0h1m5 0h1m-40 1h1m1 0h1m1 0h1m0 0h1m3 0h1m0 0h1m0 0h1m4 0h1m1 0h1m1 0h1m0 0h1m9 0h1m1 0h1m5 0h1m-38 1h1m1 0h1m3 0h1m3 0h1m4 0h1m1 0h1m1 0h1m5 0h1m1 0h1m0 0h1m0 0h1m-30 1h1m0 0h1m0 0h1m0 0h1m1 0h1m1 0h1m3 0h1m2 0h1m3 0h1m3 0h1m1 0h1m4 0h1m3 0h1m-34 1h1m0 0h1m4 0h1m0 0h1m8 0h1m0 0h1m2 0h1m0 0h1m10 0h1m-24 1h1m0 0h1m9 0h1m1 0h1m3 0h1m4 0h1m1 0h1m-32 1h1m1 0h1m2 0h1m0 0h1m2 0h1m1 0h1m5 0h1m1 0h1m1 0h1m0 0h1m2 0h1m-24 1h1m11 0h1m13 0h1m-31 1h1m4 0h1m8 0h1m7 0h1m2 0h1m0 0h1m2 0h1m-26 1h1m2 0h1m1 0h1m1 0h1m0 0h1m6 0h1m6 0h1m4 0h1m-32 1h1m0 0h1m2 0h1m3 0h1m0 0h1m1 0h1m1 0h1m3 0h1m1 0h1m0 0h1m1 0h1m1 0h1m0 0h1m-18 1h1m1 0h1m7 0h1m8 0h1m-23 1h1m1 0h1m3 0h1m2 0h1m2 0h1m3 0h1m2 0h1m3 0h1m1 0h1m-27 1h1m0 0h1m3 0h1m1 0h1m1 0h1m6 0h1m0 0h1m1 0h1m2 0h1m0 0h1m1 0h1m-24 1h1m0 0h1m13 0h1m4 0h1m-19 1h1m15 0h1m2 0h1m-22 1h1m4 0h1m10 0h1m0 0h1m0 0h1m1 0h1m-21 1h1m0 0h1m1 0h1m0 0h1m12 0h1m2 0h1m-18 1h1m1 0h1m0 0h1m3 0h1m2 0h1m0 0h1m0 0h1m3 1h1m-19 1h1m3 0h1m0 0h1m0 0h1m2 0h1m3 0h1m1 0h1m3 0h1m-20 1h1m1 0h1m1 0h1m2 0h1m3 0h1m0 0h1m3 0h1m-10 1h1m6 0h1m1 0h1m-14 1h1m2 0h1m7 0h1m1 0h1m0 0h1m0 0h1m-16 1h1m8 0h1m0 0h1m-10 1h1m6 0h1m2 0h1m0 0h1m0 0h1m-11 1h1m3 0h1m0 0h1m1 0h1m0 0h1m-12 1h1m10 0h1m-11 1h1m1 0h1m8 0h1m0 0h1m-3 1h1m1 0h1m-9 1h1m2 0h1m0 0h1m1 0h1m-7 1h1m1 0h1m0 0h1m1 0h1m-6 1h1m1 0h1m0 0h1m-2 1h1m0 0h1" stroke="#6a0000" stroke-width="1" fill="none"/><path d="M129 733h1m0 0h1m-4 1h1m3 0h1m-10 1h1m0 0h1m1 0h1m1 0h1m1 0h1m1 0h1m0 0h1m0 0h1m1 0h1m-9 1h1m2 0h1m0 0h1m0 0h1m0 0h1m-15 1h1m1 0h1m0 0h1m4 0h1m7 0h1m2 0h1m-23 1h1m0 0h1m12 0h1m1 0h1m0 0h1m11 0h1m-27 1h1m0 0h1m2 0h1m0 0h1m1 0h1m6 0h1m7 0h1m1 0h1m-29 1h1m7 0h1m0 0h1m2 0h1m8 0h1m3 0h1m0 0h1m-28 1h1m2 0h1m14 0h1m2 0h1m4 0h1m1 0h1m0 0h1m-31 1h1m1 0h1m8 0h1m2 0h1m0 0h1m1 0h1m1 0h1m5 0h1m-19 1h1m10 0h1m2 0h1m3 0h1m-19 1h1m0 0h1m2 0h1m7 0h1m2 0h1m3 0h1m-20 1h1m4 0h1m3 0h1m2 0h1m0 0h1m0 0h1m5 0h1m1 0h1m-26 1h1m3 0h1m4 0h1m5 0h1m1 0h1m1 0h1m-24 1h1m0 0h1m17 0h1m5 0h1m-20 1h1m10 0h1m8 0h1m0 0h1m0 0h1m7 0h1m-34 1h1m1 0h1m3 0h1m0 0h1m13 0h1m5 0h1m3 0h1m-32 1h1m0 0h1m1 0h1m0 0h1m3 0h1m7 0h1m3 0h1m0 0h1m6 0h1m6 0h1m-38 1h1m2 0h1m2 0h1m5 0h1m7 0h1m0 0h1m1 0h1m-22 1h1m1 0h1m4 0h1m1 0h1m0 0h1m1 0h1m-15 1h1m1 0h1m2 0h1m3 0h1m3 0h1m0 0h1m0 0h1m2 0h1m0 0h1m0 0h1m3 0h1m0 0h1m3 0h1m-24 1h1m0 0h1m0 0h1m1 0h1m2 0h1m0 0h1m2 0h1m0 0h1m0 0h1m13 0h1m-36 1h1m0 0h1m2 0h1m1 0h1m0 0h1m3 0h1m1 0h1m2 0h1m6 0h1m3 0h1m-27 1h1m3 0h1m3 0h1m2 0h1m10 0h1m15 0h1m-40 1h1m4 0h1m6 0h1m8 0h1m1 0h1m0 0h1m1 0h1m4 0h1m-27 1h1m2 0h1m0 0h1m0 0h1m2 0h1m5 0h1m-11 1h1m7 0h1m2 0h1m0 0h1m2 0h1m3 0h1m0 0h1m1 0h1m4 0h1m-34 1h1m10 0h1m5 0h1m4 0h1m1 0h1m-26 1h1m6 0h1m5 0h1m3 0h1m6 0h1m1 0h1m2 0h1m-32 1h1m12 0h1m5 0h1m1 0h1m7 0h1m0 0h1m-23 1h1m1 0h1m5 0h1m1 0h1m2 0h1m2 0h1m0 0h1m0 0h1m-19 1h1m1 0h1m0 0h1m0 0h1m1 0h1m5 0h1m4 0h1m3 0h1m4 0h1m-28 1h1m11 0h1m2 0h1m-20 1h1m2 0h1m1 0h1m2 0h1m18 0h1m-26 1h1m11 0h1m0 0h1m4 0h1m1 0h1m0 0h1m0 0h1m-24 1h1m8 0h1m5 0h1m0 0h1m3 0h1m0 1h1m-17 1h1m1 0h1m6 0h1m4 0h1m0 0h1m3 0h1m0 0h1m-19 1h1m2 0h1m0 0h1m0 0h1m1 0h1m0 0h1m0 0h1m0 0h1m1 0h1m-2 1h1m5 0h1m-11 1h1m2 0h1m0 0h1m-8 1h1m8 0h1m0 0h1m-14 1h1m2 0h1m3 0h1m2 0h1m0 0h1m-6 1h1m1 0h1m-5 1h1m1 0h1m2 0h1m5 0h1m-16 1h1m3 0h1m0 0h1m2 0h1m0 0h1m-9 1h1m1 0h1m0 0h1m0 0h1m0 0h1m2 0h1m1 0h1m-11 1h1m0 0h1m2 0h1m1 0h1m3 0h1m1 0h1m-9 1h1m2 0h1m5 0h1m-14 1h1m1 0h1m0 0h1m0 0h1m-3 1h1m0 0h1m0 0h1m-2 1h1m0 0h1m-5 1h1m0 0h1m5 0h1m-4 2h1" stroke="#a00000" stroke-width="1" fill="none"/><path d="M128 734h1m-1 3h1m0 1h1m-2 1h1m1 0h1m-9 1h1m3 1h1m-1 1h1m-3 1h1m0 0h1m1 0h1m0 0h1m-7 1h1m11 0h1m-4 1h1m-5 1h1m1 0h1m-3 2h1m-2 1h1m4 0h1m-1 1h1m-7 1h1m-6 1h1m8 0h1m5 0h1m-6 1h1m-5 3h1m-1 1h1m1 0h1m5 0h1m-6 1h1m0 3h1m-3 1h1m0 0h1m1 1h1m0 0h1m-5 3h1m2 0h1m-7 1h1m6 0h1m0 1h1m-4 1h1m-2 2h1m-3 2h1m3 3h1m-3 1h1m0 1h1m-1 6h1m-1 2h1m-2 2h1" stroke="#d80000" stroke-width="1" fill="none"/><path d="M123 735h1m-5 3h1m14 6h1m-17 1h1m7 0h1m3 0h1m3 0h1m-8 1h1m-6 1h1m0 0h1m9 0h1m0 0h1m0 0h1m0 0h1m-4 1h1m0 0h1m0 0h1m-8 1h1m7 0h1m-14 1h1m5 0h1m4 0h1m3 0h1m-21 1h1m6 0h1m0 0h1m0 0h1m2 0h1m3 0h1m0 0h1m0 0h1m-14 1h1m2 0h1m8 0h1m-9 1h1m7 0h1m3 0h1m-14 1h1m4 0h1m1 0h1m-12 1h1m3 0h1m4 0h1m0 0h1m1 0h1m-6 1h1m0 0h1m1 0h1m6 0h1m1 0h1m2 0h1m-30 1h1m3 0h1m7 0h1m2 0h1m1 0h1m1 0h1m0 0h1m2 0h1m0 0h1m-21 1h1m1 0h1m0 0h1m4 0h1m0 0h1m0 0h1m1 0h1m2 0h1m2 0h1m3 0h1m-29 1h1m3 0h1m1 0h1m5 0h1m0 0h1m4 0h1m1 0h1m4 0h1m0 0h1m-21 1h1m2 0h1m2 0h1m0 0h1m2 0h1m0 0h1m8 0h1m1 0h1m-22 1h1m0 0h1m1 0h1m3 0h1m5 0h1m0 0h1m1 0h1m-22 1h1m0 0h1m7 0h1m2 0h1m3 0h1m3 0h1m1 0h1m2 0h1m-25 1h1m2 0h1m0 0h1m5 0h1m1 0h1m0 0h1m6 0h1m1 0h1m-19 1h1m4 0h1m1 0h1m2 0h1m0 0h1m3 0h1m-10 1h1m1 0h1m0 0h1m4 0h1m0 0h1m1 0h1m-21 1h1m5 0h1m1 0h1m9 0h1m-19 1h1m1 0h1m3 0h1m4 0h1m0 0h1m3 0h1m4 0h1m-22 1h1m1 0h1m0 0h1m6 0h1m2 0h1m2 0h1m-10 1h1m1 0h1m11 0h1m-20 1h1m0 0h1m1 0h1m3 0h1m2 0h1m2 0h1m0 0h1m1 0h1m0 0h1m-18 1h1m3 0h1m1 0h1m4 0h1m4 0h1m-11 1h1m4 0h1m7 0h1m3 0h1m1 0h1m-23 1h1m1 0h1m0 0h1m9 0h1m1 0h1m-17 1h1m4 0h1m2 0h1m2 0h1m-12 1h1m6 0h1m4 0h1m-10 1h1m0 0h1m0 0h1m3 0h1m4 0h1m-15 1h1m0 0h1m9 0h1m4 0h1m1 0h1m-20 1h1m11 0h1m-13 1h1m2 0h1m1 0h1m4 0h1m0 0h1m0 0h1m4 0h1m-10 1h1m0 0h1m1 0h1m-9 1h1m5 0h1m8 0h1m-11 1h1m1 0h1m4 0h1m-11 1h1m-2 1h1m-3 1h1m8 0h1m2 1h1m-16 1h1m13 5h1" stroke="#a00000" stroke-width="1" fill="none"/><path d="M130 750h1m-1 1h1m-5 1h1m2 0h1m-3 1h1m0 0h1m0 0h1m2 0h1m3 0h1m-7 1h1m-4 1h1m0 0h1m1 0h1m0 0h1m0 0h1m0 0h1m-11 1h1m0 0h1m1 0h1m2 0h1m0 0h1m1 0h1m-6 1h1m0 0h1m1 0h1m0 0h1m1 0h1m1 0h1m-16 1h1m1 0h1m5 0h1m2 0h1m-12 1h1m3 0h1m0 0h1m0 0h1m1 0h1m1 0h1m0 0h1m1 0h1m0 0h1m-13 1h1m2 0h1m2 0h1m2 0h1m0 0h1m1 0h1m1 0h1m-7 1h1m3 0h1m0 0h1m-3 1h1m-13 1h1m6 0h1m1 0h1m3 0h1m2 0h1m-12 1h1m0 0h1m2 0h1m0 0h1m1 0h1m0 0h1m-12 1h1m5 0h1m0 0h1m0 0h1m6 0h1m-11 1h1m0 0h1m3 0h1m-14 1h1m3 0h1m3 0h1m0 0h1m0 0h1m0 0h1m5 0h1m-15 1h1m1 0h1m0 0h1m1 0h1m4 0h1m-11 1h1m2 0h1m0 0h1m1 0h1m4 0h1m-11 1h1m0 0h1m0 0h1m0 0h1m4 0h1m0 0h1m0 0h1m0 0h1m-10 1h1m0 0h1m0 0h1m2 0h1m0 0h1m-8 1h1m0 0h1m2 0h1m-4 1h1m0 0h1m1 0h1m0 0h1m-6 1h1m2 0h1m7 0h1m-9 1h1m-6 1h1m0 1h1m2 0h1m1 0h1" stroke="#d80000" stroke-width="1" fill="none"/><path d="M126 756h1m3 1h1m0 1h1m-8 2h1m3 0h1m0 0h1m0 0h1m-8 2h1m3 0h1m1 0h1m2 0h1m0 1h1m-11 1h1m0 0h1m0 0h1m4 0h1m0 0h1m1 0h1m-10 1h1m0 0h1m1 0h1m3 0h1m1 0h1m-7 1h1m1 0h1m1 0h1m-7 1h1m3 0h1m2 0h1m-9 1h1m1 0h1m0 0h1m0 0h1m0 0h1m0 0h1m-5 1h1m4 0h1m-2 1h1" stroke="#ff1010" stroke-width="1" fill="none"/><path d="M107 686h1m-4 1h1m-23 1h1m11 0h1m1 0h1m1 1h1m-18 1h1m9 0h1m26 0h1m-34 1h1m0 0h1m4 0h1m24 0h1m-43 1h1m12 0h1m2 0h1m22 0h1m7 0h1m-43 1h1m-15 1h1m3 1h1m1 0h1m48 0h1m-62 1h1m3 2h1m8 0h1m-15 2h1m72 1h1m1 0h1m-74 1h1m71 0h1m-73 1h1m-4 1h1m-3 1h1m5 0h1m-10 1h1m81 0h1m1 0h1m-81 1h1m-6 1h1m2 0h1m83 0h1m1 0h1m-1 2h1m0 0h1m-93 1h1m0 1h1m90 0h1m-96 1h1m5 0h1m92 0h1m0 1h1m-97 1h1m97 3h1m-103 1h1m-2 1h1m103 0h1m-106 1h1m-2 1h1m105 0h1m-105 1h1m0 0h1m102 0h1m-106 3h1m-3 1h1m111 0h1m-114 2h1m111 0h1m-110 1h1m106 0h1m-111 2h1m109 0h1m2 0h1m-115 1h1m113 0h1m-119 2h1m117 0h1m3 2h1m-2 1h1m-122 1h1m0 0h1m0 0h1m1 0h1m115 1h1m1 2h1m-125 2h1m4 0h1m116 0h1m-120 2h1m117 0h1m-121 1h1m5 0h1m114 4h1m2 0h1m-3 1h1m-122 1h1m119 0h1m-122 1h1m122 0h1m2 1h1m-128 1h1m3 0h1m118 0h1m-3 4h1m-121 1h1m120 1h1m-1 1h1m0 2h1m-2 2h1m-118 1h1m116 0h1m-119 3h1m114 1h1m-116 1h1m1 1h1m113 1h1m-116 1h1m115 0h1m-116 2h1m113 0h1m-116 1h1m113 1h1m-4 1h1m0 1h1m0 0h1m0 0h1m-2 1h1m0 1h1m-4 1h1m-3 1h1m2 1h1m-106 2h1m0 1h1m96 1h1m-96 1h1m96 0h1m-1 2h1m-6 1h1m1 0h1m-96 1h1m92 1h1m0 0h1m-96 2h1m2 0h1m3 0h1m-4 2h1m2 0h1m86 0h1m-90 1h1m0 1h1m86 0h1m-83 3h1m75 2h1m-76 1h1m1 1h1m4 1h1m1 1h1m-1 1h1m0 0h1m0 0h1m56 0h1m-55 1h1m52 0h1m0 0h1m-57 1h1m6 0h1m42 1h1m-43 1h1m4 0h1m27 0h1m0 0h1m-41 1h1m3 0h1m40 0h1m-40 1h1m23 0h1m12 0h1m-35 1h1m5 0h1m16 0h1m-23 1h1m29 0h1m-23 1h1m0 0h1m5 0h1m0 0h1m1 0h1m-7 1h1m0 0h1m1 0h1m-10 1h1m12 0h1" stroke="#140000" stroke-width="1" fill="none"/><path d="M89 688h1m1 0h1m16 0h1m1 0h1m-35 1h1m8 0h1m1 0h1m11 0h1m0 0h1m4 0h1m-29 1h1m0 0h1m13 0h1m12 0h1m5 0h1m-31 1h1m27 0h1m1 0h1m2 0h1m2 0h1m1 0h1m-44 1h1m39 0h1m-17 1h1m12 0h1m1 0h1m1 0h1m-51 1h1m4 0h1m3 0h1m-11 1h1m55 0h1m-56 1h1m4 0h1m49 0h1m0 0h1m-50 1h1m-11 1h1m61 0h1m-62 1h1m-4 1h1m2 0h1m65 0h1m-67 1h1m61 0h1m2 0h1m-73 1h1m72 0h1m6 0h1m-3 2h1m-83 5h1m0 0h1m-6 1h1m0 0h1m84 1h1m-87 1h1m1 0h1m-6 2h1m95 2h1m1 1h1m1 0h1m-2 3h1m3 0h1m-107 1h1m102 2h1m0 2h1m2 1h1m-2 2h1m0 0h1m1 0h1m-3 2h1m2 0h1m-117 2h1m113 1h1m0 3h1m0 1h1m1 1h1m-121 1h1m2 0h1m116 1h1m0 2h1m-6 3h1m2 0h1m-1 1h1m-118 1h1m118 0h1m-2 1h1m0 2h1m-3 1h1m-120 1h1m1 0h1m-3 2h1m119 2h1m-121 1h1m-2 1h1m1 0h1m0 0h1m118 0h1m-123 3h1m122 0h1m-124 1h1m0 1h1m2 0h1m-4 2h1m1 6h1m117 0h1m-1 1h1m-117 3h1m-4 1h1m114 0h1m0 1h1m-114 1h1m112 0h1m-2 1h1m1 0h1m-3 2h1m0 0h1m-4 1h1m1 0h1m-113 1h1m1 0h1m108 0h1m-112 1h1m4 0h1m-3 1h1m106 0h1m-108 1h1m-4 1h1m6 0h1m100 0h1m-106 1h1m105 0h1m1 0h1m-3 1h1m-105 1h1m2 5h1m95 0h1m-101 1h1m3 0h1m0 0h1m0 1h1m-2 2h1m1 0h1m89 0h1m-89 2h1m-3 2h1m2 0h1m5 0h1m74 0h1m-79 1h1m76 0h1m-80 1h1m76 0h1m1 0h1m-80 1h1m79 1h1m-78 1h1m1 0h1m-5 1h1m77 0h1m-72 1h1m-3 1h1m68 0h1m2 0h1m-73 1h1m5 0h1m59 0h1m0 1h1m-61 1h1m1 0h1m0 0h1m53 0h1m1 0h1m-56 1h1m-5 1h1m3 0h1m3 0h1m42 0h1m5 0h1m-50 1h1m3 0h1m31 0h1m7 0h1m-37 1h1m26 0h1m-27 1h1m21 0h1m4 0h1m3 0h1m-36 1h1m4 0h1m2 0h1m6 0h1m19 0h1m1 0h1m-31 1h1m14 0h1m3 0h1m0 0h1m-20 1h1m2 0h1m1 0h1m2 0h1m6 0h1m-22 1h1m19 0h1m-5 1h1m-9 1h1" stroke="#1e0000" stroke-width="1" fill="none"/><path d="M93 680h1m-4 1h1m0 0h1m-2 1h1m0 0h1m-2 1h1m0 0h1m0 0h1m-44 27h1m0 0h1m-2 1h1m0 0h1" stroke="#2c0000" stroke-width="1" fill="none"/></g>
<g id="r1b" transform="translate(0 0.5)" filter="url(#bl1)" fill="#ff1414"><circle cx="119.9" cy="747.4" r="1.5"/><circle cx="125.9" cy="757.5" r="1.7"/><circle cx="119.2" cy="765.2" r="2.6"/><circle cx="129.3" cy="760.8" r="2.2"/><circle cx="134.3" cy="765.8" r="2.3"/><circle cx="129.3" cy="769.2" r="2"/><circle cx="136" cy="772.6" r="2"/><circle cx="129.3" cy="775.9" r="2"/><circle cx="134.3" cy="779.3" r="1.8"/><circle cx="124.5" cy="762" r="1.5"/><circle cx="131.5" cy="755" r="1.4"/><circle cx="110.9" cy="778.8" r="1.15"/></g>
<g id="g1" transform="translate(0 0.5)"><ellipse cx="266" cy="757" rx="13" ry="24" fill="#050" opacity="0.5" filter="url(#bl3)"/><path d="M226 683h1m14 4h1m9 2h1m-24 1h1m17 0h1m3 0h1m-19 1h1m1 0h1m7 0h1m2 0h1m-26 1h1m21 0h1m8 0h1m-25 1h1m3 0h1m13 0h1m10 0h1m2 0h1m-49 1h1m0 0h1m15 0h1m4 0h1m15 0h1m1 0h1m-37 1h1m14 0h1m4 0h1m-22 1h1m10 0h1m18 0h1m0 0h1m-25 1h1m20 0h1m6 0h1m22 0h1m-55 1h1m25 0h1m6 0h1m5 0h1m2 0h1m-50 1h1m1 0h1m0 0h1m7 0h1m40 0h1m4 0h1m-18 1h1m-47 1h1m0 1h1m2 0h1m51 0h1m-61 1h1m7 0h1m1 0h1m-7 1h1m-13 1h1m3 0h1m11 0h1m58 0h1m-75 1h1m3 0h1m2 0h1m2 0h1m-5 2h1m69 1h1m-71 1h1m-4 1h1m78 0h1m-92 1h1m87 0h1m-88 1h1m12 1h1m-12 3h1m2 0h1m87 0h1m-94 2h1m3 0h1m0 0h1m2 0h1m-11 1h1m11 0h1m-13 2h1m-2 1h1m5 0h1m-4 2h1m1 0h1m95 0h1m-93 1h1m97 0h1m-106 1h1m3 0h1m-6 1h1m95 0h1m-103 1h1m3 0h1m0 0h1m5 0h1m96 0h1m2 0h1m-106 1h1m101 0h1m4 0h1m-112 1h1m8 0h1m-14 2h1m114 0h1m-7 1h1m-104 1h1m104 1h1m-110 1h1m0 0h1m9 0h1m-7 2h1m-7 1h1m116 0h1m-113 1h1m102 0h1m5 0h1m-110 1h1m112 0h1m1 0h1m-118 1h1m-5 1h1m0 1h1m1 0h1m109 0h1m0 0h1m1 0h1m3 1h1m-120 2h1m-8 1h1m3 0h1m115 0h1m4 0h1m-117 1h1m111 0h1m-117 1h1m2 0h1m2 0h1m-4 2h1m114 0h1m-2 1h1m-117 1h1m5 0h1m-4 1h1m-3 1h1m110 0h1m0 0h1m-117 1h1m12 0h1m109 0h1m-121 1h1m4 0h1m108 0h1m3 0h1m-121 1h1m117 1h1m-117 1h1m115 0h1m-110 1h1m108 0h1m-113 1h1m1 1h1m-5 1h1m0 1h1m0 0h1m4 1h1m104 0h1m-110 1h1m-12 1h1m9 0h1m0 0h1m0 0h1m-7 1h1m3 0h1m3 0h1m0 0h1m99 0h1m4 0h1m-2 2h1m-107 1h1m-6 3h1m8 1h1m1 0h1m95 0h1m-101 2h1m2 0h1m97 0h1m-100 1h1m97 0h1m-106 1h1m108 0h1m-102 1h1m99 0h1m-93 1h1m84 0h1m1 0h1m0 0h1m0 0h1m-101 1h1m4 0h1m-1 1h1m-6 1h1m6 1h1m-10 1h1m92 0h1m1 0h1m1 0h1m5 0h1m-97 1h1m1 0h1m92 0h1m-96 1h1m1 0h1m87 0h1m-90 1h1m1 0h1m2 0h1m78 0h1m3 0h1m4 0h1m-95 1h1m8 0h1m76 0h1m-76 1h1m77 0h1m6 0h1m-96 1h1m5 0h1m-7 1h1m0 0h1m1 0h1m0 1h1m0 0h1m66 0h1m6 0h1m7 0h1m-79 1h1m-8 1h1m75 0h1m0 0h1m3 0h1m-77 1h1m2 1h1m65 0h1m2 0h1m5 0h1m-79 1h1m3 0h1m7 0h1m0 0h1m6 0h1m50 0h1m7 0h1m-76 1h1m57 0h1m-59 1h1m73 0h1m-78 1h1m0 0h1m77 0h1m-79 1h1m49 0h1m21 0h1m-73 1h1m2 0h1m9 0h1m48 0h1m0 0h1m2 0h1m3 0h1m-61 1h1m59 0h1m-61 1h1m15 0h1m36 0h1m5 0h1m-63 1h1m9 0h1m1 0h1m30 0h1m11 0h1m-53 1h1m6 0h1m6 0h1m27 0h1m1 0h1m-38 1h1m8 0h1m9 0h1m19 0h1m6 0h1m-52 1h1m3 0h1m6 0h1m16 0h1m11 0h1m3 0h1m4 0h1m-47 1h1m6 0h1m2 0h1m1 0h1m9 0h1m4 0h1m11 0h1m-35 1h1m5 0h1m3 0h1m2 0h1m0 0h1m4 0h1m-18 1h1m0 0h1m7 0h1m7 0h1m6 0h1m2 0h1m2 0h1m-16 1h1m4 0h1m0 0h1m4 0h1m-21 1h1m0 1h1m18 1h1m-10 1h1" stroke="#001c00" stroke-width="1" fill="none"/><path d="M228 689h1m12 0h1m-17 1h1m4 0h1m19 0h1m-23 1h1m0 0h1m8 0h1m-31 1h1m17 0h1m-5 1h1m8 0h1m2 0h1m1 0h1m6 0h1m0 0h1m12 0h1m-45 1h1m4 0h1m22 0h1m9 0h1m0 0h1m-53 1h1m38 1h1m-22 1h1m0 0h1m19 0h1m25 0h1m-54 1h1m0 1h1m2 0h1m37 0h1m4 0h1m3 0h1m-66 1h1m3 1h1m12 0h1m36 0h1m10 0h1m-55 1h1m17 0h1m47 0h1m-17 1h1m-57 1h1m2 0h1m61 0h1m-66 1h1m-5 1h1m0 0h1m4 0h1m63 0h1m-75 1h1m3 1h1m1 0h1m69 0h1m-77 1h1m-3 1h1m2 0h1m2 0h1m-1 1h1m1 0h1m-6 1h1m74 0h1m-85 1h1m1 0h1m2 0h1m2 0h1m0 1h1m84 0h1m-4 1h1m-88 2h1m-8 1h1m99 0h1m-100 1h1m7 0h1m1 0h1m-9 1h1m0 1h1m99 0h1m-100 1h1m93 1h1m-102 1h1m2 1h1m0 0h1m2 0h1m-5 1h1m2 1h1m1 0h1m95 0h1m3 0h1m-111 1h1m0 0h1m2 1h1m-6 2h1m106 0h1m3 1h1m-3 3h1m-105 1h1m-5 1h1m-4 1h1m7 0h1m-6 1h1m110 0h1m-113 1h1m108 0h1m9 0h1m-118 1h1m-5 3h1m7 0h1m105 1h1m0 0h1m-117 3h1m1 2h1m1 0h1m-2 2h1m-5 1h1m5 0h1m0 0h1m106 0h1m-109 1h1m108 0h1m5 0h1m-120 1h1m3 0h1m101 0h1m-101 1h1m-12 2h1m10 0h1m-5 2h1m0 0h1m3 0h1m-9 3h1m112 0h1m0 0h1m-117 1h1m5 1h1m104 0h1m1 0h1m-108 1h1m4 0h1m-7 1h1m-2 2h1m1 0h1m8 1h1m100 0h1m-110 1h1m1 0h1m5 0h1m-10 1h1m2 0h1m105 1h1m-103 1h1m-4 1h1m-6 1h1m3 0h1m7 0h1m93 0h1m4 0h1m-101 1h1m96 0h1m4 0h1m-111 1h1m0 1h1m5 0h1m98 0h1m-106 1h1m97 0h1m-99 1h1m102 1h1m-104 1h1m1 0h1m-4 2h1m1 0h1m2 0h1m94 0h1m1 0h1m-93 1h1m81 1h1m12 0h1m-95 1h1m4 0h1m88 0h1m-8 2h1m-91 1h1m0 0h1m0 0h1m0 0h1m1 0h1m81 0h1m-90 1h1m96 0h1m-93 2h1m82 0h1m-83 1h1m-2 1h1m-1 1h1m9 0h1m71 0h1m-83 1h1m1 0h1m4 0h1m80 0h1m-85 1h1m3 0h1m59 0h1m20 0h1m-78 1h1m64 0h1m3 0h1m-72 1h1m4 0h1m61 0h1m3 0h1m-71 1h1m64 0h1m11 0h1m-79 1h1m60 0h1m8 0h1m1 0h1m-75 1h1m0 0h1m0 0h1m0 0h1m0 0h1m52 0h1m4 0h1m3 0h1m-66 1h1m1 0h1m1 0h1m61 0h1m0 0h1m-69 1h1m5 0h1m52 0h1m-60 2h1m11 0h1m1 0h1m0 0h1m10 0h1m19 0h1m19 0h1m-56 1h1m24 0h1m6 0h1m3 0h1m5 0h1m17 0h1m-70 1h1m11 0h1m2 0h1m22 0h1m2 0h1m5 0h1m2 0h1m0 0h1m1 0h1m7 0h1m-57 1h1m4 0h1m0 0h1m1 0h1m-9 1h1m8 0h1m3 0h1m0 0h1m2 0h1m5 0h1m8 0h1m5 0h1m-18 1h1m2 0h1m15 0h1m1 0h1m-32 1h1m2 0h1m36 0h1m-43 1h1m1 0h1m10 0h1m13 0h1m-9 1h1m2 0h1m7 0h1m-20 1h1m5 0h1m4 0h1m1 0h1m3 0h1m-18 1h1m1 0h1m2 0h1m1 0h1m10 0h1m-14 1h1m7 0h1m-15 1h1" stroke="#003000" stroke-width="1" fill="none"/><path d="M240 684h1m6 7h1m-4 1h1m-29 1h1m40 0h1m-34 1h1m16 1h1m12 0h1m6 0h1m-22 1h1m16 0h1m-42 1h1m2 0h1m4 0h1m27 0h1m-3 1h1m8 0h1m-53 1h1m57 2h1m4 0h1m-73 1h1m71 1h1m-60 1h1m60 0h1m-70 1h1m2 0h1m54 0h1m11 0h1m-75 1h1m-5 1h1m2 0h1m3 0h1m70 0h1m-70 1h1m61 0h1m-76 1h1m81 0h1m-75 2h1m70 0h1m5 0h1m-82 1h1m-7 1h1m1 1h1m1 0h1m81 0h1m-82 1h1m2 0h1m-10 1h1m3 0h1m1 0h1m85 0h1m-86 1h1m84 1h1m0 1h1m-87 1h1m-8 1h1m88 0h1m-91 2h1m3 0h1m92 0h1m-108 1h1m108 0h1m2 1h1m-100 1h1m-7 1h1m-4 1h1m98 0h1m6 1h1m-107 2h1m108 0h1m-113 1h1m0 0h1m2 0h1m6 0h1m101 0h1m-100 2h1m-7 1h1m-9 2h1m106 0h1m4 3h1m3 0h1m-114 3h1m-11 3h1m7 1h1m112 1h1m-5 2h1m3 0h1m0 0h1m-110 1h1m-8 2h1m0 0h1m-6 4h1m5 1h1m0 0h1m1 0h1m-1 3h1m-5 1h1m1 0h1m-3 1h1m2 3h1m2 0h1m108 0h1m-113 1h1m-1 2h1m107 2h1m-110 1h1m112 0h1m-114 1h1m4 0h1m-1 1h1m101 0h1m-5 1h1m8 1h1m-110 1h1m105 0h1m-104 1h1m97 0h1m-103 1h1m2 0h1m-1 1h1m100 0h1m0 1h1m-5 1h1m2 0h1m-93 1h1m-7 1h1m95 0h1m-100 1h1m2 0h1m95 0h1m-3 1h1m-95 1h1m2 0h1m-5 1h1m95 0h1m-2 1h1m-98 1h1m103 0h1m-101 1h1m-3 1h1m96 0h1m-94 1h1m5 0h1m78 1h1m7 0h1m-86 2h1m65 1h1m12 0h1m-77 1h1m4 0h1m-13 1h1m0 0h1m14 0h1m-18 2h1m20 0h1m-14 1h1m71 0h1m-68 1h1m57 0h1m-67 1h1m2 0h1m65 0h1m-63 1h1m12 0h1m-6 1h1m49 0h1m-64 1h1m3 0h1m52 0h1m3 0h1m5 0h1m-60 1h1m4 0h1m44 0h1m-36 1h1m-20 1h1m9 0h1m27 0h1m5 0h1m2 0h1m6 0h1m-53 1h1m23 0h1m2 0h1m2 0h1m4 0h1m3 0h1m-35 1h1m8 0h1m23 0h1m4 0h1m-32 1h1m38 0h1m-48 1h1m10 1h1m34 0h1m-46 1h1m29 0h1m-11 2h1m-8 1h1m14 0h1m-2 1h1" stroke="#004c00" stroke-width="1" fill="none"/><path d="M268 691h1m-6 4h1m9 0h1m5 1h1m-17 2h1m5 0h1m-26 1h1m15 0h1m6 1h1m-28 1h1m12 1h1m0 0h1m5 0h1m6 0h1m-8 1h1m19 0h1m-17 1h1m-11 1h1m0 0h1m0 0h1m11 0h1m0 0h1m2 0h1m2 1h1m11 0h1m-21 1h1m0 0h1m3 1h1m-18 1h1m4 0h1m4 0h1m-19 1h1m9 0h1m25 0h1m-20 1h1m1 0h1m17 0h1m-34 1h1m7 0h1m3 0h1m2 0h1m8 0h1m0 0h1m1 0h1m-23 1h1m6 1h1m1 0h1m1 0h1m5 0h1m-29 1h1m16 0h1m3 0h1m3 0h1m5 0h1m0 0h1m-19 1h1m1 0h1m0 0h1m2 0h1m4 0h1m5 0h1m-22 1h1m11 0h1m-11 1h1m16 0h1m-31 1h1m26 0h1m13 0h1m-32 1h1m1 0h1m2 0h1m20 0h1m-22 1h1m6 0h1m16 0h1m-23 1h1m0 0h1m17 0h1m1 0h1m7 0h1m-41 1h1m6 0h1m-16 1h1m11 0h1m20 0h1m-29 1h1m10 0h1m3 0h1m17 0h1m0 0h1m-40 1h1m9 0h1m8 0h1m6 0h1m10 0h1m9 0h1m-40 1h1m1 0h1m16 0h1m0 0h1m10 0h1m-29 1h1m2 0h1m15 0h1m-27 1h1m2 0h1m5 0h1m10 0h1m0 0h1m1 0h1m7 0h1m4 0h1m0 0h1m-28 1h1m5 0h1m2 0h1m-10 1h1m6 0h1m11 0h1m0 0h1m0 0h1m0 0h1m-34 1h1m17 0h1m1 0h1m13 0h1m-33 1h1m0 0h1m4 0h1m15 0h1m7 0h1m6 0h1m-38 1h1m4 0h1m12 0h1m0 0h1m5 0h1m0 0h1m5 0h1m7 0h1m6 0h1m-49 1h1m15 0h1m3 0h1m1 0h1m30 0h1m-51 1h1m15 0h1m11 0h1m0 0h1m-29 1h1m6 0h1m4 0h1m7 0h1m1 0h1m11 0h1m4 0h1m-40 1h1m5 0h1m4 0h1m6 0h1m0 0h1m4 0h1m8 0h1m-24 1h1m4 0h1m1 0h1m8 0h1m6 0h1m0 0h1m-41 1h1m2 0h1m16 0h1m1 0h1m1 0h1m2 0h1m2 0h1m3 0h1m-34 1h1m0 0h1m6 0h1m0 0h1m1 0h1m1 0h1m1 0h1m1 0h1m0 0h1m2 0h1m2 0h1m2 0h1m8 0h1m-32 1h1m5 0h1m0 0h1m0 0h1m0 0h1m6 0h1m1 0h1m0 0h1m10 0h1m7 0h1m-43 1h1m3 0h1m7 0h1m1 0h1m7 0h1m4 0h1m3 0h1m-35 1h1m4 0h1m8 0h1m8 0h1m0 0h1m4 0h1m0 0h1m4 0h1m1 0h1m7 0h1m-36 1h1m1 0h1m0 0h1m4 0h1m0 0h1m1 0h1m1 0h1m0 0h1m2 0h1m1 0h1m1 0h1m0 0h1m1 0h1m2 0h1m13 0h1m-56 1h1m12 0h1m1 0h1m1 0h1m5 0h1m1 0h1m0 0h1m0 0h1m2 0h1m1 0h1m3 0h1m0 0h1m0 0h1m0 0h1m2 0h1m3 0h1m-34 1h1m1 0h1m3 0h1m4 0h1m0 0h1m3 0h1m0 0h1m4 0h1m2 0h1m5 0h1m5 0h1m-49 1h1m7 0h1m3 0h1m1 0h1m3 0h1m0 0h1m3 0h1m0 0h1m5 0h1m1 0h1m8 0h1m-33 1h1m4 0h1m6 0h1m1 0h1m0 0h1m0 0h1m0 0h1m0 0h1m19 0h1m-42 1h1m5 0h1m1 0h1m6 0h1m3 0h1m0 0h1m6 0h1m8 0h1m6 0h1m-49 1h1m7 0h1m4 0h1m2 0h1m3 0h1m2 0h1m1 0h1m2 0h1m0 0h1m5 0h1m3 0h1m0 0h1m3 0h1m-40 1h1m7 0h1m0 0h1m0 0h1m0 0h1m0 0h1m1 0h1m2 0h1m1 0h1m0 0h1m0 0h1m1 0h1m6 0h1m0 0h1m6 0h1m3 0h1m0 0h1m-40 1h1m2 0h1m2 0h1m2 0h1m1 0h1m0 0h1m0 0h1m0 0h1m1 0h1m10 0h1m9 0h1m-41 1h1m0 0h1m5 0h1m2 0h1m4 0h1m0 0h1m4 0h1m1 0h1m3 0h1m0 0h1m3 0h1m0 0h1m-35 1h1m1 0h1m1 0h1m0 0h1m2 0h1m0 0h1m2 0h1m2 0h1m3 0h1m3 0h1m0 0h1m0 0h1m4 0h1m2 0h1m3 0h1m11 0h1m-57 1h1m9 0h1m2 0h1m0 0h1m2 0h1m0 0h1m0 0h1m0 0h1m1 0h1m8 0h1m0 0h1m1 0h1m0 0h1m0 0h1m0 0h1m3 0h1m8 0h1m-56 1h1m13 0h1m1 0h1m0 0h1m3 0h1m1 0h1m0 0h1m3 0h1m6 0h1m1 0h1m0 0h1m1 0h1m0 0h1m1 0h1m1 0h1m11 0h1m-47 1h1m4 0h1m1 0h1m0 0h1m0 0h1m0 0h1m0 0h1m1 0h1m4 0h1m0 0h1m1 0h1m0 0h1m1 0h1m1 0h1m0 0h1m7 0h1m5 0h1m4 0h1m1 0h1m-46 1h1m2 0h1m0 0h1m0 0h1m3 0h1m0 0h1m0 0h1m2 0h1m1 0h1m1 0h1m2 0h1m5 0h1m0 0h1m5 0h1m0 0h1m-33 1h1m0 0h1m0 0h1m4 0h1m0 0h1m0 0h1m4 0h1m2 0h1m4 0h1m0 0h1m9 0h1m-41 1h1m4 0h1m2 0h1m0 0h1m1 0h1m0 0h1m3 0h1m1 0h1m0 0h1m2 0h1m0 0h1m0 0h1m1 0h1m2 0h1m0 0h1m2 0h1m0 0h1m0 0h1m0 0h1m3 0h1m2 0h1m0 0h1m4 0h1m-51 1h1m0 0h1m1 0h1m2 0h1m3 0h1m11 0h1m5 0h1m4 0h1m0 0h1m-38 1h1m10 0h1m0 0h1m2 0h1m5 0h1m0 0h1m3 0h1m1 0h1m1 0h1m0 0h1m0 0h1m1 0h1m7 0h1m-38 1h1m3 0h1m3 0h1m1 0h1m3 0h1m1 0h1m1 0h1m2 0h1m2 0h1m1 0h1m0 0h1m0 0h1m0 0h1m4 0h1m10 0h1m-44 1h1m6 0h1m1 0h1m3 0h1m0 0h1m1 0h1m0 0h1m0 0h1m0 0h1m0 0h1m1 0h1m0 0h1m0 0h1m0 0h1m2 0h1m0 0h1m2 0h1m4 0h1m-26 1h1m3 0h1m0 0h1m0 0h1m0 0h1m4 0h1m1 0h1m2 0h1m0 0h1m0 0h1m-42 1h1m7 0h1m4 0h1m3 0h1m2 0h1m0 0h1m0 0h1m12 0h1m3 0h1m0 0h1m-31 1h1m1 0h1m1 0h1m2 0h1m4 0h1m5 0h1m1 0h1m1 0h1m0 0h1m0 0h1m5 0h1m1 0h1m-28 1h1m7 0h1m3 0h1m2 0h1m7 0h1m8 0h1m3 0h1m-45 1h1m4 0h1m5 0h1m0 0h1m1 0h1m0 0h1m1 0h1m2 0h1m2 0h1m8 0h1m1 0h1m-31 1h1m2 0h1m0 0h1m2 0h1m3 0h1m3 0h1m1 0h1m0 0h1m1 0h1m2 0h1m2 0h1m1 0h1m0 0h1m-33 1h1m3 0h1m1 0h1m1 0h1m4 0h1m2 0h1m0 0h1m5 0h1m4 0h1m2 0h1m-23 1h1m1 0h1m1 0h1m3 0h1m3 0h1m2 0h1m3 0h1m3 0h1m7 0h1m3 0h1m8 0h1m-41 1h1m2 0h1m2 0h1m4 0h1m-11 1h1m1 0h1m1 0h1m0 0h1m3 0h1m3 0h1m6 0h1m5 0h1m-37 1h1m5 0h1m2 0h1m6 0h1m1 0h1m0 0h1m2 0h1m5 0h1m0 0h1m-34 1h1m7 0h1m0 0h1m12 0h1m9 0h1m6 0h1m2 0h1m5 0h1m-43 1h1m1 0h1m1 0h1m4 0h1m2 0h1m14 0h1m0 0h1m-38 1h1m8 0h1m5 0h1m8 0h1m1 0h1m27 0h1m-51 1h1m7 0h1m5 0h1m1 0h1m0 0h1m4 0h1m9 0h1m1 0h1m0 0h1m-37 1h1m13 0h1m1 0h1m3 0h1m0 0h1m3 0h1m3 0h1m-24 1h1m0 0h1m5 0h1m4 0h1m1 0h1m4 0h1m0 0h1m5 0h1m-32 1h1m5 0h1m3 0h1m7 0h1m-17 1h1m10 0h1m2 0h1m1 0h1m3 0h1m4 0h1m1 0h1m2 0h1m-32 1h1m5 0h1m4 0h1m6 0h1m5 0h1m4 0h1m-27 1h1m13 0h1m15 0h1m0 0h1m1 0h1m-52 1h1m15 0h1m7 0h1m3 0h1m6 0h1m1 0h1m3 0h1m1 0h1m0 0h1m-28 1h1m2 0h1m14 0h1m-15 1h1m3 0h1m4 0h1m7 0h1m0 0h1m2 0h1m-23 1h1m12 0h1m1 0h1m6 0h1m5 0h1m-36 1h1m28 0h1m2 0h1m13 0h1m-33 1h1m2 0h1m-24 1h1m8 0h1m8 0h1m3 0h1m0 0h1m1 0h1m-17 1h1m2 0h1m13 0h1m8 0h1m0 0h1m-10 1h1m-3 1h1m2 0h1m11 1h1m-15 2h1m-10 2h1m2 0h1m4 0h1m5 0h1m0 0h1m6 0h1m-20 1h1m7 0h1m14 0h1m-23 1h1m-3 1h1m4 0h1m2 0h1m12 0h1m-20 1h1m21 0h1m-25 1h1m9 0h1m-11 1h1m4 0h1m-16 1h1m8 2h1m0 0h1m-2 1h1m11 0h1m-10 1h1m18 1h1m-25 3h1m11 1h1m10 4h1m-28 12h1m-7 2h1" stroke="#001c00" stroke-width="1" fill="none"/><path d="M270 714h1m-11 1h1m6 0h1m2 3h1m-7 1h1m4 0h1m2 0h1m1 0h1m0 0h1m0 0h1m-20 1h1m17 0h1m-22 1h1m3 0h1m7 0h1m0 0h1m8 0h1m-23 1h1m3 0h1m5 0h1m4 0h1m2 0h1m-20 1h1m9 0h1m1 0h1m0 0h1m1 0h1m0 0h1m10 0h1m-25 1h1m5 0h1m2 0h1m0 0h1m1 0h1m1 0h1m0 0h1m1 0h1m0 0h1m-24 1h1m6 0h1m5 0h1m4 0h1m1 1h1m5 0h1m1 0h1m-17 1h1m3 0h1m-9 1h1m1 0h1m2 0h1m3 0h1m8 0h1m-24 1h1m0 0h1m7 0h1m0 0h1m5 0h1m5 0h1m-18 1h1m0 0h1m1 0h1m14 0h1m-12 1h1m0 0h1m0 0h1m2 0h1m0 0h1m4 0h1m-26 1h1m8 1h1m7 0h1m3 0h1m0 0h1m2 0h1m3 0h1m-25 1h1m6 0h1m1 0h1m-16 1h1m8 0h1m4 0h1m6 0h1m5 0h1m-24 1h1m-2 1h1m12 0h1m2 0h1m6 0h1m6 0h1m-36 1h1m0 0h1m0 0h1m12 0h1m4 0h1m1 0h1m0 0h1m2 0h1m0 0h1m-24 1h1m0 0h1m14 0h1m7 0h1m1 0h1m1 0h1m-28 1h1m0 0h1m8 0h1m0 0h1m0 0h1m0 0h1m2 0h1m2 0h1m1 0h1m0 0h1m2 0h1m-30 1h1m6 0h1m3 0h1m0 0h1m13 0h1m4 0h1m-25 1h1m5 0h1m9 0h1m1 0h1m0 0h1m5 0h1m-30 1h1m0 0h1m6 0h1m2 0h1m1 0h1m0 0h1m3 0h1m3 0h1m-23 1h1m0 0h1m6 0h1m1 0h1m5 0h1m1 0h1m0 0h1m-19 1h1m2 0h1m4 0h1m0 0h1m1 0h1m3 0h1m0 0h1m0 0h1m0 0h1m0 0h1m3 0h1m0 0h1m2 0h1m0 0h1m-33 1h1m0 0h1m0 0h1m5 0h1m0 0h1m0 0h1m1 0h1m1 0h1m0 0h1m3 0h1m1 0h1m1 0h1m0 0h1m0 0h1m6 0h1m-36 1h1m0 0h1m2 0h1m10 0h1m2 0h1m1 0h1m2 0h1m4 0h1m2 0h1m1 0h1m3 0h1m-37 1h1m2 0h1m3 0h1m0 0h1m0 0h1m1 0h1m0 0h1m0 0h1m1 0h1m0 0h1m0 0h1m1 0h1m1 0h1m0 0h1m0 0h1m11 0h1m-35 1h1m9 0h1m2 0h1m2 0h1m2 0h1m3 0h1m0 0h1m-25 1h1m9 0h1m0 0h1m1 0h1m1 0h1m1 0h1m1 0h1m0 0h1m2 0h1m2 0h1m1 0h1m-22 1h1m1 0h1m3 0h1m0 0h1m3 0h1m1 0h1m0 0h1m0 0h1m0 0h1m1 0h1m10 0h1m-32 1h1m1 0h1m1 0h1m0 0h1m1 0h1m2 0h1m5 0h1m0 0h1m0 0h1m2 0h1m1 0h1m0 0h1m0 0h1m-29 1h1m12 0h1m1 0h1m4 0h1m13 0h1m-38 1h1m5 0h1m2 0h1m0 0h1m2 0h1m1 0h1m0 0h1m1 0h1m0 0h1m1 0h1m0 0h1m1 0h1m0 0h1m1 0h1m1 0h1m0 0h1m2 0h1m2 0h1m-35 1h1m4 0h1m0 0h1m3 0h1m0 0h1m2 0h1m4 0h1m3 0h1m0 0h1m0 0h1m-23 1h1m1 0h1m1 0h1m0 0h1m0 0h1m0 0h1m2 0h1m1 0h1m0 0h1m0 0h1m0 0h1m1 0h1m0 0h1m0 0h1m0 0h1m2 0h1m1 0h1m0 0h1m2 0h1m-30 1h1m0 0h1m0 0h1m4 0h1m0 0h1m2 0h1m1 0h1m0 0h1m1 0h1m0 0h1m0 0h1m1 0h1m2 0h1m1 0h1m3 0h1m3 0h1m-37 1h1m2 0h1m0 0h1m3 0h1m1 0h1m2 0h1m0 0h1m0 0h1m1 0h1m0 0h1m0 0h1m1 0h1m2 0h1m0 0h1m1 0h1m2 0h1m-24 1h1m0 0h1m1 0h1m1 0h1m0 0h1m0 0h1m3 0h1m0 0h1m0 0h1m0 0h1m0 0h1m2 0h1m0 0h1m1 0h1m0 0h1m-30 1h1m4 0h1m1 0h1m3 0h1m1 0h1m0 0h1m2 0h1m0 0h1m2 0h1m1 0h1m0 0h1m0 0h1m0 0h1m0 0h1m0 0h1m-30 1h1m8 0h1m0 0h1m0 0h1m0 0h1m0 0h1m0 0h1m4 0h1m0 0h1m0 0h1m1 0h1m1 0h1m0 0h1m0 0h1m1 0h1m4 0h1m2 0h1m-38 1h1m0 0h1m0 0h1m0 0h1m3 0h1m3 0h1m0 0h1m0 0h1m1 0h1m0 0h1m0 0h1m1 0h1m0 0h1m0 0h1m0 0h1m0 0h1m4 0h1m0 0h1m7 0h1m-36 1h1m0 0h1m0 0h1m9 0h1m0 0h1m1 0h1m0 0h1m0 0h1m2 0h1m0 0h1m0 0h1m1 0h1m2 0h1m0 0h1m5 0h1m-32 1h1m2 0h1m0 0h1m1 0h1m0 0h1m0 0h1m0 0h1m2 0h1m0 0h1m0 0h1m0 0h1m0 0h1m0 0h1m2 0h1m5 0h1m-29 1h1m5 0h1m2 0h1m0 0h1m1 0h1m2 0h1m2 0h1m4 0h1m1 0h1m3 0h1m-33 1h1m10 0h1m1 0h1m1 0h1m0 0h1m0 0h1m1 0h1m1 0h1m3 0h1m0 0h1m0 0h1m6 0h1m-36 1h1m2 0h1m2 0h1m0 0h1m0 0h1m0 0h1m0 0h1m2 0h1m0 0h1m0 0h1m0 0h1m2 0h1m1 0h1m0 0h1m0 0h1m0 0h1m0 0h1m5 0h1m-32 1h1m11 0h1m1 0h1m6 0h1m2 0h1m0 0h1m-23 1h1m3 0h1m2 0h1m2 0h1m2 0h1m0 0h1m3 0h1m0 0h1m2 0h1m0 0h1m2 0h1m5 0h1m-35 1h1m4 0h1m0 0h1m1 0h1m5 0h1m0 0h1m0 0h1m1 0h1m2 0h1m1 0h1m-25 1h1m9 0h1m0 0h1m1 0h1m5 0h1m7 0h1m3 0h1m-28 1h1m4 0h1m3 0h1m1 0h1m1 0h1m1 0h1m0 0h1m0 0h1m2 0h1m0 0h1m5 0h1m6 0h1m-26 1h1m0 0h1m0 0h1m2 0h1m1 0h1m1 0h1m0 0h1m6 0h1m0 0h1m-26 1h1m0 0h1m3 0h1m2 0h1m5 0h1m1 0h1m0 0h1m3 0h1m0 0h1m4 0h1m-31 1h1m1 0h1m3 0h1m5 0h1m6 0h1m-19 1h1m6 0h1m4 0h1m4 0h1m1 0h1m7 0h1m-25 1h1m0 0h1m5 0h1m0 0h1m1 0h1m3 0h1m2 0h1m4 0h1m0 0h1m-27 1h1m3 0h1m1 0h1m0 0h1m8 0h1m10 0h1m-27 1h1m5 0h1m2 0h1m0 0h1m3 0h1m1 0h1m0 0h1m5 0h1m0 0h1m1 0h1m-23 1h1m4 0h1m1 0h1m12 0h1m-21 1h1m17 0h1m0 0h1m-20 1h1m11 0h1m1 0h1m4 0h1m-17 1h1m5 0h1m7 0h1m0 0h1m-8 1h1m-19 1h1m7 0h1m5 0h1m7 0h1m2 0h1m0 0h1m-23 1h1m3 0h1m4 0h1m0 0h1m7 0h1m3 0h1m-16 1h1m1 0h1m6 0h1m-13 1h1m7 0h1m-10 1h1m8 0h1m7 0h1m-19 1h1m1 0h1m0 0h1m1 0h1m2 0h1m3 0h1m9 0h1m1 0h1m-18 1h1m1 0h1m0 0h1m6 0h1m-7 1h1m2 0h1m2 0h1m-16 1h1m1 0h1m2 0h1m4 0h1m7 0h1m-16 1h1m13 0h1m-18 1h1m12 0h1m0 1h1m-15 1h1m6 0h1m5 0h1m-4 1h1m-7 1h1m0 1h1m5 0h1" stroke="#003000" stroke-width="1" fill="none"/><path d="M265 724h1m4 3h1m-8 3h1m0 0h1m1 0h1m-9 2h1m4 0h1m0 0h1m3 0h1m-6 1h1m0 0h1m2 0h1m2 0h1m2 0h1m0 0h1m-13 1h1m1 0h1m3 0h1m-8 1h1m2 0h1m0 1h1m1 0h1m1 0h1m-8 1h1m0 0h1m0 0h1m0 0h1m5 0h1m-12 1h1m2 0h1m2 0h1m0 0h1m-10 1h1m1 0h1m11 0h1m5 0h1m-10 1h1m8 0h1m-21 1h1m2 0h1m6 0h1m1 0h1m-15 1h1m15 0h1m0 0h1m-20 1h1m1 0h1m0 0h1m9 0h1m1 0h1m2 0h1m0 0h1m-18 1h1m0 0h1m2 0h1m0 0h1m3 0h1m4 0h1m2 0h1m1 0h1m-23 1h1m1 0h1m6 0h1m2 0h1m0 0h1m3 0h1m0 0h1m-16 1h1m0 0h1m4 0h1m0 0h1m3 0h1m8 0h1m1 0h1m-21 1h1m4 0h1m9 0h1m3 0h1m0 0h1m-22 1h1m3 0h1m4 0h1m2 0h1m0 0h1m-17 1h1m2 0h1m6 0h1m1 0h1m2 0h1m1 0h1m-14 1h1m4 0h1m0 0h1m1 0h1m2 0h1m2 0h1m1 0h1m2 0h1m-26 1h1m4 0h1m0 0h1m5 0h1m0 0h1m1 0h1m5 0h1m0 0h1m2 0h1m1 0h1m-22 1h1m3 0h1m1 0h1m1 0h1m1 0h1m2 0h1m2 0h1m2 0h1m-16 1h1m2 0h1m0 0h1m0 0h1m0 0h1m1 0h1m1 0h1m3 0h1m1 0h1m-23 1h1m0 0h1m1 0h1m0 0h1m3 0h1m0 0h1m0 0h1m0 0h1m1 0h1m0 0h1m0 0h1m1 0h1m0 0h1m-21 1h1m3 0h1m1 0h1m0 0h1m1 0h1m0 0h1m0 0h1m0 0h1m0 0h1m2 0h1m3 0h1m0 0h1m-21 1h1m1 0h1m1 0h1m4 0h1m1 0h1m0 0h1m0 0h1m3 0h1m0 0h1m2 0h1m-21 1h1m5 0h1m0 0h1m0 0h1m0 0h1m0 0h1m0 0h1m0 0h1m3 0h1m0 0h1m1 0h1m1 0h1m-17 1h1m0 0h1m1 0h1m2 0h1m2 0h1m0 0h1m0 0h1m2 0h1m2 0h1m-23 1h1m0 0h1m1 0h1m0 0h1m0 0h1m1 0h1m2 0h1m0 0h1m0 0h1m3 0h1m0 0h1m-19 1h1m0 0h1m2 0h1m0 0h1m3 0h1m0 0h1m0 0h1m0 0h1m1 0h1m0 0h1m0 0h1m1 0h1m-17 1h1m0 0h1m0 0h1m0 0h1m0 0h1m3 0h1m0 0h1m2 0h1m0 0h1m0 0h1m0 0h1m1 0h1m1 0h1m-19 1h1m1 0h1m0 0h1m2 0h1m0 0h1m1 0h1m0 0h1m0 0h1m0 0h1m1 0h1m0 0h1m0 0h1m0 0h1m-19 1h1m1 0h1m0 0h1m0 0h1m1 0h1m0 0h1m1 0h1m0 0h1m0 0h1m0 0h1m0 0h1m0 0h1m0 0h1m3 0h1m0 0h1m-17 1h1m0 0h1m1 0h1m0 0h1m2 0h1m1 0h1m0 0h1m1 0h1m0 0h1m0 0h1m-18 1h1m0 0h1m0 0h1m1 0h1m3 0h1m0 0h1m2 0h1m1 0h1m1 0h1m-15 1h1m0 0h1m0 0h1m2 0h1m3 0h1m0 0h1m-15 1h1m0 0h1m3 0h1m0 0h1m2 0h1m0 0h1m3 0h1m0 0h1m1 0h1m0 0h1m3 0h1m-19 1h1m1 0h1m0 0h1m0 0h1m0 0h1m1 0h1m0 0h1m0 0h1m0 0h1m-11 1h1m0 0h1m2 0h1m0 0h1m0 0h1m0 0h1m1 0h1m-11 1h1m0 0h1m0 0h1m0 0h1m1 0h1m3 0h1m1 0h1m3 0h1m-13 1h1m0 0h1m3 0h1m4 0h1m-8 1h1m0 0h1m9 0h1m-20 1h1m0 0h1m1 0h1m2 0h1m0 0h1m6 0h1m4 0h1m-18 1h1m2 0h1m0 0h1m1 0h1m7 0h1m1 0h1m-13 1h1m4 0h1m1 0h1m2 0h1m-11 1h1m5 0h1m2 0h1m3 0h1m-8 1h1m1 0h1m0 0h1m-15 2h1m1 0h1m3 0h1m3 0h1m1 0h1m-6 1h1m3 0h1m3 0h1m-14 1h1m4 0h1m0 0h1m6 0h1m-14 1h1m7 0h1m5 0h1m-12 3h1" stroke="#004c00" stroke-width="1" fill="none"/><path d="M268 738h1m0 2h1m1 2h1m-4 1h1m0 2h1m0 0h1m-10 1h1m0 0h1m1 0h1m5 0h1m-8 1h1m2 0h1m1 0h1m-7 1h1m3 0h1m0 0h1m1 0h1m0 0h1m-5 1h1m0 0h1m0 0h1m-5 1h1m4 0h1m0 0h1m0 0h1m-9 1h1m0 0h1m5 0h1m-8 1h1m1 0h1m0 0h1m1 0h1m0 0h1m1 0h1m0 0h1m-15 1h1m8 0h1m1 0h1m-4 1h1m1 0h1m0 0h1m-7 1h1m2 0h1m0 0h1m-4 1h1m6 0h1m0 0h1m-13 1h1m1 0h1m0 0h1m1 0h1m0 0h1m2 0h1m0 0h1m3 0h1m-16 1h1m9 0h1m3 0h1m-3 1h1m0 0h1m-14 1h1m2 0h1m7 0h1m0 0h1m0 0h1m-11 1h1m0 0h1m0 0h1m0 0h1m0 0h1m-6 1h1m1 0h1m0 0h1m0 0h1m0 0h1m0 0h1m-7 1h1m1 0h1m0 0h1m3 0h1m0 0h1m-1 1h1m-5 1h1m0 0h1m0 0h1m0 0h1m0 0h1m2 0h1m-14 1h1m0 0h1m3 0h1m2 0h1m2 0h1m0 0h1m-8 1h1m1 0h1m1 0h1m-6 1h1m0 0h1m0 0h1m1 0h1m0 0h1m1 0h1m2 0h1m-10 3h1m3 1h1m2 0h1m-4 1h1m-4 1h1m-4 1h1" stroke="#007000" stroke-width="1" fill="none"/><path d="M266 759h1m-2 1h1" stroke="#009c00" stroke-width="1" fill="none"/><path d="M273 744h1m-2 1h1m1 1h1m-4 1h1m2 0h1m-10 1h1m-3 1h1m8 0h1m-11 2h1m0 0h1m0 0h1m3 0h1m0 0h1m-6 1h1m5 0h1m0 0h1m-4 1h1m0 0h1m0 0h1m1 0h1m-13 1h1m7 0h1m0 0h1m0 0h1m0 0h1m0 0h1m-17 2h1m0 0h1m1 0h1m0 0h1m0 0h1m-4 1h1m0 0h1m0 0h1m-3 1h1m4 0h1m0 0h1m0 0h1m0 0h1m-3 1h1m1 0h1m-2 1h1m-2 1h1m0 0h1m0 0h1m1 0h1m-6 1h1m1 0h1m3 0h1m-3 1h1m-5 1h1m2 0h1m0 1h1m0 0h1m-9 1h1m0 0h1m5 0h1m0 0h1m0 0h1m2 0h1m-14 1h1m0 0h1m0 0h1m0 0h1m4 0h1m1 0h1m-10 1h1m0 0h1m7 1h1m5 1h1m0 0h1m0 0h1m-2 1h1m0 0h1m-11 1h1m9 0h1m0 0h1m-13 1h1m0 0h1m8 0h1" stroke="#007000" stroke-width="1" fill="none"/><path d="M274 743h1m-5 1h1m0 0h1m4 0h1m-5 1h1m1 0h1m-3 1h1m-2 1h1m0 0h1m0 0h1m0 0h1m-1 1h1m-15 2h1m2 0h1m7 0h1m-11 1h1m0 0h1m7 0h1m-3 1h1m1 0h1m1 0h1m-15 2h1m0 0h1m9 0h1m-11 1h1m8 0h1m-11 1h1m0 0h1m-1 1h1m0 0h1m0 0h1m0 1h1m1 0h1m0 0h1m1 0h1m-3 1h1m0 0h1m1 0h1m-5 1h1m0 0h1m-3 1h1m0 0h1m0 0h1m-1 1h1m1 0h1m-4 2h1m-3 1h1m5 0h1m0 0h1m-10 1h1m7 0h1m-10 1h1m0 0h1m0 0h1m0 0h1m8 0h1m-13 1h1m2 0h1m1 0h1m4 1h1m6 1h1m0 0h1m0 0h1m-12 1h1m6 0h1m0 0h1m2 0h1m-13 1h1m0 0h1m9 0h1m-11 1h1m0 0h1m-2 1h1m0 0h1m-3 1h1m0 0h1" stroke="#009c00" stroke-width="1" fill="none"/><path d="M273 745h1m-2 1h1m-1 2h1m-10 3h1m0 0h1m-2 1h1m3 0h1m-10 2h1m1 0h1m10 0h1m-11 2h1m-4 1h1m0 0h1m6 1h1m-5 1h1m2 0h1m1 1h1m0 0h1m-6 1h1m2 0h1m-2 2h1m2 1h1m-7 2h1m6 0h1m1 0h1m-11 1h1m6 0h1m-9 1h1m7 0h1m8 1h1m-17 1h1m15 0h1m-3 2h1m1 0h1m-12 1h1m1 0h1m-2 1h1" stroke="#14d014" stroke-width="1" fill="none"/></g>
<g id="r2" transform="translate(0 0.5)"><ellipse cx="106" cy="897" rx="10" ry="9" fill="#a00" opacity="0.55" filter="url(#bl3)"/><path d="M101 874h1m13 2h1m6 0h1m-13 3h1m-15 1h1m5 0h1m3 0h1m3 0h1m-21 1h1m6 0h1m9 0h1m0 0h1m7 0h1m-22 1h1m8 0h1m2 0h1m1 0h1m1 0h1m-18 1h1m6 0h1m1 0h1m9 0h1m2 0h1m0 0h1m-19 1h1m0 0h1m0 0h1m0 0h1m3 0h1m0 0h1m1 0h1m6 0h1m0 0h1m0 0h1m-24 1h1m9 0h1m0 0h1m2 0h1m0 0h1m1 0h1m1 0h1m-21 1h1m2 0h1m0 0h1m1 0h1m1 0h1m7 0h1m-19 1h1m2 0h1m2 0h1m0 0h1m2 0h1m0 0h1m4 0h1m1 0h1m0 0h1m7 0h1m4 0h1m-34 1h1m3 0h1m8 0h1m1 0h1m1 0h1m2 0h1m0 0h1m1 0h1m0 0h1m6 0h1m0 0h1m1 0h1m-29 1h1m7 0h1m1 0h1m9 0h1m-33 1h1m4 0h1m0 0h1m5 0h1m0 0h1m4 0h1m3 0h1m0 0h1m2 0h1m8 0h1m-28 1h1m6 0h1m0 0h1m0 0h1m0 0h1m0 0h1m1 0h1m1 0h1m0 0h1m8 0h1m2 0h1m-27 1h1m0 0h1m1 0h1m5 0h1m1 0h1m1 0h1m7 0h1m17 0h1m-44 1h1m0 0h1m2 0h1m7 0h1m1 0h1m2 0h1m2 0h1m1 0h1m5 0h1m-27 1h1m2 0h1m0 0h1m0 0h1m3 0h1m2 0h1m1 0h1m3 0h1m3 0h1m1 0h1m0 0h1m0 0h1m2 0h1m1 0h1m1 0h1m-45 1h1m5 0h1m3 0h1m3 0h1m1 0h1m0 0h1m5 0h1m0 0h1m7 0h1m6 0h1m7 0h1m-40 1h1m2 0h1m6 0h1m3 0h1m1 0h1m3 0h1m2 0h1m1 0h1m0 0h1m-26 1h1m4 0h1m2 0h1m1 0h1m4 0h1m0 0h1m0 0h1m4 0h1m3 0h1m-30 1h1m3 0h1m0 0h1m1 0h1m4 0h1m1 0h1m4 0h1m4 0h1m0 0h1m7 0h1m1 0h1m-37 1h1m5 0h1m1 0h1m0 0h1m0 0h1m2 0h1m0 0h1m0 0h1m1 0h1m1 0h1m2 0h1m3 0h1m0 0h1m0 0h1m2 0h1m0 0h1m-30 1h1m7 0h1m0 0h1m3 0h1m0 0h1m0 0h1m2 0h1m3 0h1m2 0h1m0 0h1m0 0h1m0 0h1m4 0h1m-43 1h1m7 0h1m0 0h1m1 0h1m0 0h1m7 0h1m6 0h1m0 0h1m2 0h1m2 0h1m0 0h1m0 0h1m1 0h1m2 0h1m-33 1h1m0 0h1m0 0h1m1 0h1m7 0h1m1 0h1m3 0h1m3 0h1m-18 1h1m1 0h1m3 0h1m0 0h1m0 0h1m1 0h1m2 0h1m1 0h1m0 0h1m1 0h1m7 0h1m4 0h1m1 0h1m-43 1h1m4 0h1m9 0h1m3 0h1m0 0h1m3 0h1m0 0h1m1 0h1m4 0h1m1 0h1m0 0h1m-28 1h1m2 0h1m1 0h1m0 0h1m2 0h1m1 0h1m1 0h1m0 0h1m4 0h1m0 0h1m3 0h1m0 0h1m2 0h1m-30 1h1m2 0h1m6 0h1m2 0h1m10 0h1m4 0h1m0 0h1m-31 1h1m8 0h1m1 0h1m14 0h1m-19 1h1m2 0h1m5 0h1m8 0h1m1 0h1m11 0h1m-44 1h1m4 0h1m11 0h1m2 0h1m2 0h1m0 0h1m-14 1h1m0 0h1m10 0h1m1 0h1m0 0h1m1 0h1m-18 1h1m3 0h1m2 0h1m0 0h1m7 0h1m-18 1h1m2 0h1m0 0h1m-2 1h1m2 0h1m1 0h1m1 0h1m8 0h1m-18 1h1m7 0h1m9 0h1m-28 1h1m23 0h1m-9 1h1m4 1h1m-11 2h1m-14 2h1m17 2h1" stroke="#6a0000" stroke-width="1" fill="none"/><path d="M103 882h1m6 0h1m-13 1h1m1 0h1m4 0h1m0 0h1m2 0h1m1 0h1m0 0h1m4 0h1m-17 1h1m9 0h1m1 0h1m-18 1h1m8 0h1m1 0h1m1 0h1m1 0h1m0 0h1m-13 1h1m0 0h1m1 0h1m1 0h1m0 0h1m2 0h1m4 0h1m-18 1h1m1 0h1m1 0h1m2 0h1m0 0h1m0 0h1m0 0h1m1 0h1m1 0h1m1 0h1m0 0h1m2 0h1m-22 1h1m2 0h1m1 0h1m1 0h1m0 0h1m2 0h1m3 0h1m0 0h1m1 0h1m1 0h1m-21 1h1m0 0h1m1 0h1m0 0h1m0 0h1m1 0h1m4 0h1m0 0h1m1 0h1m0 0h1m1 0h1m7 0h1m-25 1h1m0 0h1m0 0h1m0 0h1m0 0h1m0 0h1m0 0h1m0 0h1m2 0h1m1 0h1m1 0h1m0 0h1m6 0h1m-23 1h1m0 0h1m1 0h1m2 0h1m0 0h1m0 0h1m2 0h1m0 0h1m1 0h1m0 0h1m4 0h1m-27 1h1m1 0h1m6 0h1m1 0h1m0 0h1m1 0h1m0 0h1m1 0h1m1 0h1m1 0h1m1 0h1m2 0h1m-27 1h1m0 0h1m3 0h1m0 0h1m0 0h1m4 0h1m3 0h1m1 0h1m0 0h1m2 0h1m1 0h1m2 0h1m-25 1h1m0 0h1m1 0h1m1 0h1m2 0h1m2 0h1m0 0h1m7 0h1m0 0h1m0 0h1m1 0h1m-27 1h1m0 0h1m0 0h1m1 0h1m1 0h1m0 0h1m1 0h1m1 0h1m1 0h1m1 0h1m0 0h1m0 0h1m1 0h1m1 0h1m0 0h1m0 0h1m-24 1h1m1 0h1m1 0h1m0 0h1m0 0h1m1 0h1m3 0h1m1 0h1m0 0h1m1 0h1m0 0h1m0 0h1m1 0h1m1 0h1m0 0h1m-25 1h1m2 0h1m0 0h1m4 0h1m1 0h1m0 0h1m0 0h1m1 0h1m1 0h1m0 0h1m1 0h1m0 0h1m-17 1h1m1 0h1m0 0h1m0 0h1m0 0h1m1 0h1m0 0h1m0 0h1m0 0h1m0 0h1m4 0h1m3 0h1m0 0h1m2 0h1m-31 1h1m0 0h1m5 0h1m3 0h1m1 0h1m0 0h1m1 0h1m8 0h1m0 0h1m0 0h1m0 0h1m-24 1h1m0 0h1m1 0h1m1 0h1m1 0h1m0 0h1m0 0h1m0 0h1m2 0h1m1 0h1m2 0h1m-19 1h1m0 0h1m0 0h1m0 0h1m0 0h1m1 0h1m2 0h1m0 0h1m0 0h1m2 0h1m1 0h1m0 0h1m2 0h1m3 0h1m-29 1h1m1 0h1m0 0h1m6 0h1m0 0h1m0 0h1m0 0h1m0 0h1m0 0h1m0 0h1m0 0h1m1 0h1m1 0h1m2 0h1m0 0h1m-26 1h1m0 0h1m1 0h1m8 0h1m1 0h1m0 0h1m0 0h1m0 0h1m1 0h1m0 0h1m1 0h1m0 0h1m-22 1h1m1 0h1m9 0h1m0 0h1m0 0h1m0 0h1m2 0h1m0 0h1m0 0h1m2 0h1m1 0h1m-25 1h1m3 0h1m0 0h1m0 0h1m0 0h1m0 0h1m0 0h1m0 0h1m0 0h1m1 0h1m2 0h1m0 0h1m0 0h1m3 0h1m0 0h1m-20 1h1m0 0h1m0 0h1m0 0h1m0 0h1m0 0h1m1 0h1m1 0h1m0 0h1m4 0h1m-19 1h1m1 0h1m1 0h1m2 0h1m0 0h1m3 0h1m1 0h1m1 0h1m2 0h1m1 0h1m-22 1h1m4 0h1m0 0h1m0 0h1m0 0h1m3 0h1m0 0h1m5 0h1m-12 1h1m0 0h1m5 0h1m0 0h1m-16 1h1m6 0h1m1 0h1m2 0h1m0 0h1m-6 1h1m1 0h1m2 0h1m-8 1h1m2 0h1m-5 1h1" stroke="#a00000" stroke-width="1" fill="none"/><path d="M107 887h1m-3 1h1m2 0h1m-8 1h1m5 0h1m0 0h1m4 0h1m-9 1h1m1 0h1m2 0h1m0 0h1m3 0h1m-16 1h1m0 0h1m2 0h1m0 0h1m0 0h1m1 0h1m1 0h1m0 0h1m1 0h1m-13 1h1m2 0h1m0 0h1m0 0h1m2 0h1m3 0h1m-16 1h1m1 0h1m0 0h1m3 0h1m0 0h1m0 0h1m0 0h1m0 0h1m1 0h1m1 0h1m-16 1h1m0 0h1m2 0h1m1 0h1m1 0h1m1 0h1m1 0h1m0 0h1m0 0h1m-15 1h1m2 0h1m1 0h1m0 0h1m0 0h1m0 0h1m0 0h1m1 0h1m0 0h1m6 0h1m-17 1h1m2 0h1m2 0h1m2 0h1m0 0h1m0 0h1m0 0h1m0 0h1m-17 1h1m0 0h1m1 0h1m0 0h1m1 0h1m1 0h1m0 0h1m1 0h1m2 0h1m1 0h1m-15 1h1m6 0h1m1 0h1m0 0h1m3 0h1m0 0h1m-19 1h1m0 0h1m4 0h1m2 0h1m1 0h1m1 0h1m3 0h1m1 0h1m-18 1h1m0 0h1m0 0h1m0 0h1m0 0h1m3 0h1m0 0h1m0 0h1m1 0h1m1 0h1m1 0h1m-15 1h1m2 0h1m1 0h1m2 0h1m0 0h1m0 0h1m1 0h1m0 0h1m-15 1h1m1 0h1m1 0h1m2 0h1m7 0h1m-16 1h1m0 0h1m1 0h1m1 0h1m2 0h1m0 0h1m0 0h1m0 0h1m1 0h1m-13 1h1m0 0h1m3 0h1m0 0h1m0 0h1m-3 1h1m0 0h1m1 0h1m0 0h1m-3 1h1m-6 1h1" stroke="#d80000" stroke-width="1" fill="none"/><path d="M107 890h1m-4 2h1m5 0h1m0 0h1m-8 1h1m-1 1h1m1 0h1m1 0h1m1 0h1m0 0h1m-10 1h1m1 0h1m0 0h1m1 0h1m0 0h1m0 0h1m0 0h1m-9 1h1m2 0h1m0 0h1m0 0h1m0 0h1m-8 1h1m1 0h1m2 0h1m0 0h1m1 0h1m-6 1h1m0 0h1m0 0h1m0 0h1m2 0h1m1 0h1m-11 1h1m1 0h1m0 0h1m0 0h1m0 0h1m0 0h1m1 0h1m-7 1h1m5 0h1m-8 1h1m3 0h1m2 0h1m1 0h1m-6 1h1m3 0h1" stroke="#ff1010" stroke-width="1" fill="none"/><path d="M91 885 L97 886 L102 887 L105 883 L108.5 879.5 L110.5 883 L110 888 L114 890 L119 892 L122 893 L118 896 L114.5 898 L116 903 L113 907 L109 910 L105 909 L101 911 L98 908 L97 903 L99 898 L96 894 L100 892 L96 889 Z" fill="#ff0a0a" filter="url(#bl1)"/><path d="M107 880h1m2 0h1m-2 1h1m-3 1h1m0 0h1m-1 1h1m-3 1h1m1 0h1m0 0h1m-15 1h1m11 0h1m0 0h1m0 0h1m-13 1h1m0 0h1m-5 1h1m1 0h1m0 0h1m0 0h1m5 0h1m-10 1h1m2 0h1m0 1h1m10 0h1m5 0h1m-25 1h1m1 0h1m0 0h1m3 0h1m15 0h1m-16 1h1m2 0h1m1 0h1m2 0h1m3 0h1m1 0h1m4 0h1m-15 1h1m0 0h1m7 0h1m0 0h1m0 0h1m1 0h1m-17 1h1m1 0h1m2 0h1m1 0h1m1 0h1m2 0h1m0 0h1m1 0h1m3 0h1m-17 1h1m2 0h1m0 0h1m1 0h1m4 0h1m-17 1h1m3 0h1m0 0h1m0 0h1m0 0h1m8 0h1m1 0h1m-19 1h1m2 0h1m0 0h1m0 0h1m0 0h1m0 0h1m0 0h1m0 0h1m2 0h1m0 0h1m0 0h1m0 0h1m-17 1h1m3 0h1m1 0h1m1 0h1m0 0h1m0 0h1m-9 1h1m1 0h1m0 0h1m3 0h1m7 0h1m1 0h1m-20 1h1m2 0h1m0 0h1m1 0h1m0 0h1m2 0h1m1 0h1m-8 1h1m3 0h1m8 0h1m-11 1h1m5 0h1m1 0h1m0 0h1m-20 1h1m8 0h1m5 0h1m2 0h1m1 0h1m-20 1h1m0 0h1m1 0h1m1 0h1m8 0h1m2 0h1m1 0h1m-17 1h1m0 0h1m12 0h1m1 0h1m-22 1h1m2 0h1m1 0h1m3 0h1m2 0h1m0 0h1m-9 1h1m5 0h1m0 0h1m0 0h1m1 0h1m-14 1h1m1 0h1m0 0h1m1 0h1m5 0h1m2 0h1m-19 1h1m6 0h1m0 0h1m2 0h1m6 0h1m0 0h1m-13 1h1m0 0h1m0 0h1m2 0h1m0 0h1m0 0h1m0 0h1m-9 1h1m2 0h1m4 0h1m0 0h1m0 0h1m-11 1h1m4 0h1m1 0h1m0 0h1" stroke="#d80000" stroke-width="1" fill="none"/><path d="M109 880h1m0 0h1m-4 1h1m0 0h1m1 0h1m-5 1h1m0 0h1m0 0h1m0 0h1m1 0h1m-7 1h1m2 0h1m0 0h1m0 0h1m-4 1h1m0 0h1m0 0h1m-14 1h1m0 0h1m0 0h1m10 0h1m-15 1h1m2 0h1m7 0h1m1 0h1m1 0h1m-18 1h1m1 0h1m1 0h1m0 0h1m0 0h1m1 0h1m4 0h1m-13 1h1m0 0h1m1 0h1m0 0h1m2 0h1m-6 1h1m0 0h1m1 0h1m8 0h1m-13 1h1m1 0h1m5 0h1m0 0h1m0 0h1m1 0h1m1 0h1m0 0h1m3 0h1m0 0h1m-20 1h1m0 0h1m1 0h1m1 0h1m0 0h1m0 0h1m0 0h1m0 0h1m1 0h1m0 0h1m0 0h1m3 0h1m2 0h1m1 0h1m-24 1h1m5 0h1m0 0h1m0 0h1m0 0h1m0 0h1m0 0h1m0 0h1m0 0h1m0 0h1m0 0h1m1 0h1m0 0h1m3 0h1m-20 1h1m1 0h1m1 0h1m1 0h1m0 0h1m0 0h1m1 0h1m0 0h1m0 0h1m0 0h1m0 0h1m0 0h1m1 0h1m0 0h1m1 0h1m-19 1h1m0 0h1m0 0h1m0 0h1m0 0h1m0 0h1m0 0h1m0 0h1m0 0h1m3 0h1m0 0h1m0 0h1m0 0h1m-19 1h1m3 0h1m0 0h1m0 0h1m0 0h1m0 0h1m0 0h1m0 0h1m0 0h1m0 0h1m0 0h1m0 0h1m0 0h1m1 0h1m0 0h1m1 0h1m-19 1h1m0 0h1m1 0h1m1 0h1m0 0h1m0 0h1m0 0h1m0 0h1m0 0h1m0 0h1m1 0h1m2 0h1m0 0h1m0 0h1m-20 1h1m0 0h1m0 0h1m1 0h1m0 0h1m0 0h1m0 0h1m0 0h1m0 0h1m0 0h1m0 0h1m0 0h1m5 0h1m-16 1h1m0 0h1m0 0h1m0 0h1m0 0h1m1 0h1m0 0h1m4 0h1m0 0h1m0 0h1m-16 1h1m1 0h1m0 0h1m1 0h1m0 0h1m0 0h1m4 0h1m2 0h1m1 0h1m-15 1h1m3 0h1m0 0h1m2 0h1m4 0h1m0 0h1m0 0h1m-22 1h1m1 0h1m2 0h1m1 0h1m1 0h1m0 0h1m6 0h1m4 0h1m-19 1h1m1 0h1m9 0h1m0 0h1m0 0h1m0 0h1m1 0h1m-23 1h1m0 0h1m1 0h1m0 0h1m0 0h1m9 0h1m0 0h1m1 0h1m0 0h1m0 0h1m-22 1h1m0 0h1m1 0h1m0 0h1m0 0h1m1 0h1m6 0h1m0 0h1m1 0h1m-18 1h1m2 0h1m1 0h1m1 0h1m0 0h1m0 0h1m2 0h1m3 0h1m1 0h1m1 0h1m0 0h1m-21 1h1m1 0h1m0 0h1m0 0h1m1 0h1m0 0h1m0 0h1m2 0h1m-12 1h1m1 0h1m0 0h1m0 0h1m3 0h1m1 0h1m1 0h1m0 0h1m1 0h1m-15 1h1m1 0h1m2 0h1m2 0h1m0 0h1m1 0h1m1 0h1m-15 1h1m0 0h1m2 0h1m0 0h1m2 0h1m3 0h1m0 0h1m-12 1h1m3 0h1m1 0h1m4 0h1m2 0h1m-15 1h1m2 0h1m0 0h1m1 0h1m0 0h1m2 0h1m2 0h1m-12 1h1m6 0h1" stroke="#ff1010" stroke-width="1" fill="none"/><path d="M125 837h1m-21 2h1m-7 10h1m14 3h1m19 9h1m-59 1h1m46 2h1m-26 4h1m16 0h1m-3 1h1m-11 2h1m1 0h1m-15 1h1m39 1h1m-54 3h1m45 0h1m-4 1h1m5 1h1m-22 1h1m-6 2h1m3 0h1m-9 2h1m26 0h1m-31 2h1m14 0h1m12 0h1m3 3h1m-43 3h1m57 0h1m-30 1h1m3 1h1m-12 1h1m-5 1h1m42 2h1m-48 1h1m27 0h1m-23 1h1m25 1h1m0 1h1m-18 2h1m2 1h1m-17 1h1m1 4h1m-30 1h1m11 3h1m27 0h1m36 1h1" stroke="#6a0000" stroke-width="1" fill="none"/><path d="M113 837h1m5 6h1m-14 1h1m-25 2h1m11 0h1m25 14h1m-22 3h1m-5 1h1m-28 1h1m51 0h1m-8 1h1m10 0h1m-29 2h1m-21 6h1m31 0h1m23 3h1m-1 1h1m-34 2h1m14 1h1m4 0h1m-7 1h1m12 0h1m24 0h1m-72 1h1m35 0h1m-21 1h1m-13 2h1m41 0h1m-7 1h1m-36 1h1m36 3h1m-8 2h1m-1 1h1m-22 2h1m-1 1h1m-20 1h1m24 0h1m48 0h1m-14 1h1m-24 2h1m-17 1h1m14 1h1m12 0h1m-32 1h1m45 1h1m-58 2h1m6 0h1m25 0h1m8 0h1m-16 2h1m0 2h1m4 2h1m-8 5h1m0 8h1m-74 2h1m0 0h1m-3 2h1m1 0h1m-1 1h1" stroke="#a00000" stroke-width="1" fill="none"/><path d="M75 842h1m39 6h1m2 4h1m-29 4h1m2 9h1m2 4h1m10 2h1m15 0h1m-16 1h1m5 3h1m-3 3h1m-16 1h1m20 0h1m4 4h1m-18 9h1m1 1h1m-3 1h1m12 1h1m5 2h1m-11 2h1m-15 3h1m7 3h1m2 0h1m-5 2h1m9 3h1m-10 3h1m15 1h1m-32 2h1m21 1h1m-8 3h1m43 5h1m-47 16h1m-50 14h1m80 1h1" stroke="#d80000" stroke-width="1" fill="none"/></g>
<g id="g2" transform="translate(0 0.5)"><ellipse cx="253.5" cy="899" rx="18" ry="16" fill="#070" opacity="0.6" filter="url(#bl3)"/><path d="M266 864h1m-10 1h1m-8 3h1m-15 1h1m0 1h1m11 0h1m-7 1h1m4 0h1m-7 1h1m14 0h1m-12 1h1m11 1h1m0 0h1m1 0h1m0 0h1m2 0h1m1 0h1m11 0h1m-39 1h1m14 0h1m0 0h1m10 0h1m2 0h1m-42 1h1m18 0h1m24 0h1m-53 1h1m28 0h1m9 0h1m4 0h1m-34 1h1m0 0h1m2 0h1m14 0h1m1 0h1m5 0h1m4 0h1m3 0h1m-37 1h1m39 0h1m-34 1h1m14 0h1m8 0h1m1 0h1m3 0h1m1 0h1m-40 1h1m2 0h1m7 0h1m2 0h1m3 0h1m3 0h1m6 0h1m12 0h1m2 0h1m-47 1h1m10 0h1m10 0h1m-21 1h1m0 0h1m12 0h1m9 0h1m2 0h1m0 0h1m4 0h1m11 0h1m-62 1h1m6 0h1m8 0h1m4 0h1m1 0h1m0 0h1m3 0h1m4 0h1m4 0h1m21 0h1m0 0h1m-53 1h1m1 0h1m31 0h1m-36 1h1m1 0h1m1 0h1m2 0h1m7 0h1m16 0h1m1 0h1m3 0h1m-39 1h1m17 0h1m2 0h1m2 0h1m11 0h1m9 0h1m4 0h1m2 0h1m3 0h1m-51 1h1m2 0h1m1 0h1m5 0h1m2 0h1m4 0h1m12 0h1m9 0h1m11 0h1m-67 1h1m13 0h1m0 0h1m2 0h1m3 0h1m2 0h1m12 0h1m1 0h1m2 0h1m16 0h1m-64 1h1m3 0h1m11 0h1m5 0h1m1 0h1m0 0h1m2 0h1m0 0h1m7 0h1m1 0h1m4 0h1m1 0h1m10 0h1m8 0h1m2 0h1m-67 1h1m14 0h1m3 0h1m5 0h1m9 0h1m0 0h1m0 0h1m3 0h1m7 0h1m4 0h1m-23 1h1m3 0h1m4 0h1m24 0h1m-69 1h1m17 0h1m3 0h1m5 0h1m4 0h1m5 0h1m0 0h1m3 0h1m2 0h1m4 0h1m-50 1h1m6 0h1m12 0h1m3 0h1m13 0h1m4 0h1m7 0h1m-32 1h1m14 0h1m5 0h1m6 0h1m5 0h1m-51 1h1m17 0h1m14 0h1m0 0h1m0 0h1m10 0h1m20 0h1m-81 1h1m10 0h1m4 0h1m1 0h1m2 0h1m8 0h1m3 0h1m17 0h1m10 0h1m-50 1h1m7 0h1m1 0h1m8 0h1m0 0h1m9 0h1m15 0h1m-35 1h1m0 0h1m4 0h1m7 0h1m3 0h1m3 0h1m-42 1h1m9 0h1m11 0h1m3 0h1m7 0h1m5 0h1m3 0h1m3 0h1m0 0h1m2 0h1m1 0h1m0 0h1m1 0h1m2 0h1m0 0h1m-49 1h1m0 0h1m2 0h1m18 0h1m-26 1h1m0 0h1m1 0h1m8 0h1m0 0h1m0 0h1m5 0h1m2 0h1m3 0h1m1 0h1m4 0h1m2 0h1m1 0h1m0 0h1m-44 1h1m14 0h1m1 0h1m8 0h1m8 0h1m4 0h1m-52 1h1m9 0h1m3 0h1m11 0h1m0 0h1m15 0h1m0 0h1m6 0h1m14 0h1m-61 1h1m16 0h1m0 0h1m0 0h1m3 0h1m11 0h1m0 0h1m0 0h1m9 0h1m8 0h1m-52 1h1m12 0h1m5 0h1m3 0h1m18 0h1m-58 1h1m4 0h1m8 0h1m3 0h1m14 0h1m11 0h1m2 0h1m3 0h1m3 0h1m2 0h1m9 0h1m-64 1h1m12 0h1m8 0h1m11 0h1m28 0h1m-50 1h1m5 0h1m5 0h1m1 0h1m16 0h1m-30 1h1m12 0h1m36 0h1m-66 1h1m11 0h1m1 0h1m3 0h1m1 0h1m9 0h1m10 0h1m19 0h1m1 0h1m-41 1h1m4 0h1m2 0h1m26 0h1m6 0h1m-55 1h1m7 0h1m8 0h1m1 0h1m11 0h1m10 0h1m-49 1h1m3 0h1m8 0h1m28 0h1m1 0h1m-49 1h1m5 0h1m7 0h1m2 0h1m7 0h1m0 0h1m2 0h1m3 0h1m2 0h1m1 0h1m0 0h1m5 0h1m6 0h1m-43 1h1m3 0h1m11 0h1m2 0h1m6 0h1m-15 1h1m8 0h1m0 0h1m11 0h1m5 0h1m1 0h1m9 0h1m-51 1h1m23 0h1m3 0h1m1 0h1m-25 1h1m0 0h1m4 0h1m4 0h1m5 0h1m8 0h1m1 0h1m-41 1h1m11 0h1m11 0h1m6 0h1m10 0h1m-38 1h1m4 0h1m10 0h1m13 0h1m-31 1h1m16 0h1m14 0h1m0 0h1m8 0h1m-24 1h1m3 0h1m4 0h1m-17 1h1m12 1h1m-9 1h1m0 0h1m-1 1h1m12 1h1m-8 1h1m19 0h1m-23 1h1m-6 3h1m-18 2h1m8 0h1" stroke="#001c00" stroke-width="1" fill="none"/><path d="M252 871h1m3 0h1m2 2h1m4 1h1m-22 1h1m3 0h1m3 0h1m7 0h1m-20 1h1m5 0h1m5 0h1m11 0h1m6 0h1m0 0h1m-21 1h1m2 0h1m0 0h1m4 0h1m-14 1h1m0 0h1m0 0h1m2 0h1m1 0h1m7 0h1m5 0h1m-28 1h1m2 0h1m0 0h1m1 0h1m0 0h1m1 0h1m0 0h1m0 0h1m0 0h1m10 0h1m1 0h1m2 0h1m0 0h1m1 0h1m-41 1h1m6 0h1m5 0h1m0 0h1m0 0h1m1 0h1m1 0h1m4 0h1m0 0h1m3 0h1m0 0h1m2 0h1m-33 1h1m6 0h1m4 0h1m0 0h1m2 0h1m0 0h1m5 0h1m0 0h1m0 0h1m2 0h1m-30 1h1m13 0h1m2 0h1m1 0h1m2 0h1m2 0h1m4 0h1m1 0h1m0 0h1m2 0h1m2 0h1m1 0h1m-32 1h1m1 0h1m0 0h1m1 0h1m1 0h1m1 0h1m2 0h1m0 0h1m2 0h1m0 0h1m1 0h1m0 0h1m3 0h1m-32 1h1m4 0h1m1 0h1m1 0h1m0 0h1m1 0h1m1 0h1m0 0h1m0 0h1m0 0h1m0 0h1m2 0h1m0 0h1m0 0h1m0 0h1m1 0h1m1 0h1m0 0h1m1 0h1m2 0h1m-37 1h1m1 0h1m4 0h1m0 0h1m4 0h1m0 0h1m0 0h1m0 0h1m0 0h1m10 0h1m1 0h1m0 0h1m0 0h1m0 0h1m0 0h1m0 0h1m0 0h1m2 0h1m0 0h1m-38 1h1m0 0h1m4 0h1m1 0h1m1 0h1m1 0h1m2 0h1m0 0h1m1 0h1m0 0h1m2 0h1m0 0h1m10 0h1m1 0h1m2 0h1m-45 1h1m8 0h1m5 0h1m1 0h1m0 0h1m0 0h1m0 0h1m2 0h1m0 0h1m1 0h1m0 0h1m0 0h1m1 0h1m8 0h1m-43 1h1m0 0h1m1 0h1m1 0h1m2 0h1m0 0h1m0 0h1m3 0h1m0 0h1m7 0h1m3 0h1m2 0h1m1 0h1m0 0h1m1 0h1m1 0h1m1 0h1m1 0h1m1 0h1m1 0h1m-47 1h1m4 0h1m2 0h1m2 0h1m5 0h1m1 0h1m0 0h1m2 0h1m1 0h1m2 0h1m0 0h1m0 0h1m1 0h1m2 0h1m0 0h1m0 0h1m0 0h1m0 0h1m1 0h1m0 0h1m3 0h1m1 0h1m-48 1h1m2 0h1m7 0h1m5 0h1m1 0h1m0 0h1m4 0h1m0 0h1m4 0h1m0 0h1m1 0h1m0 0h1m1 0h1m0 0h1m1 0h1m0 0h1m2 0h1m-43 1h1m1 0h1m2 0h1m7 0h1m1 0h1m2 0h1m2 0h1m2 0h1m2 0h1m0 0h1m2 0h1m0 0h1m1 0h1m0 0h1m2 0h1m0 0h1m4 0h1m-48 1h1m1 0h1m1 0h1m2 0h1m3 0h1m0 0h1m0 0h1m2 0h1m0 0h1m2 0h1m0 0h1m0 0h1m4 0h1m0 0h1m0 0h1m0 0h1m0 0h1m2 0h1m7 0h1m0 0h1m0 0h1m2 0h1m-48 1h1m4 0h1m0 0h1m4 0h1m0 0h1m0 0h1m0 0h1m0 0h1m3 0h1m3 0h1m0 0h1m0 0h1m1 0h1m1 0h1m1 0h1m3 0h1m0 0h1m4 0h1m2 0h1m-40 1h1m0 0h1m0 0h1m1 0h1m0 0h1m1 0h1m0 0h1m0 0h1m5 0h1m0 0h1m4 0h1m0 0h1m3 0h1m0 0h1m0 0h1m1 0h1m0 0h1m4 0h1m0 0h1m1 0h1m0 0h1m2 0h1m1 0h1m-52 1h1m2 0h1m6 0h1m0 0h1m0 0h1m0 0h1m1 0h1m0 0h1m0 0h1m0 0h1m4 0h1m1 0h1m1 0h1m1 0h1m0 0h1m0 0h1m4 0h1m0 0h1m1 0h1m0 0h1m1 0h1m0 0h1m1 0h1m1 0h1m3 0h1m-53 1h1m3 0h1m0 0h1m0 0h1m0 0h1m1 0h1m1 0h1m0 0h1m3 0h1m3 0h1m1 0h1m1 0h1m0 0h1m0 0h1m0 0h1m0 0h1m1 0h1m0 0h1m0 0h1m5 0h1m2 0h1m0 0h1m1 0h1m1 0h1m-41 1h1m9 0h1m1 0h1m0 0h1m0 0h1m0 0h1m0 0h1m0 0h1m0 0h1m5 0h1m0 0h1m0 0h1m0 0h1m0 0h1m0 0h1m3 0h1m0 0h1m2 0h1m0 0h1m0 0h1m3 0h1m0 0h1m0 0h1m-49 1h1m7 0h1m0 0h1m0 0h1m0 0h1m3 0h1m0 0h1m0 0h1m0 0h1m0 0h1m0 0h1m1 0h1m1 0h1m1 0h1m2 0h1m0 0h1m1 0h1m0 0h1m0 0h1m7 0h1m1 0h1m0 0h1m-42 1h1m0 0h1m0 0h1m4 0h1m0 0h1m0 0h1m0 0h1m1 0h1m0 0h1m1 0h1m0 0h1m2 0h1m1 0h1m1 0h1m2 0h1m1 0h1m3 0h1m9 0h1m0 0h1m-48 1h1m1 0h1m0 0h1m0 0h1m0 0h1m1 0h1m4 0h1m2 0h1m1 0h1m0 0h1m1 0h1m1 0h1m1 0h1m2 0h1m0 0h1m1 0h1m2 0h1m0 0h1m1 0h1m2 0h1m9 0h1m-56 1h1m5 0h1m4 0h1m0 0h1m3 0h1m1 0h1m0 0h1m1 0h1m2 0h1m2 0h1m2 0h1m0 0h1m0 0h1m1 0h1m0 0h1m0 0h1m3 0h1m1 0h1m0 0h1m0 0h1m5 0h1m0 0h1m1 0h1m1 0h1m-42 1h1m1 0h1m1 0h1m1 0h1m0 0h1m2 0h1m0 0h1m0 0h1m0 0h1m0 0h1m0 0h1m0 0h1m0 0h1m1 0h1m0 0h1m0 0h1m1 0h1m0 0h1m1 0h1m0 0h1m0 0h1m2 0h1m0 0h1m1 0h1m0 0h1m6 0h1m0 0h1m0 0h1m-56 1h1m7 0h1m5 0h1m3 0h1m1 0h1m2 0h1m1 0h1m0 0h1m0 0h1m0 0h1m0 0h1m1 0h1m1 0h1m2 0h1m0 0h1m0 0h1m1 0h1m0 0h1m1 0h1m3 0h1m2 0h1m-43 1h1m0 0h1m3 0h1m2 0h1m1 0h1m0 0h1m0 0h1m5 0h1m0 0h1m1 0h1m0 0h1m5 0h1m1 0h1m0 0h1m1 0h1m3 0h1m1 0h1m1 0h1m0 0h1m-45 1h1m0 0h1m0 0h1m5 0h1m0 0h1m1 0h1m1 0h1m3 0h1m1 0h1m0 0h1m2 0h1m1 0h1m0 0h1m0 0h1m0 0h1m3 0h1m1 0h1m2 0h1m1 0h1m1 0h1m2 0h1m3 0h1m-50 1h1m0 0h1m2 0h1m0 0h1m2 0h1m0 0h1m2 0h1m1 0h1m0 0h1m0 0h1m2 0h1m0 0h1m1 0h1m2 0h1m1 0h1m1 0h1m0 0h1m1 0h1m1 0h1m1 0h1m3 0h1m0 0h1m0 0h1m0 0h1m1 0h1m-44 1h1m1 0h1m0 0h1m5 0h1m0 0h1m5 0h1m1 0h1m0 0h1m2 0h1m0 0h1m1 0h1m1 0h1m0 0h1m0 0h1m0 0h1m1 0h1m9 0h1m-40 1h1m0 0h1m1 0h1m1 0h1m0 0h1m0 0h1m1 0h1m2 0h1m0 0h1m0 0h1m1 0h1m0 0h1m0 0h1m1 0h1m0 0h1m1 0h1m1 0h1m1 0h1m4 0h1m2 0h1m3 0h1m-41 1h1m0 0h1m4 0h1m0 0h1m0 0h1m1 0h1m7 0h1m0 0h1m0 0h1m0 0h1m0 0h1m1 0h1m0 0h1m0 0h1m2 0h1m0 0h1m0 0h1m0 0h1m2 0h1m-32 1h1m0 0h1m2 0h1m1 0h1m1 0h1m0 0h1m1 0h1m1 0h1m0 0h1m0 0h1m2 0h1m2 0h1m0 0h1m0 0h1m0 0h1m0 0h1m0 0h1m0 0h1m1 0h1m1 0h1m4 0h1m-41 1h1m0 0h1m0 0h1m2 0h1m2 0h1m1 0h1m3 0h1m1 0h1m1 0h1m3 0h1m0 0h1m1 0h1m0 0h1m1 0h1m1 0h1m1 0h1m1 0h1m0 0h1m1 0h1m-42 1h1m2 0h1m1 0h1m2 0h1m3 0h1m0 0h1m2 0h1m1 0h1m0 0h1m0 0h1m0 0h1m1 0h1m1 0h1m0 0h1m0 0h1m1 0h1m2 0h1m0 0h1m0 0h1m1 0h1m0 0h1m5 0h1m-37 1h1m0 0h1m0 0h1m0 0h1m1 0h1m0 0h1m5 0h1m1 0h1m1 0h1m2 0h1m1 0h1m0 0h1m1 0h1m1 0h1m0 0h1m11 0h1m-42 1h1m8 0h1m0 0h1m0 0h1m0 0h1m1 0h1m0 0h1m3 0h1m1 0h1m3 0h1m1 0h1m0 0h1m0 0h1m4 0h1m0 0h1m-36 1h1m3 0h1m6 0h1m1 0h1m1 0h1m3 0h1m0 0h1m1 0h1m1 0h1m1 0h1m2 0h1m2 0h1m0 0h1m1 0h1m-38 1h1m5 0h1m0 0h1m0 0h1m4 0h1m3 0h1m3 0h1m4 0h1m0 0h1m3 0h1m0 0h1m2 0h1m0 0h1m3 0h1m2 0h1m-44 1h1m1 0h1m2 0h1m1 0h1m3 0h1m0 0h1m5 0h1m0 0h1m2 0h1m2 0h1m0 0h1m1 0h1m0 0h1m0 0h1m7 0h1m-32 1h1m2 0h1m6 0h1m2 0h1m2 0h1m4 0h1m8 0h1m-41 1h1m7 0h1m9 0h1m1 0h1m0 0h1m2 0h1m3 0h1m0 0h1m3 0h1m2 0h1m-26 1h1m3 0h1m0 0h1m1 0h1m2 0h1m0 0h1m1 0h1m6 0h1m1 0h1m7 0h1m-26 1h1m3 0h1m0 0h1m2 0h1m5 0h1m1 0h1m3 0h1m-12 1h1m-16 1h1m2 0h1m5 0h1m10 0h1m0 0h1m-14 1h1" stroke="#003000" stroke-width="1" fill="none"/><path d="M251 880h1m-1 1h1m-4 2h1m1 0h1m6 0h1m-11 1h1m0 0h1m0 0h1m4 0h1m4 0h1m-16 1h1m0 0h1m4 0h1m2 0h1m3 0h1m0 0h1m-10 1h1m0 0h1m0 0h1m0 0h1m0 0h1m1 0h1m1 0h1m0 0h1m1 0h1m1 0h1m3 0h1m-28 1h1m1 0h1m1 0h1m2 0h1m0 0h1m3 0h1m5 0h1m2 0h1m0 0h1m2 0h1m-24 1h1m1 0h1m0 0h1m0 0h1m2 0h1m0 0h1m1 0h1m0 0h1m1 0h1m0 0h1m0 0h1m0 0h1m0 0h1m4 0h1m1 0h1m0 0h1m-26 1h1m0 0h1m3 0h1m1 0h1m0 0h1m2 0h1m1 0h1m0 0h1m1 0h1m0 0h1m1 0h1m1 0h1m1 0h1m2 0h1m0 0h1m-28 1h1m0 0h1m1 0h1m1 0h1m1 0h1m0 0h1m0 0h1m4 0h1m2 0h1m2 0h1m1 0h1m0 0h1m1 0h1m0 0h1m-33 1h1m6 0h1m1 0h1m0 0h1m2 0h1m2 0h1m3 0h1m1 0h1m0 0h1m1 0h1m1 0h1m4 0h1m0 0h1m1 0h1m0 0h1m-32 1h1m3 0h1m0 0h1m2 0h1m0 0h1m3 0h1m0 0h1m0 0h1m0 0h1m1 0h1m0 0h1m1 0h1m0 0h1m9 0h1m-37 1h1m2 0h1m6 0h1m0 0h1m0 0h1m0 0h1m0 0h1m1 0h1m2 0h1m1 0h1m2 0h1m1 0h1m0 0h1m1 0h1m0 0h1m0 0h1m-33 1h1m2 0h1m3 0h1m0 0h1m3 0h1m10 0h1m0 0h1m2 0h1m1 0h1m0 0h1m0 0h1m-31 1h1m1 0h1m3 0h1m0 0h1m1 0h1m1 0h1m1 0h1m0 0h1m1 0h1m1 0h1m0 0h1m0 0h1m1 0h1m1 0h1m1 0h1m1 0h1m0 0h1m0 0h1m0 0h1m-34 1h1m4 0h1m2 0h1m3 0h1m0 0h1m0 0h1m0 0h1m0 0h1m0 0h1m0 0h1m1 0h1m0 0h1m1 0h1m1 0h1m0 0h1m6 0h1m0 0h1m-33 1h1m0 0h1m1 0h1m0 0h1m1 0h1m2 0h1m2 0h1m0 0h1m2 0h1m1 0h1m0 0h1m0 0h1m0 0h1m1 0h1m0 0h1m0 0h1m1 0h1m0 0h1m0 0h1m0 0h1m1 0h1m1 0h1m1 0h1m-37 1h1m1 0h1m3 0h1m5 0h1m1 0h1m2 0h1m1 0h1m0 0h1m0 0h1m0 0h1m4 0h1m0 0h1m4 0h1m1 0h1m1 0h1m-36 1h1m3 0h1m2 0h1m2 0h1m0 0h1m0 0h1m1 0h1m2 0h1m0 0h1m0 0h1m1 0h1m1 0h1m0 0h1m3 0h1m0 0h1m4 0h1m-35 1h1m0 0h1m1 0h1m0 0h1m1 0h1m4 0h1m0 0h1m0 0h1m0 0h1m1 0h1m0 0h1m0 0h1m0 0h1m1 0h1m2 0h1m0 0h1m0 0h1m2 0h1m-29 1h1m2 0h1m1 0h1m0 0h1m0 0h1m2 0h1m1 0h1m0 0h1m0 0h1m2 0h1m2 0h1m0 0h1m0 0h1m1 0h1m1 0h1m0 0h1m2 0h1m-33 1h1m0 0h1m1 0h1m0 0h1m0 0h1m1 0h1m0 0h1m0 0h1m0 0h1m2 0h1m1 0h1m3 0h1m1 0h1m2 0h1m0 0h1m1 0h1m2 0h1m0 0h1m-35 1h1m2 0h1m0 0h1m0 0h1m5 0h1m7 0h1m0 0h1m0 0h1m0 0h1m2 0h1m2 0h1m0 0h1m1 0h1m0 0h1m2 0h1m-34 1h1m5 0h1m2 0h1m0 0h1m0 0h1m0 0h1m1 0h1m0 0h1m1 0h1m9 0h1m1 0h1m2 0h1m0 0h1m-32 1h1m2 0h1m1 0h1m0 0h1m1 0h1m0 0h1m0 0h1m0 0h1m0 0h1m0 0h1m0 0h1m0 0h1m0 0h1m0 0h1m0 0h1m0 0h1m2 0h1m2 0h1m3 0h1m0 0h1m1 0h1m0 0h1m-31 1h1m1 0h1m5 0h1m1 0h1m0 0h1m1 0h1m1 0h1m2 0h1m0 0h1m0 0h1m0 0h1m0 0h1m8 0h1m-36 1h1m5 0h1m0 0h1m0 0h1m0 0h1m5 0h1m0 0h1m0 0h1m0 0h1m0 0h1m2 0h1m3 0h1m0 0h1m1 0h1m1 0h1m2 0h1m-34 1h1m1 0h1m1 0h1m0 0h1m0 0h1m1 0h1m0 0h1m1 0h1m0 0h1m0 0h1m0 0h1m0 0h1m0 0h1m1 0h1m0 0h1m0 0h1m1 0h1m2 0h1m0 0h1m0 0h1m3 0h1m-33 1h1m2 0h1m2 0h1m1 0h1m2 0h1m0 0h1m0 0h1m0 0h1m0 0h1m2 0h1m1 0h1m1 0h1m2 0h1m4 0h1m-29 1h1m1 0h1m0 0h1m0 0h1m1 0h1m1 0h1m0 0h1m0 0h1m0 0h1m0 0h1m0 0h1m1 0h1m2 0h1m0 0h1m0 0h1m1 0h1m1 0h1m5 0h1m-32 1h1m6 0h1m2 0h1m3 0h1m1 0h1m3 0h1m0 0h1m0 0h1m0 0h1m3 0h1m0 0h1m0 0h1m-22 1h1m0 0h1m2 0h1m1 0h1m3 0h1m1 0h1m0 0h1m0 0h1m0 0h1m2 0h1m-23 1h1m1 0h1m1 0h1m0 0h1m0 0h1m0 0h1m0 0h1m0 0h1m5 0h1m0 0h1m1 0h1m-17 1h1m5 0h1m3 0h1m0 0h1m2 0h1m-10 1h1m2 0h1m1 1h1m1 0h1m4 0h1" stroke="#004c00" stroke-width="1" fill="none"/><path d="M254 887h1m2 0h1m-12 1h1m4 0h1m0 0h1m-7 1h1m2 0h1m1 0h1m1 0h1m2 0h1m0 0h1m0 0h1m1 0h1m0 0h1m-15 1h1m2 0h1m1 0h1m1 0h1m0 0h1m0 0h1m0 0h1m0 0h1m0 0h1m-14 1h1m10 0h1m0 0h1m2 0h1m-19 1h1m3 0h1m0 0h1m0 0h1m1 0h1m1 0h1m0 0h1m1 0h1m1 0h1m3 0h1m-18 1h1m1 0h1m3 0h1m3 0h1m1 0h1m0 0h1m0 0h1m0 0h1m1 0h1m-21 1h1m0 0h1m4 0h1m0 0h1m0 0h1m3 0h1m2 0h1m0 0h1m1 0h1m2 0h1m1 0h1m-26 1h1m2 0h1m0 0h1m2 0h1m0 0h1m1 0h1m1 0h1m1 0h1m0 0h1m3 0h1m3 0h1m-23 1h1m1 0h1m0 0h1m3 0h1m5 0h1m0 0h1m1 0h1m1 0h1m2 0h1m1 0h1m1 0h1m-25 1h1m1 0h1m1 0h1m1 0h1m4 0h1m0 0h1m0 0h1m0 0h1m0 0h1m0 0h1m0 0h1m1 0h1m0 0h1m0 0h1m-24 1h1m1 0h1m0 0h1m0 0h1m4 0h1m0 0h1m0 0h1m0 0h1m2 0h1m1 0h1m2 0h1m2 0h1m-21 1h1m1 0h1m0 0h1m0 0h1m0 0h1m1 0h1m0 0h1m0 0h1m3 0h1m3 0h1m0 0h1m0 0h1m0 0h1m-19 1h1m3 0h1m0 0h1m4 0h1m1 0h1m0 0h1m0 0h1m1 0h1m0 0h1m1 0h1m-24 1h1m1 0h1m1 0h1m0 0h1m1 0h1m0 0h1m0 0h1m1 0h1m0 0h1m1 0h1m2 0h1m0 0h1m0 0h1m0 0h1m2 0h1m2 0h1m-28 1h1m1 0h1m1 0h1m1 0h1m0 0h1m2 0h1m0 0h1m0 0h1m2 0h1m0 0h1m0 0h1m2 0h1m2 0h1m0 0h1m0 0h1m-23 1h1m0 0h1m1 0h1m0 0h1m0 0h1m0 0h1m0 0h1m0 0h1m2 0h1m0 0h1m3 0h1m1 0h1m2 0h1m0 0h1m-23 1h1m0 0h1m0 0h1m0 0h1m0 0h1m0 0h1m0 0h1m0 0h1m1 0h1m2 0h1m0 0h1m3 0h1m3 0h1m-17 1h1m1 0h1m2 0h1m0 0h1m4 0h1m2 0h1m-20 1h1m4 0h1m2 0h1m0 0h1m1 0h1m1 0h1m0 0h1m0 0h1m0 0h1m0 0h1m0 0h1m-15 1h1m0 0h1m0 0h1m9 0h1m0 0h1m-14 1h1m1 0h1m1 0h1m0 0h1m1 0h1m1 0h1m3 0h1m0 0h1m2 0h1m-19 1h1m4 0h1m5 0h1m0 0h1m0 0h1m-4 1h1m1 1h1" stroke="#007000" stroke-width="1" fill="none"/><path d="M248 893h1m4 0h1m6 0h1m-7 1h1m1 0h1m1 0h1m-7 1h1m0 0h1m0 0h1m-5 1h1m0 0h1m1 0h1m1 0h1m0 0h1m1 0h1m1 0h1m-11 1h1m1 0h1m2 0h1m2 0h1m0 0h1m0 0h1m0 0h1m-15 1h1m0 0h1m1 0h1m0 0h1m0 0h1m1 0h1m1 0h1m3 0h1m0 0h1m-17 1h1m4 0h1m0 0h1m0 0h1m0 0h1m2 0h1m2 0h1m-9 1h1m0 0h1m2 0h1m0 0h1m0 0h1m0 0h1m-11 1h1m1 0h1m1 0h1m0 0h1m3 0h1m-8 1h1m0 0h1m0 0h1m1 0h1m0 0h1m1 0h1m1 0h1m-9 1h1m0 0h1m2 0h1m2 0h1m-12 1h1m10 0h1m-7 1h1m0 0h1m1 0h1m0 0h1m1 0h1" stroke="#009c00" stroke-width="1" fill="none"/><path d="M252 879h1m4 0h1m1 0h1m-14 1h1m8 0h1m4 0h1m1 0h1m-18 1h1m0 0h1m10 0h1m0 0h1m2 0h1m-13 1h1m5 0h1m2 0h1m1 0h1m-16 1h1m0 0h1m0 0h1m0 0h1m13 0h1m0 0h1m-20 1h1m1 0h1m7 0h1m4 0h1m2 0h1m-14 1h1m6 0h1m1 1h1m0 0h1m-13 1h1m9 0h1m-10 1h1m12 0h1m-16 1h1m0 0h1m1 0h1m9 0h1m-16 1h1m1 0h1m1 0h1m0 0h1m8 0h1m3 0h1m1 0h1m-17 1h1m1 0h1m10 0h1m-15 1h1m13 0h1m-17 1h1m1 0h1m0 0h1m2 0h1m0 0h1m6 0h1m2 0h1m-18 1h1m0 0h1m0 0h1m4 0h1m2 0h1m2 0h1m4 0h1m-29 1h1m1 0h1m0 0h1m2 0h1m6 0h1m0 0h1m1 0h1m2 0h1m-21 1h1m1 0h1m14 0h1m0 0h1m0 0h1m0 0h1m1 0h1m-21 1h1m15 0h1m1 0h1m0 0h1m4 0h1m2 0h1m1 0h1m5 0h1m-34 1h1m15 0h1m2 0h1m1 0h1m4 0h1m0 0h1m0 0h1m0 0h1m1 0h1m1 0h1m2 0h1m-42 1h1m0 0h1m1 0h1m26 0h1m0 0h1m1 0h1m0 0h1m0 0h1m0 0h1m3 0h1m-40 1h1m1 0h1m1 0h1m17 0h1m6 0h1m0 0h1m1 0h1m0 0h1m4 0h1m1 0h1m-42 1h1m2 0h1m4 0h1m21 0h1m2 0h1m2 0h1m2 0h1m2 0h1m-37 1h1m4 0h1m23 0h1m0 0h1m3 0h1m0 0h1m2 0h1m-38 1h1m30 0h1m1 0h1m-35 1h1m1 0h1m0 0h1m1 0h1m18 0h1m-5 1h1m-21 1h1m1 0h1m13 0h1m0 0h1m1 0h1m4 0h1m8 0h1m-32 1h1m17 0h1m0 0h1m2 0h1m-23 1h1m6 0h1m0 0h1m7 0h1m0 0h1m-16 1h1m1 0h1m0 0h1m15 0h1m0 0h1m-20 1h1m2 0h1m10 0h1m0 0h1m-16 1h1m0 0h1m2 0h1m-5 1h1m0 0h1m1 0h1m-4 1h1m0 0h1m-2 1h1m0 2h1" stroke="#007000" stroke-width="1" fill="none"/><path d="M247 878h1m-4 2h1m0 0h1m6 0h1m8 0h1m0 0h1m-20 1h1m0 0h1m0 0h1m0 0h1m3 0h1m6 0h1m1 0h1m-15 1h1m1 0h1m8 0h1m1 0h1m2 0h1m1 0h1m-21 1h1m2 0h1m1 0h1m0 0h1m6 0h1m0 0h1m2 0h1m0 0h1m-7 1h1m1 0h1m0 0h1m0 0h1m0 0h1m-14 1h1m1 0h1m3 0h1m2 0h1m0 0h1m4 0h1m-18 1h1m0 0h1m1 0h1m7 0h1m2 0h1m1 0h1m0 0h1m-18 1h1m13 0h1m1 0h1m-18 1h1m1 0h1m0 0h1m9 0h1m3 0h1m1 0h1m-19 1h1m0 0h1m1 0h1m0 0h1m0 0h1m9 0h1m0 0h1m0 0h1m-18 1h1m0 0h1m0 0h1m8 0h1m2 0h1m3 0h1m-21 1h1m1 0h1m1 0h1m1 0h1m3 0h1m6 0h1m0 0h1m0 0h1m0 0h1m0 0h1m1 0h1m-23 1h1m0 0h1m0 0h1m4 0h1m0 0h1m0 0h1m6 0h1m0 0h1m0 0h1m0 0h1m1 0h1m-35 1h1m13 0h1m1 0h1m4 0h1m1 0h1m6 0h1m2 0h1m2 0h1m-34 1h1m2 0h1m8 0h1m2 0h1m2 0h1m1 0h1m7 0h1m3 0h1m-34 1h1m0 0h1m12 0h1m2 0h1m0 0h1m0 0h1m9 0h1m1 0h1m1 0h1m0 0h1m8 0h1m-42 1h1m15 0h1m2 0h1m1 0h1m5 0h1m0 0h1m0 0h1m2 0h1m0 0h1m-34 1h1m1 0h1m11 0h1m1 0h1m0 0h1m4 0h1m3 0h1m0 0h1m0 0h1m0 0h1m-33 1h1m1 0h1m0 0h1m1 0h1m0 0h1m12 0h1m10 0h1m1 0h1m0 0h1m0 0h1m4 0h1m0 0h1m-40 1h1m2 0h1m1 0h1m0 0h1m15 0h1m8 0h1m0 0h1m2 0h1m2 0h1m0 0h1m1 0h1m1 0h1m-44 1h1m4 0h1m24 0h1m0 0h1m0 0h1m0 0h1m0 0h1m0 0h1m1 0h1m1 0h1m1 0h1m0 0h1m-37 1h1m0 0h1m2 0h1m19 0h1m1 0h1m1 0h1m1 0h1m0 0h1m0 0h1m1 0h1m0 0h1m0 0h1m-44 1h1m4 0h1m4 0h1m12 0h1m8 0h1m2 0h1m0 0h1m0 0h1m0 0h1m0 0h1m0 0h1m0 0h1m0 0h1m-37 1h1m0 0h1m0 0h1m0 0h1m3 0h1m11 0h1m6 0h1m1 0h1m4 0h1m0 0h1m-35 1h1m1 0h1m16 0h1m0 0h1m12 0h1m1 0h1m-36 1h1m0 0h1m0 0h1m0 0h1m16 0h1m1 0h1m-23 1h1m1 0h1m14 0h1m5 0h1m-19 1h1m14 0h1m0 0h1m0 0h1m0 0h1m0 0h1m-25 1h1m5 0h1m0 0h1m10 0h1m0 0h1m2 0h1m0 0h1m0 0h1m-18 1h1m12 0h1m-16 1h1m0 0h1m0 0h1m0 0h1m0 0h1m7 0h1m2 0h1m0 0h1m0 0h1m-17 1h1m9 0h1m6 0h1m-21 1h1m1 0h1m0 0h1m3 0h1m10 0h1m-18 1h1m1 0h1m-2 1h1m-1 1h1" stroke="#009c00" stroke-width="1" fill="none"/><path d="M247 879h1m7 0h1m-9 1h1m1 0h1m10 0h1m-16 1h1m0 0h1m0 0h1m0 0h1m5 0h1m2 0h1m0 0h1m1 0h1m2 0h1m-20 1h1m2 0h1m1 0h1m6 0h1m2 0h1m0 0h1m1 0h1m1 0h1m-20 1h1m0 0h1m0 0h1m2 0h1m5 0h1m1 0h1m0 0h1m-16 1h1m0 0h1m1 0h1m0 0h1m0 0h1m7 0h1m0 0h1m-12 1h1m3 0h1m2 0h1m1 0h1m1 0h1m1 0h1m-16 1h1m0 0h1m0 0h1m8 0h1m3 0h1m0 0h1m-7 1h1m1 0h1m5 0h1m-17 1h1m0 0h1m0 0h1m0 0h1m6 0h1m3 0h1m-15 1h1m1 0h1m0 0h1m13 0h1m-20 1h1m0 0h1m1 0h1m12 0h1m0 0h1m0 0h1m1 0h1m-24 1h1m0 0h1m0 0h1m3 0h1m0 0h1m1 0h1m7 0h1m1 0h1m0 0h1m0 0h1m1 0h1m-20 1h1m0 0h1m0 0h1m1 0h1m2 0h1m1 0h1m5 0h1m0 0h1m-25 1h1m4 0h1m2 0h1m9 0h1m2 0h1m1 0h1m2 0h1m1 0h1m-36 1h1m3 0h1m12 0h1m0 0h1m0 0h1m1 0h1m1 0h1m-14 1h1m5 0h1m5 0h1m1 0h1m5 0h1m-28 1h1m1 0h1m16 0h1m12 0h1m1 0h1m-37 1h1m0 0h1m1 0h1m2 0h1m0 0h1m6 0h1m3 0h1m4 0h1m15 0h1m2 0h1m-41 1h1m0 0h1m2 0h1m9 0h1m2 0h1m4 0h1m5 0h1m1 0h1m0 0h1m0 0h1m0 0h1m0 0h1m1 0h1m1 0h1m-41 1h1m1 0h1m0 0h1m1 0h1m16 0h1m3 0h1m5 0h1m0 0h1m0 0h1m0 0h1m1 0h1m2 0h1m-40 1h1m1 0h1m1 0h1m0 0h1m17 0h1m2 0h1m4 0h1m2 0h1m2 0h1m0 0h1m0 0h1m0 0h1m1 0h1m-41 1h1m0 0h1m4 0h1m21 0h1m1 0h1m5 0h1m2 0h1m0 0h1m-39 1h1m0 0h1m0 0h1m19 0h1m4 0h1m4 0h1m0 0h1m0 0h1m0 0h1m1 0h1m0 0h1m-39 1h1m0 0h1m1 0h1m1 0h1m17 0h1m9 0h1m2 0h1m-36 1h1m19 0h1m6 0h1m0 0h1m0 0h1m7 0h1m-35 1h1m14 0h1m1 0h1m2 0h1m1 0h1m-27 1h1m1 0h1m18 0h1m0 0h1m0 0h1m2 0h1m-23 1h1m2 0h1m11 0h1m1 0h1m0 0h1m0 0h1m1 0h1m1 0h1m-23 1h1m1 0h1m0 0h1m8 0h1m4 0h1m1 0h1m0 0h1m-23 1h1m0 0h1m2 0h1m2 0h1m10 0h1m0 0h1m2 0h1m0 0h1m-19 1h1m0 0h1m11 0h1m1 0h1m-15 1h1m-5 1h1m1 0h1m0 0h1m0 0h1m4 0h1m6 0h1m0 0h1m-15 1h1m1 0h1m-6 1h1m1 0h1m-3 1h1m-1 2h1m0 0h1m0 0h1" stroke="#14d014" stroke-width="1" fill="none"/><path d="M203 846h1m-17 3h1m101 1h1m-56 5h1m16 2h1m-19 2h1m-7 1h1m4 1h1m34 2h1m-37 1h1m30 0h1m-60 2h1m76 0h1m18 4h1m-48 2h1m-65 4h1m19 0h1m-10 1h1m14 1h1m-1 1h1m14 2h1m-12 1h1m33 0h1m42 0h1m-74 1h1m78 1h1m-60 2h1m-38 2h1m53 0h1m20 1h1m-17 3h1m-55 1h1m15 0h1m-40 1h1m20 1h1m-21 1h1m47 1h1m-6 1h1m44 4h1m-18 1h1m-65 1h1m34 0h1m14 0h1m14 0h1m-53 1h1m9 0h1m52 0h1m30 0h1m-92 1h1m45 0h1m-62 2h1m25 0h1m31 0h1m-29 1h1m2 0h1m6 0h1m61 0h1m-22 1h1m3 2h1m-4 1h1m4 0h1m-2 2h1m-59 3h1m57 0h1m-61 2h1m2 0h1m-6 2h1m17 1h1m-19 1h1m75 0h1m-99 1h1m37 1h1m29 0h1m-82 2h1m8 1h1m78 0h1m-9 1h1m0 1h1m-80 3h1m63 1h1m49 0h1m-93 1h1m61 0h1m15 1h1m-20 1h1m-9 8h1m26 2h1m7 0h1" stroke="#001c00" stroke-width="1" fill="none"/><path d="M295 847h1m-6 1h1m-23 4h1m-50 3h1m84 0h1m-80 3h1m7 0h1m-17 1h1m59 0h1m-11 1h1m0 2h1m-54 2h1m45 1h1m37 3h1m-114 1h1m64 3h1m4 0h1m-63 1h1m19 1h1m86 3h1m-69 1h1m54 1h1m-76 2h1m46 0h1m-54 2h1m41 0h1m1 0h1m15 1h1m12 1h1m-35 1h1m17 2h1m-27 1h1m59 0h1m-26 3h1m-61 4h1m-18 1h1m31 0h1m24 0h1m2 2h1m3 0h1m-76 1h1m103 0h1m-56 2h1m63 2h1m-88 1h1m10 7h1m-13 1h1m19 0h1m13 0h1m-1 3h1m0 0h1m-31 1h1m26 0h1m46 3h1m-27 2h1m3 0h1m-26 2h1m-42 2h1m76 0h1m14 5h1m-46 1h1m-14 2h1m13 0h1m-35 1h1m40 8h1m44 5h1m-77 3h1m-22 10h1m85 3h1m-73 4h1" stroke="#003000" stroke-width="1" fill="none"/></g>
<g transform="translate(0 0.5)"><path d="M371.55 698.33 L375.64 698.21 L379.44 698.34 L382.94 698.72 L386.16 699.35 L389.08 700.23 L391.53 701.32 L393.52 702.64 L395.04 704.17 L396.09 705.92 L396.76 707.89 L397.05 710.08 L396.96 712.49 L396.5 715.12 L395.78 717.82 L394.82 720.6 L393.6 723.45 L392.14 726.37 L390.68 729.29 L389.22 732.21 L387.76 735.13 L386.3 738.05 L385.06 741.12 L384.04 744.33 L383.24 747.69 L382.65 751.19 L382.29 754.7 L382.14 758.2 L382.21 761.71 L382.51 765.21 L383.16 768.57 L384.19 771.78 L385.57 774.85 L387.32 777.77 L388.93 780.69 L390.39 783.61 L391.71 786.53 L392.87 789.45 L393.68 792.37 L394.12 795.29 L394.19 798.21 L393.9 801.13 L393.09 803.62 L391.78 805.66 L389.95 807.27 L387.62 808.43 L384.84 809.38 L381.63 810.11 L377.98 810.62 L373.89 810.92 L369.95 810.77 L366.15 810.19 L362.5 809.16 L359 807.7 L355.64 805.88 L352.42 803.69 L349.36 801.13 L346.44 798.21 L343.66 795.15 L341.03 791.93 L338.55 788.57 L336.21 785.07 L334.1 781.42 L332.2 777.62 L330.52 773.68 L329.06 769.59 L327.72 765.5 L326.49 761.41 L325.38 757.32 L324.39 753.24 L323.67 749.29 L323.23 745.5 L323.07 741.85 L323.19 738.34 L323.64 734.69 L324.43 730.89 L325.55 726.95 L327.02 722.86 L328.77 719.07 L330.81 715.56 L333.15 712.35 L335.78 709.43 L338.48 706.92 L341.25 704.81 L344.1 703.12 L347.02 701.83 L350.09 700.78 L353.3 699.96 L356.66 699.38 L360.16 699.03 L363.81 698.74 L367.61 698.5Z" fill="#020230" opacity="0.9" filter="url(#bl2)"/><path d="M381 702h1m3 3h1m-1 1h1m2 0h1m-1 1h1m0 0h1m-44 1h1m38 0h1m-41 1h1m38 0h1m4 0h1m1 0h1m-48 1h1m5 0h1m2 0h1m26 0h1m2 0h1m-9 1h1m10 0h1m0 0h1m0 0h1m2 0h1m-9 1h1m1 0h1m-48 1h1m9 0h1m32 0h1m-32 1h1m3 0h1m1 0h1m26 0h1m2 0h1m0 0h1m1 0h1m-47 1h1m0 0h1m0 0h1m10 0h1m21 0h1m4 0h1m-41 1h1m4 0h1m17 0h1m10 0h1m8 0h1m5 0h1m-53 1h1m9 0h1m6 0h1m-11 1h1m0 0h1m0 0h1m33 0h1m-42 1h1m0 0h1m12 0h1m17 0h1m5 0h1m10 0h1m-35 1h1m7 0h1m19 0h1m-51 1h1m1 0h1m7 0h1m3 0h1m4 0h1m5 0h1m8 0h1m-26 1h1m3 0h1m0 0h1m29 0h1m1 0h1m-32 1h1m0 0h1m25 0h1m0 0h1m0 0h1m-24 1h1m3 0h1m1 0h1m3 0h1m1 0h1m1 0h1m-10 1h1m5 0h1m10 0h1m-43 1h1m15 0h1m1 0h1m2 0h1m3 0h1m4 0h1m4 0h1m-22 1h1m3 0h1m3 1h1m2 0h1m1 0h1m1 0h1m2 0h1m4 0h1m-20 1h1m3 0h1m0 0h1m1 0h1m0 0h1m0 0h1m0 0h1m1 0h1m0 0h1m4 0h1m5 0h1m-46 1h1m19 0h1m2 0h1m0 0h1m0 0h1m2 0h1m1 0h1m0 0h1m0 0h1m6 0h1m0 0h1m-33 1h1m12 0h1m2 0h1m0 0h1m3 0h1m2 0h1m0 0h1m4 0h1m1 0h1m2 0h1m-26 1h1m15 0h1m0 0h1m1 0h1m0 0h1m3 0h1m-23 1h1m0 0h1m1 0h1m1 0h1m2 0h1m2 0h1m0 0h1m-16 1h1m0 0h1m4 0h1m1 0h1m0 0h1m3 0h1m5 0h1m-19 1h1m1 0h1m2 0h1m0 0h1m3 0h1m4 0h1m1 0h1m3 0h1m-41 1h1m27 0h1m1 0h1m0 0h1m2 0h1m0 0h1m1 0h1m0 0h1m0 0h1m2 0h1m1 0h1m-27 1h1m0 0h1m5 0h1m11 0h1m6 0h1m-30 1h1m5 0h1m2 0h1m1 0h1m1 0h1m0 0h1m3 0h1m0 0h1m3 0h1m2 0h1m2 0h1m-40 1h1m2 0h1m14 0h1m5 0h1m3 0h1m1 0h1m0 0h1m1 0h1m0 0h1m1 0h1m1 0h1m1 0h1m-38 1h1m10 0h1m0 0h1m3 0h1m3 0h1m1 0h1m2 0h1m1 0h1m5 0h1m-39 1h1m13 0h1m0 0h1m6 0h1m3 0h1m0 0h1m1 0h1m2 0h1m1 0h1m3 0h1m3 0h1m-30 1h1m5 0h1m0 0h1m1 0h1m6 0h1m5 0h1m1 0h1m0 0h1m0 0h1m-24 1h1m6 0h1m5 0h1m1 0h1m1 0h1m5 0h1m-35 1h1m5 0h1m6 0h1m6 0h1m1 0h1m1 0h1m0 0h1m0 0h1m0 0h1m-30 1h1m1 0h1m1 0h1m4 0h1m5 0h1m2 0h1m0 0h1m1 0h1m0 0h1m0 0h1m5 0h1m1 0h1m0 0h1m1 0h1m-38 1h1m7 0h1m0 0h1m1 0h1m0 0h1m2 0h1m2 0h1m7 0h1m0 0h1m4 0h1m0 0h1m0 0h1m2 0h1m1 0h1m0 0h1m-44 1h1m0 0h1m6 0h1m1 0h1m0 0h1m9 0h1m21 0h1m-40 1h1m3 0h1m0 0h1m7 0h1m0 0h1m3 0h1m8 0h1m3 0h1m3 0h1m-40 1h1m3 0h1m1 0h1m3 0h1m0 0h1m1 0h1m4 0h1m0 0h1m2 0h1m0 0h1m3 0h1m2 0h1m3 0h1m1 0h1m0 0h1m2 0h1m-33 1h1m3 0h1m11 0h1m8 0h1m0 0h1m4 0h1m0 0h1m-37 1h1m1 0h1m2 0h1m2 0h1m6 0h1m3 0h1m11 0h1m1 0h1m-35 1h1m1 0h1m1 0h1m7 0h1m0 0h1m21 0h1m2 0h1m1 0h1m-40 1h1m3 0h1m0 0h1m1 0h1m0 0h1m1 0h1m0 0h1m1 0h1m7 0h1m9 0h1m0 0h1m1 0h1m-35 1h1m0 0h1m0 0h1m0 0h1m1 0h1m0 0h1m0 0h1m0 0h1m4 0h1m0 0h1m0 0h1m6 0h1m4 0h1m2 0h1m-26 1h1m0 0h1m0 0h1m3 0h1m6 0h1m2 0h1m2 0h1m-25 1h1m2 0h1m0 0h1m0 0h1m0 0h1m4 0h1m2 0h1m1 0h1m0 0h1m0 0h1m10 0h1m-30 1h1m1 0h1m1 0h1m2 0h1m0 0h1m2 0h1m0 0h1m0 0h1m1 0h1m0 0h1m6 0h1m13 0h1m-41 1h1m0 0h1m2 0h1m0 0h1m1 0h1m0 0h1m4 0h1m1 0h1m4 0h1m11 0h1m-31 1h1m1 0h1m2 0h1m0 0h1m0 0h1m3 0h1m1 0h1m3 0h1m0 0h1m0 0h1m0 0h1m-18 1h1m1 0h1m0 0h1m2 0h1m0 0h1m3 0h1m5 0h1m2 0h1m2 0h1m7 0h1m-37 1h1m8 0h1m2 0h1m1 0h1m0 0h1m0 0h1m1 0h1m3 0h1m15 0h1m-32 1h1m0 0h1m2 0h1m0 0h1m4 0h1m11 0h1m1 0h1m-30 1h1m1 0h1m1 0h1m0 0h1m2 0h1m0 0h1m6 0h1m1 0h1m-18 1h1m1 0h1m1 0h1m1 0h1m8 0h1m1 0h1m8 0h1m7 0h1m-34 1h1m4 0h1m0 0h1m16 0h1m7 0h1m4 0h1m-38 1h1m0 0h1m4 0h1m3 0h1m13 0h1m1 0h1m2 0h1m7 0h1m-38 1h1m8 0h1m2 0h1m2 0h1m4 0h1m14 0h1m0 0h1m-31 1h1m3 0h1m4 0h1m12 0h1m-14 1h1m7 0h1m2 0h1m-12 1h1m15 0h1m1 0h1m4 0h1m-31 1h1m10 0h1m3 0h1m7 0h1m0 0h1m7 0h1m-34 1h1m27 0h1m0 0h1m1 0h1m2 0h1m-18 1h1m0 0h1m0 0h1m2 0h1m3 0h1m3 0h1m2 0h1m-17 1h1m1 0h1m0 0h1m0 0h1m0 0h1m1 0h1m9 0h1m-24 1h1m3 0h1m10 0h1m0 0h1m-20 1h1m8 0h1m0 0h1m0 0h1m0 0h1m0 0h1m8 0h1m0 0h1m2 0h1m-16 1h1m1 0h1m2 0h1m-14 1h1m14 0h1m0 0h1m1 0h1m-11 1h1m0 0h1m0 0h1m2 0h1m1 0h1m1 0h1m1 0h1m0 0h1m3 0h1m-25 1h1m6 0h1m7 0h1m1 0h1m7 0h1m-21 1h1m4 0h1m0 0h1m6 0h1m4 0h1m-21 1h1m0 0h1m0 0h1m5 0h1m4 0h1m1 0h1m-19 1h1m3 0h1m2 0h1m1 0h1m2 0h1m1 0h1m0 0h1m5 0h1m2 0h1m-18 1h1m6 0h1m2 0h1m2 0h1m-14 1h1m3 0h1m6 0h1m-17 1h1m1 0h1m12 0h1m0 0h1m-20 1h1m1 0h1m8 0h1m9 0h1m0 0h1m3 0h1m-19 1h1m3 0h1m1 0h1m3 0h1m7 1h1m1 0h1m3 0h1m-21 1h1m-2 1h1m4 0h1m2 0h1m-17 1h1m7 0h1m17 0h1m3 1h1m-12 2h1m11 0h1m-10 1h1m4 0h1m-1 1h1m3 0h1m2 0h1m-9 1h1m5 0h1m-7 1h1m1 1h1m3 2h1m-13 1h1m4 0h1" stroke="#000026" stroke-width="1" fill="none"/><path d="M378 702h1m-29 2h1m29 0h1m1 0h1m-4 1h1m1 0h1m-37 1h1m4 0h1m7 0h1m20 0h1m-34 1h1m28 0h1m6 0h1m-35 1h1m24 0h1m6 0h1m7 0h1m1 0h1m0 0h1m1 0h1m-35 1h1m19 0h1m0 0h1m-40 1h1m9 0h1m26 0h1m-41 1h1m1 0h1m4 0h1m0 0h1m11 0h1m24 0h1m1 0h1m-41 1h1m2 0h1m2 0h1m9 0h1m14 0h1m0 0h1m0 0h1m0 0h1m8 0h1m-36 1h1m2 0h1m21 0h1m8 0h1m2 0h1m-52 1h1m1 0h1m5 0h1m42 0h1m-53 1h1m10 0h1m1 0h1m0 0h1m2 0h1m2 0h1m12 0h1m13 0h1m-48 1h1m1 0h1m6 0h1m1 0h1m1 0h1m5 0h1m12 0h1m10 0h1m9 0h1m-57 1h1m6 0h1m1 0h1m6 0h1m1 0h1m18 0h1m0 0h1m9 0h1m1 0h1m4 0h1m-52 1h1m5 0h1m5 0h1m3 0h1m15 0h1m2 0h1m1 0h1m0 0h1m0 0h1m2 0h1m9 0h1m1 0h1m-50 1h1m10 0h1m3 0h1m15 0h1m1 0h1m1 0h1m9 0h1m-49 1h1m1 0h1m10 0h1m5 0h1m12 0h1m9 0h1m5 0h1m-47 1h1m2 0h1m3 0h1m15 0h1m4 0h1m3 0h1m1 0h1m3 0h1m-41 1h1m3 0h1m0 0h1m11 0h1m8 0h1m3 0h1m4 0h1m-38 1h1m3 0h1m0 0h1m0 0h1m6 0h1m2 0h1m8 0h1m-29 1h1m20 0h1m1 0h1m1 0h1m5 0h1m11 0h1m8 0h1m-41 1h1m8 0h1m2 0h1m3 0h1m11 0h1m2 0h1m3 0h1m-39 1h1m-15 1h1m19 0h1m1 0h1m5 0h1m7 0h1m17 0h1m-38 1h1m1 0h1m5 0h1m-21 1h1m10 0h1m4 0h1m7 0h1m7 0h1m6 0h1m3 0h1m-41 1h1m15 0h1m3 0h1m7 0h1m6 0h1m-23 1h1m6 0h1m3 0h1m6 0h1m-32 1h1m0 0h1m12 0h1m3 0h1m0 0h1m13 0h1m7 0h1m3 0h1m-55 1h1m2 0h1m3 0h1m0 0h1m10 0h1m0 0h1m4 0h1m-27 1h1m2 0h1m4 0h1m1 0h1m35 0h1m-50 1h1m5 0h1m6 0h1m36 0h1m1 0h1m-52 1h1m8 0h1m14 0h1m1 0h1m0 0h1m1 0h1m4 0h1m11 0h1m3 0h1m-50 1h1m12 0h1m5 0h1m29 0h1m0 0h1m-53 1h1m3 0h1m7 0h1m0 0h1m2 0h1m3 0h1m-18 1h1m22 0h1m7 0h1m3 0h1m4 0h1m8 0h1m-51 1h1m19 0h1m10 0h1m15 0h1m-45 1h1m0 0h1m0 0h1m20 0h1m19 0h1m0 0h1m-46 1h1m6 0h1m1 0h1m1 0h1m1 0h1m0 0h1m5 0h1m0 0h1m6 0h1m1 0h1m1 0h1m13 0h1m0 0h1m-48 1h1m0 0h1m15 0h1m5 0h1m5 0h1m11 0h1m-38 1h1m7 0h1m0 0h1m7 0h1m3 0h1m-23 1h1m1 0h1m30 0h1m-36 1h1m1 0h1m4 0h1m16 0h1m20 0h1m-36 1h1m8 0h1m1 0h1m4 0h1m4 0h1m1 0h1m6 0h1m2 0h1m2 0h1m-27 1h1m14 0h1m6 0h1m-43 1h1m3 0h1m12 0h1m9 0h1m1 0h1m2 0h1m6 0h1m7 0h1m-25 1h1m2 0h1m2 0h1m2 0h1m4 0h1m7 0h1m-37 1h1m4 0h1m11 0h1m0 0h1m11 0h1m0 0h1m2 0h1m1 0h1m-44 1h1m2 0h1m24 0h1m0 0h1m4 0h1m-31 1h1m4 0h1m11 0h1m11 0h1m4 0h1m1 0h1m4 0h1m-48 1h1m3 0h1m17 0h1m13 0h1m8 0h1m2 0h1m-34 1h1m23 0h1m-15 1h1m12 0h1m3 0h1m1 0h1m-12 1h1m3 0h1m1 0h1m1 0h1m3 0h1m-45 1h1m2 0h1m13 0h1m0 0h1m9 0h1m6 0h1m-37 1h1m4 0h1m2 0h1m5 0h1m4 0h1m6 0h1m16 0h1m1 0h1m-46 1h1m0 0h1m1 0h1m27 0h1m1 0h1m1 0h1m-33 1h1m11 0h1m9 0h1m1 0h1m0 0h1m15 0h1m-42 1h1m1 0h1m21 0h1m8 0h1m3 0h1m-40 1h1m14 0h1m0 0h1m3 0h1m17 0h1m2 0h1m-37 1h1m1 0h1m4 0h1m4 0h1m5 0h1m4 0h1m5 0h1m4 0h1m-23 1h1m8 0h1m5 0h1m1 0h1m2 0h1m2 0h1m1 0h1m1 0h1m-38 1h1m13 0h1m0 0h1m2 0h1m6 0h1m1 0h1m0 0h1m3 0h1m2 0h1m0 0h1m3 0h1m-38 1h1m1 0h1m7 0h1m9 0h1m1 0h1m1 0h1m8 0h1m0 0h1m-40 1h1m9 0h1m0 0h1m10 0h1m15 0h1m-42 1h1m12 0h1m4 0h1m5 0h1m20 0h1m-28 1h1m2 0h1m1 0h1m3 0h1m4 0h1m10 0h1m-35 1h1m1 0h1m19 0h1m5 0h1m3 0h1m3 0h1m-36 1h1m3 0h1m6 0h1m13 0h1m5 0h1m-27 1h1m4 0h1m0 0h1m22 0h1m-4 1h1m-32 1h1m2 0h1m4 0h1m3 0h1m6 0h1m2 0h1m9 0h1m0 0h1m1 0h1m-32 1h1m23 0h1m3 0h1m5 0h1m-36 1h1m12 0h1m2 0h1m2 0h1m4 0h1m-14 1h1m17 0h1m-20 1h1m12 0h1m4 0h1m5 0h1m-27 1h1m3 0h1m4 0h1m0 0h1m8 0h1m6 0h1m0 0h1m-26 1h1m4 0h1m-11 1h1m0 0h1m0 0h1m21 0h1m4 0h1m-17 1h1m5 0h1m4 0h1m-20 1h1m15 0h1m8 0h1m-28 1h1m0 0h1m-5 1h1m6 0h1m4 0h1m0 0h1m6 1h1m0 0h1m10 0h1m-36 1h1m7 0h1m0 0h1m3 0h1m6 0h1m3 0h1m3 0h1m0 0h1m11 0h1m-38 1h1m11 0h1m7 0h1m-26 1h1m5 0h1m8 0h1m5 0h1m0 0h1m1 0h1m8 0h1m-31 1h1m6 0h1m6 0h1m15 0h1m2 0h1m-31 1h1m2 0h1m4 0h1m15 0h1m4 0h1m0 0h1m2 0h1m-38 1h1m1 0h1m1 0h1m13 0h1m8 0h1m2 0h1m0 0h1m3 0h1m-39 1h1m5 0h1m1 0h1m11 0h1m17 0h1m2 0h1m-28 1h1m20 0h1m0 0h1m0 0h1m-20 1h1m2 0h1m4 0h1m7 0h1m3 0h1m2 0h1m-40 1h1m27 0h1m7 0h1m0 0h1m-4 1h1m6 0h1m-14 1h1m5 1h1m1 0h1m4 0h1m-8 1h1m-7 1h1m6 1h1m2 1h1m-6 3h1" stroke="#00003c" stroke-width="1" fill="none"/><path d="M384 700h1m-5 1h1m-24 2h1m28 0h1m-38 1h1m10 0h1m14 0h1m2 0h1m0 0h1m3 0h1m4 0h1m-11 1h1m5 0h1m1 0h1m0 0h1m5 0h1m-51 1h1m38 0h1m1 0h1m2 0h1m-40 1h1m27 0h1m4 0h1m10 0h1m-46 1h1m3 0h1m0 0h1m-15 1h1m7 0h1m0 0h1m6 0h1m33 0h1m-35 1h1m0 0h1m30 0h1m1 0h1m0 0h1m1 0h1m0 0h1m-50 1h1m0 0h1m4 0h1m3 0h1m7 0h1m5 0h1m5 0h1m0 0h1m9 0h1m12 0h1m-61 1h1m4 0h1m6 0h1m0 0h1m3 0h1m1 0h1m0 0h1m22 0h1m10 0h1m1 0h1m-24 1h1m1 0h1m3 0h1m14 0h1m2 0h1m-60 1h1m1 0h1m8 0h1m13 0h1m14 0h1m3 0h1m13 0h1m-60 1h1m1 0h1m23 0h1m11 0h1m1 0h1m17 0h1m-49 1h1m15 0h1m1 0h1m1 0h1m2 0h1m3 0h1m6 0h1m0 0h1m-42 1h1m4 0h1m4 0h1m13 0h1m8 0h1m7 0h1m8 0h1m-35 1h1m8 0h1m0 0h1m1 0h1m3 0h1m1 0h1m16 0h1m-26 1h1m1 0h1m23 0h1m-53 1h1m1 0h1m12 0h1m7 0h1m0 0h1m5 0h1m2 0h1m9 0h1m-48 1h1m23 0h1m2 0h1m0 0h1m4 0h1m2 0h1m19 0h1m-58 1h1m0 0h1m21 0h1m2 0h1m18 0h1m8 0h1m2 0h1m-59 1h1m2 0h1m6 0h1m10 0h1m8 0h1m9 0h1m0 0h1m0 0h1m0 0h1m12 0h1m-56 1h1m0 0h1m5 0h1m0 0h1m1 0h1m10 0h1m0 0h1m8 0h1m8 0h1m-38 1h1m8 0h1m9 0h1m14 0h1m15 0h1m-55 1h1m5 0h1m4 0h1m6 0h1m2 0h1m26 0h1m0 0h1m0 0h1m-37 1h1m14 0h1m20 0h1m-51 1h1m2 0h1m5 0h1m9 0h1m30 0h1m0 0h1m2 0h1m-52 1h1m4 0h1m4 0h1m2 0h1m32 0h1m-54 1h1m9 0h1m1 0h1m2 0h1m8 0h1m25 0h1m0 0h1m2 0h1m-51 1h1m1 0h1m4 0h1m5 0h1m1 0h1m2 0h1m24 0h1m4 0h1m0 0h1m-55 1h1m2 0h1m0 0h1m0 0h1m5 0h1m2 0h1m2 0h1m31 0h1m2 0h1m3 0h1m-41 1h1m37 0h1m0 0h1m-57 1h1m11 0h1m4 0h1m9 0h1m1 0h1m20 0h1m3 0h1m-54 1h1m3 0h1m2 0h1m2 0h1m2 0h1m8 0h1m0 0h1m-22 1h1m5 0h1m3 0h1m5 0h1m32 0h1m1 0h1m-50 1h1m3 0h1m1 0h1m0 0h1m1 0h1m1 0h1m-15 1h1m2 0h1m47 1h1m-48 1h1m8 0h1m0 0h1m1 0h1m4 0h1m3 0h1m-20 1h1m1 0h1m41 0h1m-54 1h1m14 0h1m11 0h1m12 0h1m-32 1h1m44 0h1m-52 1h1m16 0h1m1 0h1m-19 1h1m15 0h1m29 0h1m-49 1h1m45 0h1m-44 1h1m0 0h1m2 0h1m21 0h1m12 0h1m3 0h1m-42 1h1m10 0h1m26 0h1m1 0h1m1 0h1m1 0h1m2 0h1m-7 1h1m-38 1h1m21 0h1m15 0h1m-45 1h1m34 0h1m15 0h1m-52 1h1m0 0h1m12 0h1m13 0h1m5 0h1m-33 1h1m43 0h1m-21 1h1m18 0h1m-45 1h1m37 0h1m1 0h1m4 0h1m-44 1h1m23 0h1m2 0h1m2 0h1m14 0h1m-25 1h1m16 0h1m-41 1h1m29 0h1m8 0h1m1 0h1m-24 1h1m8 0h1m10 0h1m5 0h1m1 0h1m2 0h1m-44 1h1m30 0h1m11 0h1m-43 1h1m22 0h1m6 0h1m7 0h1m0 0h1m-46 1h1m33 0h1m2 0h1m2 0h1m8 0h1m-28 1h1m1 0h1m8 0h1m6 0h1m1 0h1m1 0h1m-44 1h1m22 0h1m18 0h1m0 0h1m1 0h1m-43 1h1m10 0h1m19 0h1m-23 1h1m2 0h1m1 0h1m4 0h1m0 0h1m21 0h1m-44 1h1m2 0h1m0 0h1m0 0h1m13 0h1m0 0h1m1 0h1m1 0h1m-25 1h1m0 0h1m13 0h1m28 0h1m-47 1h1m14 0h1m6 0h1m16 0h1m-30 1h1m4 0h1m0 0h1m0 0h1m2 0h1m6 0h1m9 0h1m-32 1h1m1 0h1m14 0h1m-18 1h1m2 0h1m22 0h1m12 0h1m-46 1h1m0 0h1m5 0h1m0 0h1m1 0h1m1 0h1m4 0h1m-2 1h1m23 0h1m8 1h1m-36 1h1m2 0h1m8 0h1m-19 1h1m3 0h1m8 0h1m23 0h1m1 0h1m-33 1h1m7 0h1m0 0h1m20 0h1m-3 1h1m-35 1h1m0 0h1m1 0h1m6 0h1m7 0h1m-14 1h1m10 0h1m20 0h1m1 0h1m-33 1h1m14 0h1m15 0h1m-28 1h1m1 0h1m27 0h1m-34 1h1m2 0h1m10 0h1m16 0h1m1 0h1m-39 1h1m12 0h1m1 0h1m6 0h1m10 0h1m1 0h1m2 0h1m1 0h1m-31 1h1m19 0h1m4 0h1m2 0h1m-39 1h1m2 0h1m8 0h1m1 0h1m10 0h1m6 0h1m2 0h1m-25 1h1m6 0h1m11 0h1m13 0h1m-43 1h1m1 0h1m4 0h1m1 0h1m0 0h1m12 0h1m0 0h1m0 0h1m16 0h1m-43 1h1m3 0h1m5 0h1m8 0h1m8 0h1m3 0h1m2 0h1m1 0h1m3 0h1m-40 1h1m3 0h1m2 0h1m0 0h1m5 0h1m16 0h1m1 0h1m0 0h1m2 0h1m0 0h1m2 0h1m-33 1h1m21 0h1m5 0h1m1 0h1m1 0h1m-33 1h1m0 0h1m1 0h1m4 0h1m4 0h1m2 0h1m-23 1h1m12 0h1m9 0h1m0 0h1m9 0h1m-33 1h1m2 0h1m7 0h1m0 0h1m0 0h1m4 0h1m0 0h1m7 0h1m3 0h1m0 0h1m-38 1h1m2 0h1m3 0h1m9 0h1m0 0h1m1 0h1m0 0h1m4 0h1m4 0h1m8 0h1m-42 1h1m7 0h1m2 0h1m0 0h1m9 0h1m10 0h1m-31 1h1m11 0h1m7 0h1m1 0h1m0 0h1m12 0h1m-38 1h1m4 0h1m14 0h1m3 0h1m1 0h1m2 0h1m4 0h1m1 0h1m2 0h1m-27 1h1m13 0h1m15 0h1m-37 1h1m17 0h1m2 0h1m2 0h1m5 0h1m-19 1h1m5 0h1m7 0h1m0 0h1m2 0h1m2 0h1m2 0h1m-30 1h1m13 0h1m3 0h1m5 0h1m3 0h1m-11 1h1m1 0h1m0 0h1m-6 1h1" stroke="#000054" stroke-width="1" fill="none"/><path d="M381 699h1m-9 1h1m1 1h1m2 0h1m5 0h1m4 0h1m0 0h1m-35 1h1m20 0h1m5 0h1m2 0h1m2 0h1m-45 1h1m25 0h1m1 0h1m3 0h1m12 0h1m-43 1h1m17 0h1m2 0h1m6 0h1m8 0h1m4 0h1m-49 1h1m3 0h1m2 0h1m0 0h1m1 0h1m0 0h1m5 0h1m1 0h1m2 0h1m25 0h1m1 0h1m-49 1h1m3 0h1m3 0h1m12 0h1m11 0h1m8 0h1m4 0h1m-42 1h1m4 0h1m5 0h1m1 0h1m5 0h1m2 0h1m-32 1h1m1 0h1m33 0h1m-39 1h1m17 0h1m0 0h1m2 0h1m2 0h1m1 0h1m3 0h1m4 0h1m9 0h1m-48 1h1m7 0h1m14 0h1m8 0h1m4 0h1m-19 1h1m1 0h1m10 1h1m-36 1h1m19 0h1m8 0h1m3 0h1m0 0h1m-8 1h1m0 0h1m3 0h1m3 0h1m2 0h1m19 0h1m-63 1h1m6 0h1m25 0h1m28 0h1m0 0h1m-62 1h1m1 0h1m0 0h1m57 0h1m-55 1h1m18 0h1m4 0h1m-32 1h1m0 0h1m0 0h1m21 0h1m6 0h1m1 0h1m-31 1h1m32 0h1m1 1h1m20 0h1m0 0h1m-57 1h1m13 0h1m30 0h1m2 0h1m4 0h1m0 0h1m-62 1h1m0 0h1m42 0h1m13 0h1m1 0h1m-63 1h1m3 0h1m48 0h1m-56 1h1m25 0h1m29 0h1m3 0h1m1 0h1m3 0h1m-63 1h1m1 0h1m3 0h1m9 0h1m33 0h1m5 0h1m-1 1h1m-44 1h1m28 0h1m5 0h1m1 0h1m5 0h1m-48 1h1m50 0h1m-59 1h1m7 0h1m43 0h1m0 0h1m-55 1h1m8 0h1m-9 1h1m9 0h1m38 0h1m-50 1h1m51 0h1m-62 1h1m3 1h1m6 0h1m5 0h1m37 0h1m4 0h1m-42 1h1m0 0h1m2 0h1m-7 1h1m1 0h1m5 0h1m32 0h1m-56 1h1m5 0h1m48 0h1m-56 1h1m15 0h1m38 0h1m-55 1h1m19 0h1m31 0h1m-35 1h1m-6 1h1m3 1h1m-14 1h1m-4 1h1m47 0h1m-2 1h1m2 0h1m1 1h1m-56 1h1m1 0h1m0 2h1m0 0h1m49 1h1m-3 1h1m1 0h1m-7 1h1m2 0h1m-48 1h1m-2 1h1m0 1h1m44 0h1m-46 1h1m51 0h1m-5 1h1m0 1h1m-51 1h1m0 0h1m31 0h1m18 0h1m-8 1h1m2 0h1m0 0h1m0 0h1m-49 1h1m-2 1h1m45 0h1m5 0h1m-33 1h1m10 1h1m10 0h1m4 0h1m4 1h1m-50 1h1m46 0h1m-48 1h1m12 0h1m6 0h1m26 0h1m-48 1h1m5 0h1m30 0h1m1 0h1m-34 2h1m2 0h1m1 0h1m1 0h1m34 0h1m0 0h1m-51 1h1m21 0h1m25 0h1m0 0h1m-48 1h1m0 0h1m46 0h1m-47 1h1m1 0h1m-3 1h1m3 0h1m1 0h1m0 0h1m6 0h1m-3 1h1m2 0h1m5 0h1m-17 1h1m38 0h1m-37 1h1m1 0h1m32 0h1m-35 1h1m37 0h1m-42 1h1m2 0h1m39 0h1m-46 1h1m6 0h1m-3 2h1m2 0h1m2 0h1m26 0h1m5 1h1m0 0h1m4 0h1m-48 1h1m4 0h1m37 0h1m1 0h1m-32 1h1m28 0h1m1 0h1m-47 1h1m44 0h1m-36 1h1m34 0h1m-36 1h1m5 1h1m19 0h1m9 0h1m-44 1h1m14 0h1m22 0h1m-39 1h1m39 0h1m-40 1h1m16 0h1m4 0h1m1 0h1m22 0h1m-41 1h1m9 0h1m-19 1h1m2 0h1m0 0h1m4 0h1m4 0h1m3 0h1m2 0h1m3 0h1m19 0h1m-45 1h1m3 0h1m0 0h1m25 0h1m-19 1h1m4 0h1m-10 1h1m36 0h1m-44 1h1m22 0h1m2 0h1m17 0h1m-43 1h1m42 0h1m-43 1h1m7 0h1m13 0h1m4 0h1m-24 1h1m5 0h1m3 0h1m1 0h1m0 0h1m3 0h1m5 0h1m6 0h1m3 0h1m2 0h1m-32 1h1m26 0h1m2 0h1m-23 1h1m2 0h1m3 0h1m2 0h1m4 0h1m-12 1h1m1 0h1m2 0h1m1 0h1m7 0h1m-16 1h1m6 0h1m0 0h1m4 0h1m0 0h1m-20 1h1m13 0h1m2 0h1m-15 1h1m5 0h1m9 1h1m-6 1h1" stroke="#030370" stroke-width="1" fill="none"/><path d="M379 699h1m0 0h1m2 0h1m0 0h1m-9 1h1m2 0h1m6 0h1m-36 1h1m19 0h1m2 0h1m7 0h1m2 0h1m2 0h1m-42 1h1m14 0h1m1 0h1m3 0h1m7 0h1m10 0h1m4 0h1m-37 1h1m3 0h1m5 0h1m1 0h1m20 0h1m-39 1h1m1 0h1m5 0h1m2 0h1m5 0h1m22 0h1m-44 1h1m9 0h1m3 0h1m0 0h1m3 0h1m1 0h1m2 0h1m3 0h1m17 0h1m-38 1h1m5 0h1m4 0h1m-10 1h1m2 0h1m1 0h1m1 0h1m6 0h1m-16 1h1m10 1h1m1 0h1m-35 1h1m22 0h1m3 0h1m0 0h1m0 0h1m5 1h1m-5 3h1m-1 1h1m6 0h1m-44 2h1m3 0h1m-5 1h1m0 0h1m33 1h1m-2 1h1m28 0h1m-65 1h1m61 0h1m-1 1h1m0 0h1m-3 1h1m-63 1h1m-1 2h1m-2 1h1m2 0h1m-5 1h1m8 0h1m46 2h1m1 1h1m-53 1h1m47 0h1m-58 1h1m18 0h1m42 0h1m-10 1h1m-36 3h1m39 2h1m-60 4h1m58 0h1m-3 1h1m-58 1h1m0 0h1m2 0h1m53 0h1m-1 1h1m-57 2h1m55 0h1m-57 3h1m55 0h1m-55 2h1m51 0h1m-53 2h1m-1 1h1m0 0h1m-1 1h1m-2 1h1m51 0h1m1 0h1m-54 2h1m-1 1h1m0 0h1m-1 3h1m0 1h1m-1 1h1m50 0h1m-52 1h1m-2 1h1m50 1h1m-48 1h1m45 0h1m-41 1h1m-8 1h1m2 0h1m10 0h1m-6 1h1m40 0h1m-51 1h1m4 0h1m44 0h1m-39 1h1m38 0h1m-52 1h1m2 0h1m3 0h1m8 0h1m33 0h1m-42 1h1m39 0h1m-46 2h1m0 0h1m43 0h1m0 0h1m-38 1h1m3 0h1m-14 1h1m4 1h1m43 0h1m2 0h1m-53 1h1m2 0h1m3 0h1m2 0h1m1 0h1m36 0h1m-51 1h1m2 0h1m47 0h1m-46 1h1m1 0h1m-5 1h1m5 0h1m0 0h1m3 0h1m37 0h1m-2 1h1m-48 2h1m2 0h1m-3 1h1m3 0h1m-3 1h1m2 0h1m43 0h1m-49 1h1m0 0h1m0 0h1m2 0h1m25 0h1m-32 1h1m1 0h1m46 1h1m-48 2h1m19 1h1m3 0h1m-23 1h1m8 0h1m9 0h1m-14 1h1m8 0h1m12 0h1m-20 1h1m2 0h1m8 0h1m0 0h1m2 0h1m19 1h1m-41 1h1m3 0h1m3 0h1m10 0h1m0 0h1m-4 1h1m2 0h1m2 0h1m-20 1h1m1 0h1m13 0h1m-6 1h1m16 0h1m1 0h1m-19 1h1m5 0h1m9 0h1m-4 1h1m-15 1h1m5 0h1m3 1h1m0 0h1m-6 1h1" stroke="#0a0a92" stroke-width="1" fill="none"/><path d="M364 699h1m5 0h1m2 0h1m0 0h1m-19 1h1m1 0h1m0 0h1m2 0h1m0 0h1m0 0h1m3 0h1m0 0h1m0 0h1m6 0h1m-19 1h1m0 0h1m1 0h1m0 0h1m2 0h1m5 0h1m3 0h1m0 0h1m1 0h1m-32 1h1m0 0h1m0 0h1m3 0h1m0 0h1m15 0h1m16 0h1m-40 1h1m1 0h1m0 0h1m6 0h1m1 0h1m3 0h1m25 0h1m-31 1h1m-19 1h1m12 0h1m38 0h1m-54 2h1m17 0h1m-17 1h1m4 0h1m15 0h1m4 0h1m-15 1h1m11 1h1m-34 1h1m30 2h1m-34 2h1m-3 1h1m-2 1h1m-1 1h1m-1 1h1m62 0h1m-64 1h1m-2 1h1m1 2h1m-4 1h1m0 0h1m-1 1h1m-4 1h1m63 0h1m0 0h1m-66 1h1m64 0h1m-59 1h1m-7 1h1m60 0h1m0 0h1m-3 1h1m1 0h1m-3 2h1m-62 1h1m57 0h1m0 0h1m0 0h1m-2 1h1m0 1h1m-3 1h1m0 0h1m-1 2h1m0 0h1m-3 1h1m-1 1h1m-2 1h1m-1 1h1m0 0h1m-1 1h1m-60 1h1m58 0h1m-60 2h1m55 1h1m1 0h1m-60 1h1m0 0h1m0 1h1m54 0h1m-56 1h1m-1 2h1m53 0h1m-54 2h1m53 0h1m-50 3h1m-6 2h1m0 1h1m52 0h1m-53 2h1m-1 1h1m51 0h1m-54 2h1m51 0h1m0 2h1m-1 1h1m1 0h1m-54 1h1m51 2h1m0 0h1m-1 1h1m0 0h1m-1 2h1m-52 1h1m1 0h1m-3 2h1m2 0h1m-1 1h1m1 0h1m47 0h1m0 0h1m-53 1h1m0 0h1m3 0h1m-4 1h1m0 0h1m0 0h1m1 0h1m43 0h1m1 0h1m-50 1h1m47 0h1m-52 1h1m3 0h1m0 0h1m0 0h1m40 0h1m4 0h1m-45 1h1m-6 1h1m2 0h1m2 0h1m45 0h1m-1 1h1m-53 1h1m0 0h1m48 0h1m-50 1h1m0 0h1m1 0h1m-1 2h1m47 0h1m-50 2h1m50 0h1m-42 2h1m-8 1h1m4 6h1m12 0h1m2 1h1m1 0h1m-5 1h1m3 0h1m-8 1h1m1 0h1m0 0h1m-1 1h1m1 0h1m1 0h1m0 0h1m-14 1h1m5 0h1m1 0h1m0 0h1m3 0h1m1 0h1m0 0h1m1 0h1m-17 1h1m2 0h1m2 0h1m0 0h1m0 0h1m1 0h1m2 0h1m0 0h1m15 0h1m-27 1h1m0 0h1m2 0h1m1 0h1m3 0h1m-11 1h1m1 0h1m0 0h1m5 0h1m4 0h1m9 0h1m-23 1h1m11 0h1m-7 1h1m9 0h1" stroke="#1414b8" stroke-width="1" fill="none"/><path d="M337.19 851.41 L340.31 849.84 L343.75 848.55 L347.5 847.52 L351.56 846.75 L355.94 846.25 L360.16 846.08 L364.22 846.23 L368.12 846.72 L371.88 847.53 L375.08 848.61 L377.73 849.95 L379.84 851.56 L381.41 853.44 L382.34 855.55 L382.66 857.89 L382.34 860.47 L381.41 863.28 L380.16 866.17 L378.59 869.14 L376.72 872.19 L374.53 875.31 L372.62 878.59 L371 882.03 L369.66 885.62 L368.59 889.38 L367.86 893.12 L367.45 896.88 L367.38 900.62 L367.62 904.38 L368.41 907.89 L369.72 911.17 L371.56 914.22 L373.94 917.03 L376.66 919.61 L379.72 921.95 L383.12 924.06 L386.88 925.94 L390.78 927.58 L394.84 928.98 L399.06 930.16 L403.44 931.09 L407.5 932.03 L411.25 932.97 L414.69 933.91 L417.81 934.84 L420.39 936.09 L422.42 937.66 L423.91 939.53 L424.84 941.72 L425.31 944.06 L425.31 946.56 L424.84 949.22 L423.91 952.03 L422.42 954.69 L420.39 957.19 L417.81 959.53 L414.69 961.72 L411.25 963.59 L407.5 965.16 L403.44 966.41 L399.06 967.34 L394.53 968 L389.84 968.38 L385 968.47 L380 968.28 L375 967.8 L370 967.02 L365 965.94 L360 964.56 L355.16 962.75 L350.47 960.5 L345.94 957.81 L341.56 954.69 L337.5 951.25 L333.75 947.5 L330.31 943.44 L327.19 939.06 L324.45 934.38 L322.11 929.38 L320.16 924.06 L318.59 918.44 L317.5 912.81 L316.88 907.19 L316.72 901.56 L317.03 895.94 L317.66 890.47 L318.59 885.16 L319.84 880 L321.41 875 L323.12 870.39 L325 866.17 L327.03 862.34 L329.22 858.91 L331.64 855.94 L334.3 853.44Z" fill="#020234" opacity="0.9" filter="url(#bl2)"/><path d="M350 849h1m17 0h1m-18 2h1m18 0h1m-17 1h1m-2 1h1m9 0h1m1 1h1m8 0h1m-30 1h1m18 0h1m1 0h1m-18 1h1m4 0h1m3 0h1m-16 1h1m1 0h1m16 0h1m1 0h1m0 0h1m-23 1h1m4 0h1m0 0h1m-13 1h1m1 0h1m5 0h1m0 0h1m1 0h1m8 0h1m0 0h1m-15 1h1m3 0h1m5 0h1m0 1h1m-10 1h1m1 0h1m12 0h1m-18 1h1m3 0h1m9 0h1m-10 1h1m4 0h1m0 0h1m0 0h1m-17 1h1m3 0h1m10 0h1m1 0h1m0 0h1m-8 1h1m0 0h1m-7 1h1m1 1h1m8 0h1m-22 1h1m11 0h1m2 0h1m17 0h1m-21 2h1m2 0h1m-18 2h1m-12 12h1m1 0h1m-6 1h1m2 0h1m2 1h1m5 0h1m-1 2h1m-11 1h1m2 3h1m5 0h1m-9 1h1m6 0h1m-12 1h1m5 0h1m2 0h1m14 1h1m-25 1h1m11 0h1m-7 1h1m-6 1h1m2 0h1m7 0h1m1 0h1m-9 1h1m13 0h1m3 2h1m-10 1h1m2 1h1m2 0h1m10 0h1m10 0h1m-34 1h1m0 0h1m1 0h1m14 0h1m-12 1h1m11 0h1m0 0h1m5 0h1m0 0h1m0 0h1m-23 1h1m4 0h1m5 0h1m-3 1h1m-16 1h1m3 0h1m13 0h1m-16 1h1m15 0h1m7 0h1m-34 1h1m6 0h1m2 0h1m4 0h1m5 0h1m2 1h1m1 0h1m-1 1h1m15 1h1m-25 1h1m-5 1h1m7 0h1m1 0h1m9 0h1m-9 1h1m-2 1h1m7 0h1m4 0h1m0 1h1m-3 1h1m-16 1h1m11 0h1m1 0h1m0 0h1m0 0h1m-31 1h1m2 0h1m10 0h1m8 0h1m5 0h1m-20 1h1m0 0h1m14 0h1m14 0h1m-22 1h1m3 0h1m5 0h1m-15 1h1m2 0h1m11 0h1m0 0h1m0 0h1m2 0h1m-35 1h1m2 0h1m7 0h1m1 0h1m19 0h1m0 2h1m-17 1h1m6 0h1m11 0h1m-35 3h1m12 1h1m2 0h1m31 1h1m26 0h1m-57 2h1m1 0h1m-2 1h1m3 1h1m4 0h1m48 0h1m-80 1h1m0 0h1m58 0h1m9 0h1m-59 1h1m58 0h1m-58 1h1m0 0h1m1 0h1m4 0h1m41 0h1m4 0h1m4 0h1m-74 1h1m3 1h1m0 0h1m8 0h1m3 0h1m39 0h1m-42 2h1m23 0h1m13 0h1m4 0h1m8 0h1m-63 1h1m1 0h1m54 0h1m-59 1h1m3 0h1m22 0h1m23 0h1m-52 1h1m13 0h1m21 0h1m-32 1h1m40 0h1m1 0h1m7 0h1m-47 1h1m38 0h1m-51 1h1m8 0h1m4 0h1m27 0h1m5 0h1m4 0h1m-21 1h1m-33 1h1m12 0h1m2 0h1m0 0h1m7 0h1m16 0h1m-37 1h1m27 0h1m-29 1h1m28 0h1m2 0h1m-19 1h1m13 1h1m8 0h1m3 0h1m0 0h1m0 0h1m-13 1h1m0 0h1m6 0h1m6 0h1m-31 1h1m16 0h1m6 0h1m7 0h1m-22 1h1m5 1h1m6 1h1m0 0h1m-9 1h1m-1 1h1m3 0h1m8 0h1m-5 2h1" stroke="#000026" stroke-width="1" fill="none"/><path d="M351 847h1m0 0h1m16 0h1m-15 1h1m1 0h1m-12 1h1m0 0h1m3 0h1m7 0h1m0 0h1m1 0h1m-16 1h1m10 0h1m10 0h1m0 0h1m-26 1h1m6 0h1m2 0h1m1 0h1m7 0h1m0 0h1m-22 1h1m6 0h1m3 0h1m3 0h1m3 0h1m0 0h1m-9 1h1m1 0h1m4 0h1m7 0h1m-31 1h1m19 0h1m0 0h1m6 0h1m2 0h1m-37 1h1m1 0h1m2 0h1m3 0h1m0 0h1m2 0h1m7 0h1m1 0h1m2 0h1m-22 1h1m0 0h1m7 0h1m7 0h1m4 0h1m4 0h1m-21 1h1m7 0h1m2 0h1m5 0h1m-32 1h1m5 0h1m5 0h1m4 0h1m3 0h1m-4 1h1m9 0h1m2 0h1m3 0h1m-34 1h1m0 0h1m6 0h1m13 0h1m9 0h1m1 0h1m-32 1h1m23 0h1m4 0h1m2 0h1m0 0h1m-33 1h1m1 0h1m10 0h1m5 0h1m13 0h1m-22 1h1m3 0h1m2 0h1m0 0h1m7 0h1m-25 1h1m2 0h1m2 0h1m6 0h1m1 0h1m-27 1h1m4 0h1m2 0h1m17 0h1m1 0h1m-20 1h1m21 0h1m-7 1h1m9 0h1m-31 1h1m3 0h1m10 0h1m3 0h1m0 0h1m10 0h1m-27 1h1m2 0h1m14 0h1m-25 1h1m13 0h1m18 0h1m-43 1h1m30 0h1m-31 1h1m5 0h1m3 0h1m7 0h1m2 0h1m18 0h1m-35 1h1m27 0h1m-26 1h1m7 0h1m-18 1h1m32 1h1m4 0h1m-8 1h1m-13 1h1m-25 1h1m6 1h1m-7 1h1m2 0h1m7 0h1m6 0h1m-25 1h1m2 0h1m13 0h1m-18 1h1m7 0h1m6 0h1m16 0h1m-25 1h1m5 0h1m-13 1h1m32 1h1m-32 1h1m9 0h1m13 0h1m7 0h1m-34 1h1m7 0h1m-6 1h1m0 0h1m2 0h1m-10 1h1m9 0h1m0 0h1m12 0h1m10 0h1m9 0h1m-42 1h1m0 0h1m9 0h1m8 0h1m2 0h1m-31 1h1m9 0h1m12 0h1m-15 1h1m2 0h1m4 0h1m-18 1h1m2 0h1m0 0h1m15 0h1m2 0h1m-20 1h1m0 0h1m8 1h1m2 0h1m-17 1h1m13 0h1m1 0h1m3 0h1m-15 1h1m21 0h1m-15 1h1m3 0h1m0 0h1m19 0h1m-32 1h1m1 0h1m3 0h1m0 0h1m13 0h1m3 0h1m0 0h1m-32 1h1m3 0h1m1 0h1m38 0h1m-48 1h1m4 0h1m4 0h1m21 0h1m0 0h1m-37 1h1m13 0h1m5 0h1m0 0h1m4 0h1m0 0h1m1 0h1m5 0h1m2 0h1m5 0h1m-42 1h1m5 0h1m17 0h1m0 0h1m2 0h1m7 0h1m1 0h1m-39 1h1m2 0h1m3 0h1m9 0h1m0 0h1m15 0h1m8 0h1m-30 1h1m6 0h1m24 0h1m-28 1h1m0 0h1m11 0h1m0 0h1m4 0h1m3 0h1m-41 1h1m5 0h1m4 0h1m1 0h1m3 0h1m4 0h1m1 0h1m3 0h1m3 0h1m1 0h1m4 0h1m0 0h1m-31 1h1m4 0h1m5 0h1m0 0h1m7 0h1m10 0h1m1 0h1m-47 1h1m5 0h1m6 0h1m6 0h1m2 0h1m12 0h1m2 0h1m6 0h1m-41 1h1m14 0h1m3 0h1m3 0h1m8 0h1m1 0h1m0 0h1m4 0h1m-43 1h1m14 0h1m12 0h1m2 0h1m6 0h1m-38 1h1m0 0h1m12 0h1m4 0h1m4 0h1m0 0h1m3 0h1m15 0h1m-41 1h1m1 0h1m0 0h1m8 0h1m5 0h1m7 0h1m11 0h1m-28 1h1m3 0h1m1 0h1m8 0h1m3 0h1m5 0h1m3 0h1m-42 1h1m3 0h1m28 0h1m-37 1h1m14 0h1m1 0h1m2 0h1m0 0h1m5 0h1m4 0h1m0 0h1m7 0h1m-35 1h1m2 0h1m11 0h1m2 0h1m1 0h1m11 0h1m5 0h1m-49 1h1m10 0h1m7 0h1m2 0h1m0 0h1m1 0h1m5 0h1m2 0h1m10 0h1m0 0h1m4 0h1m-45 1h1m1 0h1m5 0h1m1 0h1m1 0h1m1 0h1m2 0h1m2 0h1m3 0h1m5 0h1m-29 1h1m18 0h1m5 0h1m8 0h1m2 0h1m-41 1h1m2 0h1m10 0h1m1 0h1m7 0h1m3 0h1m1 0h1m7 0h1m4 0h1m-35 1h1m1 0h1m10 0h1m11 0h1m1 0h1m0 0h1m3 0h1m-39 1h1m2 0h1m7 0h1m-15 1h1m13 0h1m23 0h1m9 0h1m-53 1h1m14 0h1m24 0h1m0 0h1m0 0h1m1 0h1m-46 1h1m17 0h1m0 0h1m4 0h1m19 0h1m-39 1h1m8 0h1m6 0h1m2 0h1m10 0h1m29 0h1m-62 1h1m1 0h1m3 0h1m1 0h1m17 0h1m17 0h1m-41 1h1m2 0h1m2 0h1m7 0h1m9 0h1m0 0h1m6 0h1m-28 1h1m7 0h1m12 0h1m4 0h1m7 0h1m-36 1h1m8 0h1m16 0h1m0 0h1m3 0h1m0 0h1m36 0h1m-75 1h1m2 0h1m7 0h1m9 0h1m10 0h1m0 0h1m7 0h1m11 0h1m-47 1h1m3 0h1m2 0h1m6 0h1m2 0h1m11 0h1m0 0h1m8 0h1m-48 1h1m8 0h1m11 0h1m6 0h1m4 0h1m8 0h1m43 0h1m-83 1h1m1 0h1m4 0h1m1 0h1m10 0h1m2 0h1m14 0h1m24 0h1m2 0h1m-65 1h1m6 0h1m6 0h1m9 0h1m2 0h1m1 0h1m15 0h1m2 0h1m21 0h1m3 0h1m1 0h1m4 0h1m-85 1h1m8 0h1m3 0h1m10 0h1m2 0h1m6 0h1m3 0h1m0 0h1m6 0h1m5 0h1m28 0h1m-49 1h1m1 0h1m15 0h1m6 0h1m2 0h1m18 0h1m1 0h1m0 0h1m0 0h1m-83 1h1m15 0h1m5 0h1m2 0h1m3 0h1m6 0h1m6 0h1m2 0h1m29 0h1m7 0h1m2 0h1m-86 1h1m24 0h1m23 0h1m1 0h1m22 0h1m3 0h1m-80 1h1m60 0h1m3 0h1m3 0h1m1 0h1m11 0h1m-80 1h1m7 0h1m1 0h1m13 0h1m24 0h1m3 0h1m11 0h1m10 0h1m0 0h1m6 0h1m-73 1h1m13 0h1m18 0h1m1 0h1m2 0h1m3 0h1m5 0h1m9 0h1m2 0h1m-70 1h1m3 0h1m1 0h1m2 0h1m28 0h1m22 0h1m12 0h1m-78 1h1m3 0h1m1 0h1m4 0h1m14 0h1m8 0h1m5 0h1m12 0h1m29 0h1m-86 1h1m16 0h1m14 0h1m1 0h1m4 0h1m18 0h1m-50 1h1m1 0h1m0 0h1m32 0h1m7 0h1m6 0h1m0 0h1m6 0h1m0 0h1m-70 1h1m2 0h1m2 0h1m34 0h1m4 0h1m11 0h1m3 0h1m-63 1h1m5 0h1m8 0h1m0 0h1m11 0h1m1 0h1m5 0h1m5 0h1m6 0h1m8 0h1m2 0h1m-58 1h1m0 0h1m2 0h1m16 0h1m5 0h1m14 0h1m10 0h1m7 0h1m-64 1h1m0 0h1m7 0h1m25 0h1m4 0h1m22 0h1m-59 1h1m2 0h1m3 0h1m7 0h1m4 0h1m1 0h1m3 0h1m3 0h1m12 0h1m-37 1h1m3 0h1m2 0h1m2 0h1m10 0h1m19 0h1m2 0h1m-55 1h1m5 0h1m3 0h1m8 0h1m1 0h1m3 0h1m0 0h1m11 0h1m2 0h1m8 0h1m3 0h1m-50 1h1m1 0h1m14 0h1m13 0h1m1 0h1m3 0h1m8 0h1m-46 1h1m4 0h1m33 0h1m-27 1h1m18 0h1m0 0h1m2 0h1m10 0h1m-13 1h1m-19 1h1m2 0h1m1 0h1m20 0h1m6 0h1m6 0h1m-33 1h1m2 0h1m2 0h1m-25 1h1m1 0h1m7 0h1m9 0h1m5 0h1m2 0h1m4 0h1m-32 1h1m15 0h1m1 0h1m0 0h1m1 0h1m3 0h1m6 0h1m6 0h1m-38 1h1m8 0h1m5 0h1m0 0h1m8 0h1m0 0h1m-26 1h1m6 0h1m15 0h1m-19 1h1m10 0h1m1 0h1m3 0h1m1 0h1m1 0h1m-17 1h1m18 0h1" stroke="#00003c" stroke-width="1" fill="none"/><path d="M358 847h1m7 0h1m-20 1h1m5 0h1m2 0h1m3 0h1m1 0h1m0 0h1m-10 1h1m0 0h1m0 0h1m0 0h1m3 0h1m2 0h1m1 0h1m5 0h1m0 0h1m-32 1h1m5 0h1m0 0h1m15 0h1m0 0h1m0 0h1m6 0h1m0 0h1m-23 1h1m8 0h1m0 0h1m8 0h1m1 0h1m-13 1h1m4 0h1m2 0h1m4 0h1m-40 1h1m3 0h1m2 0h1m1 0h1m1 0h1m12 0h1m9 0h1m-32 1h1m13 0h1m10 0h1m2 0h1m0 0h1m-31 1h1m2 0h1m10 0h1m8 0h1m5 0h1m3 0h1m0 0h1m2 0h1m-40 1h1m1 0h1m8 0h1m22 0h1m0 0h1m0 0h1m2 0h1m4 0h1m-47 1h1m2 0h1m4 0h1m3 0h1m4 0h1m9 0h1m11 0h1m1 0h1m0 0h1m-47 1h1m2 0h1m29 0h1m7 0h1m-25 1h1m2 0h1m13 0h1m12 0h1m-48 1h1m1 0h1m1 0h1m7 0h1m20 0h1m6 0h1m2 0h1m3 0h1m-39 1h1m2 0h1m3 0h1m0 0h1m19 0h1m-38 1h1m35 0h1m6 0h1m-22 1h1m3 0h1m8 0h1m5 0h1m0 0h1m2 0h1m-43 1h1m0 0h1m1 0h1m5 0h1m1 0h1m5 0h1m25 0h1m-45 1h1m8 0h1m9 0h1m-21 1h1m18 0h1m3 0h1m7 0h1m1 0h1m1 0h1m0 0h1m6 0h1m-49 1h1m9 0h1m18 0h1m0 0h1m3 0h1m-25 1h1m25 0h1m3 0h1m10 0h1m0 0h1m-49 1h1m0 0h1m14 0h1m9 0h1m17 0h1m-34 1h1m11 0h1m-20 1h1m4 0h1m4 0h1m12 0h1m13 0h1m1 0h1m-47 1h1m0 0h1m14 0h1m16 0h1m6 0h1m-27 1h1m2 0h1m24 0h1m0 0h1m-43 1h1m8 0h1m6 0h1m3 0h1m17 0h1m1 0h1m-44 1h1m5 0h1m2 0h1m3 0h1m7 0h1m9 0h1m9 0h1m2 0h1m-43 1h1m2 0h1m4 0h1m4 0h1m9 0h1m3 0h1m1 0h1m2 0h1m-36 1h1m4 0h1m0 0h1m5 0h1m18 0h1m0 0h1m0 0h1m4 0h1m3 0h1m2 0h1m-43 1h1m7 0h1m1 0h1m6 0h1m9 0h1m13 0h1m-41 1h1m3 0h1m16 0h1m10 0h1m0 0h1m7 0h1m2 0h1m-45 1h1m12 0h1m0 0h1m3 0h1m7 0h1m-33 1h1m0 0h1m11 0h1m2 0h1m1 0h1m11 0h1m1 0h1m7 0h1m0 0h1m-42 1h1m5 0h1m0 0h1m6 0h1m-13 1h1m1 0h1m4 0h1m13 0h1m5 0h1m5 0h1m9 0h1m-46 1h1m4 0h1m5 0h1m8 0h1m9 0h1m5 0h1m-28 1h1m1 0h1m4 0h1m24 0h1m4 0h1m-47 1h1m6 0h1m1 0h1m1 0h1m1 0h1m5 0h1m20 0h1m-32 1h1m3 0h1m5 0h1m5 0h1m9 0h1m3 0h1m-41 1h1m5 0h1m7 0h1m13 0h1m3 0h1m12 0h1m-46 1h1m2 0h1m4 0h1m1 0h1m15 0h1m0 0h1m0 0h1m4 0h1m9 0h1m-43 1h1m14 0h1m0 0h1m2 0h1m0 0h1m1 0h1m3 0h1m2 0h1m1 0h1m8 0h1m-41 1h1m7 0h1m4 0h1m6 0h1m1 0h1m15 0h1m7 0h1m-45 1h1m1 0h1m7 0h1m13 0h1m0 0h1m-32 1h1m19 0h1m2 0h1m1 0h1m14 0h1m2 0h1m-37 1h1m8 0h1m0 0h1m10 0h1m4 0h1m12 0h1m-47 1h1m8 0h1m6 0h1m2 0h1m1 0h1m2 0h1m1 0h1m16 0h1m5 0h1m-49 1h1m0 0h1m7 0h1m2 0h1m5 0h1m1 0h1m15 0h1m5 0h1m2 0h1m-40 1h1m0 0h1m4 0h1m6 0h1m2 0h1m3 0h1m0 0h1m3 0h1m12 0h1m0 0h1m-41 1h1m5 0h1m0 0h1m3 0h1m4 0h1m3 0h1m1 0h1m7 0h1m1 0h1m5 0h1m-33 1h1m5 0h1m11 0h1m6 0h1m6 0h1m2 0h1m1 0h1m-48 1h1m10 0h1m11 0h1m-17 1h1m2 0h1m0 0h1m5 0h1m5 0h1m7 0h1m2 0h1m5 0h1m0 0h1m-39 1h1m17 0h1m13 0h1m0 0h1m1 0h1m7 0h1m-28 1h1m13 0h1m3 0h1m6 0h1m0 0h1m1 0h1m-43 1h1m3 0h1m3 0h1m12 0h1m-25 1h1m3 0h1m13 0h1m1 0h1m3 0h1m3 0h1m5 0h1m2 0h1m6 0h1m0 0h1m-43 1h1m16 0h1m2 0h1m0 0h1m1 0h1m3 0h1m-33 1h1m0 0h1m1 0h1m20 0h1m20 0h1m-41 1h1m1 0h1m29 0h1m2 0h1m3 0h1m-41 1h1m22 0h1m3 0h1m16 0h1m-40 1h1m4 0h1m15 0h1m15 0h1m0 0h1m-45 1h1m8 0h1m3 0h1m12 0h1m4 0h1m3 0h1m3 0h1m-21 1h1m21 0h1m0 0h1m1 0h1m0 0h1m-42 1h1m0 0h1m2 0h1m5 0h1m14 0h1m-30 1h1m1 0h1m27 0h1m4 0h1m-39 1h1m8 0h1m4 0h1m10 0h1m7 0h1m17 0h1m-43 1h1m10 0h1m19 0h1m6 0h1m-31 1h1m6 0h1m4 0h1m12 0h1m0 0h1m-33 1h1m13 0h1m2 0h1m7 0h1m1 0h1m12 0h1m-44 1h1m1 0h1m1 0h1m2 0h1m3 0h1m8 0h1m13 0h1m6 0h1m1 0h1m3 0h1m-51 1h1m7 0h1m6 0h1m4 0h1m4 0h1m9 0h1m6 0h1m-31 1h1m0 0h1m2 0h1m6 0h1m-12 1h1m7 0h1m2 0h1m5 0h1m2 0h1m7 0h1m-44 1h1m6 0h1m1 0h1m4 0h1m3 0h1m3 0h1m3 0h1m2 0h1m2 0h1m-28 1h1m4 0h1m6 0h1m1 0h1m4 0h1m4 0h1m16 0h1m0 0h1m1 0h1m0 0h1m1 0h1m0 0h1m-47 1h1m0 0h1m21 0h1m2 0h1m4 0h1m-32 1h1m5 0h1m4 0h1m5 0h1m6 0h1m4 0h1m15 0h1m2 0h1m0 0h1m-54 1h1m4 0h1m7 0h1m4 0h1m-3 1h1m14 0h1m0 0h1m3 0h1m14 0h1m1 0h1m1 0h1m0 0h1m-47 1h1m10 0h1m0 0h1m13 0h1m2 0h1m3 0h1m8 0h1m3 0h1m0 0h1m-58 1h1m4 0h1m5 0h1m8 0h1m15 0h1m1 0h1m4 0h1m1 0h1m0 0h1m0 0h1m0 0h1m0 0h1m1 0h1m8 0h1m4 0h1m-67 1h1m15 0h1m6 0h1m24 0h1m0 0h1m-46 1h1m0 0h1m0 0h1m7 0h1m1 0h1m0 0h1m0 0h1m1 0h1m2 0h1m0 0h1m0 0h1m0 0h1m5 0h1m16 0h1m2 0h1m0 0h1m7 0h1m16 0h1m3 0h1m-20 1h1m1 0h1m6 0h1m6 0h1m-76 1h1m2 0h1m1 0h1m2 0h1m9 0h1m1 0h1m13 0h1m21 0h1m8 0h1m5 0h1m9 0h1m-78 1h1m2 0h1m4 0h1m3 0h1m0 0h1m2 0h1m5 0h1m24 0h1m0 0h1m1 0h1m3 0h1m4 0h1m0 0h1m12 0h1m11 0h1m0 0h1m-92 1h1m10 0h1m8 0h1m1 0h1m11 0h1m5 0h1m16 0h1m8 0h1m13 0h1m0 0h1m5 0h1m5 0h1m-84 1h1m2 0h1m13 0h1m4 0h1m4 0h1m2 0h1m7 0h1m0 0h1m6 0h1m10 0h1m2 0h1m1 0h1m0 0h1m2 0h1m4 0h1m10 0h1m-86 1h1m1 0h1m10 0h1m2 0h1m23 0h1m0 0h1m1 0h1m0 0h1m3 0h1m4 0h1m3 0h1m5 0h1m0 0h1m10 0h1m6 0h1m1 0h1m1 0h1m0 0h1m-90 1h1m10 0h1m8 0h1m1 0h1m1 0h1m1 0h1m0 0h1m3 0h1m1 0h1m1 0h1m1 0h1m0 0h1m2 0h1m3 0h1m10 0h1m4 0h1m3 0h1m1 0h1m1 0h1m3 0h1m1 0h1m4 0h1m6 0h1m1 0h1m-91 1h1m1 0h1m15 0h1m0 0h1m7 0h1m4 0h1m4 0h1m1 0h1m5 0h1m2 0h1m13 0h1m6 0h1m14 0h1m5 0h1m-90 1h1m0 0h1m18 0h1m2 0h1m13 0h1m14 0h1m8 0h1m14 0h1m3 0h1m10 0h1m0 0h1m-93 1h1m5 0h1m1 0h1m1 0h1m42 0h1m4 0h1m25 0h1m1 0h1m1 0h1m3 0h1m-78 1h1m1 0h1m3 0h1m8 0h1m7 0h1m3 0h1m3 0h1m4 0h1m3 0h1m4 0h1m10 0h1m14 0h1m1 0h1m0 0h1m-89 1h1m0 0h1m3 0h1m11 0h1m2 0h1m13 0h1m2 0h1m2 0h1m0 0h1m13 0h1m9 0h1m4 0h1m17 0h1m-88 1h1m11 0h1m2 0h1m12 0h1m3 0h1m2 0h1m34 0h1m3 0h1m0 0h1m6 0h1m0 0h1m2 0h1m1 0h1m0 0h1m1 0h1m-88 1h1m9 0h1m2 0h1m4 0h1m5 0h1m1 0h1m3 0h1m0 0h1m3 0h1m10 0h1m11 0h1m3 0h1m9 0h1m3 0h1m1 0h1m5 0h1m-86 1h1m4 0h1m1 0h1m3 0h1m7 0h1m1 0h1m2 0h1m31 0h1m6 0h1m6 0h1m0 0h1m0 0h1m5 0h1m5 0h1m-84 1h1m1 0h1m0 0h1m0 0h1m5 0h1m7 0h1m5 0h1m0 0h1m23 0h1m25 0h1m3 0h1m-77 1h1m12 0h1m8 0h1m5 0h1m2 0h1m0 0h1m1 0h1m1 0h1m4 0h1m0 0h1m6 0h1m15 0h1m1 0h1m0 0h1m2 0h1m-71 1h1m0 0h1m16 0h1m4 0h1m1 0h1m1 0h1m2 0h1m8 0h1m31 0h1m7 0h1m-82 1h1m0 0h1m12 0h1m4 0h1m25 0h1m2 0h1m0 0h1m1 0h1m6 0h1m0 0h1m1 0h1m2 0h1m5 0h1m6 0h1m-63 1h1m14 0h1m8 0h1m16 0h1m3 0h1m7 0h1m9 0h1m-78 1h1m9 0h1m3 0h1m1 0h1m30 0h1m3 0h1m9 0h1m1 0h1m6 0h1m4 0h1m-71 1h1m1 0h1m2 0h1m5 0h1m5 0h1m14 0h1m1 0h1m9 0h1m13 0h1m5 0h1m0 0h1m1 0h1m6 0h1m-79 1h1m9 0h1m0 0h1m1 0h1m8 0h1m11 0h1m2 0h1m0 0h1m9 0h1m5 0h1m-51 1h1m6 0h1m2 0h1m11 0h1m2 0h1m9 0h1m18 0h1m1 0h1m-57 1h1m2 0h1m3 0h1m5 0h1m4 0h1m2 0h1m17 0h1m1 0h1m6 0h1m-39 1h1m3 0h1m14 0h1m9 0h1m12 0h1m11 0h1m-58 1h1m6 0h1m3 0h1m2 0h1m1 0h1m5 0h1m5 0h1m5 0h1m3 0h1m14 0h1m-49 1h1m3 0h1m0 0h1m9 0h1m9 0h1m5 0h1m4 0h1m1 0h1m6 0h1m2 0h1m3 0h1m-57 1h1m1 0h1m2 0h1m9 0h1m1 0h1m5 0h1m8 0h1m2 0h1m3 0h1m10 0h1m9 0h1m0 0h1m-55 1h1m0 0h1m0 0h1m11 0h1m6 0h1m10 0h1m4 0h1m2 0h1m-46 1h1m30 0h1m1 0h1m0 0h1m10 0h1m-33 1h1m5 0h1m0 0h1m3 0h1m0 0h1m1 0h1m0 0h1m7 0h1m0 0h1m0 0h1m2 0h1m0 0h1m2 0h1m-29 1h1m7 0h1m-16 1h1m3 0h1m17 0h1m5 0h1m-14 1h1m0 0h1m0 0h1" stroke="#000054" stroke-width="1" fill="none"/><path d="M354 847h1m6 0h1m0 0h1m2 1h1m1 1h1m-18 1h1m0 0h1m2 0h1m8 0h1m-25 1h1m6 0h1m24 1h1m0 0h1m3 0h1m3 0h1m-42 1h1m10 0h1m0 0h1m10 0h1m3 0h1m7 0h1m0 0h1m-29 1h1m29 0h1m0 0h1m-9 1h1m2 1h1m4 0h1m-41 1h1m9 0h1m23 0h1m1 0h1m2 0h1m1 0h1m-42 1h1m36 0h1m-27 1h1m22 0h1m1 0h1m4 0h1m-45 1h1m4 0h1m35 0h1m1 0h1m0 0h1m-3 1h1m0 0h1m-47 1h1m43 0h1m-45 1h1m3 0h1m18 0h1m11 0h1m-39 1h1m2 0h1m8 0h1m15 0h1m14 0h1m1 0h1m6 0h1m-45 1h1m28 0h1m3 0h1m-38 1h1m38 0h1m0 0h1m1 0h1m0 0h1m3 0h1m-53 1h1m0 0h1m3 0h1m9 0h1m13 0h1m3 0h1m8 0h1m5 0h1m-39 1h1m16 0h1m11 0h1m5 0h1m-31 1h1m8 0h1m10 0h1m-40 1h1m2 0h1m4 0h1m0 0h1m2 0h1m5 0h1m16 0h1m2 0h1m1 0h1m2 0h1m1 0h1m4 0h1m-49 1h1m1 0h1m7 0h1m1 0h1m12 0h1m3 0h1m0 0h1m4 0h1m1 0h1m3 0h1m0 0h1m-36 1h1m16 0h1m1 0h1m4 0h1m3 0h1m3 0h1m-40 1h1m5 0h1m14 0h1m0 0h1m19 0h1m-42 1h1m1 0h1m3 0h1m22 0h1m10 0h1m7 0h1m-44 1h1m0 0h1m6 0h1m1 0h1m2 0h1m24 0h1m-43 1h1m2 0h1m15 0h1m3 0h1m5 0h1m8 0h1m0 0h1m-43 1h1m22 0h1m0 0h1m4 0h1m10 0h1m2 0h1m-48 1h1m0 0h1m1 0h1m0 0h1m3 0h1m3 0h1m22 0h1m2 0h1m3 0h1m5 0h1m0 0h1m-40 1h1m12 0h1m17 0h1m5 0h1m-49 1h1m18 0h1m0 0h1m17 0h1m-28 1h1m9 0h1m17 0h1m4 0h1m3 0h1m-48 1h1m11 0h1m10 0h1m9 0h1m5 0h1m3 0h1m2 0h1m2 0h1m-49 1h1m19 0h1m23 0h1m-42 1h1m6 0h1m15 0h1m0 0h1m3 0h1m11 0h1m2 0h1m-26 1h1m3 0h1m13 0h1m7 0h1m-31 1h1m0 0h1m8 0h1m14 0h1m-29 1h1m13 0h1m11 0h1m2 0h1m3 0h1m-41 1h1m13 0h1m4 0h1m3 0h1m4 0h1m6 0h1m-33 1h1m6 0h1m1 0h1m2 0h1m13 0h1m3 0h1m-39 1h1m24 0h1m11 0h1m-28 1h1m11 0h1m0 0h1m7 0h1m1 0h1m3 0h1m-26 1h1m6 0h1m2 0h1m20 0h1m0 0h1m-21 1h1m0 0h1m1 0h1m4 0h1m6 0h1m0 0h1m-25 1h1m2 0h1m0 0h1m9 0h1m4 0h1m3 0h1m-26 1h1m18 0h1m2 0h1m-16 1h1m3 0h1m2 0h1m0 0h1m3 0h1m-14 1h1m4 0h1m4 0h1m5 0h1m0 0h1m-43 1h1m30 0h1m9 0h1m0 0h1m-45 1h1m0 0h1m4 0h1m21 0h1m1 0h1m15 0h1m-40 1h1m25 0h1m7 0h1m-2 1h1m7 0h1m-49 1h1m36 0h1m-28 1h1m13 0h1m5 0h1m15 0h1m-42 1h1m31 0h1m2 0h1m7 0h1m-45 1h1m10 0h1m14 0h1m3 0h1m8 0h1m0 0h1m-43 1h1m2 0h1m7 0h1m7 0h1m14 0h1m-29 1h1m-9 1h1m1 0h1m3 0h1m7 0h1m35 0h1m0 0h1m-51 1h1m6 0h1m32 0h1m-39 1h1m0 0h1m9 0h1m8 0h1m-21 1h1m21 0h1m26 0h1m-50 1h1m1 0h1m7 0h1m0 0h1m31 1h1m-45 1h1m14 0h1m25 0h1m7 0h1m-46 2h1m12 0h1m8 0h1m-24 1h1m41 0h1m5 0h1m-43 1h1m15 0h1m24 0h1m3 0h1m-51 1h1m1 0h1m25 0h1m2 0h1m0 0h1m-33 1h1m12 0h1m25 0h1m8 0h1m1 0h1m2 0h1m-47 1h1m32 0h1m9 0h1m-53 1h1m1 0h1m6 0h1m2 0h1m6 0h1m29 0h1m4 0h1m2 0h1m-55 1h1m1 0h1m18 0h1m30 0h1m3 0h1m-55 1h1m6 0h1m29 0h1m0 0h1m17 0h1m-60 1h1m3 0h1m46 0h1m3 0h1m1 0h1m3 0h1m-63 1h1m10 0h1m17 0h1m3 0h1m14 0h1m4 0h1m0 0h1m5 0h1m2 0h1m-62 1h1m15 0h1m18 0h1m0 0h1m17 0h1m5 0h1m-52 1h1m1 0h1m29 0h1m-29 1h1m19 0h1m15 0h1m-51 1h1m7 0h1m11 0h1m9 0h1m13 0h1m7 0h1m16 0h1m2 0h1m-70 1h1m0 0h1m1 0h1m13 0h1m9 0h1m3 0h1m10 0h1m7 0h1m22 0h1m-68 1h1m0 0h1m21 0h1m35 0h1m3 0h1m0 0h1m-73 1h1m4 0h1m9 0h1m4 0h1m2 0h1m25 0h1m5 0h1m0 0h1m0 0h1m3 0h1m6 0h1m9 0h1m-60 1h1m25 0h1m0 0h1m8 0h1m11 0h1m10 0h1m7 0h1m-83 1h1m2 0h1m10 0h1m18 0h1m6 0h1m5 0h1m13 0h1m1 0h1m3 0h1m-65 1h1m0 0h1m32 0h1m5 0h1m9 0h1m9 0h1m1 0h1m16 0h1m-82 1h1m0 0h1m39 0h1m1 0h1m7 0h1m10 0h1m2 0h1m7 0h1m13 0h1m0 0h1m4 0h1m-87 1h1m15 0h1m6 0h1m6 0h1m24 0h1m8 0h1m6 0h1m-74 1h1m8 0h1m33 0h1m-40 1h1m0 0h1m27 0h1m2 0h1m7 0h1m10 0h1m9 0h1m7 0h1m9 0h1m-81 1h1m1 0h1m21 0h1m6 0h1m9 0h1m5 0h1m15 0h1m2 0h1m16 0h1m2 0h1m-84 1h1m18 0h1m4 0h1m0 0h1m1 0h1m5 0h1m15 0h1m3 0h1m0 0h1m9 0h1m2 0h1m5 0h1m4 0h1m-84 1h1m0 0h1m30 0h1m42 0h1m1 0h1m1 0h1m-82 1h1m3 0h1m43 0h1m12 0h1m17 0h1m2 0h1m5 0h1m-89 1h1m0 0h1m2 0h1m23 0h1m7 0h1m1 0h1m1 0h1m7 0h1m10 0h1m29 0h1m-88 1h1m0 0h1m0 0h1m6 0h1m16 0h1m41 0h1m-68 1h1m5 0h1m12 0h1m11 0h1m-31 1h1m31 0h1m1 0h1m2 0h1m17 0h1m24 0h1m4 0h1m0 0h1m-86 1h1m6 0h1m2 0h1m2 0h1m14 0h1m2 0h1m50 0h1m3 0h1m-87 1h1m1 0h1m9 0h1m7 0h1m15 0h1m3 0h1m9 0h1m16 0h1m12 0h1m0 0h1m-67 1h1m8 0h1m10 0h1m34 0h1m5 0h1m-70 1h1m41 0h1m17 0h1m9 0h1m-62 1h1m16 0h1m9 0h1m2 0h1m38 0h1m-81 1h1m25 0h1m12 0h1m2 0h1m17 0h1m14 0h1m-70 1h1m2 0h1m19 0h1m28 0h1m3 0h1m2 0h1m7 0h1m0 0h1m-62 1h1m17 0h1m0 0h1m0 0h1m0 0h1m26 0h1m9 0h1m-43 1h1m27 0h1m-45 1h1m2 0h1m8 0h1m44 0h1m-33 1h1m18 0h1m1 0h1m9 0h1m-14 1h1m13 0h1m-56 1h1m15 0h1m22 0h1m2 0h1m1 0h1m9 0h1m-47 1h1m29 0h1m3 0h1m7 0h1m-20 1h1m8 0h1m-2 1h1m3 0h1m7 0h1m-33 1h1m3 0h1m4 0h1m1 0h1m1 0h1m2 0h1m5 0h1m2 0h1m3 0h1m0 0h1m0 0h1m-41 1h1m7 0h1m22 0h1m-12 1h1m2 0h1m2 0h1m-12 1h1m0 0h1m0 0h1m2 0h1m4 0h1" stroke="#030370" stroke-width="1" fill="none"/><path d="M348 848h1m24 5h1m7 0h1m-47 1h1m0 0h1m0 2h1m40 1h1m-47 1h1m48 0h1m-49 1h1m42 0h1m4 0h1m-39 1h1m-12 1h1m46 0h1m-52 1h1m49 0h1m0 0h1m1 1h1m-54 1h1m2 0h1m45 0h1m-51 1h1m1 0h1m17 0h1m28 0h1m-50 2h1m-2 1h1m0 0h1m0 1h1m3 0h1m39 0h1m-12 1h1m16 0h1m-52 1h1m46 0h1m2 0h1m-53 1h1m8 0h1m2 0h1m33 0h1m-47 1h1m26 0h1m-15 1h1m2 0h1m-13 1h1m19 0h1m-27 1h1m15 0h1m25 0h1m-33 1h1m3 0h1m0 0h1m11 0h1m13 0h1m-42 1h1m15 0h1m20 0h1m11 0h1m-49 1h1m20 0h1m19 1h1m-21 1h1m1 0h1m3 0h1m13 0h1m0 0h1m-20 1h1m1 0h1m-23 1h1m25 0h1m7 0h1m6 0h1m-13 1h1m0 0h1m3 0h1m-25 1h1m26 0h1m-4 1h1m6 0h1m0 0h1m-24 1h1m4 0h1m1 0h1m10 0h1m-40 1h1m33 0h1m8 0h1m-34 1h1m0 0h1m13 0h1m14 0h1m0 0h1m-13 1h1m3 0h1m9 0h1m-10 1h1m3 0h1m2 0h1m-4 1h1m-42 1h1m43 1h1m-20 1h1m7 0h1m-2 1h1m7 1h1m-10 1h1m5 0h1m6 0h1m-7 1h1m3 0h1m-19 1h1m16 2h1m-36 1h1m-10 1h1m-1 1h1m44 1h1m-46 5h1m1 1h1m-2 1h1m1 0h1m45 0h1m1 0h1m-31 1h1m2 0h1m17 0h1m-44 1h1m53 1h1m-33 2h1m27 0h1m-50 1h1m54 0h1m-48 1h1m-7 1h1m1 0h1m54 0h1m-57 1h1m7 1h1m40 0h1m5 0h1m1 0h1m-48 2h1m44 0h1m1 1h1m7 0h1m-5 1h1m1 0h1m0 1h1m-56 1h1m43 0h1m8 0h1m2 0h1m0 0h1m-63 1h1m60 0h1m-40 1h1m28 0h1m5 0h1m1 0h1m4 0h1m2 0h1m-15 1h1m17 0h1m3 0h1m-34 1h1m-39 1h1m83 0h1m-31 1h1m14 0h1m2 0h1m1 0h1m7 0h1m-85 1h1m51 3h1m27 0h1m4 2h1m2 0h1m-60 1h1m46 0h1m-75 1h1m0 0h1m5 1h1m21 0h1m37 0h1m27 0h1m-63 2h1m9 1h1m39 0h1m0 0h1m1 0h1m8 0h1m-80 1h1m28 0h1m47 0h1m-88 1h1m43 0h1m40 0h1m-2 1h1m1 0h1m-11 1h1m11 0h1m-16 1h1m0 0h1m0 0h1m8 0h1m-9 1h1m1 2h1m-31 1h1m33 0h1m-44 1h1m28 0h1m0 0h1m2 0h1m1 0h1m4 0h1m0 0h1m0 0h1m0 0h1m-62 1h1m29 0h1m11 0h1m8 0h1m-4 1h1m2 0h1m1 0h1m-45 1h1m48 0h1m1 0h1m-55 1h1m2 0h1m5 0h1m24 0h1m14 1h1m-40 1h1m30 0h1m-12 2h1m9 0h1m-12 1h1m-15 1h1m21 0h1m-20 1h1m3 0h1" stroke="#0a0a92" stroke-width="1" fill="none"/><path d="M378 853h1m-4 15h1m-51 2h1m49 1h1m0 0h1m-4 1h1m-51 1h1m47 1h1m-48 2h1m1 3h1m2 0h1m25 6h1m4 0h1m-15 3h1m7 3h1m-13 1h1m7 0h1m3 0h1m2 0h1m9 4h1m-1 2h1m-17 6h1m-34 9h1m2 1h1m3 11h1m54 1h1m-2 1h1m7 1h1m-9 1h1m12 0h1m1 1h1m-5 2h1m-64 2h1m66 2h1m-23 8h1m-16 2h1m58 5h1m0 1h1m3 0h1m-2 1h1m-78 1h1m75 0h1m1 0h1m-4 1h1m2 0h1m0 0h1m-12 3h1m4 0h1m0 0h1m-4 2h1m-12 1h1m1 2h1m0 0h1m3 0h1m1 0h1m-10 1h1m-8 2h1m7 0h1" stroke="#1414b8" stroke-width="1" fill="none"/></g>
<use href="#g1" x="140" style="mix-blend-mode:screen"/>
<use href="#r1" x="279" style="mix-blend-mode:screen"/>
<use href="#r1b" x="279" opacity="0.9"/>
<use href="#g2" x="140" style="mix-blend-mode:screen"/>
<use href="#r2" x="280" style="mix-blend-mode:screen"/>
<line x1="256.4" y1="833.2" x2="359.6" y2="833.2" stroke="#b00000" stroke-width="1" />
<line x1="256.6" y1="831" x2="256.6" y2="833.6" stroke="#b00000" stroke-width="0.8" />
<line x1="277.18" y1="831" x2="277.18" y2="833.6" stroke="#b00000" stroke-width="0.8" />
<line x1="297.76" y1="831" x2="297.76" y2="833.6" stroke="#b00000" stroke-width="0.8" />
<line x1="318.34" y1="831" x2="318.34" y2="833.6" stroke="#b00000" stroke-width="0.8" />
<line x1="338.92" y1="831" x2="338.92" y2="833.6" stroke="#b00000" stroke-width="0.8" />
<line x1="359.5" y1="831" x2="359.5" y2="833.6" stroke="#b00000" stroke-width="0.8" />
<text x="308.8" y="842.2" font-size="8.2" text-anchor="middle" fill="#e8e8e8">10µm</text>
</g>
<g id="pi">
<line x1="520" y1="687.5" x2="520" y2="943.4" stroke="#333" stroke-width="0.8" />
<line x1="519.65" y1="943.4" x2="672.8" y2="943.4" stroke="#333" stroke-width="0.8" />
<line x1="516.2" y1="943.4" x2="520" y2="943.4" stroke="#333" stroke-width="0.7" />
<text x="512.6" y="947.5" font-size="11.6" text-anchor="end" fill="#1a1a1a">0.0</text>
<line x1="516.2" y1="892.24" x2="520" y2="892.24" stroke="#333" stroke-width="0.7" />
<text x="512.6" y="896.34" font-size="11.6" text-anchor="end" fill="#1a1a1a">0.2</text>
<line x1="516.2" y1="841.08" x2="520" y2="841.08" stroke="#333" stroke-width="0.7" />
<text x="512.6" y="845.18" font-size="11.6" text-anchor="end" fill="#1a1a1a">0.4</text>
<line x1="516.2" y1="789.92" x2="520" y2="789.92" stroke="#333" stroke-width="0.7" />
<text x="512.6" y="794.02" font-size="11.6" text-anchor="end" fill="#1a1a1a">0.6</text>
<line x1="516.2" y1="738.76" x2="520" y2="738.76" stroke="#333" stroke-width="0.7" />
<text x="512.6" y="742.86" font-size="11.6" text-anchor="end" fill="#1a1a1a">0.8</text>
<line x1="516.2" y1="687.6" x2="520" y2="687.6" stroke="#333" stroke-width="0.7" />
<text x="512.6" y="691.7" font-size="11.6" text-anchor="end" fill="#1a1a1a">1.0</text>
<text x="483.9" y="815.5" font-size="14" font-weight="bold" text-anchor="middle" transform="rotate(-90 483.9 815.5)">Mander's overlap coefficient <tspan font-weight="normal">(MOC)</tspan></text>
<line x1="561.55" y1="738.25" x2="561.55" y2="747.71" stroke="#333" stroke-width="0.7" /><line x1="557.55" y1="738.25" x2="565.55" y2="738.25" stroke="#333" stroke-width="0.7" />
<rect x="540.4" y="747.71" width="42.3" height="195.69" fill="#808080" stroke="#333" stroke-width="0.6"/>
<line x1="630.9" y1="729.04" x2="630.9" y2="736.71" stroke="#333" stroke-width="0.7" /><line x1="626.9" y1="729.04" x2="634.9" y2="729.04" stroke="#333" stroke-width="0.7" />
<rect x="609.9" y="736.71" width="42" height="206.69" fill="#000" stroke="#000" stroke-width="0.6"/>
<text x="559.4" y="963.6" font-size="13.4" font-weight="bold" text-anchor="middle">α-syn</text>
<text x="630.9" y="963.6" font-size="13.5" font-weight="bold" text-anchor="middle">tau</text>
</g>
<g id="letters">
<text transform="translate(-0.3 7.6) scale(1.3 1)" font-size="13" font-weight="bold" fill="#000" stroke="#000" stroke-width="0.8" stroke-linejoin="round">a</text>
<text transform="translate(0.8 78.5) scale(1.3 1)" font-size="11" font-weight="bold" fill="#000" stroke="#000" stroke-width="0.8" stroke-linejoin="round">b</text>
<text transform="translate(1 150.4) scale(1.3 1)" font-size="12.5" font-weight="bold" fill="#000" stroke="#000" stroke-width="0.8" stroke-linejoin="round">c</text>
<text transform="translate(381.2 21) scale(1.25 1)" font-size="14" font-weight="bold" fill="#000" stroke="#000" stroke-width="0.8" stroke-linejoin="round">d</text>
<text transform="translate(2 246.2) scale(1.15 1)" font-size="18.2" font-weight="bold" fill="#000" stroke="#000" stroke-width="0.8" stroke-linejoin="round">e</text>
<text transform="translate(260.6 256.3) scale(1.3 1)" font-size="15.5" font-weight="bold" fill="#000" stroke="#000" stroke-width="0.8" stroke-linejoin="round">f</text>
<text transform="translate(151.2 410.6) scale(1.22 1)" font-size="15.5" font-weight="bold" fill="#000" stroke="#000" stroke-width="0.8" stroke-linejoin="round">g</text>
<text transform="translate(6.3 676.7) scale(1.25 1)" font-size="22.5" font-weight="bold" fill="#000" stroke="#000" stroke-width="1" stroke-linejoin="round">h</text>
<text transform="translate(476 687) scale(1.3 1)" font-size="22" font-weight="bold" fill="#000" stroke="#000" stroke-width="0.9" stroke-linejoin="round">i</text>
</g>
</svg></body></html>
